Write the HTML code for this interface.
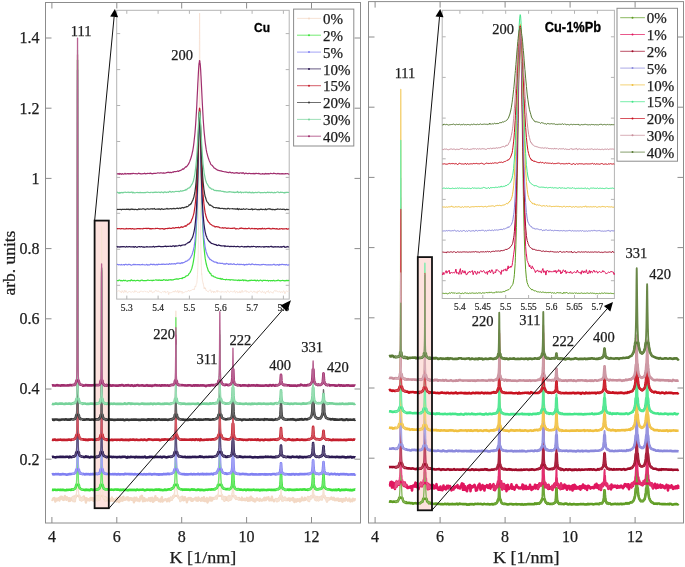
<!DOCTYPE html><html><head><meta charset="utf-8"><style>html,body{margin:0;padding:0;background:#fff;}svg{display:block;will-change:transform}</style></head><body>
<svg width="685" height="567" viewBox="0 0 685 567" font-family="Liberation Serif, serif">
<rect width="685" height="567" fill="#fff"/>
<rect x="94.6" y="220.6" width="14.2" height="287.6" fill="#fde2de"/>
<rect x="417.8" y="257.1" width="14.2" height="253.2" fill="#fde2de"/>
<rect x="45.5" y="2.5" width="315.0" height="520.5" fill="none" stroke="#8c8c8c" stroke-width="1"/>
<line x1="51.9" y1="523" x2="51.9" y2="517" stroke="#8c8c8c" stroke-width="1"/>
<line x1="51.9" y1="2.5" x2="51.9" y2="8.5" stroke="#8c8c8c" stroke-width="1"/>
<line x1="116.8" y1="523" x2="116.8" y2="517" stroke="#8c8c8c" stroke-width="1"/>
<line x1="116.8" y1="2.5" x2="116.8" y2="8.5" stroke="#8c8c8c" stroke-width="1"/>
<line x1="181.7" y1="523" x2="181.7" y2="517" stroke="#8c8c8c" stroke-width="1"/>
<line x1="181.7" y1="2.5" x2="181.7" y2="8.5" stroke="#8c8c8c" stroke-width="1"/>
<line x1="246.6" y1="523" x2="246.6" y2="517" stroke="#8c8c8c" stroke-width="1"/>
<line x1="246.6" y1="2.5" x2="246.6" y2="8.5" stroke="#8c8c8c" stroke-width="1"/>
<line x1="311.5" y1="523" x2="311.5" y2="517" stroke="#8c8c8c" stroke-width="1"/>
<line x1="311.5" y1="2.5" x2="311.5" y2="8.5" stroke="#8c8c8c" stroke-width="1"/>
<line x1="45.5" y1="38.0" x2="51.5" y2="38.0" stroke="#8c8c8c" stroke-width="1"/>
<line x1="360.5" y1="38.0" x2="354.5" y2="38.0" stroke="#8c8c8c" stroke-width="1"/>
<line x1="45.5" y1="108.2" x2="51.5" y2="108.2" stroke="#8c8c8c" stroke-width="1"/>
<line x1="360.5" y1="108.2" x2="354.5" y2="108.2" stroke="#8c8c8c" stroke-width="1"/>
<line x1="45.5" y1="178.4" x2="51.5" y2="178.4" stroke="#8c8c8c" stroke-width="1"/>
<line x1="360.5" y1="178.4" x2="354.5" y2="178.4" stroke="#8c8c8c" stroke-width="1"/>
<line x1="45.5" y1="248.6" x2="51.5" y2="248.6" stroke="#8c8c8c" stroke-width="1"/>
<line x1="360.5" y1="248.6" x2="354.5" y2="248.6" stroke="#8c8c8c" stroke-width="1"/>
<line x1="45.5" y1="318.8" x2="51.5" y2="318.8" stroke="#8c8c8c" stroke-width="1"/>
<line x1="360.5" y1="318.8" x2="354.5" y2="318.8" stroke="#8c8c8c" stroke-width="1"/>
<line x1="45.5" y1="389.0" x2="51.5" y2="389.0" stroke="#8c8c8c" stroke-width="1"/>
<line x1="360.5" y1="389.0" x2="354.5" y2="389.0" stroke="#8c8c8c" stroke-width="1"/>
<line x1="45.5" y1="459.2" x2="51.5" y2="459.2" stroke="#8c8c8c" stroke-width="1"/>
<line x1="360.5" y1="459.2" x2="354.5" y2="459.2" stroke="#8c8c8c" stroke-width="1"/>
<rect x="368.5" y="1.6" width="315.0" height="521.4" fill="none" stroke="#8c8c8c" stroke-width="1"/>
<line x1="375.1" y1="523" x2="375.1" y2="517" stroke="#8c8c8c" stroke-width="1"/>
<line x1="375.1" y1="1.6" x2="375.1" y2="7.6" stroke="#8c8c8c" stroke-width="1"/>
<line x1="440.1" y1="523" x2="440.1" y2="517" stroke="#8c8c8c" stroke-width="1"/>
<line x1="440.1" y1="1.6" x2="440.1" y2="7.6" stroke="#8c8c8c" stroke-width="1"/>
<line x1="505.1" y1="523" x2="505.1" y2="517" stroke="#8c8c8c" stroke-width="1"/>
<line x1="505.1" y1="1.6" x2="505.1" y2="7.6" stroke="#8c8c8c" stroke-width="1"/>
<line x1="570.1" y1="523" x2="570.1" y2="517" stroke="#8c8c8c" stroke-width="1"/>
<line x1="570.1" y1="1.6" x2="570.1" y2="7.6" stroke="#8c8c8c" stroke-width="1"/>
<line x1="635.1" y1="523" x2="635.1" y2="517" stroke="#8c8c8c" stroke-width="1"/>
<line x1="635.1" y1="1.6" x2="635.1" y2="7.6" stroke="#8c8c8c" stroke-width="1"/>
<line x1="368.5" y1="37.0" x2="374.5" y2="37.0" stroke="#8c8c8c" stroke-width="1"/>
<line x1="683.5" y1="37.0" x2="677.5" y2="37.0" stroke="#8c8c8c" stroke-width="1"/>
<line x1="368.5" y1="107.2" x2="374.5" y2="107.2" stroke="#8c8c8c" stroke-width="1"/>
<line x1="683.5" y1="107.2" x2="677.5" y2="107.2" stroke="#8c8c8c" stroke-width="1"/>
<line x1="368.5" y1="177.4" x2="374.5" y2="177.4" stroke="#8c8c8c" stroke-width="1"/>
<line x1="683.5" y1="177.4" x2="677.5" y2="177.4" stroke="#8c8c8c" stroke-width="1"/>
<line x1="368.5" y1="247.6" x2="374.5" y2="247.6" stroke="#8c8c8c" stroke-width="1"/>
<line x1="683.5" y1="247.6" x2="677.5" y2="247.6" stroke="#8c8c8c" stroke-width="1"/>
<line x1="368.5" y1="317.8" x2="374.5" y2="317.8" stroke="#8c8c8c" stroke-width="1"/>
<line x1="683.5" y1="317.8" x2="677.5" y2="317.8" stroke="#8c8c8c" stroke-width="1"/>
<line x1="368.5" y1="388.0" x2="374.5" y2="388.0" stroke="#8c8c8c" stroke-width="1"/>
<line x1="683.5" y1="388.0" x2="677.5" y2="388.0" stroke="#8c8c8c" stroke-width="1"/>
<line x1="368.5" y1="458.2" x2="374.5" y2="458.2" stroke="#8c8c8c" stroke-width="1"/>
<line x1="683.5" y1="458.2" x2="677.5" y2="458.2" stroke="#8c8c8c" stroke-width="1"/>
<path d="M51.9 499.58L52.4 500.03L52.9 499.17L53.4 498.25L53.9 498.9L54.4 498.09L54.9 499.67L55.4 501.58L55.9 498.84L56.4 498.65L56.9 500.3L57.4 500.1L57.9 499.73L58.4 498.18L58.9 499.52L59.4 500.6L59.9 497.57L60.4 498.88L60.9 496.74L61.4 497.65L61.9 496.83L62.4 499.21L62.9 497.68L63.4 499.95L63.9 499.78L64.4 499.26L64.9 495.85L65.4 498.74L65.9 499.45L66.4 499.69L66.9 497.26L67.4 498.8L67.9 498.06L68.4 498.3L68.9 501.03L69.4 498.27L69.9 499.39L70.4 500.71L70.9 498.54L71.4 499.19L71.9 499.47L72.4 499.35L72.53 497.45L72.9 499.29L73.4 501.06L73.53 496.79L73.9 500.18L74.4 498.88L74.53 497.69L74.9 501.26L75.03 499.32L75.4 495.98L75.53 497.58L75.9 497.3L75.94 496.05L76.24 495.85L76.4 495.85L76.53 495.85L76.74 495.85L76.9 495.85L76.94 495.85L77.03 495.85L77.14 495.85L77.24 495.85L77.33 495.85L77.39 495.85L77.4 495.85L77.44 495.85L77.49 495.85L77.53 495.85L77.58 495.85L77.64 495.85L77.69 495.85L77.74 495.85L77.83 495.85L77.9 495.85L77.94 495.85L78.03 495.85L78.14 495.85L78.33 495.85L78.4 495.85L78.53 495.85L78.83 495.85L78.9 495.85L79.14 496.04L79.4 495.85L79.53 497.44L79.9 497.41L80.03 499.89L80.4 499.47L80.53 498.58L80.9 499.78L81.4 498.5L81.53 500.55L81.9 499.11L82.4 500.04L82.53 497.37L82.9 499.77L83.4 496.89L83.9 496.43L84.4 498.94L84.9 498.11L85.4 499.66L85.9 502.65L86.4 498.26L86.9 498.56L87.4 499.75L87.9 500.17L88.4 499.22L88.9 499.18L89.4 500.47L89.9 500.21L90.4 498L90.9 499.35L91.4 499.51L91.9 497.96L92.4 499.82L92.9 498.22L93.4 500.8L93.9 499.68L94.4 499.52L94.9 498.53L95.4 499.16L95.9 496.47L96.4 497.64L96.61 499.72L96.9 496.16L97.4 500.26L97.61 496.55L97.9 499.99L98.4 497.52L98.61 499.68L98.9 498.55L99.11 496L99.4 499.54L99.61 499.43L99.9 496.57L100.01 495.88L100.31 495.85L100.4 495.85L100.61 495.85L100.81 495.85L100.9 495.85L101.01 495.85L101.11 495.85L101.21 495.85L101.31 495.85L101.4 495.85L101.41 495.85L101.46 495.85L101.51 495.85L101.56 495.85L101.61 495.85L101.66 495.85L101.71 495.85L101.76 495.85L101.81 495.85L101.9 495.85L101.91 495.85L102.01 495.85L102.11 495.85L102.21 495.85L102.4 495.85L102.41 495.85L102.61 495.85L102.9 495.85L102.91 495.85L103.21 497.29L103.4 496.85L103.61 497.5L103.9 496.85L104.11 498.8L104.4 497.68L104.61 498.39L104.9 497.21L105.4 497.26L105.61 500.88L105.9 498.38L106.4 499.59L106.61 499.17L106.9 498.65L107.4 498.61L107.9 500.23L108.4 498.97L108.9 499.2L109.4 499.47L109.9 501.08L110.4 500.41L110.9 500.01L111.4 498.71L111.9 497.59L112.4 500.82L112.9 500.85L113.4 499.33L113.9 500.27L114.4 500.6L114.9 500.68L115.4 500.8L115.9 498.92L116.4 501.62L116.9 497.84L117.4 500.73L117.9 500.23L118.4 500.75L118.9 502.12L119.4 501.58L119.9 498L120.4 497.26L120.9 500.67L121.4 498.18L121.9 499.55L122.4 500.71L122.9 497.33L123.4 496.7L123.9 499.92L124.4 499.63L124.9 499.24L125.4 499.62L125.9 498.41L126.4 497.53L126.9 499.35L127.4 498.26L127.9 497.36L128.4 500.25L128.9 499.49L129.4 500.12L129.9 498.24L130.4 498.69L130.9 498.23L131.4 498.39L131.9 499.84L132.4 498.53L132.9 500.05L133.4 500.03L133.9 502.28L134.4 497.72L134.9 500.76L135.4 499.46L135.9 499.56L136.4 497.64L136.9 498.96L137.4 500.56L137.9 499.47L138.4 499.68L138.9 499.19L139.4 501.1L139.9 499.55L140.4 496.66L140.9 498.66L141.4 496.97L141.9 495.85L142.4 498.87L142.9 501.33L143.4 499.63L143.9 498.03L144.4 498.33L144.9 501.06L145.4 499.78L145.9 499.63L146.4 499.5L146.9 499.62L147.4 500.62L147.9 500.29L148.4 499.85L148.9 498.2L149.4 500.23L149.9 498.67L150.4 500.99L150.9 497.91L151.4 499.38L151.9 499.55L152.4 497.84L152.9 501.79L153.4 501.45L153.9 498.95L154.4 500.55L154.9 500.04L155.4 496.17L155.9 499.87L156.4 499.47L156.9 499.65L157.4 498.15L157.9 499.19L158.4 499.3L158.9 501.06L159.4 499.96L159.9 499.52L160.4 501.48L160.9 498.8L161.4 499.01L161.9 497.18L162.4 501.5L162.9 500.72L163.4 500.65L163.9 500.33L164.4 499.6L164.9 499.73L165.4 499.12L165.9 499.16L166.4 499.47L166.9 501.3L167.4 500.06L167.9 499.25L168.4 498.56L168.9 498.45L169.4 501.22L169.9 499.77L170.4 499.13L170.86 498.5L170.9 497.53L171.4 498.7L171.86 499.69L171.9 498.08L172.4 497.98L172.86 497.58L172.9 497.96L173.36 495.85L173.4 496.79L173.86 495.85L173.9 496.93L174.26 495.85L174.4 495.85L174.56 495.85L174.86 495.85L174.9 495.85L175.06 495.85L175.26 495.85L175.36 495.85L175.4 495.85L175.46 495.85L175.56 495.85L175.66 495.85L175.71 495.85L175.76 495.85L175.81 495.85L175.86 495.85L175.9 495.85L175.91 495.85L175.96 495.85L176.01 495.85L176.06 495.85L176.16 495.85L176.26 495.85L176.36 495.85L176.4 495.85L176.46 495.85L176.66 495.85L176.86 495.85L176.9 495.85L177.16 495.85L177.4 495.85L177.46 495.85L177.86 496.32L177.9 495.85L178.36 497.43L178.4 497.6L178.86 497.49L178.9 497.85L179.4 498.58L179.86 498.48L179.9 499.23L180.4 501.13L180.86 499.67L180.9 499.02L181.4 496.96L181.9 499.62L182.4 496.79L182.9 497.51L183.4 500.35L183.9 500.2L184.4 499.17L184.9 497.27L185.4 498.94L185.9 498.58L186.4 500.21L186.9 502.22L187.4 499.72L187.9 498.5L188.4 498.03L188.9 499.41L189.4 499.26L189.9 498.08L190.4 499.63L190.9 498.09L191.4 500.86L191.9 500.8L192.4 500.83L192.9 498.93L193.4 500.14L193.9 499.35L194.4 499.04L194.9 499.1L195.4 497.94L195.9 497.76L196.4 500.48L196.9 499.28L197.4 499.78L197.9 500.72L198.4 497.42L198.9 498.57L199.4 499.72L199.9 499.98L200.4 499.05L200.9 500.74L201.4 499.76L201.9 498.04L202.4 498.38L202.9 500.46L203.4 500.05L203.9 497.21L204.4 501.09L204.9 500.19L205.4 501.07L205.9 499.01L206.4 499.1L206.9 498.11L207.4 502.45L207.9 499.22L208.4 501.3L208.9 498.63L209.4 499.58L209.9 497.38L210.4 498.89L210.9 500.48L211.4 497.81L211.9 500.51L212.4 499.6L212.9 497.92L213.4 498.49L213.9 498.46L214.4 498.83L214.83 498.15L214.9 497.78L215.4 498.21L215.83 497.15L215.9 496.8L216.4 497.89L216.83 498.53L216.9 495.85L217.33 496.69L217.4 495.85L217.83 495.85L217.9 496.06L218.23 495.85L218.4 495.85L218.53 495.85L218.83 495.85L218.9 495.85L219.03 495.85L219.23 495.85L219.33 495.85L219.4 495.85L219.43 495.85L219.53 495.85L219.63 495.85L219.68 495.85L219.73 495.85L219.78 495.85L219.83 495.85L219.88 495.85L219.9 495.85L219.93 495.85L219.98 495.85L220.03 495.85L220.13 495.85L220.23 495.85L220.33 495.85L220.4 495.85L220.43 495.85L220.63 495.85L220.83 495.85L220.9 495.85L221.13 495.85L221.4 495.85L221.43 495.85L221.83 495.85L221.9 495.85L222.33 495.85L222.4 498.95L222.83 497.08L222.9 497.82L223.4 497.98L223.83 498.48L223.9 498.39L224.4 500.75L224.83 497.49L224.9 496.91L225.4 497.65L225.9 497.36L226.4 499.81L226.9 499.93L227.4 497.89L227.9 497.39L227.97 498.58L228.4 500.55L228.9 495.85L228.97 499.49L229.4 497.57L229.9 499.83L229.97 497.38L230.4 498.06L230.47 496.62L230.9 496.83L230.97 499.45L231.37 498.16L231.4 496.7L231.67 495.85L231.9 495.85L231.97 495.85L232.17 495.85L232.37 495.85L232.4 495.85L232.47 495.85L232.57 495.85L232.67 495.85L232.77 495.85L232.82 495.85L232.87 495.85L232.9 495.85L232.92 495.85L232.97 495.85L233.02 495.85L233.07 495.85L233.12 495.85L233.17 495.85L233.27 495.85L233.37 495.85L233.4 495.85L233.47 495.85L233.57 495.85L233.77 495.85L233.9 495.85L233.97 495.85L234.27 496.47L234.4 495.85L234.57 497.35L234.9 496.32L234.97 497.24L235.4 498.04L235.47 496.08L235.9 498.8L235.97 498.9L236.4 498.72L236.9 498.56L236.97 498.64L237.4 498.04L237.9 498.91L237.97 498.6L238.4 499.38L238.9 497.96L239.4 499.62L239.9 499.54L240.4 499.24L240.9 498.93L241.4 500.06L241.9 497.59L242.4 499.98L242.9 499.74L243.4 499.8L243.9 499.92L244.4 498.77L244.9 499.21L245.4 500.22L245.9 499.99L246.4 499.75L246.9 497.84L247.4 500.12L247.9 500.82L248.4 500.65L248.9 499.79L249.4 497.81L249.9 500.58L250.4 499.38L250.9 496.75L251.4 499.96L251.9 497.9L252.4 498.12L252.9 498.85L253.4 500.95L253.9 499.14L254.4 499.85L254.9 501.47L255.4 501.3L255.9 499.44L256.4 499.29L256.9 498.18L257.4 498.8L257.9 500.02L258.4 499.99L258.9 499.68L259.4 500.64L259.9 498.72L260.4 499.5L260.9 500.35L261.4 500.19L261.9 500.72L262.4 499.99L262.9 499.23L263.4 499.95L263.9 498.48L264.4 497.79L264.9 500.18L265.4 499.5L265.9 499.89L266.4 497.74L266.9 499.16L267.4 498.91L267.9 498.63L268.4 497.14L268.9 499.19L269.4 500.5L269.9 499.95L270.4 498.9L270.9 499.52L271.4 500.33L271.9 496.6L272.4 499.39L272.9 500.09L273.4 500.23L273.9 501.29L274.4 500.68L274.9 499.8L275.4 499.77L275.9 500.25L276 498.85L276.4 499.35L276.9 500.3L277 501.39L277.4 499.12L277.9 499.16L278 499.4L278.4 500.5L278.5 499.03L278.9 500.45L279 497.86L279.4 498.42L279.4 498.41L279.7 499.15L279.9 499.13L280 496.27L280.2 496.37L280.4 496.79L280.4 495.85L280.5 495.85L280.6 495.96L280.7 495.85L280.8 495.85L280.85 495.85L280.9 495.85L280.9 495.85L280.95 495.85L281 495.85L281.05 495.85L281.1 495.85L281.15 495.85L281.2 495.85L281.3 495.85L281.4 495.85L281.4 495.85L281.5 495.85L281.6 497.39L281.8 496.66L281.9 497.17L282 499.11L282.3 500.65L282.4 500.52L282.6 498.68L282.9 499.04L283 500.46L283.4 498.9L283.5 498.05L283.9 499.29L284 499.66L284.4 498.4L284.9 497.62L285 497.85L285.4 500.06L285.9 498.63L286 499.27L286.4 499.65L286.9 500.09L287.4 499.13L287.9 500L288.4 498.58L288.9 499.13L289.4 498.46L289.9 500.67L290.4 499.49L290.9 498.77L291.4 499.17L291.9 499.3L292.4 500.25L292.9 497.91L293.4 498.48L293.9 499.15L294.4 502.11L294.9 500.5L295.4 499.42L295.9 500.26L296.4 501.61L296.9 499.3L297.4 499.16L297.9 500.75L298.4 500.03L298.9 500.2L299.4 499.01L299.9 501.45L300.4 501.23L300.9 500.08L301.4 500.19L301.9 497.47L302.4 500.13L302.9 499.29L303.4 499.91L303.9 500.15L304.4 499.12L304.9 497.76L305.4 499.79L305.9 498.67L306.4 499.06L306.9 498.75L307.4 498.98L307.9 496.99L308.12 500.45L308.4 499.46L308.9 500.23L309.12 501.04L309.4 499.05L309.9 497.11L310.12 497.93L310.4 497.5L310.62 498.07L310.9 498.46L311.12 496.22L311.4 498.22L311.52 496.24L311.82 497.46L311.9 496.87L312.12 495.96L312.32 495.85L312.4 495.85L312.52 495.85L312.62 495.85L312.72 495.85L312.82 495.85L312.9 495.85L312.92 495.85L312.97 495.85L313.02 495.85L313.07 495.85L313.12 495.85L313.17 495.85L313.22 495.85L313.27 495.85L313.32 495.85L313.4 495.85L313.42 495.85L313.52 495.85L313.62 495.85L313.72 495.85L313.9 495.85L313.92 495.85L314.12 496.94L314.4 496L314.42 496.94L314.72 498.57L314.9 498.17L315.12 498.26L315.4 499.87L315.62 497.84L315.9 498.72L316.12 498.22L316.4 500.26L316.9 497.03L317.12 498.32L317.4 498.49L317.9 499.69L318.12 499.64L318.4 500.41L318.51 497.54L318.9 499.78L319.4 498.74L319.51 498.37L319.9 499.49L320.4 497.98L320.51 496.84L320.9 498.35L321.01 497.23L321.4 497.84L321.51 498.75L321.9 498.34L321.91 499.55L322.21 497.41L322.4 495.85L322.51 496.18L322.71 495.85L322.9 495.85L322.91 495.85L323.01 495.85L323.11 495.85L323.21 495.85L323.31 495.85L323.36 495.85L323.4 495.85L323.41 495.85L323.46 495.85L323.51 495.85L323.56 495.85L323.61 495.85L323.66 495.85L323.71 495.85L323.81 495.85L323.9 495.85L323.91 495.85L324.01 495.85L324.11 496.42L324.31 496.24L324.4 495.85L324.51 495.85L324.81 497.37L324.9 497.71L325.11 497.39L325.4 498.46L325.51 497.84L325.9 499.22L326.01 498.06L326.4 498.87L326.51 499.87L326.9 501.5L327.4 498.2L327.51 498.73L327.9 498.44L328.4 500.03L328.51 498.22L328.9 498.88L329.4 499.34L329.9 498.48L330.4 498.52L330.9 499L331.4 497.48L331.9 498.11L332.4 499.1L332.9 499.63L333.4 499.33L333.9 497.85L334.4 499.08L334.9 500.27L335.4 500.05L335.9 499.46L336.4 498.71L336.9 500.13L337.4 499.01L337.9 498.46L338.4 498.81L338.9 500.89L339.4 499.76L339.9 500.63L340.4 499.12L340.9 500.43L341.4 499.01L341.9 499.42L342.4 501.85L342.9 500.27L343.4 499.11L343.9 499.49L344.4 499.87L344.9 500.68L345.4 499.13L345.9 497.99L346.4 499.32L346.9 499.59L347.4 499.68L347.9 500.77L348.4 499.87L348.9 500.32L349.4 498.58L349.9 500.36L350.4 501.47L350.9 500.28L351.4 499.81L351.9 499.72L352.4 501.19L352.9 498.75L353.4 499.48L353.9 500L354.4 500.25L354.9 499.19L355.2 499.86" fill="none" stroke="#f3d8c4" stroke-width="2.4" stroke-linejoin="round"/>
<path d="M169.9 499.77L170.4 499.13L170.86 498.5L170.9 497.53L171.4 498.7L171.86 499.69L171.9 498.08L172.4 497.98L172.86 497.58L172.9 497.96L173.36 495.16L173.4 496.79L173.86 494.88L173.9 496.93L174.26 493.25L174.4 494.04L174.56 493.91L174.86 487.68L174.9 486.55L175.06 483.66L175.26 474.93L175.36 466.34L175.4 464.07L175.46 458.5L175.56 435.99L175.66 401.46L175.71 375.37L175.76 348.52L175.81 321.4L175.86 311.1L175.9 321.27L175.91 321.83L175.96 349.48L176.01 378.59L176.06 402.04L176.16 437L176.26 458.41L176.36 467.34L176.4 470.23L176.46 473.24L176.66 483.48L176.86 489.92L176.9 489.97L177.16 490.82L177.4 492.8L177.46 493.59L177.86 496.32L177.9 495.82L178.36 497.43L178.4 497.6L178.86 497.49L178.9 497.85L179.4 498.58L179.86 498.48L179.9 499.23L180.4 501.13L180.86 499.67L180.9 499.02L181.4 496.96M213.9 498.46L214.4 498.83L214.83 498.15L214.9 497.78L215.4 498.21L215.83 497.15L215.9 496.8L216.4 497.89L216.83 498.53L216.9 495.61L217.33 496.69L217.4 495.78L217.83 494.18L217.9 496.06L218.23 492.83L218.4 493.98L218.53 490.17L218.83 487.47L218.9 485.35L219.03 481.43L219.23 474.53L219.33 466.5L219.4 460.12L219.43 455.67L219.53 437.02L219.63 410.68L219.68 393.23L219.73 376.14L219.78 359.5L219.83 354.9L219.88 358.66L219.9 366.74L219.93 373.94L219.98 391.24L220.03 410.9L220.13 439.67L220.23 454.01L220.33 465.45L220.4 471.21L220.43 472.55L220.63 482.76L220.83 486.08L220.9 487.37L221.13 491.74L221.4 492.36L221.43 493.92L221.83 494.17L221.9 494.14L222.33 494.53L222.4 498.95L222.83 497.08L222.9 497.82L223.4 497.98L223.83 498.48L223.9 498.39L224.4 500.75L224.83 497.49L224.9 496.91L225.4 497.65M227.4 497.89L227.9 497.39L227.97 498.58L228.4 500.55L228.9 495.67L228.97 499.49L229.4 497.57L229.9 499.83L229.97 497.38L230.4 498.06L230.47 496.62L230.9 496.83L230.97 499.45L231.37 498.16L231.4 496.7L231.67 495.44L231.9 493.34L231.97 494.66L232.17 493.59L232.37 490.91L232.4 490.35L232.47 487.57L232.57 485.54L232.67 480.6L232.77 474.69L232.82 470.83L232.87 464.08L232.9 461.16L232.92 460.72L232.97 458.78L233.02 459.95L233.07 464.17L233.12 467.52L233.17 473.92L233.27 480.54L233.37 485.91L233.4 486.5L233.47 488.03L233.57 489.95L233.77 493.38L233.9 494.07L233.97 495.41L234.27 496.47L234.4 495.32L234.57 497.35L234.9 496.32L234.97 497.24L235.4 498.04L235.47 496.08L235.9 498.8L235.97 498.9L236.4 498.72L236.9 498.56L236.97 498.64L237.4 498.04L237.9 498.91L237.97 498.6L238.4 499.38L238.9 497.96M275.4 499.77L275.9 500.25L276 498.85L276.4 499.35L276.9 500.3L277 501.39L277.4 499.12L277.9 499.16L278 499.4L278.4 500.5L278.5 499.03L278.9 500.45L279 497.86L279.4 498.42L279.4 498.41L279.7 499.15L279.9 499.13L280 496.27L280.2 496.37L280.4 496.79L280.4 495.74L280.5 494.18L280.6 495.96L280.7 494.22L280.8 492.86L280.85 491.18L280.9 492.18L280.9 490.82L280.95 491.86L281 489.63L281.05 489.83L281.1 491.32L281.15 490.94L281.2 493.05L281.3 493.98L281.4 493.91L281.4 494.98L281.5 495.4L281.6 497.39L281.8 496.66L281.9 497.17L282 499.11L282.3 500.65L282.4 500.52L282.6 498.68L282.9 499.04L283 500.46L283.4 498.9L283.5 498.05L283.9 499.29L284 499.66L284.4 498.4L284.9 497.62L285 497.85L285.4 500.06L285.9 498.63L286 499.27L286.4 499.65L286.9 500.09M307.4 498.98L307.9 496.99L308.12 500.45L308.4 499.46L308.9 500.23L309.12 501.04L309.4 499.05L309.9 497.11L310.12 497.93L310.4 497.5L310.62 498.07L310.9 498.46L311.12 496.22L311.4 498.22L311.52 496.24L311.82 497.46L311.9 496.87L312.12 495.96L312.32 495.21L312.4 494.21L312.52 493.04L312.62 490.75L312.72 490.75L312.82 490.57L312.9 488.89L312.92 487.71L312.97 485.99L313.02 483.72L313.07 485.16L313.12 483.47L313.17 483.69L313.22 484.1L313.27 485.39L313.32 485.98L313.4 488.15L313.42 487.69L313.52 490.41L313.62 494.63L313.72 493.56L313.9 494.88L313.92 495.78L314.12 496.94L314.4 496L314.42 496.94L314.72 498.57L314.9 498.17L315.12 498.26L315.4 499.87L315.62 497.84L315.9 498.72L316.12 498.22L316.4 500.26L316.9 497.03L317.12 498.32L317.4 498.49L317.9 499.69L318.12 499.64L318.4 500.41L318.51 497.54L318.9 499.78M317.9 499.69L318.12 499.64L318.4 500.41L318.51 497.54L318.9 499.78L319.4 498.74L319.51 498.37L319.9 499.49L320.4 497.98L320.51 496.84L320.9 498.35L321.01 497.23L321.4 497.84L321.51 498.75L321.9 498.34L321.91 499.55L322.21 497.41L322.4 495.73L322.51 496.18L322.71 495.24L322.9 493.73L322.91 495.27L323.01 493.29L323.11 490.8L323.21 491.86L323.31 489.42L323.36 489.09L323.4 488.27L323.41 488.71L323.46 487.71L323.51 488.7L323.56 488.07L323.61 488.47L323.66 489.13L323.71 488.12L323.81 491.03L323.9 492.36L323.91 492.89L324.01 492.61L324.11 496.42L324.31 496.24L324.4 495.4L324.51 495.3L324.81 497.37L324.9 497.71L325.11 497.39L325.4 498.46L325.51 497.84L325.9 499.22L326.01 498.06L326.4 498.87L326.51 499.87L326.9 501.5L327.4 498.2L327.51 498.73L327.9 498.44L328.4 500.03L328.51 498.22L328.9 498.88L329.4 499.34" fill="none" stroke="#f6e2d3" stroke-width="1.35" stroke-linejoin="round"/>
<path d="M71.9 499.47L72.4 499.35L72.53 497.45L72.9 499.29L73.4 501.06L73.53 496.79L73.9 500.18L74.4 498.88L74.53 497.69L74.9 501.26L75.03 499.32L75.4 495.98L75.53 497.58L75.9 497.3L75.94 496.05L76.24 495.74L76.4 493.26L76.53 492.69L76.74 489.87L76.9 480.92L76.94 480.31L77.03 472.26L77.14 461.03L77.24 435.78L77.33 385.51L77.39 335.58L77.4 316.65L77.44 255.4L77.49 146.49L77.53 88.84L77.58 149.34L77.64 250.85L77.69 335.19L77.74 386.21L77.83 439.32L77.9 455.34L77.94 460.37L78.03 472.3L78.14 479.65L78.33 489.99L78.4 488.71L78.53 491.27L78.83 495.26L78.9 495L79.14 496.04L79.4 495.54L79.53 497.44L79.9 497.41L80.03 499.89L80.4 499.47L80.53 498.58L80.9 499.78L81.4 498.5L81.53 500.55L81.9 499.11L82.4 500.04L82.53 497.37L82.9 499.77L83.4 496.89M95.9 496.47L96.4 497.64L96.61 499.72L96.9 496.16L97.4 500.26L97.61 496.55L97.9 499.99L98.4 497.52L98.61 499.68L98.9 498.55L99.11 496L99.4 499.54L99.61 499.43L99.9 496.57L100.01 495.88L100.31 494.5L100.4 492.71L100.61 493.37L100.81 487.45L100.9 485.73L101.01 480.17L101.11 474.16L101.21 462.91L101.31 447.39L101.4 412.54L101.41 406.89L101.46 369.36L101.51 316.45L101.56 257.52L101.61 226.9L101.66 257.14L101.71 315.95L101.76 368.22L101.81 403.14L101.9 440.65L101.91 447.73L102.01 463.65L102.11 473.5L102.21 481.71L102.4 489.85L102.41 486.16L102.61 491.53L102.9 493.75L102.91 492.26L103.21 497.29L103.4 496.85L103.61 497.5L103.9 496.85L104.11 498.8L104.4 497.68L104.61 498.39L104.9 497.21L105.4 497.26L105.61 500.88L105.9 498.38L106.4 499.59L106.61 499.17L106.9 498.65L107.4 498.61" fill="none" stroke="#f6e2d3" stroke-width="1.3" stroke-linejoin="round"/>
<path d="M51.9 489.83L52.9 489.9L53.9 489.85L54.9 489.65L55.9 489.87L56.9 490.05L57.9 489.68L58.9 489.82L59.9 490L60.9 489.65L61.9 489.89L62.9 489.64L63.9 490.07L64.9 490.3L65.9 490.23L66.9 489.77L67.9 489.94L68.9 489.79L69.9 489.75L70.9 489.99L71.9 489.34L72.53 489.73L72.9 489.45L73.53 489.6L73.9 489.24L74.53 488.75L74.9 488.65L75.03 488.6L75.53 487.67L75.9 486.71L75.94 486.36L76.24 484.9L76.53 484.9L76.74 484.9L76.9 484.9L76.94 484.9L77.03 484.9L77.14 484.9L77.24 484.9L77.33 484.9L77.39 484.9L77.44 484.9L77.49 484.9L77.53 484.9L77.58 484.9L77.64 484.9L77.69 484.9L77.74 484.9L77.83 484.9L77.9 484.9L77.94 484.9L78.03 484.9L78.14 484.9L78.33 484.9L78.53 484.9L78.83 484.9L78.9 485.25L79.14 486.36L79.53 487.56L79.9 488.29L80.03 488.45L80.53 488.76L80.9 488.99L81.53 489.53L81.9 489.44L82.53 489.69L82.9 489.8L83.9 489.76L84.9 490.16L85.9 489.57L86.9 489.92L87.9 489.71L88.9 490.15L89.9 490.12L90.9 489.39L91.9 489.58L92.9 489.89L93.9 489.89L94.9 489.85L95.9 489.63L96.61 489.66L96.9 489.67L97.61 489.4L97.9 489.54L98.61 488.61L98.9 489.01L99.11 488.51L99.61 488.29L99.9 487.45L100.01 487L100.31 485.99L100.61 484.9L100.81 484.9L100.9 484.9L101.01 484.9L101.11 484.9L101.21 484.9L101.31 484.9L101.41 484.9L101.46 484.9L101.51 484.9L101.56 484.9L101.61 484.9L101.66 484.9L101.71 484.9L101.76 484.9L101.81 484.9L101.9 484.9L101.91 484.9L102.01 484.9L102.11 484.9L102.21 484.9L102.41 484.9L102.61 484.9L102.9 485.76L102.91 486.32L103.21 487.25L103.61 488.46L103.9 488.7L104.11 488.59L104.61 488.99L104.9 489.29L105.61 489.43L105.9 489.49L106.61 489.53L106.9 489.26L107.9 489.65L108.9 489.3L109.9 489.85L110.9 489.65L111.9 489.67L112.9 489.78L113.9 489.89L114.9 489.56L115.9 489.5L116.9 489.64L117.9 489.45L118.9 489.67L119.9 490.18L120.9 489.66L121.9 490L122.9 489.6L123.9 489.93L124.9 489.81L125.9 489.86L126.9 489.99L127.9 490.23L128.9 489.91L129.9 489.9L130.9 489.68L131.9 489.99L132.9 489.83L133.9 490.04L134.9 489.87L135.9 490.23L136.9 489.48L137.9 489.82L138.9 490.05L139.9 489.81L140.9 489.72L141.9 489.82L142.9 489.6L143.9 489.9L144.9 490.36L145.9 490.1L146.9 489.65L147.9 489.69L148.9 489.79L149.9 490.07L150.9 489.7L151.9 489.72L152.9 490.04L153.9 490.03L154.9 489.78L155.9 489.63L156.9 489.54L157.9 489.7L158.9 489.39L159.9 489.98L160.9 489.69L161.9 489.91L162.9 490.17L163.9 490.02L164.9 489.53L165.9 489.91L166.9 489.93L167.9 489.5L168.9 489.39L169.9 489.44L170.86 488.97L170.9 489.58L171.86 488.49L171.9 488.73L172.86 488.25L172.9 488.22L173.36 487.69L173.86 486.6L173.9 486.38L174.26 485.18L174.56 484.9L174.86 484.9L174.9 484.9L175.06 484.9L175.26 484.9L175.36 484.9L175.46 484.9L175.56 484.9L175.66 484.9L175.71 484.9L175.76 484.9L175.81 484.9L175.86 484.9L175.9 484.9L175.91 484.9L175.96 484.9L176.01 484.9L176.06 484.9L176.16 484.9L176.26 484.9L176.36 484.9L176.46 484.9L176.66 484.9L176.86 484.9L176.9 484.9L177.16 484.9L177.46 484.9L177.86 486.51L177.9 486.87L178.36 487.73L178.86 488.4L178.9 488.41L179.86 488.98L179.9 488.96L180.86 489.23L180.9 489.45L181.9 489.25L182.9 489.84L183.9 489.65L184.9 489.54L185.9 489.63L186.9 489.61L187.9 489.8L188.9 489.64L189.9 490.02L190.9 489.64L191.9 489.35L192.9 489.67L193.9 489.41L194.9 489.81L195.9 490.03L196.9 489.95L197.9 489.55L198.9 489.66L199.9 490.17L200.9 489.87L201.9 489.8L202.9 490.01L203.9 490.28L204.9 490.04L205.9 489.79L206.9 489.82L207.9 489.85L208.9 489.58L209.9 489.45L210.9 489.63L211.9 489.36L212.9 489.44L213.9 489.32L214.83 489.54L214.9 488.88L215.83 488.63L215.9 488.58L216.83 487.88L216.9 487.91L217.33 486.88L217.83 485.45L217.9 485.02L218.23 484.9L218.53 484.9L218.83 484.9L218.9 484.9L219.03 484.9L219.23 484.9L219.33 484.9L219.43 484.9L219.53 484.9L219.63 484.9L219.68 484.9L219.73 484.9L219.78 484.9L219.83 484.9L219.88 484.9L219.9 484.9L219.93 484.9L219.98 484.9L220.03 484.9L220.13 484.9L220.23 484.9L220.33 484.9L220.43 484.9L220.63 484.9L220.83 484.9L220.9 484.9L221.13 484.9L221.43 484.9L221.83 485.78L221.9 486.07L222.33 487.17L222.83 488.02L222.9 487.8L223.83 488.55L223.9 488.79L224.83 488.71L224.9 489.05L225.9 489.09L226.9 489.21L227.9 488.94L227.97 489.11L228.9 489.19L228.97 489.36L229.9 489.14L229.97 488.9L230.47 488.6L230.9 488.08L230.97 488.24L231.37 487.47L231.67 486.85L231.9 486.15L231.97 485.4L232.17 483.62L232.37 481.13L232.47 478.85L232.57 475.67L232.67 473.9L232.77 473.9L232.82 473.9L232.87 473.9L232.9 473.9L232.92 473.9L232.97 473.9L233.02 473.9L233.07 473.9L233.12 473.9L233.17 473.9L233.27 473.9L233.37 476.16L233.47 479.43L233.57 481.46L233.77 483.64L233.9 484.97L233.97 485.51L234.27 486.7L234.57 487.76L234.9 488.07L234.97 488.05L235.47 489.02L235.9 489.13L235.97 489.07L236.9 489.53L236.97 489.57L237.9 489.58L237.97 489.03L238.9 489.48L239.9 489.59L240.9 489.52L241.9 489.79L242.9 490.01L243.9 489.69L244.9 489.57L245.9 490.22L246.9 489.73L247.9 489.58L248.9 489.88L249.9 489.92L250.9 489.7L251.9 490L252.9 489.75L253.9 489.66L254.9 489.88L255.9 490L256.9 489.72L257.9 489.92L258.9 489.83L259.9 490.42L260.9 489.71L261.9 490.13L262.9 489.84L263.9 489.82L264.9 489.99L265.9 490.02L266.9 490.09L267.9 489.9L268.9 489.71L269.9 489.71L270.9 489.91L271.9 489.91L272.9 490.05L273.9 489.82L274.9 489.9L275.9 489.92L276 489.64L276.9 489.2L277 489.24L277.9 488.98L278 489.55L278.5 488.85L278.9 489.02L279 488.81L279.4 488.62L279.7 487.99L279.9 487.28L280 486.96L280.2 486.13L280.4 484.68L280.5 483.42L280.6 482.03L280.7 480.42L280.8 477.48L280.85 476.76L280.9 475.57L280.9 475.74L280.95 475.27L281 474.86L281.05 475.26L281.1 475.44L281.15 476.93L281.2 477.7L281.3 480.22L281.4 482.07L281.5 483.01L281.6 484.49L281.8 486.16L281.9 486.93L282 487.05L282.3 487.84L282.6 487.99L282.9 488.89L283 489.05L283.5 489.03L283.9 489.15L284 488.91L284.9 489.63L285 490.02L285.9 489.74L286 489.86L286.9 489.78L287.9 489.53L288.9 490.02L289.9 489.53L290.9 489.75L291.9 489.86L292.9 489.98L293.9 489.9L294.9 489.89L295.9 489.66L296.9 489.56L297.9 489.82L298.9 489.67L299.9 489.54L300.9 489.54L301.9 489.68L302.9 489.4L303.9 489.48L304.9 489.39L305.9 489.71L306.9 489.7L307.9 489.92L308.12 489.2L308.9 489.23L309.12 489.5L309.9 489.05L310.12 488.93L310.62 489.07L310.9 488.45L311.12 488.07L311.52 487.51L311.82 487.23L311.9 487.01L312.12 485.87L312.32 484.83L312.52 483.29L312.62 481.91L312.72 479.84L312.82 477.82L312.9 475.77L312.92 474.7L312.97 473.9L313.02 473.9L313.07 473.9L313.12 473.9L313.17 473.9L313.22 473.9L313.27 474.12L313.32 474.61L313.42 478.21L313.52 479.73L313.62 481.98L313.72 483.41L313.9 485.04L313.92 485.04L314.12 485.89L314.42 487.24L314.72 487.58L314.9 487.48L315.12 488.81L315.62 488.79L315.9 489.16L316.12 488.71L316.9 489.42L317.12 489.48L317.9 489.56L318.12 489.26L318.51 489.02L318.9 489.22L319.51 488.75L319.9 488.79L320.51 488.99L320.9 488.61L321.01 488.72L321.51 488.38L321.9 488.35L321.91 488.21L322.21 487.41L322.51 486.78L322.71 485.41L322.9 483.97L322.91 484.15L323.01 482.55L323.11 481.22L323.21 479.14L323.31 477.34L323.36 476.67L323.41 475.39L323.46 475.04L323.51 474.62L323.56 474.76L323.61 475.28L323.66 476.62L323.71 477.78L323.81 479.49L323.9 481.03L323.91 481.42L324.01 482.73L324.11 484.14L324.31 485.64L324.51 486.63L324.81 487.58L324.9 487.54L325.11 487.92L325.51 488.13L325.9 488.69L326.01 488.56L326.51 489.06L326.9 489.03L327.51 489.4L327.9 489.54L328.51 489.25L328.9 489.41L329.9 489.47L330.9 489.86L331.9 490.09L332.9 489.94L333.9 489.72L334.9 490.1L335.9 489.52L336.9 490.13L337.9 489.7L338.9 489.29L339.9 490.38L340.9 490.17L341.9 489.65L342.9 489.89L343.9 489.82L344.9 489.89L345.9 489.57L346.9 489.73L347.9 489.97L348.9 489.92L349.9 490.12L350.9 489.89L351.9 490.35L352.9 489.74L353.9 489.93L354.9 489.5L355.2 489.63" fill="none" stroke="#3ee23c" stroke-width="2.6" stroke-linejoin="round"/>
<path d="M169.9 489.44L170.86 488.97L170.9 489.58L171.86 488.49L171.9 488.73L172.86 488.25L172.9 488.22L173.36 487.69L173.86 486.6L173.9 486.38L174.26 485.18L174.56 482.48L174.86 479.31L174.9 478.46L175.06 475.06L175.26 467.28L175.36 460.3L175.46 449.68L175.56 431.91L175.66 400.04L175.71 376.83L175.76 351.14L175.81 328.07L175.86 317.69L175.9 324.64L175.91 328.11L175.96 350.89L176.01 377.01L176.06 399.92L176.16 431.64L176.26 449.77L176.36 460.37L176.46 467.38L176.66 474.96L176.86 479.22L176.9 479.7L177.16 482.9L177.46 484.78L177.86 486.51L177.9 486.87L178.36 487.73L178.86 488.4L178.9 488.41L179.86 488.98L179.9 488.96L180.86 489.23L180.9 489.45M213.9 489.32L214.83 489.54L214.9 488.88L215.83 488.63L215.9 488.58L216.83 487.88L216.9 487.91L217.33 486.88L217.83 485.45L217.9 485.02L218.23 483.54L218.53 481.46L218.83 477.3L218.9 475.68L219.03 472.5L219.23 464.09L219.33 457.01L219.43 445.81L219.53 428.4L219.63 400.55L219.68 383.01L219.73 365.39L219.78 350.13L219.83 344.87L219.88 350.72L219.9 355.93L219.93 365.07L219.98 383.41L220.03 401.08L220.13 428.54L220.23 445.62L220.33 456.92L220.43 463.94L220.63 472.47L220.83 477.34L220.9 478.61L221.13 481.52L221.43 483.6L221.83 485.78L221.9 486.07L222.33 487.17L222.83 488.02L222.9 487.8L223.83 488.55L223.9 488.79L224.83 488.71L224.9 489.05M227.9 488.94L227.97 489.11L228.9 489.19L228.97 489.36L229.9 489.14L229.97 488.9L230.47 488.6L230.9 488.08L230.97 488.24L231.37 487.47L231.67 486.85L231.9 486.15L231.97 485.4L232.17 483.62L232.37 481.13L232.47 478.85L232.57 475.67L232.67 471.2L232.77 463.57L232.82 458.7L232.87 454.66L232.9 452.59L232.92 451.02L232.97 449.64L233.02 451.02L233.07 454.59L233.12 459.13L233.17 463.77L233.27 471.2L233.37 476.16L233.47 479.43L233.57 481.46L233.77 483.64L233.9 484.97L233.97 485.51L234.27 486.7L234.57 487.76L234.9 488.07L234.97 488.05L235.47 489.02L235.9 489.13L235.97 489.07L236.9 489.53L236.97 489.57L237.9 489.58L237.97 489.03L238.9 489.48M275.9 489.92L276 489.64L276.9 489.2L277 489.24L277.9 488.98L278 489.55L278.5 488.85L278.9 489.02L279 488.81L279.4 488.62L279.7 487.99L279.9 487.28L280 486.96L280.2 486.13L280.4 484.68L280.5 483.42L280.6 482.03L280.7 480.42L280.8 477.48L280.85 476.76L280.9 475.57L280.9 475.74L280.95 475.27L281 474.86L281.05 475.26L281.1 475.44L281.15 476.93L281.2 477.7L281.3 480.22L281.4 482.07L281.5 483.01L281.6 484.49L281.8 486.16L281.9 486.93L282 487.05L282.3 487.84L282.6 487.99L282.9 488.89L283 489.05L283.5 489.03L283.9 489.15L284 488.91L284.9 489.63L285 490.02L285.9 489.74L286 489.86L286.9 489.78M307.9 489.92L308.12 489.2L308.9 489.23L309.12 489.5L309.9 489.05L310.12 488.93L310.62 489.07L310.9 488.45L311.12 488.07L311.52 487.51L311.82 487.23L311.9 487.01L312.12 485.87L312.32 484.83L312.52 483.29L312.62 481.91L312.72 479.84L312.82 477.82L312.9 475.77L312.92 474.7L312.97 473.74L313.02 472.86L313.07 471.95L313.12 471.38L313.17 472.01L313.22 472.92L313.27 474.12L313.32 474.61L313.42 478.21L313.52 479.73L313.62 481.98L313.72 483.41L313.9 485.04L313.92 485.04L314.12 485.89L314.42 487.24L314.72 487.58L314.9 487.48L315.12 488.81L315.62 488.79L315.9 489.16L316.12 488.71L316.9 489.42L317.12 489.48L317.9 489.56L318.12 489.26L318.51 489.02L318.9 489.22M317.9 489.56L318.12 489.26L318.51 489.02L318.9 489.22L319.51 488.75L319.9 488.79L320.51 488.99L320.9 488.61L321.01 488.72L321.51 488.38L321.9 488.35L321.91 488.21L322.21 487.41L322.51 486.78L322.71 485.41L322.9 483.97L322.91 484.15L323.01 482.55L323.11 481.22L323.21 479.14L323.31 477.34L323.36 476.67L323.41 475.39L323.46 475.04L323.51 474.62L323.56 474.76L323.61 475.28L323.66 476.62L323.71 477.78L323.81 479.49L323.9 481.03L323.91 481.42L324.01 482.73L324.11 484.14L324.31 485.64L324.51 486.63L324.81 487.58L324.9 487.54L325.11 487.92L325.51 488.13L325.9 488.69L326.01 488.56L326.51 489.06L326.9 489.03L327.51 489.4L327.9 489.54L328.51 489.25L328.9 489.41" fill="none" stroke="#6ee96d" stroke-width="1.35" stroke-linejoin="round"/>
<path d="M71.9 489.34L72.53 489.73L72.9 489.45L73.53 489.6L73.9 489.24L74.53 488.75L74.9 488.65L75.03 488.6L75.53 487.67L75.9 486.71L75.94 486.36L76.24 484.39L76.53 481.82L76.74 477.64L76.9 471.36L76.94 469.37L77.03 462.12L77.14 449.14L77.24 424.58L77.33 371L77.39 318.29L77.44 231.58L77.49 121.54L77.53 59.86L77.58 121.08L77.64 232.11L77.69 318.03L77.74 370.78L77.83 424.65L77.9 442.59L77.94 449.47L78.03 461.73L78.14 469.43L78.33 477.65L78.53 481.49L78.83 484.88L78.9 485.25L79.14 486.36L79.53 487.56L79.9 488.29L80.03 488.45L80.53 488.76L80.9 488.99L81.53 489.53L81.9 489.44L82.53 489.69L82.9 489.8M95.9 489.63L96.61 489.66L96.9 489.67L97.61 489.4L97.9 489.54L98.61 488.61L98.9 489.01L99.11 488.51L99.61 488.29L99.9 487.45L100.01 487L100.31 485.99L100.61 483.37L100.81 480.42L100.9 478.32L101.01 474.94L101.11 469.95L101.21 461.62L101.31 445.82L101.41 413.34L101.46 383.6L101.51 341.2L101.56 292.82L101.61 268.19L101.66 291.95L101.71 340.39L101.76 382.99L101.81 412.76L101.9 442.53L101.91 445.88L102.01 461.25L102.11 469.89L102.21 474.75L102.41 480.66L102.61 483.63L102.9 485.76L102.91 486.32L103.21 487.25L103.61 488.46L103.9 488.7L104.11 488.59L104.61 488.99L104.9 489.29L105.61 489.43L105.9 489.49L106.61 489.53L106.9 489.26" fill="none" stroke="#6ee96d" stroke-width="1.3" stroke-linejoin="round"/>
<path d="M51.9 474.55L52.9 474.09L53.9 474.39L54.9 474.27L55.9 474.07L56.9 474.21L57.9 474.17L58.9 474.17L59.9 474.42L60.9 474.39L61.9 474.14L62.9 474.07L63.9 474.3L64.9 474.22L65.9 474.44L66.9 474.75L67.9 474.37L68.9 474.17L69.9 474.11L70.9 473.93L71.9 473.84L72.53 473.75L72.9 473.82L73.53 473.68L73.9 473.81L74.53 473.29L74.9 473.06L75.03 472.73L75.53 472.58L75.9 471.38L75.94 471.51L76.24 469.79L76.53 469.3L76.74 469.3L76.9 469.3L76.94 469.3L77.03 469.3L77.14 469.3L77.24 469.3L77.33 469.3L77.39 469.3L77.44 469.3L77.49 469.3L77.53 469.3L77.58 469.3L77.64 469.3L77.69 469.3L77.74 469.3L77.83 469.3L77.9 469.3L77.94 469.3L78.03 469.3L78.14 469.3L78.33 469.3L78.53 469.3L78.83 469.61L78.9 470.15L79.14 471.23L79.53 471.9L79.9 472.96L80.03 473.56L80.53 472.98L80.9 473.75L81.53 473.83L81.9 473.82L82.53 474.23L82.9 473.74L83.9 474.1L84.9 474.42L85.9 474.11L86.9 474.08L87.9 474.21L88.9 474.1L89.9 474.51L90.9 474L91.9 474.36L92.9 473.92L93.9 474.29L94.9 474.1L95.9 473.54L96.61 474.01L96.9 473.75L97.61 473.77L97.9 474.11L98.61 473.32L98.9 473.17L99.11 473.54L99.61 472.71L99.9 472.46L100.01 471.92L100.31 470.54L100.61 469.3L100.81 469.3L100.9 469.3L101.01 469.3L101.11 469.3L101.21 469.3L101.31 469.3L101.41 469.3L101.46 469.3L101.51 469.3L101.56 469.3L101.61 469.3L101.66 469.3L101.71 469.3L101.76 469.3L101.81 469.3L101.9 469.3L101.91 469.3L102.01 469.3L102.11 469.3L102.21 469.3L102.41 469.3L102.61 469.3L102.9 470.66L102.91 471.16L103.21 471.99L103.61 472.61L103.9 473.2L104.11 473.33L104.61 473.38L104.9 473.69L105.61 473.84L105.9 473.52L106.61 473.98L106.9 473.99L107.9 474.03L108.9 473.82L109.9 474.12L110.9 474.2L111.9 474.24L112.9 474L113.9 474.37L114.9 474L115.9 474.21L116.9 474.53L117.9 474.12L118.9 474.16L119.9 474.49L120.9 474.19L121.9 474.21L122.9 474.32L123.9 474.49L124.9 473.82L125.9 474.11L126.9 474.07L127.9 474.06L128.9 474.1L129.9 474.11L130.9 474.34L131.9 474.1L132.9 474.31L133.9 474.36L134.9 474.13L135.9 474.31L136.9 474.62L137.9 474.35L138.9 474.15L139.9 474.27L140.9 474.09L141.9 474.33L142.9 474.45L143.9 474.11L144.9 474.23L145.9 474.5L146.9 474.17L147.9 474.31L148.9 474.06L149.9 474.1L150.9 474.17L151.9 474.7L152.9 474.18L153.9 474.16L154.9 474.15L155.9 474.23L156.9 474.39L157.9 474.29L158.9 474.66L159.9 474.28L160.9 474.52L161.9 474.28L162.9 474.34L163.9 473.91L164.9 474.16L165.9 474.15L166.9 474.09L167.9 473.67L168.9 474.21L169.9 473.87L170.86 473.72L170.9 473.75L171.86 473.5L171.9 473.61L172.86 472.75L172.9 472.78L173.36 472.54L173.86 471.61L173.9 471.41L174.26 470.18L174.56 469.3L174.86 469.3L174.9 469.3L175.06 469.3L175.26 469.3L175.36 469.3L175.46 469.3L175.56 469.3L175.66 469.3L175.71 469.3L175.76 469.3L175.81 469.3L175.86 469.3L175.9 469.3L175.91 469.3L175.96 469.3L176.01 469.3L176.06 469.3L176.16 469.3L176.26 469.3L176.36 469.3L176.46 469.3L176.66 469.3L176.86 469.3L176.9 469.3L177.16 469.3L177.46 470.09L177.86 471.42L177.9 471.49L178.36 472.57L178.86 472.59L178.9 473.28L179.86 473.45L179.9 473.4L180.86 473.87L180.9 474.02L181.9 474.02L182.9 474.25L183.9 474.12L184.9 474.38L185.9 474.41L186.9 474.16L187.9 474.48L188.9 474.24L189.9 474.23L190.9 474.03L191.9 474.16L192.9 474.38L193.9 473.97L194.9 474.36L195.9 474.3L196.9 474.29L197.9 473.79L198.9 474.21L199.9 474.35L200.9 474.07L201.9 474.23L202.9 473.74L203.9 474.34L204.9 474.06L205.9 474.36L206.9 473.8L207.9 474.29L208.9 474.08L209.9 474.26L210.9 473.87L211.9 473.87L212.9 474.36L213.9 473.62L214.83 473.45L214.9 473.52L215.83 473.02L215.9 473.43L216.83 472.83L216.9 472.27L217.33 471.45L217.83 470.86L217.9 470.62L218.23 469.3L218.53 469.3L218.83 469.3L218.9 469.3L219.03 469.3L219.23 469.3L219.33 469.3L219.43 469.3L219.53 469.3L219.63 469.3L219.68 469.3L219.73 469.3L219.78 469.3L219.83 469.3L219.88 469.3L219.9 469.3L219.93 469.3L219.98 469.3L220.03 469.3L220.13 469.3L220.23 469.3L220.33 469.3L220.43 469.3L220.63 469.3L220.83 469.3L220.9 469.3L221.13 469.3L221.43 469.3L221.83 470.29L221.9 470.89L222.33 471.94L222.83 472.54L222.9 472.73L223.83 473.06L223.9 473.01L224.83 473.69L224.9 473.31L225.9 473.25L226.9 473.96L227.9 473.6L227.97 473.68L228.9 473.38L228.97 473.38L229.9 473.18L229.97 473.31L230.47 473.19L230.9 472.29L230.97 472.82L231.37 471.82L231.67 471.09L231.9 470.55L231.97 470.03L232.17 468.32L232.37 466.52L232.47 463.92L232.57 461.07L232.67 458.3L232.77 458.3L232.82 458.3L232.87 458.3L232.9 458.3L232.92 458.3L232.97 458.3L233.02 458.3L233.07 458.3L233.12 458.3L233.17 458.3L233.27 458.3L233.37 461.11L233.47 463.95L233.57 466.31L233.77 468.42L233.9 469.88L233.97 470.32L234.27 471.23L234.57 471.98L234.9 472.68L234.97 472.73L235.47 473L235.9 473.56L235.97 473.07L236.9 473.69L236.97 473.71L237.9 473.89L237.97 474.01L238.9 473.79L239.9 474.21L240.9 474.1L241.9 474.03L242.9 473.91L243.9 473.96L244.9 474.28L245.9 474.03L246.9 474.24L247.9 474.45L248.9 474.45L249.9 474.56L250.9 474.19L251.9 474.03L252.9 474.46L253.9 474.32L254.9 474.48L255.9 474.26L256.9 474.5L257.9 474.43L258.9 474.4L259.9 474.36L260.9 474.34L261.9 474.31L262.9 474.3L263.9 474.46L264.9 474.15L265.9 474.6L266.9 474.23L267.9 474.44L268.9 474.22L269.9 474.19L270.9 474.63L271.9 474.15L272.9 473.95L273.9 474.04L274.9 474.08L275.9 474.52L276 474.13L276.9 474.19L277 473.79L277.9 473.9L278 473.94L278.5 474.01L278.9 473.33L279 473.53L279.4 473.17L279.7 472.55L279.9 472.39L280 472.12L280.2 471.06L280.4 470.56L280.5 469.73L280.6 468.44L280.7 466.84L280.8 465.73L280.85 464.67L280.9 464.13L280.9 464.17L280.95 463.34L281 463.44L281.05 463.4L281.1 463.91L281.15 464.6L281.2 465.44L281.3 467.33L281.4 468.55L281.5 469.59L281.6 470.39L281.8 471.59L281.9 471.71L282 472.07L282.3 472.74L282.6 472.99L282.9 473.33L283 473.29L283.5 474.05L283.9 474.05L284 473.9L284.9 473.96L285 474.42L285.9 474.14L286 474.06L286.9 474.19L287.9 474.23L288.9 474.47L289.9 474.2L290.9 474.64L291.9 474.05L292.9 474.37L293.9 474.03L294.9 474.6L295.9 474.17L296.9 474.22L297.9 474.42L298.9 474.48L299.9 474L300.9 474.15L301.9 473.93L302.9 474.22L303.9 474.16L304.9 474.09L305.9 473.99L306.9 474L307.9 473.86L308.12 474.09L308.9 474.19L309.12 473.46L309.9 473.65L310.12 473.52L310.62 473.48L310.9 473.03L311.12 473.03L311.52 472.44L311.82 472.31L311.9 472.02L312.12 471.34L312.32 470.58L312.52 469.03L312.62 467.68L312.72 466.7L312.82 464.86L312.9 463.19L312.92 462.95L312.97 462.02L313.02 460.76L313.07 460.27L313.12 460.54L313.17 460.71L313.22 460.83L313.27 461.54L313.32 462.62L313.42 464.7L313.52 466.25L313.62 468L313.72 468.81L313.9 470.12L313.92 470.67L314.12 471.22L314.42 472.12L314.72 472.73L314.9 472.97L315.12 472.94L315.62 473.33L315.9 473.27L316.12 473.87L316.9 473.82L317.12 473.5L317.9 473.79L318.12 473.94L318.51 473.89L318.9 474.15L319.51 474.02L319.9 473.58L320.51 473.54L320.9 473.17L321.01 473.43L321.51 473.13L321.9 473.29L321.91 472.76L322.21 471.9L322.51 471.48L322.71 470.86L322.9 469.36L322.91 469.39L323.01 468.55L323.11 467.47L323.21 465.87L323.31 464.06L323.36 463.62L323.41 462.7L323.46 462.28L323.51 461.95L323.56 462.22L323.61 462.93L323.66 463.12L323.71 464.21L323.81 466.04L323.9 467.24L323.91 467.45L324.01 468.4L324.11 469.83L324.31 471.07L324.51 471.68L324.81 472L324.9 472.3L325.11 472.98L325.51 473.5L325.9 473.46L326.01 473.71L326.51 473.53L326.9 473.72L327.51 473.88L327.9 474.02L328.51 473.7L328.9 474.23L329.9 474.37L330.9 473.92L331.9 473.9L332.9 474.27L333.9 474.08L334.9 473.75L335.9 474.4L336.9 474.27L337.9 474.15L338.9 474.68L339.9 474.29L340.9 474.11L341.9 474.29L342.9 474.06L343.9 474.12L344.9 474.35L345.9 474.16L346.9 474.19L347.9 474.61L348.9 474.45L349.9 474.44L350.9 474.39L351.9 474.38L352.9 474.58L353.9 474.28L354.9 474.66L355.2 474.1" fill="none" stroke="#8080f2" stroke-width="2.6" stroke-linejoin="round"/>
<path d="M169.9 473.87L170.86 473.72L170.9 473.75L171.86 473.5L171.9 473.61L172.86 472.75L172.9 472.78L173.36 472.54L173.86 471.61L173.9 471.41L174.26 470.18L174.56 468.47L174.86 465.7L174.9 465.38L175.06 462.04L175.26 456.24L175.36 450.63L175.46 441.72L175.56 427.33L175.66 401.13L175.71 382.43L175.76 361.26L175.81 342.71L175.86 334.92L175.9 340.23L175.91 342.81L175.96 361.09L176.01 382.88L176.06 401.14L176.16 427.04L176.26 441.73L176.36 450.23L176.46 455.66L176.66 462.05L176.86 465.71L176.9 466.35L177.16 468.75L177.46 470.09L177.86 471.42L177.9 471.49L178.36 472.57L178.86 472.59L178.9 473.28L179.86 473.45L179.9 473.4L180.86 473.87L180.9 474.02M213.9 473.62L214.83 473.45L214.9 473.52L215.83 473.02L215.9 473.43L216.83 472.83L216.9 472.27L217.33 471.45L217.83 470.86L217.9 470.62L218.23 469.16L218.53 467.2L218.83 463.31L218.9 462.24L219.03 459.16L219.23 451.87L219.33 446.19L219.43 436.44L219.53 422.04L219.63 397.98L219.68 382.68L219.73 367.37L219.78 355.13L219.83 350.04L219.88 354.62L219.9 359.51L219.93 367.63L219.98 382.86L220.03 397.95L220.13 421.88L220.23 436.66L220.33 445.81L220.43 452.1L220.63 459.29L220.83 463.54L220.9 464.53L221.13 467.19L221.43 469.12L221.83 470.29L221.9 470.89L222.33 471.94L222.83 472.54L222.9 472.73L223.83 473.06L223.9 473.01L224.83 473.69L224.9 473.31M227.9 473.6L227.97 473.68L228.9 473.38L228.97 473.38L229.9 473.18L229.97 473.31L230.47 473.19L230.9 472.29L230.97 472.82L231.37 471.82L231.67 471.09L231.9 470.55L231.97 470.03L232.17 468.32L232.37 466.52L232.47 463.92L232.57 461.07L232.67 456.34L232.77 449.54L232.82 444.87L232.87 440.91L232.9 438.48L232.92 437.67L232.97 436.04L233.02 437.37L233.07 441.09L233.12 445.03L233.17 449.28L233.27 456.76L233.37 461.11L233.47 463.95L233.57 466.31L233.77 468.42L233.9 469.88L233.97 470.32L234.27 471.23L234.57 471.98L234.9 472.68L234.97 472.73L235.47 473L235.9 473.56L235.97 473.07L236.9 473.69L236.97 473.71L237.9 473.89L237.97 474.01L238.9 473.79M275.9 474.52L276 474.13L276.9 474.19L277 473.79L277.9 473.9L278 473.94L278.5 474.01L278.9 473.33L279 473.53L279.4 473.17L279.7 472.55L279.9 472.39L280 472.12L280.2 471.06L280.4 470.56L280.5 469.73L280.6 468.44L280.7 466.84L280.8 465.73L280.85 464.67L280.9 464.13L280.9 464.17L280.95 463.34L281 463.44L281.05 463.4L281.1 463.91L281.15 464.6L281.2 465.44L281.3 467.33L281.4 468.55L281.5 469.59L281.6 470.39L281.8 471.59L281.9 471.71L282 472.07L282.3 472.74L282.6 472.99L282.9 473.33L283 473.29L283.5 474.05L283.9 474.05L284 473.9L284.9 473.96L285 474.42L285.9 474.14L286 474.06L286.9 474.19M307.9 473.86L308.12 474.09L308.9 474.19L309.12 473.46L309.9 473.65L310.12 473.52L310.62 473.48L310.9 473.03L311.12 473.03L311.52 472.44L311.82 472.31L311.9 472.02L312.12 471.34L312.32 470.58L312.52 469.03L312.62 467.68L312.72 466.7L312.82 464.86L312.9 463.19L312.92 462.95L312.97 462.02L313.02 460.76L313.07 460.27L313.12 460.54L313.17 460.71L313.22 460.83L313.27 461.54L313.32 462.62L313.42 464.7L313.52 466.25L313.62 468L313.72 468.81L313.9 470.12L313.92 470.67L314.12 471.22L314.42 472.12L314.72 472.73L314.9 472.97L315.12 472.94L315.62 473.33L315.9 473.27L316.12 473.87L316.9 473.82L317.12 473.5L317.9 473.79L318.12 473.94L318.51 473.89L318.9 474.15M317.9 473.79L318.12 473.94L318.51 473.89L318.9 474.15L319.51 474.02L319.9 473.58L320.51 473.54L320.9 473.17L321.01 473.43L321.51 473.13L321.9 473.29L321.91 472.76L322.21 471.9L322.51 471.48L322.71 470.86L322.9 469.36L322.91 469.39L323.01 468.55L323.11 467.47L323.21 465.87L323.31 464.06L323.36 463.62L323.41 462.7L323.46 462.28L323.51 461.95L323.56 462.22L323.61 462.93L323.66 463.12L323.71 464.21L323.81 466.04L323.9 467.24L323.91 467.45L324.01 468.4L324.11 469.83L324.31 471.07L324.51 471.68L324.81 472L324.9 472.3L325.11 472.98L325.51 473.5L325.9 473.46L326.01 473.71L326.51 473.53L326.9 473.72L327.51 473.88L327.9 474.02L328.51 473.7L328.9 474.23" fill="none" stroke="#a0a0f5" stroke-width="1.35" stroke-linejoin="round"/>
<path d="M71.9 473.84L72.53 473.75L72.9 473.82L73.53 473.68L73.9 473.81L74.53 473.29L74.9 473.06L75.03 472.73L75.53 472.58L75.9 471.38L75.94 471.51L76.24 469.79L76.53 467.02L76.74 462.88L76.9 457.41L76.94 456L77.03 448.39L77.14 437.23L77.24 414.86L77.33 365.37L77.39 316.84L77.44 237.88L77.49 136.09L77.53 80.08L77.58 136.05L77.64 237.49L77.69 316.56L77.74 365.25L77.83 414.55L77.9 430.83L77.94 436.71L78.03 448.95L78.14 455.69L78.33 463.08L78.53 466.63L78.83 469.61L78.9 470.15L79.14 471.23L79.53 471.9L79.9 472.96L80.03 473.56L80.53 472.98L80.9 473.75L81.53 473.83L81.9 473.82L82.53 474.23L82.9 473.74M95.9 473.54L96.61 474.01L96.9 473.75L97.61 473.77L97.9 474.11L98.61 473.32L98.9 473.17L99.11 473.54L99.61 472.71L99.9 472.46L100.01 471.92L100.31 470.54L100.61 468.59L100.81 466.2L100.9 464.37L101.01 460.87L101.11 456.3L101.21 448.69L101.31 434.62L101.41 405.75L101.46 378.82L101.51 340.53L101.56 297.09L101.61 275.13L101.66 296.7L101.71 340.04L101.76 378.17L101.81 405.01L101.9 431.57L101.91 434.31L102.01 448.8L102.11 456.15L102.21 460.92L102.41 466.19L102.61 468.73L102.9 470.66L102.91 471.16L103.21 471.99L103.61 472.61L103.9 473.2L104.11 473.33L104.61 473.38L104.9 473.69L105.61 473.84L105.9 473.52L106.61 473.98L106.9 473.99" fill="none" stroke="#a0a0f5" stroke-width="1.3" stroke-linejoin="round"/>
<path d="M51.9 457.03L52.9 456.81L53.9 457.01L54.9 457.18L55.9 457.37L56.9 456.94L57.9 457.07L58.9 457L59.9 456.92L60.9 456.83L61.9 457.07L62.9 456.71L63.9 457.07L64.9 457.05L65.9 456.9L66.9 456.82L67.9 456.73L68.9 457.36L69.9 456.68L70.9 457.22L71.9 456.95L72.53 456.69L72.9 456.48L73.53 456.79L73.9 456.82L74.53 456L74.9 455.86L75.03 456.01L75.53 455.16L75.9 454.54L75.94 453.9L76.24 452.63L76.53 452.1L76.74 452.1L76.9 452.1L76.94 452.1L77.03 452.1L77.14 452.1L77.24 452.1L77.33 452.1L77.39 452.1L77.44 452.1L77.49 452.1L77.53 452.1L77.58 452.1L77.64 452.1L77.69 452.1L77.74 452.1L77.83 452.1L77.9 452.1L77.94 452.1L78.03 452.1L78.14 452.1L78.33 452.1L78.53 452.1L78.83 452.36L78.9 452.87L79.14 454.1L79.53 455.23L79.9 455.7L80.03 455.99L80.53 456.07L80.9 456.41L81.53 456.26L81.9 456.8L82.53 456.78L82.9 456.71L83.9 457.11L84.9 457.06L85.9 456.39L86.9 456.98L87.9 456.7L88.9 457.21L89.9 457.49L90.9 456.89L91.9 457.01L92.9 456.93L93.9 457.03L94.9 457.06L95.9 457.14L96.61 456.63L96.9 457.11L97.61 456.5L97.9 456.68L98.61 456.63L98.9 456.39L99.11 455.92L99.61 455.44L99.9 454.98L100.01 454.79L100.31 453.97L100.61 452.1L100.81 452.1L100.9 452.1L101.01 452.1L101.11 452.1L101.21 452.1L101.31 452.1L101.41 452.1L101.46 452.1L101.51 452.1L101.56 452.1L101.61 452.1L101.66 452.1L101.71 452.1L101.76 452.1L101.81 452.1L101.9 452.1L101.91 452.1L102.01 452.1L102.11 452.1L102.21 452.1L102.41 452.1L102.61 452.1L102.9 453.54L102.91 453.58L103.21 454.58L103.61 455.48L103.9 455.93L104.11 456.07L104.61 456.12L104.9 456.46L105.61 456.52L105.9 456.78L106.61 457.21L106.9 456.99L107.9 456.87L108.9 456.64L109.9 456.71L110.9 456.68L111.9 457.17L112.9 456.89L113.9 457.06L114.9 456.93L115.9 457.08L116.9 457.34L117.9 456.93L118.9 457L119.9 456.91L120.9 457.25L121.9 456.87L122.9 456.85L123.9 456.8L124.9 456.8L125.9 457.17L126.9 457.59L127.9 456.88L128.9 457.27L129.9 457.13L130.9 456.86L131.9 457.03L132.9 457.04L133.9 456.94L134.9 457.47L135.9 456.7L136.9 457.16L137.9 457.15L138.9 456.97L139.9 457.11L140.9 457.26L141.9 457.11L142.9 457.16L143.9 457.22L144.9 456.67L145.9 457.37L146.9 457.53L147.9 457.27L148.9 457.28L149.9 456.79L150.9 457.05L151.9 456.91L152.9 456.95L153.9 457.26L154.9 456.91L155.9 457.04L156.9 456.68L157.9 457.03L158.9 457.07L159.9 456.91L160.9 456.9L161.9 457.41L162.9 456.79L163.9 456.81L164.9 456.84L165.9 457.23L166.9 457.38L167.9 456.99L168.9 456.73L169.9 456.72L170.86 456.9L170.9 456.5L171.86 456.76L171.9 456.74L172.86 456.02L172.9 456.11L173.36 455.72L173.86 455.13L173.9 454.52L174.26 453.97L174.56 452.26L174.86 452.1L174.9 452.1L175.06 452.1L175.26 452.1L175.36 452.1L175.46 452.1L175.56 452.1L175.66 452.1L175.71 452.1L175.76 452.1L175.81 452.1L175.86 452.1L175.9 452.1L175.91 452.1L175.96 452.1L176.01 452.1L176.06 452.1L176.16 452.1L176.26 452.1L176.36 452.1L176.46 452.1L176.66 452.1L176.86 452.1L176.9 452.1L177.16 452.3L177.46 453.6L177.86 454.73L177.9 455.04L178.36 455.7L178.86 456.26L178.9 455.7L179.86 456.38L179.9 456.39L180.86 456.72L180.9 456.6L181.9 456.7L182.9 457.03L183.9 456.96L184.9 456.72L185.9 457.25L186.9 457.19L187.9 456.89L188.9 457.18L189.9 456.88L190.9 457.25L191.9 456.99L192.9 456.87L193.9 456.96L194.9 456.88L195.9 457.08L196.9 457.07L197.9 457.04L198.9 456.92L199.9 456.3L200.9 457.05L201.9 456.65L202.9 457.07L203.9 457.24L204.9 457.06L205.9 456.92L206.9 456.95L207.9 456.94L208.9 456.83L209.9 456.8L210.9 456.69L211.9 457.06L212.9 456.75L213.9 456.82L214.83 456.41L214.9 456.46L215.83 456.1L215.9 456.19L216.83 455.63L216.9 455.44L217.33 454.7L217.83 453.62L217.9 453.91L218.23 452.26L218.53 452.1L218.83 452.1L218.9 452.1L219.03 452.1L219.23 452.1L219.33 452.1L219.43 452.1L219.53 452.1L219.63 452.1L219.68 452.1L219.73 452.1L219.78 452.1L219.83 452.1L219.88 452.1L219.9 452.1L219.93 452.1L219.98 452.1L220.03 452.1L220.13 452.1L220.23 452.1L220.33 452.1L220.43 452.1L220.63 452.1L220.83 452.1L220.9 452.1L221.13 452.1L221.43 452.26L221.83 453.95L221.9 454.07L222.33 454.92L222.83 455.46L222.9 455.62L223.83 456.36L223.9 455.89L224.83 456.28L224.9 456.11L225.9 456.85L226.9 456.84L227.9 456.72L227.97 456.33L228.9 456.51L228.97 456.42L229.9 456.24L229.97 456.16L230.47 456.04L230.9 455.48L230.97 455.65L231.37 454.91L231.67 454.06L231.9 453.21L231.97 452.77L232.17 451.61L232.37 448.9L232.47 446.96L232.57 443.76L232.67 441.1L232.77 441.1L232.82 441.1L232.87 441.1L232.9 441.1L232.92 441.1L232.97 441.1L233.02 441.1L233.07 441.1L233.12 441.1L233.17 441.1L233.27 441.1L233.37 443.92L233.47 446.83L233.57 449.04L233.77 451.32L233.9 452.46L233.97 453.01L234.27 454.16L234.57 454.82L234.9 455.23L234.97 455.57L235.47 456.08L235.9 456.21L235.97 456.14L236.9 456.69L236.97 457.1L237.9 456.69L237.97 456.82L238.9 456.92L239.9 456.39L240.9 456.96L241.9 456.82L242.9 457.26L243.9 456.95L244.9 456.86L245.9 456.98L246.9 457.06L247.9 456.92L248.9 457.03L249.9 456.77L250.9 457L251.9 457.21L252.9 457.45L253.9 457.2L254.9 457.11L255.9 457.3L256.9 457.26L257.9 457.39L258.9 457.28L259.9 457.04L260.9 457.11L261.9 457.1L262.9 457.12L263.9 457.1L264.9 456.9L265.9 456.63L266.9 456.92L267.9 456.64L268.9 457.06L269.9 457.04L270.9 456.69L271.9 457.15L272.9 457.17L273.9 456.99L274.9 457.27L275.9 457.26L276 456.63L276.9 456.99L277 456.86L277.9 456.69L278 456.77L278.5 456.28L278.9 456.11L279 456L279.4 455.69L279.7 455.45L279.9 454.8L280 454.65L280.2 454.29L280.4 453.02L280.5 452.25L280.6 450.64L280.7 449.36L280.8 447.65L280.85 446.9L280.9 446.04L280.9 446.31L280.95 445.65L281 445.48L281.05 445.66L281.1 446.3L281.15 446.8L281.2 447.98L281.3 449.61L281.4 451.05L281.5 452.18L281.6 453.14L281.8 454.38L281.9 454.75L282 454.93L282.3 455.64L282.6 455.87L282.9 456.35L283 456.16L283.5 456L283.9 456.82L284 456.6L284.9 456.52L285 456.73L285.9 456.69L286 457.29L286.9 457.02L287.9 456.65L288.9 457.1L289.9 456.92L290.9 457.4L291.9 456.81L292.9 456.58L293.9 457.05L294.9 456.97L295.9 456.95L296.9 456.61L297.9 457.12L298.9 457.37L299.9 456.64L300.9 457.25L301.9 456.9L302.9 457.47L303.9 457.07L304.9 456.92L305.9 457.15L306.9 456.99L307.9 456.7L308.12 456.94L308.9 456.6L309.12 456.31L309.9 456.9L310.12 456.35L310.62 456.09L310.9 456.13L311.12 455.59L311.52 455.23L311.82 454.93L311.9 454.77L312.12 454.28L312.32 453.65L312.52 451.93L312.62 451.07L312.72 449.72L312.82 447.66L312.9 446.39L312.92 445.7L312.97 445.15L313.02 444.26L313.07 443.63L313.12 443.16L313.17 443.65L313.22 444.01L313.27 445.08L313.32 445.86L313.42 447.71L313.52 449.78L313.62 451.12L313.72 451.9L313.9 453.51L313.92 453.35L314.12 454.18L314.42 455.03L314.72 455.31L314.9 455.57L315.12 455.82L315.62 456.46L315.9 456.57L316.12 456.3L316.9 456.84L317.12 456.54L317.9 456.7L318.12 456.8L318.51 456.69L318.9 457.11L319.51 456.64L319.9 456.3L320.51 456.69L320.9 456.23L321.01 456.21L321.51 455.43L321.9 455.91L321.91 455.87L322.21 455.48L322.51 454.89L322.71 454.34L322.9 452.9L322.91 453.05L323.01 451.88L323.11 450.87L323.21 449.82L323.31 448.2L323.36 447.16L323.41 446.92L323.46 446.43L323.51 446.16L323.56 446.55L323.61 446.76L323.66 447.1L323.71 447.89L323.81 449.95L323.9 450.57L323.91 450.99L324.01 452.15L324.11 453L324.31 453.77L324.51 454.66L324.81 455.38L324.9 455.66L325.11 455.62L325.51 455.85L325.9 456.5L326.01 456.56L326.51 456.59L326.9 456.49L327.51 456.8L327.9 456.8L328.51 457L328.9 456.62L329.9 456.95L330.9 456.93L331.9 456.77L332.9 457.05L333.9 457.03L334.9 456.95L335.9 457.12L336.9 456.76L337.9 457.04L338.9 457.14L339.9 457.12L340.9 457.28L341.9 456.83L342.9 456.77L343.9 457.12L344.9 457.17L345.9 457.5L346.9 457.2L347.9 456.91L348.9 457.24L349.9 456.91L350.9 456.79L351.9 457.61L352.9 457.15L353.9 457.23L354.9 457.2L355.2 457.45" fill="none" stroke="#2a1852" stroke-width="2.6" stroke-linejoin="round"/>
<path d="M169.9 456.72L170.86 456.9L170.9 456.5L171.86 456.76L171.9 456.74L172.86 456.02L172.9 456.11L173.36 455.72L173.86 455.13L173.9 454.52L174.26 453.97L174.56 452.26L174.86 449.73L174.9 449.42L175.06 446.93L175.26 441.46L175.36 436.74L175.46 429.6L175.56 417.78L175.66 396.23L175.71 380.29L175.76 362.53L175.81 346.44L175.86 339.97L175.9 344.54L175.91 346.33L175.96 362.1L176.01 380.18L176.06 395.77L176.16 417.27L176.26 429.87L176.36 437.01L176.46 441.86L176.66 446.97L176.86 449.82L176.9 450.34L177.16 452.3L177.46 453.6L177.86 454.73L177.9 455.04L178.36 455.7L178.86 456.26L178.9 455.7L179.86 456.38L179.9 456.39L180.86 456.72L180.9 456.6M213.9 456.82L214.83 456.41L214.9 456.46L215.83 456.1L215.9 456.19L216.83 455.63L216.9 455.44L217.33 454.7L217.83 453.62L217.9 453.91L218.23 452.26L218.53 450.43L218.83 447.63L218.9 446.47L219.03 443.8L219.23 437.04L219.33 432.04L219.43 423.16L219.53 409.66L219.63 388.22L219.68 374.3L219.73 360.25L219.78 349.38L219.83 345.03L219.88 349.34L219.9 353.27L219.93 360.36L219.98 374.66L220.03 388.09L220.13 409.82L220.23 423.36L220.33 432.16L220.43 437.32L220.63 443.57L220.83 447.16L220.9 447.57L221.13 450.35L221.43 452.26L221.83 453.95L221.9 454.07L222.33 454.92L222.83 455.46L222.9 455.62L223.83 456.36L223.9 455.89L224.83 456.28L224.9 456.11M227.9 456.72L227.97 456.33L228.9 456.51L228.97 456.42L229.9 456.24L229.97 456.16L230.47 456.04L230.9 455.48L230.97 455.65L231.37 454.91L231.67 454.06L231.9 453.21L231.97 452.77L232.17 451.61L232.37 448.9L232.47 446.96L232.57 443.76L232.67 438.82L232.77 432.25L232.82 427.56L232.87 423.66L232.9 421.52L232.92 419.92L232.97 418.81L233.02 420.15L233.07 423.36L233.12 427.54L233.17 432.22L233.27 439.08L233.37 443.92L233.47 446.83L233.57 449.04L233.77 451.32L233.9 452.46L233.97 453.01L234.27 454.16L234.57 454.82L234.9 455.23L234.97 455.57L235.47 456.08L235.9 456.21L235.97 456.14L236.9 456.69L236.97 457.1L237.9 456.69L237.97 456.82L238.9 456.92M275.9 457.26L276 456.63L276.9 456.99L277 456.86L277.9 456.69L278 456.77L278.5 456.28L278.9 456.11L279 456L279.4 455.69L279.7 455.45L279.9 454.8L280 454.65L280.2 454.29L280.4 453.02L280.5 452.25L280.6 450.64L280.7 449.36L280.8 447.65L280.85 446.9L280.9 446.04L280.9 446.31L280.95 445.65L281 445.48L281.05 445.66L281.1 446.3L281.15 446.8L281.2 447.98L281.3 449.61L281.4 451.05L281.5 452.18L281.6 453.14L281.8 454.38L281.9 454.75L282 454.93L282.3 455.64L282.6 455.87L282.9 456.35L283 456.16L283.5 456L283.9 456.82L284 456.6L284.9 456.52L285 456.73L285.9 456.69L286 457.29L286.9 457.02M307.9 456.7L308.12 456.94L308.9 456.6L309.12 456.31L309.9 456.9L310.12 456.35L310.62 456.09L310.9 456.13L311.12 455.59L311.52 455.23L311.82 454.93L311.9 454.77L312.12 454.28L312.32 453.65L312.52 451.93L312.62 451.07L312.72 449.72L312.82 447.66L312.9 446.39L312.92 445.7L312.97 445.15L313.02 444.26L313.07 443.63L313.12 443.16L313.17 443.65L313.22 444.01L313.27 445.08L313.32 445.86L313.42 447.71L313.52 449.78L313.62 451.12L313.72 451.9L313.9 453.51L313.92 453.35L314.12 454.18L314.42 455.03L314.72 455.31L314.9 455.57L315.12 455.82L315.62 456.46L315.9 456.57L316.12 456.3L316.9 456.84L317.12 456.54L317.9 456.7L318.12 456.8L318.51 456.69L318.9 457.11M317.9 456.7L318.12 456.8L318.51 456.69L318.9 457.11L319.51 456.64L319.9 456.3L320.51 456.69L320.9 456.23L321.01 456.21L321.51 455.43L321.9 455.91L321.91 455.87L322.21 455.48L322.51 454.89L322.71 454.34L322.9 452.9L322.91 453.05L323.01 451.88L323.11 450.87L323.21 449.82L323.31 448.2L323.36 447.16L323.41 446.92L323.46 446.43L323.51 446.16L323.56 446.55L323.61 446.76L323.66 447.1L323.71 447.89L323.81 449.95L323.9 450.57L323.91 450.99L324.01 452.15L324.11 453L324.31 453.77L324.51 454.66L324.81 455.38L324.9 455.66L325.11 455.62L325.51 455.85L325.9 456.5L326.01 456.56L326.51 456.59L326.9 456.49L327.51 456.8L327.9 456.8L328.51 457L328.9 456.62" fill="none" stroke="#5f527d" stroke-width="1.35" stroke-linejoin="round"/>
<path d="M71.9 456.95L72.53 456.69L72.9 456.48L73.53 456.79L73.9 456.82L74.53 456L74.9 455.86L75.03 456.01L75.53 455.16L75.9 454.54L75.94 453.9L76.24 452.63L76.53 449.41L76.74 446.36L76.9 440.23L76.94 438.16L77.03 431.87L77.14 420.45L77.24 398.8L77.33 350L77.39 302.36L77.44 224.87L77.49 125.52L77.53 69.98L77.58 125.41L77.64 224.85L77.69 302.3L77.74 350.09L77.83 398.42L77.9 414.15L77.94 420.72L78.03 431.54L78.14 438.83L78.33 446.13L78.53 449.63L78.83 452.36L78.9 452.87L79.14 454.1L79.53 455.23L79.9 455.7L80.03 455.99L80.53 456.07L80.9 456.41L81.53 456.26L81.9 456.8L82.53 456.78L82.9 456.71M95.9 457.14L96.61 456.63L96.9 457.11L97.61 456.5L97.9 456.68L98.61 456.63L98.9 456.39L99.11 455.92L99.61 455.44L99.9 454.98L100.01 454.79L100.31 453.97L100.61 451.49L100.81 449.35L100.9 447.72L101.01 444.6L101.11 440.29L101.21 433.39L101.31 420.05L101.41 392.54L101.46 367.58L101.51 332.09L101.56 290.45L101.61 270.24L101.66 290.2L101.71 331.03L101.76 366.79L101.81 391.67L101.9 417.24L101.91 419.67L102.01 433.11L102.11 439.86L102.21 444.75L102.41 449.3L102.61 451.69L102.9 453.54L102.91 453.58L103.21 454.58L103.61 455.48L103.9 455.93L104.11 456.07L104.61 456.12L104.9 456.46L105.61 456.52L105.9 456.78L106.61 457.21L106.9 456.99" fill="none" stroke="#5f527d" stroke-width="1.3" stroke-linejoin="round"/>
<path d="M51.9 439.84L52.9 440.03L53.9 439.58L54.9 439.5L55.9 440.06L56.9 440.07L57.9 439.88L58.9 439.82L59.9 439.8L60.9 439.63L61.9 440.07L62.9 439.89L63.9 439.85L64.9 439.82L65.9 439.94L66.9 439.82L67.9 439.85L68.9 439.45L69.9 439.75L70.9 440.04L71.9 439.43L72.53 439.44L72.9 439.59L73.53 439.47L73.9 439.3L74.53 438.57L74.9 438.73L75.03 438.27L75.53 437.64L75.9 436.97L75.94 436.67L76.24 435.41L76.53 434.8L76.74 434.8L76.9 434.8L76.94 434.8L77.03 434.8L77.14 434.8L77.24 434.8L77.33 434.8L77.39 434.8L77.44 434.8L77.49 434.8L77.53 434.8L77.58 434.8L77.64 434.8L77.69 434.8L77.74 434.8L77.83 434.8L77.9 434.8L77.94 434.8L78.03 434.8L78.14 434.8L78.33 434.8L78.53 434.8L78.83 435.01L78.9 435.72L79.14 436.35L79.53 437.64L79.9 438.5L80.03 438.51L80.53 438.79L80.9 439.26L81.53 439.07L81.9 439.41L82.53 439.36L82.9 439.33L83.9 439.67L84.9 439.43L85.9 440.04L86.9 439.56L87.9 440.09L88.9 439.48L89.9 439.82L90.9 439.46L91.9 439.43L92.9 439.72L93.9 439.81L94.9 439.39L95.9 439.84L96.61 439.39L96.9 439.55L97.61 439.5L97.9 439.49L98.61 438.81L98.9 439.36L99.11 439.02L99.61 438.35L99.9 437.78L100.01 437.4L100.31 436.51L100.61 435.11L100.81 434.8L100.9 434.8L101.01 434.8L101.11 434.8L101.21 434.8L101.31 434.8L101.41 434.8L101.46 434.8L101.51 434.8L101.56 434.8L101.61 434.8L101.66 434.8L101.71 434.8L101.76 434.8L101.81 434.8L101.9 434.8L101.91 434.8L102.01 434.8L102.11 434.8L102.21 434.8L102.41 434.8L102.61 434.8L102.9 436.6L102.91 436.73L103.21 437.49L103.61 438.22L103.9 438.73L104.11 438.93L104.61 439.04L104.9 439.37L105.61 439.39L105.9 439.28L106.61 439.57L106.9 439.96L107.9 439.51L108.9 439.91L109.9 439.98L110.9 440.02L111.9 439.57L112.9 440.15L113.9 439.77L114.9 439.71L115.9 439.72L116.9 439.89L117.9 439.78L118.9 439.74L119.9 440.03L120.9 439.63L121.9 439.57L122.9 439.94L123.9 439.92L124.9 440L125.9 439.57L126.9 440L127.9 439.88L128.9 440.13L129.9 439.53L130.9 439.83L131.9 439.73L132.9 439.47L133.9 439.64L134.9 440.01L135.9 439.69L136.9 439.64L137.9 439.96L138.9 439.98L139.9 439.98L140.9 439.62L141.9 439.77L142.9 439.99L143.9 439.65L144.9 439.63L145.9 439.95L146.9 440.09L147.9 439.55L148.9 439.26L149.9 439.49L150.9 439.57L151.9 439.75L152.9 439.9L153.9 439.74L154.9 439.63L155.9 439.8L156.9 439.57L157.9 439.75L158.9 439.63L159.9 440.29L160.9 439.91L161.9 439.58L162.9 439.54L163.9 439.64L164.9 439.38L165.9 439.55L166.9 439.53L167.9 439.82L168.9 439.52L169.9 439.38L170.86 439.16L170.9 439.19L171.86 439.22L171.9 439.18L172.86 439.05L172.9 438.67L173.36 438.64L173.86 437.81L173.9 437.68L174.26 436.38L174.56 435.28L174.86 434.8L174.9 434.8L175.06 434.8L175.26 434.8L175.36 434.8L175.46 434.8L175.56 434.8L175.66 434.8L175.71 434.8L175.76 434.8L175.81 434.8L175.86 434.8L175.9 434.8L175.91 434.8L175.96 434.8L176.01 434.8L176.06 434.8L176.16 434.8L176.26 434.8L176.36 434.8L176.46 434.8L176.66 434.8L176.86 434.8L176.9 434.8L177.16 435.78L177.46 436.4L177.86 437.89L177.9 437.66L178.36 438.23L178.86 438.78L178.9 438.9L179.86 439.35L179.9 439.59L180.86 439.5L180.9 439.61L181.9 439.42L182.9 439.74L183.9 439.67L184.9 439.58L185.9 439.67L186.9 439.69L187.9 439.75L188.9 439.8L189.9 439.63L190.9 439.59L191.9 439.89L192.9 439.4L193.9 439.62L194.9 440.05L195.9 439.2L196.9 439.61L197.9 439.88L198.9 439.41L199.9 440.26L200.9 439.22L201.9 440.02L202.9 440.04L203.9 439.9L204.9 439.67L205.9 439.78L206.9 439.51L207.9 439.84L208.9 439.43L209.9 439.58L210.9 439.8L211.9 439.33L212.9 439.41L213.9 439.41L214.83 438.96L214.9 439.44L215.83 439L215.9 438.6L216.83 438.33L216.9 438.12L217.33 437.65L217.83 436.86L217.9 436.52L218.23 435.73L218.53 434.8L218.83 434.8L218.9 434.8L219.03 434.8L219.23 434.8L219.33 434.8L219.43 434.8L219.53 434.8L219.63 434.8L219.68 434.8L219.73 434.8L219.78 434.8L219.83 434.8L219.88 434.8L219.9 434.8L219.93 434.8L219.98 434.8L220.03 434.8L220.13 434.8L220.23 434.8L220.33 434.8L220.43 434.8L220.63 434.8L220.83 434.8L220.9 434.8L221.13 434.8L221.43 435.12L221.83 436.99L221.9 436.74L222.33 437.63L222.83 438.15L222.9 438.5L223.83 438.86L223.9 438.9L224.83 438.8L224.9 439.13L225.9 438.98L226.9 439.38L227.9 439.37L227.97 439.29L228.9 439.61L228.97 439.29L229.9 439.06L229.97 438.94L230.47 438.61L230.9 438.47L230.97 438.42L231.37 437.32L231.67 437.04L231.9 436.04L231.97 435.77L232.17 434.25L232.37 431.42L232.47 429.38L232.57 426.91L232.67 423.8L232.77 423.8L232.82 423.8L232.87 423.8L232.9 423.8L232.92 423.8L232.97 423.8L233.02 423.8L233.07 423.8L233.12 423.8L233.17 423.8L233.27 423.8L233.37 426.14L233.47 429.57L233.57 431.52L233.77 433.93L233.9 435.06L233.97 435.57L234.27 436.81L234.57 437.33L234.9 438.06L234.97 438.65L235.47 438.5L235.9 438.63L235.97 439.05L236.9 439.41L236.97 439.4L237.9 439.23L237.97 439.66L238.9 439.39L239.9 439.38L240.9 439.52L241.9 439.65L242.9 439.83L243.9 439.83L244.9 439.71L245.9 439.91L246.9 439.75L247.9 439.92L248.9 439.46L249.9 439.43L250.9 439.91L251.9 439.48L252.9 439.7L253.9 439.74L254.9 439.66L255.9 439.67L256.9 440.04L257.9 439.26L258.9 439.94L259.9 440.22L260.9 439.77L261.9 439.76L262.9 439.91L263.9 440.13L264.9 439.52L265.9 439.77L266.9 439.71L267.9 439.86L268.9 439.77L269.9 439.87L270.9 439.64L271.9 439.72L272.9 439.56L273.9 439.54L274.9 439.61L275.9 439.55L276 439.34L276.9 439.8L277 439.45L277.9 439.03L278 439.5L278.5 438.97L278.9 439.02L279 438.86L279.4 438.59L279.7 438.19L279.9 437.66L280 437.55L280.2 437.26L280.4 435.26L280.5 434.85L280.6 433.75L280.7 431.94L280.8 430.1L280.85 429.94L280.9 428.69L280.9 429.15L280.95 428.37L281 428.1L281.05 428.36L281.1 428.89L281.15 429.74L281.2 430.47L281.3 432.18L281.4 433.7L281.5 435.1L281.6 435.87L281.8 436.65L281.9 437.12L282 437.6L282.3 438.03L282.6 438.46L282.9 438.6L283 438.81L283.5 439.2L283.9 439.45L284 439.28L284.9 439.87L285 439.46L285.9 440.2L286 439.77L286.9 439.73L287.9 439.56L288.9 439.12L289.9 439.67L290.9 439.75L291.9 440.11L292.9 439.46L293.9 440.12L294.9 439.69L295.9 439.88L296.9 439.23L297.9 439.76L298.9 439.67L299.9 439.87L300.9 439.74L301.9 439.49L302.9 439.89L303.9 439.83L304.9 439.79L305.9 439.84L306.9 439.82L307.9 439.53L308.12 439.24L308.9 439.14L309.12 439.66L309.9 439.36L310.12 439.18L310.62 438.87L310.9 438.81L311.12 438.66L311.52 438.21L311.82 437.69L311.9 438.11L312.12 437.14L312.32 436.17L312.52 434.7L312.62 433.81L312.72 432.78L312.82 431.15L312.9 429.48L312.92 429.1L312.97 428.12L313.02 427.22L313.07 427.19L313.12 426.82L313.17 427.42L313.22 427.29L313.27 428.15L313.32 429.26L313.42 430.94L313.52 432.35L313.62 433.76L313.72 434.97L313.9 436.23L313.92 436.26L314.12 437.28L314.42 438L314.72 438.31L314.9 438.44L315.12 438.57L315.62 439.02L315.9 439.21L316.12 439.11L316.9 439.35L317.12 439.23L317.9 439.08L318.12 439.17L318.51 439.53L318.9 439.47L319.51 439.67L319.9 439.32L320.51 439.39L320.9 439.39L321.01 439.29L321.51 438.76L321.9 438.58L321.91 438.64L322.21 438.1L322.51 437.86L322.71 437.39L322.9 436.17L322.91 436.62L323.01 435.47L323.11 434.57L323.21 433.44L323.31 432.1L323.36 431.74L323.41 431.17L323.46 431.18L323.51 430.85L323.56 430.95L323.61 431.12L323.66 431.36L323.71 432.21L323.81 433.31L323.9 434.74L323.91 434.61L324.01 435.86L324.11 436.38L324.31 437.37L324.51 437.84L324.81 438.37L324.9 438.58L325.11 438.84L325.51 438.79L325.9 439.22L326.01 439.68L326.51 439.29L326.9 439.34L327.51 439.34L327.9 439.23L328.51 439.81L328.9 439.61L329.9 439.71L330.9 440.05L331.9 440.2L332.9 439.54L333.9 439.94L334.9 439.87L335.9 439.83L336.9 439.85L337.9 439.75L338.9 440.08L339.9 439.89L340.9 439.84L341.9 440.02L342.9 439.95L343.9 439.87L344.9 439.84L345.9 440.13L346.9 439.88L347.9 439.76L348.9 439.61L349.9 439.72L350.9 439.58L351.9 439.81L352.9 439.84L353.9 439.38L354.9 439.79L355.2 439.92" fill="none" stroke="#c41e2c" stroke-width="2.6" stroke-linejoin="round"/>
<path d="M169.9 439.38L170.86 439.16L170.9 439.19L171.86 439.22L171.9 439.18L172.86 439.05L172.9 438.67L173.36 438.64L173.86 437.81L173.9 437.68L174.26 436.38L174.56 435.28L174.86 433.49L174.9 433.19L175.06 430.78L175.26 426.13L175.36 421.78L175.46 415.28L175.56 404.21L175.66 385.16L175.71 371.01L175.76 354.9L175.81 340.79L175.86 335.1L175.9 339.08L175.91 340.69L175.96 355.29L176.01 371L176.06 384.97L176.16 404.64L176.26 415.56L176.36 421.85L176.46 426.09L176.66 430.52L176.86 433.21L176.9 433.28L177.16 435.78L177.46 436.4L177.86 437.89L177.9 437.66L178.36 438.23L178.86 438.78L178.9 438.9L179.86 439.35L179.9 439.59L180.86 439.5L180.9 439.61M213.9 439.41L214.83 438.96L214.9 439.44L215.83 439L215.9 438.6L216.83 438.33L216.9 438.12L217.33 437.65L217.83 436.86L217.9 436.52L218.23 435.73L218.53 433.77L218.83 431.3L218.9 430.13L219.03 428.03L219.23 421.9L219.33 416.97L219.43 409.28L219.53 397.58L219.63 378.69L219.68 366.75L219.73 354.07L219.78 343.87L219.83 339.91L219.88 343.98L219.9 347.56L219.93 354.22L219.98 366.64L220.03 378.45L220.13 397.4L220.23 409.82L220.33 417.15L220.43 421.98L220.63 428.09L220.83 431.02L220.9 431.87L221.13 433.8L221.43 435.12L221.83 436.99L221.9 436.74L222.33 437.63L222.83 438.15L222.9 438.5L223.83 438.86L223.9 438.9L224.83 438.8L224.9 439.13M227.9 439.37L227.97 439.29L228.9 439.61L228.97 439.29L229.9 439.06L229.97 438.94L230.47 438.61L230.9 438.47L230.97 438.42L231.37 437.32L231.67 437.04L231.9 436.04L231.97 435.77L232.17 434.25L232.37 431.42L232.47 429.38L232.57 426.91L232.67 421.88L232.77 414.49L232.82 410.55L232.87 406.16L232.9 403.78L232.92 402.5L232.97 401.39L233.02 403.02L233.07 406.23L233.12 410.43L233.17 414.84L233.27 421.95L233.37 426.14L233.47 429.57L233.57 431.52L233.77 433.93L233.9 435.06L233.97 435.57L234.27 436.81L234.57 437.33L234.9 438.06L234.97 438.65L235.47 438.5L235.9 438.63L235.97 439.05L236.9 439.41L236.97 439.4L237.9 439.23L237.97 439.66L238.9 439.39M275.9 439.55L276 439.34L276.9 439.8L277 439.45L277.9 439.03L278 439.5L278.5 438.97L278.9 439.02L279 438.86L279.4 438.59L279.7 438.19L279.9 437.66L280 437.55L280.2 437.26L280.4 435.26L280.5 434.85L280.6 433.75L280.7 431.94L280.8 430.1L280.85 429.94L280.9 428.69L280.9 429.15L280.95 428.37L281 428.1L281.05 428.36L281.1 428.89L281.15 429.74L281.2 430.47L281.3 432.18L281.4 433.7L281.5 435.1L281.6 435.87L281.8 436.65L281.9 437.12L282 437.6L282.3 438.03L282.6 438.46L282.9 438.6L283 438.81L283.5 439.2L283.9 439.45L284 439.28L284.9 439.87L285 439.46L285.9 440.2L286 439.77L286.9 439.73M307.9 439.53L308.12 439.24L308.9 439.14L309.12 439.66L309.9 439.36L310.12 439.18L310.62 438.87L310.9 438.81L311.12 438.66L311.52 438.21L311.82 437.69L311.9 438.11L312.12 437.14L312.32 436.17L312.52 434.7L312.62 433.81L312.72 432.78L312.82 431.15L312.9 429.48L312.92 429.1L312.97 428.12L313.02 427.22L313.07 427.19L313.12 426.82L313.17 427.42L313.22 427.29L313.27 428.15L313.32 429.26L313.42 430.94L313.52 432.35L313.62 433.76L313.72 434.97L313.9 436.23L313.92 436.26L314.12 437.28L314.42 438L314.72 438.31L314.9 438.44L315.12 438.57L315.62 439.02L315.9 439.21L316.12 439.11L316.9 439.35L317.12 439.23L317.9 439.08L318.12 439.17L318.51 439.53L318.9 439.47M317.9 439.08L318.12 439.17L318.51 439.53L318.9 439.47L319.51 439.67L319.9 439.32L320.51 439.39L320.9 439.39L321.01 439.29L321.51 438.76L321.9 438.58L321.91 438.64L322.21 438.1L322.51 437.86L322.71 437.39L322.9 436.17L322.91 436.62L323.01 435.47L323.11 434.57L323.21 433.44L323.31 432.1L323.36 431.74L323.41 431.17L323.46 431.18L323.51 430.85L323.56 430.95L323.61 431.12L323.66 431.36L323.71 432.21L323.81 433.31L323.9 434.74L323.91 434.61L324.01 435.86L324.11 436.38L324.31 437.37L324.51 437.84L324.81 438.37L324.9 438.58L325.11 438.84L325.51 438.79L325.9 439.22L326.01 439.68L326.51 439.29L326.9 439.34L327.51 439.34L327.9 439.23L328.51 439.81L328.9 439.61" fill="none" stroke="#d35661" stroke-width="1.35" stroke-linejoin="round"/>
<path d="M71.9 439.43L72.53 439.44L72.9 439.59L73.53 439.47L73.9 439.3L74.53 438.57L74.9 438.73L75.03 438.27L75.53 437.64L75.9 436.97L75.94 436.67L76.24 435.41L76.53 433.03L76.74 428.86L76.9 423.32L76.94 421.23L77.03 414.62L77.14 403.19L77.24 381.36L77.33 333.19L77.39 285.85L77.44 208.79L77.49 109.68L77.53 54.71L77.58 109.6L77.64 208.92L77.69 285.99L77.74 333.61L77.83 381.67L77.9 397.22L77.94 403.53L78.03 414.38L78.14 421.87L78.33 428.95L78.53 432.35L78.83 435.01L78.9 435.72L79.14 436.35L79.53 437.64L79.9 438.5L80.03 438.51L80.53 438.79L80.9 439.26L81.53 439.07L81.9 439.41L82.53 439.36L82.9 439.33M95.9 439.84L96.61 439.39L96.9 439.55L97.61 439.5L97.9 439.49L98.61 438.81L98.9 439.36L99.11 439.02L99.61 438.35L99.9 437.78L100.01 437.4L100.31 436.51L100.61 435.11L100.81 432.7L100.9 431.05L101.01 428.38L101.11 424.95L101.21 418.19L101.31 406.37L101.41 382.02L101.46 359.5L101.51 327.37L101.56 290.56L101.61 271.67L101.66 289.93L101.71 326.68L101.76 358.93L101.81 381.53L101.9 404.23L101.91 406.4L102.01 418.24L102.11 424.4L102.21 428.03L102.41 432.65L102.61 434.8L102.9 436.6L102.91 436.73L103.21 437.49L103.61 438.22L103.9 438.73L104.11 438.93L104.61 439.04L104.9 439.37L105.61 439.39L105.9 439.28L106.61 439.57L106.9 439.96" fill="none" stroke="#d35661" stroke-width="1.3" stroke-linejoin="round"/>
<path d="M51.9 419.72L52.9 419.49L53.9 419.94L54.9 419.54L55.9 419.43L56.9 419.46L57.9 419.67L58.9 419.87L59.9 419.9L60.9 419.71L61.9 419.43L62.9 419.53L63.9 419.47L64.9 419.61L65.9 419.28L66.9 419.65L67.9 419.74L68.9 419.56L69.9 419.65L70.9 419.33L71.9 419.16L72.53 419.26L72.9 419.57L73.53 419.42L73.9 419.03L74.53 419.09L74.9 418.54L75.03 418.79L75.53 417.93L75.9 416.86L75.94 416.99L76.24 415.29L76.53 414.7L76.74 414.7L76.9 414.7L76.94 414.7L77.03 414.7L77.14 414.7L77.24 414.7L77.33 414.7L77.39 414.7L77.44 414.7L77.49 414.7L77.53 414.7L77.58 414.7L77.64 414.7L77.69 414.7L77.74 414.7L77.83 414.7L77.9 414.7L77.94 414.7L78.03 414.7L78.14 414.7L78.33 414.7L78.53 414.7L78.83 415.31L78.9 415.53L79.14 416.6L79.53 417.71L79.9 418.14L80.03 418.72L80.53 419.11L80.9 419.07L81.53 419L81.9 419.26L82.53 419.24L82.9 419.71L83.9 419.56L84.9 419.64L85.9 419.49L86.9 419.18L87.9 419.44L88.9 419.38L89.9 419.68L90.9 419.63L91.9 419.45L92.9 419.52L93.9 419.9L94.9 419.37L95.9 419.33L96.61 419.43L96.9 419.31L97.61 419.28L97.9 419.42L98.61 419.47L98.9 418.65L99.11 418.89L99.61 418.48L99.9 418.04L100.01 417.8L100.31 416.91L100.61 415.56L100.81 414.7L100.9 414.7L101.01 414.7L101.11 414.7L101.21 414.7L101.31 414.7L101.41 414.7L101.46 414.7L101.51 414.7L101.56 414.7L101.61 414.7L101.66 414.7L101.71 414.7L101.76 414.7L101.81 414.7L101.9 414.7L101.91 414.7L102.01 414.7L102.11 414.7L102.21 414.7L102.41 414.7L102.61 415.57L102.9 416.94L102.91 416.85L103.21 418.27L103.61 418.26L103.9 418.73L104.11 419.06L104.61 418.92L104.9 419.2L105.61 419.45L105.9 419.89L106.61 419.31L106.9 419.5L107.9 419.69L108.9 419.61L109.9 419.37L110.9 419.71L111.9 419.66L112.9 419.74L113.9 419.88L114.9 419.86L115.9 419.75L116.9 419.73L117.9 419.45L118.9 419.65L119.9 419.72L120.9 419.6L121.9 419.7L122.9 419.51L123.9 419.99L124.9 420.11L125.9 419.6L126.9 419.76L127.9 419.64L128.9 419.94L129.9 419.77L130.9 419.7L131.9 419.64L132.9 419.71L133.9 419.48L134.9 419.82L135.9 419.54L136.9 419.79L137.9 419.71L138.9 419.9L139.9 419.68L140.9 419.89L141.9 419.5L142.9 419.81L143.9 419.64L144.9 419.72L145.9 419.7L146.9 419.87L147.9 419.28L148.9 419.75L149.9 419.38L150.9 419.92L151.9 419.28L152.9 419.48L153.9 419.34L154.9 420L155.9 419.42L156.9 419.69L157.9 419.56L158.9 419.31L159.9 419.6L160.9 419.79L161.9 419.62L162.9 419.84L163.9 419.57L164.9 419.63L165.9 419.54L166.9 419.67L167.9 419.96L168.9 419.62L169.9 419.53L170.86 419.29L170.9 419.26L171.86 419.56L171.9 419.03L172.86 418.77L172.9 418.92L173.36 418.57L173.86 418.53L173.9 417.61L174.26 417.48L174.56 416.6L174.86 414.7L174.9 414.7L175.06 414.7L175.26 414.7L175.36 414.7L175.46 414.7L175.56 414.7L175.66 414.7L175.71 414.7L175.76 414.7L175.81 414.7L175.86 414.7L175.9 414.7L175.91 414.7L175.96 414.7L176.01 414.7L176.06 414.7L176.16 414.7L176.26 414.7L176.36 414.7L176.46 414.7L176.66 414.7L176.86 414.7L176.9 415.08L177.16 416.43L177.46 417.38L177.86 418.04L177.9 418.13L178.36 418.56L178.86 419.02L178.9 418.81L179.86 419.2L179.9 419.24L180.86 419.67L180.9 419.49L181.9 419.47L182.9 419.65L183.9 419.66L184.9 419.82L185.9 419.71L186.9 419.98L187.9 419.9L188.9 419.63L189.9 419.56L190.9 419.82L191.9 419.75L192.9 419.63L193.9 419.36L194.9 419.29L195.9 419.72L196.9 419.81L197.9 419.81L198.9 419.39L199.9 419.85L200.9 419.54L201.9 419.72L202.9 419.72L203.9 419.47L204.9 419.51L205.9 419.2L206.9 419.42L207.9 419.23L208.9 419.66L209.9 419.57L210.9 419.71L211.9 419.56L212.9 419.3L213.9 419.41L214.83 419.13L214.9 419.32L215.83 419.02L215.9 418.74L216.83 418.45L216.9 418.41L217.33 417.92L217.83 417.36L217.9 417.37L218.23 416L218.53 414.7L218.83 414.7L218.9 414.7L219.03 414.7L219.23 414.7L219.33 414.7L219.43 414.7L219.53 414.7L219.63 414.7L219.68 414.7L219.73 414.7L219.78 414.7L219.83 414.7L219.88 414.7L219.9 414.7L219.93 414.7L219.98 414.7L220.03 414.7L220.13 414.7L220.23 414.7L220.33 414.7L220.43 414.7L220.63 414.7L220.83 414.7L220.9 414.7L221.13 414.7L221.43 415.73L221.83 417.37L221.9 417.42L222.33 418.09L222.83 418.24L222.9 418.23L223.83 418.91L223.9 418.94L224.83 418.95L224.9 419.16L225.9 419.36L226.9 419.3L227.9 419.02L227.97 418.8L228.9 419.07L228.97 419.14L229.9 418.81L229.97 418.75L230.47 418.43L230.9 418.33L230.97 418.1L231.37 417.52L231.67 416.55L231.9 415.73L231.97 415.52L232.17 413.87L232.37 411.33L232.47 409.46L232.57 406.7L232.67 403.7L232.77 403.7L232.82 403.7L232.87 403.7L232.9 403.7L232.92 403.7L232.97 403.7L233.02 403.7L233.07 403.7L233.12 403.7L233.17 403.7L233.27 403.7L233.37 406.49L233.47 409.67L233.57 411.68L233.77 414.18L233.9 415.11L233.97 415.35L234.27 416.71L234.57 417.34L234.9 418.26L234.97 417.73L235.47 418.58L235.9 419.35L235.97 418.83L236.9 418.97L236.97 419.21L237.9 419.61L237.97 419.33L238.9 419.57L239.9 419.53L240.9 419.47L241.9 420.2L242.9 419.6L243.9 419.5L244.9 419.52L245.9 419.7L246.9 419.71L247.9 419.79L248.9 419.67L249.9 419.36L250.9 419.75L251.9 419.59L252.9 419.59L253.9 419.36L254.9 419.54L255.9 419.51L256.9 419.65L257.9 419.36L258.9 419.66L259.9 419.68L260.9 419.43L261.9 419.53L262.9 419.48L263.9 419.83L264.9 419.14L265.9 419.57L266.9 419.3L267.9 419.54L268.9 419.79L269.9 419.49L270.9 419.63L271.9 419.42L272.9 419.95L273.9 419.71L274.9 419.71L275.9 419.15L276 419.18L276.9 419.5L277 419.23L277.9 419.01L278 419.09L278.5 418.56L278.9 418.72L279 418.49L279.4 418.16L279.7 417.45L279.9 417.2L280 416.65L280.2 416.1L280.4 414.66L280.5 413.5L280.6 411.93L280.7 410.01L280.8 407.07L280.85 406.66L280.9 405.49L280.9 405.51L280.95 404.84L281 404.39L281.05 404.79L281.1 405.67L281.15 406.78L281.2 407.48L281.3 409.7L281.4 412.11L281.5 413.14L281.6 414.85L281.8 415.91L281.9 416.23L282 416.98L282.3 417.92L282.6 417.78L282.9 418.71L283 418.42L283.5 419.1L283.9 418.91L284 418.7L284.9 419.34L285 419.45L285.9 419.8L286 419.73L286.9 419.6L287.9 419.46L288.9 419.43L289.9 419.5L290.9 419.4L291.9 419.52L292.9 419.07L293.9 419.62L294.9 419.57L295.9 420.09L296.9 419.72L297.9 419.47L298.9 419.67L299.9 419.29L300.9 419.4L301.9 419.12L302.9 419.75L303.9 419.54L304.9 419.13L305.9 419.28L306.9 419.37L307.9 419.1L308.12 419.02L308.9 418.54L309.12 418.49L309.9 418.2L310.12 418.19L310.62 417.32L310.9 416.87L311.12 416.92L311.52 415.51L311.82 414.74L311.9 414.17L312.12 412.79L312.32 410.85L312.52 407.16L312.62 404.54L312.72 403.7L312.82 403.7L312.9 403.7L312.92 403.7L312.97 403.7L313.02 403.7L313.07 403.7L313.12 403.7L313.17 403.7L313.22 403.7L313.27 403.7L313.32 403.7L313.42 403.7L313.52 403.7L313.62 404.49L313.72 406.7L313.9 410.36L313.92 410.25L314.12 412.73L314.42 414.13L314.72 415.51L314.9 416.32L315.12 416.41L315.62 417.34L315.9 417.52L316.12 417.34L316.9 418.29L317.12 418.39L317.9 418.23L318.12 418.58L318.51 418.31L318.9 418.24L319.51 418.33L319.9 418.06L320.51 418.32L320.9 417.23L321.01 417.57L321.51 416.93L321.9 415.45L321.91 415.48L322.21 414.87L322.51 412.9L322.71 411.13L322.9 408.21L322.91 407.79L323.01 405.3L323.11 403.7L323.21 403.7L323.31 403.7L323.36 403.7L323.41 403.7L323.46 403.7L323.51 403.7L323.56 403.7L323.61 403.7L323.66 403.7L323.71 403.7L323.81 403.7L323.9 403.7L323.91 403.7L324.01 405.61L324.11 407.93L324.31 411.16L324.51 412.95L324.81 415.1L324.9 415.27L325.11 415.38L325.51 416.73L325.9 417.46L326.01 417.79L326.51 418.03L326.9 418.31L327.51 418.53L327.9 418.94L328.51 418.89L328.9 418.94L329.9 419.07L330.9 419.44L331.9 419.29L332.9 419.12L333.9 419.62L334.9 419.38L335.9 419.62L336.9 419.64L337.9 419.82L338.9 419.8L339.9 419.49L340.9 419.58L341.9 419.36L342.9 419.96L343.9 419.72L344.9 419.92L345.9 419.58L346.9 419.24L347.9 419.96L348.9 419.67L349.9 419.68L350.9 419.67L351.9 419.79L352.9 419.77L353.9 419.35L354.9 419.89L355.2 419.56" fill="none" stroke="#363636" stroke-width="2.6" stroke-linejoin="round"/>
<path d="M169.9 419.53L170.86 419.29L170.9 419.26L171.86 419.56L171.9 419.03L172.86 418.77L172.9 418.92L173.36 418.57L173.86 418.53L173.9 417.61L174.26 417.48L174.56 416.6L174.86 414.56L174.9 414.33L175.06 412.89L175.26 409.51L175.36 405.87L175.46 400.79L175.56 392.93L175.66 378.3L175.71 367.27L175.76 354.73L175.81 344.74L175.86 339.95L175.9 343.27L175.91 344.44L175.96 355.09L176.01 367.24L176.06 378.29L176.16 393.02L176.26 400.68L176.36 405.87L176.46 409.54L176.66 412.73L176.86 414.51L176.9 415.08L177.16 416.43L177.46 417.38L177.86 418.04L177.9 418.13L178.36 418.56L178.86 419.02L178.9 418.81L179.86 419.2L179.9 419.24L180.86 419.67L180.9 419.49M213.9 419.41L214.83 419.13L214.9 419.32L215.83 419.02L215.9 418.74L216.83 418.45L216.9 418.41L217.33 417.92L217.83 417.36L217.9 417.37L218.23 416L218.53 414.62L218.83 411.86L218.9 411.46L219.03 409.47L219.23 404.16L219.33 400.46L219.43 394.1L219.53 383.62L219.63 367.59L219.68 357.14L219.73 346.86L219.78 337.93L219.83 334.88L219.88 338.69L219.9 341.42L219.93 346.9L219.98 357.41L220.03 367.53L220.13 383.82L220.23 394.1L220.33 400.21L220.43 404.67L220.63 409.8L220.83 412.52L220.9 412.69L221.13 414.48L221.43 415.73L221.83 417.37L221.9 417.42L222.33 418.09L222.83 418.24L222.9 418.23L223.83 418.91L223.9 418.94L224.83 418.95L224.9 419.16M227.9 419.02L227.97 418.8L228.9 419.07L228.97 419.14L229.9 418.81L229.97 418.75L230.47 418.43L230.9 418.33L230.97 418.1L231.37 417.52L231.67 416.55L231.9 415.73L231.97 415.52L232.17 413.87L232.37 411.33L232.47 409.46L232.57 406.7L232.67 401.77L232.77 394.98L232.82 390.36L232.87 386.08L232.9 383.78L232.92 382.76L232.97 381.91L233.02 382.94L233.07 386.29L233.12 390.53L233.17 394.69L233.27 401.7L233.37 406.49L233.47 409.67L233.57 411.68L233.77 414.18L233.9 415.11L233.97 415.35L234.27 416.71L234.57 417.34L234.9 418.26L234.97 417.73L235.47 418.58L235.9 419.35L235.97 418.83L236.9 418.97L236.97 419.21L237.9 419.61L237.97 419.33L238.9 419.57M275.9 419.15L276 419.18L276.9 419.5L277 419.23L277.9 419.01L278 419.09L278.5 418.56L278.9 418.72L279 418.49L279.4 418.16L279.7 417.45L279.9 417.2L280 416.65L280.2 416.1L280.4 414.66L280.5 413.5L280.6 411.93L280.7 410.01L280.8 407.07L280.85 406.66L280.9 405.49L280.9 405.51L280.95 404.84L281 404.39L281.05 404.79L281.1 405.67L281.15 406.78L281.2 407.48L281.3 409.7L281.4 412.11L281.5 413.14L281.6 414.85L281.8 415.91L281.9 416.23L282 416.98L282.3 417.92L282.6 417.78L282.9 418.71L283 418.42L283.5 419.1L283.9 418.91L284 418.7L284.9 419.34L285 419.45L285.9 419.8L286 419.73L286.9 419.6M307.9 419.1L308.12 419.02L308.9 418.54L309.12 418.49L309.9 418.2L310.12 418.19L310.62 417.32L310.9 416.87L311.12 416.92L311.52 415.51L311.82 414.74L311.9 414.17L312.12 412.79L312.32 410.85L312.52 407.16L312.62 404.54L312.72 400.77L312.82 396.51L312.9 392.94L312.92 391.97L312.97 389.58L313.02 387.82L313.07 386.07L313.12 385.57L313.17 386.21L313.22 387.35L313.27 389.28L313.32 391.44L313.42 396.83L313.52 400.71L313.62 404.49L313.72 406.7L313.9 410.36L313.92 410.25L314.12 412.73L314.42 414.13L314.72 415.51L314.9 416.32L315.12 416.41L315.62 417.34L315.9 417.52L316.12 417.34L316.9 418.29L317.12 418.39L317.9 418.23L318.12 418.58L318.51 418.31L318.9 418.24M317.9 418.23L318.12 418.58L318.51 418.31L318.9 418.24L319.51 418.33L319.9 418.06L320.51 418.32L320.9 417.23L321.01 417.57L321.51 416.93L321.9 415.45L321.91 415.48L322.21 414.87L322.51 412.9L322.71 411.13L322.9 408.21L322.91 407.79L323.01 405.3L323.11 401.93L323.21 398.76L323.31 394.37L323.36 392.67L323.41 391.04L323.46 389.63L323.51 389.87L323.56 390.12L323.61 391.14L323.66 392.35L323.71 394.45L323.81 398.59L323.9 402.18L323.91 402.24L324.01 405.61L324.11 407.93L324.31 411.16L324.51 412.95L324.81 415.1L324.9 415.27L325.11 415.38L325.51 416.73L325.9 417.46L326.01 417.79L326.51 418.03L326.9 418.31L327.51 418.53L327.9 418.94L328.51 418.89L328.9 418.94" fill="none" stroke="#686868" stroke-width="1.35" stroke-linejoin="round"/>
<path d="M71.9 419.16L72.53 419.26L72.9 419.57L73.53 419.42L73.9 419.03L74.53 419.09L74.9 418.54L75.03 418.79L75.53 417.93L75.9 416.86L75.94 416.99L76.24 415.29L76.53 412.6L76.74 409.04L76.9 404.21L76.94 402.5L77.03 396.27L77.14 385.59L77.24 365.46L77.33 320.16L77.39 275.77L77.44 204.05L77.49 111.58L77.53 60.06L77.58 110.95L77.64 203.68L77.69 276.04L77.74 320.25L77.83 365.48L77.9 379.69L77.94 385.81L78.03 396.08L78.14 402.77L78.33 409.31L78.53 412.98L78.83 415.31L78.9 415.53L79.14 416.6L79.53 417.71L79.9 418.14L80.03 418.72L80.53 419.11L80.9 419.07L81.53 419L81.9 419.26L82.53 419.24L82.9 419.71M95.9 419.33L96.61 419.43L96.9 419.31L97.61 419.28L97.9 419.42L98.61 419.47L98.9 418.65L99.11 418.89L99.61 418.48L99.9 418.04L100.01 417.8L100.31 416.91L100.61 415.56L100.81 413.25L100.9 411.97L101.01 409.47L101.11 406.01L101.21 400.19L101.31 389.78L101.41 367.21L101.46 347.06L101.51 318.04L101.56 284.69L101.61 267.82L101.66 284.21L101.71 317.56L101.76 346.49L101.81 366.74L101.9 387.49L101.91 389.57L102.01 399.81L102.11 406.29L102.21 409.46L102.41 413.31L102.61 415.57L102.9 416.94L102.91 416.85L103.21 418.27L103.61 418.26L103.9 418.73L104.11 419.06L104.61 418.92L104.9 419.2L105.61 419.45L105.9 419.89L106.61 419.31L106.9 419.5" fill="none" stroke="#686868" stroke-width="1.3" stroke-linejoin="round"/>
<path d="M51.9 403.69L52.9 404.13L53.9 403.97L54.9 403.71L55.9 403.41L56.9 403.81L57.9 403.88L58.9 403.76L59.9 403.52L60.9 403.61L61.9 403.51L62.9 403.8L63.9 403.92L64.9 403.95L65.9 403.59L66.9 403.78L67.9 403.82L68.9 403.59L69.9 403.64L70.9 404.05L71.9 403.6L72.53 403.67L72.9 403.36L73.53 403.33L73.9 402.88L74.53 402.96L74.9 402.96L75.03 403.03L75.53 402.2L75.9 401.23L75.94 400.99L76.24 399.5L76.53 398.8L76.74 398.8L76.9 398.8L76.94 398.8L77.03 398.8L77.14 398.8L77.24 398.8L77.33 398.8L77.39 398.8L77.44 398.8L77.49 398.8L77.53 398.8L77.58 398.8L77.64 398.8L77.69 398.8L77.74 398.8L77.83 398.8L77.9 398.8L77.94 398.8L78.03 398.8L78.14 398.8L78.33 398.8L78.53 398.8L78.83 399.54L78.9 399.96L79.14 401.17L79.53 402.24L79.9 402.62L80.03 402.86L80.53 402.88L80.9 403.07L81.53 403.38L81.9 403.33L82.53 403.38L82.9 403.85L83.9 403.56L84.9 403.45L85.9 403.77L86.9 404.06L87.9 403.72L88.9 403.96L89.9 403.63L90.9 403.62L91.9 403.58L92.9 403.68L93.9 404.06L94.9 403.44L95.9 403.97L96.61 403.4L96.9 403.53L97.61 403.67L97.9 403.58L98.61 403.35L98.9 402.86L99.11 403.16L99.61 402.51L99.9 402.86L100.01 402.11L100.31 401.43L100.61 399.74L100.81 398.8L100.9 398.8L101.01 398.8L101.11 398.8L101.21 398.8L101.31 398.8L101.41 398.8L101.46 398.8L101.51 398.8L101.56 398.8L101.61 398.8L101.66 398.8L101.71 398.8L101.76 398.8L101.81 398.8L101.9 398.8L101.91 398.8L102.01 398.8L102.11 398.8L102.21 398.8L102.41 398.8L102.61 399.8L102.9 401.39L102.91 401.62L103.21 401.86L103.61 402.9L103.9 402.69L104.11 402.92L104.61 402.94L104.9 403.8L105.61 403.52L105.9 403.59L106.61 403.47L106.9 403.84L107.9 403.25L108.9 403.71L109.9 404.17L110.9 403.66L111.9 403.75L112.9 403.89L113.9 403.6L114.9 403.77L115.9 403.96L116.9 403.81L117.9 403.85L118.9 403.71L119.9 403.84L120.9 403.79L121.9 404.07L122.9 403.93L123.9 403.73L124.9 403.29L125.9 403.93L126.9 403.94L127.9 403.6L128.9 403.39L129.9 403.56L130.9 403.97L131.9 403.57L132.9 403.7L133.9 403.83L134.9 404.03L135.9 403.78L136.9 403.77L137.9 403.68L138.9 404.11L139.9 404L140.9 403.77L141.9 403.51L142.9 403.63L143.9 403.9L144.9 403.64L145.9 403.96L146.9 403.86L147.9 403.84L148.9 403.92L149.9 403.88L150.9 403.61L151.9 403.72L152.9 404.25L153.9 403.54L154.9 403.69L155.9 403.99L156.9 403.75L157.9 403.61L158.9 403.51L159.9 403.88L160.9 403.97L161.9 404.05L162.9 403.77L163.9 403.96L164.9 403.54L165.9 403.77L166.9 403.59L167.9 403.75L168.9 403.84L169.9 403.86L170.86 403.39L170.9 403.84L171.86 403.38L171.9 403.27L172.86 403.21L172.9 402.94L173.36 403.03L173.86 402.71L173.9 402.57L174.26 402.21L174.56 401.34L174.86 400.17L174.9 399.64L175.06 398.8L175.26 398.8L175.36 398.8L175.46 398.8L175.56 398.8L175.66 398.8L175.71 398.8L175.76 398.8L175.81 398.8L175.86 398.8L175.9 398.8L175.91 398.8L175.96 398.8L176.01 398.8L176.06 398.8L176.16 398.8L176.26 398.8L176.36 398.8L176.46 398.8L176.66 398.8L176.86 400.14L176.9 400.52L177.16 401.45L177.46 402.16L177.86 402.71L177.9 402.58L178.36 402.82L178.86 403.35L178.9 403.34L179.86 403.43L179.9 403.4L180.86 404.04L180.9 403.44L181.9 403.6L182.9 403.74L183.9 403.48L184.9 403.75L185.9 404.09L186.9 403.93L187.9 403.87L188.9 403.87L189.9 403.78L190.9 403.95L191.9 403.73L192.9 403.68L193.9 403.78L194.9 403.94L195.9 403.83L196.9 403.89L197.9 403.35L198.9 404L199.9 404.22L200.9 404.02L201.9 403.69L202.9 403.58L203.9 403.8L204.9 403.54L205.9 403.87L206.9 403.61L207.9 403.9L208.9 403.97L209.9 403.27L210.9 403.71L211.9 403.47L212.9 403.28L213.9 403.36L214.83 403.33L214.9 403.57L215.83 402.85L215.9 403.34L216.83 403.12L216.9 402.78L217.33 402.41L217.83 401.6L217.9 401.23L218.23 400.75L218.53 399.51L218.83 398.8L218.9 398.8L219.03 398.8L219.23 398.8L219.33 398.8L219.43 398.8L219.53 398.8L219.63 398.8L219.68 398.8L219.73 398.8L219.78 398.8L219.83 398.8L219.88 398.8L219.9 398.8L219.93 398.8L219.98 398.8L220.03 398.8L220.13 398.8L220.23 398.8L220.33 398.8L220.43 398.8L220.63 398.8L220.83 398.8L220.9 398.8L221.13 399.44L221.43 400.45L221.83 401.69L221.9 401.53L222.33 402.45L222.83 402.75L222.9 402.91L223.83 403.06L223.9 402.82L224.83 403.64L224.9 403.26L225.9 403.65L226.9 403.48L227.9 403.5L227.97 403.73L228.9 403.32L228.97 403.52L229.9 402.7L229.97 403.15L230.47 402.66L230.9 402.32L230.97 402.27L231.37 401.73L231.67 401.26L231.9 399.69L231.97 399.72L232.17 398.18L232.37 396.14L232.47 393.82L232.57 391.01L232.67 387.8L232.77 387.8L232.82 387.8L232.87 387.8L232.9 387.8L232.92 387.8L232.97 387.8L233.02 387.8L233.07 387.8L233.12 387.8L233.17 387.8L233.27 387.8L233.37 390.64L233.47 393.82L233.57 395.92L233.77 398.32L233.9 399.29L233.97 399.87L234.27 400.86L234.57 401.44L234.9 401.97L234.97 402.72L235.47 402.29L235.9 402.96L235.97 403.32L236.9 403.41L236.97 403.16L237.9 403.47L237.97 403.65L238.9 403.8L239.9 403.44L240.9 403.81L241.9 403.73L242.9 403.92L243.9 403.99L244.9 403.65L245.9 403.44L246.9 403.82L247.9 404.1L248.9 403.88L249.9 403.8L250.9 404.23L251.9 403.55L252.9 403.94L253.9 403.65L254.9 403.77L255.9 403.78L256.9 404.07L257.9 403.58L258.9 403.66L259.9 403.44L260.9 403.86L261.9 403.67L262.9 403.84L263.9 403.54L264.9 403.68L265.9 403.96L266.9 403.71L267.9 403.87L268.9 403.84L269.9 403.66L270.9 403.41L271.9 403.9L272.9 403.72L273.9 403.86L274.9 403.22L275.9 403.23L276 403.12L276.9 403.28L277 403.64L277.9 403.36L278 403.22L278.5 403.07L278.9 402.97L279 402.69L279.4 402.47L279.7 402L279.9 401.11L280 401.21L280.2 400.79L280.4 399.17L280.5 398.25L280.6 396.86L280.7 395.21L280.8 393.56L280.85 392.31L280.9 391.34L280.9 390.88L280.95 390.86L281 390.39L281.05 390.61L281.1 391.7L281.15 392.51L281.2 392.95L281.3 395.47L281.4 397.08L281.5 398.12L281.6 399.39L281.8 400.19L281.9 400.72L282 401L282.3 401.75L282.6 402.57L282.9 402.41L283 402.52L283.5 402.85L283.9 403.23L284 403.15L284.9 403.59L285 403.29L285.9 403.28L286 403.44L286.9 403.61L287.9 403.46L288.9 403.73L289.9 404.05L290.9 403.58L291.9 403.72L292.9 403.98L293.9 403.59L294.9 403.55L295.9 403.5L296.9 403.79L297.9 403.81L298.9 403.68L299.9 403.71L300.9 403.94L301.9 403.85L302.9 403.37L303.9 403.63L304.9 403.62L305.9 403.69L306.9 403.43L307.9 403.23L308.12 403.24L308.9 402.82L309.12 403.12L309.9 402.72L310.12 402.82L310.62 402.19L310.9 402.06L311.12 401.69L311.52 401.03L311.82 400.63L311.9 400.13L312.12 399.34L312.32 397.66L312.52 395.65L312.62 393.59L312.72 391.61L312.82 388.83L312.9 387.8L312.92 387.8L312.97 387.8L313.02 387.8L313.07 387.8L313.12 387.8L313.17 387.8L313.22 387.8L313.27 387.8L313.32 387.8L313.42 388.84L313.52 391.78L313.62 394.16L313.72 395.79L313.9 397.59L313.92 397.61L314.12 399.22L314.42 400.43L314.72 401.43L314.9 401.45L315.12 401.8L315.62 402.49L315.9 402.44L316.12 402.63L316.9 403.3L317.12 403.32L317.9 403.28L318.12 403.23L318.51 403.01L318.9 403.33L319.51 403.22L319.9 403.23L320.51 403L320.9 403L321.01 402.94L321.51 402.82L321.9 402.77L321.91 402.56L322.21 401.82L322.51 401.4L322.71 400.67L322.9 399.86L322.91 400.09L323.01 399.31L323.11 398.15L323.21 397.14L323.31 395.62L323.36 394.87L323.41 394.36L323.46 394.13L323.51 394.46L323.56 394.03L323.61 394.88L323.66 395.41L323.71 395.73L323.81 397.07L323.9 398.09L323.91 398.27L324.01 399.38L324.11 400L324.31 401.21L324.51 401.87L324.81 402.27L324.9 402.39L325.11 402.54L325.51 402.92L325.9 402.82L326.01 403.17L326.51 403.28L326.9 403.16L327.51 403.86L327.9 403.28L328.51 403.36L328.9 403.62L329.9 403.23L330.9 403.49L331.9 403.37L332.9 403.5L333.9 403.68L334.9 403.78L335.9 403.95L336.9 403.89L337.9 403.98L338.9 403.86L339.9 403.65L340.9 403.97L341.9 403.66L342.9 403.63L343.9 404.07L344.9 403.92L345.9 403.81L346.9 403.92L347.9 403.94L348.9 403.5L349.9 403.75L350.9 403.53L351.9 403.8L352.9 403.64L353.9 404.04L354.9 403.88L355.2 403.61" fill="none" stroke="#76d29a" stroke-width="2.6" stroke-linejoin="round"/>
<path d="M169.9 403.86L170.86 403.39L170.9 403.84L171.86 403.38L171.9 403.27L172.86 403.21L172.9 402.94L173.36 403.03L173.86 402.71L173.9 402.57L174.26 402.21L174.56 401.34L174.86 400.17L174.9 399.64L175.06 398.72L175.26 395.87L175.36 393.64L175.46 390.06L175.56 383.94L175.66 372.7L175.71 364.85L175.76 356.13L175.81 348.38L175.86 345.06L175.9 347.43L175.91 348.54L175.96 356.29L176.01 365.16L176.06 372.83L176.16 383.72L176.26 389.99L176.36 393.79L176.46 396.09L176.66 398.71L176.86 400.14L176.9 400.52L177.16 401.45L177.46 402.16L177.86 402.71L177.9 402.58L178.36 402.82L178.86 403.35L178.9 403.34L179.86 403.43L179.9 403.4L180.86 404.04L180.9 403.44M213.9 403.36L214.83 403.33L214.9 403.57L215.83 402.85L215.9 403.34L216.83 403.12L216.9 402.78L217.33 402.41L217.83 401.6L217.9 401.23L218.23 400.75L218.53 399.51L218.83 397.51L218.9 397.16L219.03 395.1L219.23 390.72L219.33 387.29L219.43 381.12L219.53 372.26L219.63 358.39L219.68 349.33L219.73 340.34L219.78 332.75L219.83 330.3L219.88 333.18L219.9 335.74L219.93 340.21L219.98 349.68L220.03 358.7L220.13 372.32L220.23 381.49L220.33 387.14L220.43 390.69L220.63 395.27L220.83 397.6L220.9 397.8L221.13 399.44L221.43 400.45L221.83 401.69L221.9 401.53L222.33 402.45L222.83 402.75L222.9 402.91L223.83 403.06L223.9 402.82L224.83 403.64L224.9 403.26M227.9 403.5L227.97 403.73L228.9 403.32L228.97 403.52L229.9 402.7L229.97 403.15L230.47 402.66L230.9 402.32L230.97 402.27L231.37 401.73L231.67 401.26L231.9 399.69L231.97 399.72L232.17 398.18L232.37 396.14L232.47 393.82L232.57 391.01L232.67 386.24L232.77 379.59L232.82 375.47L232.87 371.06L232.9 369.11L232.92 367.67L232.97 366.79L233.02 368.12L233.07 371.03L233.12 375.5L233.17 379.04L233.27 385.95L233.37 390.64L233.47 393.82L233.57 395.92L233.77 398.32L233.9 399.29L233.97 399.87L234.27 400.86L234.57 401.44L234.9 401.97L234.97 402.72L235.47 402.29L235.9 402.96L235.97 403.32L236.9 403.41L236.97 403.16L237.9 403.47L237.97 403.65L238.9 403.8M275.9 403.23L276 403.12L276.9 403.28L277 403.64L277.9 403.36L278 403.22L278.5 403.07L278.9 402.97L279 402.69L279.4 402.47L279.7 402L279.9 401.11L280 401.21L280.2 400.79L280.4 399.17L280.5 398.25L280.6 396.86L280.7 395.21L280.8 393.56L280.85 392.31L280.9 391.34L280.9 390.88L280.95 390.86L281 390.39L281.05 390.61L281.1 391.7L281.15 392.51L281.2 392.95L281.3 395.47L281.4 397.08L281.5 398.12L281.6 399.39L281.8 400.19L281.9 400.72L282 401L282.3 401.75L282.6 402.57L282.9 402.41L283 402.52L283.5 402.85L283.9 403.23L284 403.15L284.9 403.59L285 403.29L285.9 403.28L286 403.44L286.9 403.61M307.9 403.23L308.12 403.24L308.9 402.82L309.12 403.12L309.9 402.72L310.12 402.82L310.62 402.19L310.9 402.06L311.12 401.69L311.52 401.03L311.82 400.63L311.9 400.13L312.12 399.34L312.32 397.66L312.52 395.65L312.62 393.59L312.72 391.61L312.82 388.83L312.9 386.56L312.92 385.74L312.97 384.14L313.02 383.08L313.07 382.08L313.12 381.84L313.17 382.2L313.22 382.9L313.27 384.11L313.32 385.76L313.42 388.84L313.52 391.78L313.62 394.16L313.72 395.79L313.9 397.59L313.92 397.61L314.12 399.22L314.42 400.43L314.72 401.43L314.9 401.45L315.12 401.8L315.62 402.49L315.9 402.44L316.12 402.63L316.9 403.3L317.12 403.32L317.9 403.28L318.12 403.23L318.51 403.01L318.9 403.33M317.9 403.28L318.12 403.23L318.51 403.01L318.9 403.33L319.51 403.22L319.9 403.23L320.51 403L320.9 403L321.01 402.94L321.51 402.82L321.9 402.77L321.91 402.56L322.21 401.82L322.51 401.4L322.71 400.67L322.9 399.86L322.91 400.09L323.01 399.31L323.11 398.15L323.21 397.14L323.31 395.62L323.36 394.87L323.41 394.36L323.46 394.13L323.51 394.46L323.56 394.03L323.61 394.88L323.66 395.41L323.71 395.73L323.81 397.07L323.9 398.09L323.91 398.27L324.01 399.38L324.11 400L324.31 401.21L324.51 401.87L324.81 402.27L324.9 402.39L325.11 402.54L325.51 402.92L325.9 402.82L326.01 403.17L326.51 403.28L326.9 403.16L327.51 403.86L327.9 403.28L328.51 403.36L328.9 403.62" fill="none" stroke="#98ddb3" stroke-width="1.35" stroke-linejoin="round"/>
<path d="M71.9 403.6L72.53 403.67L72.9 403.36L73.53 403.33L73.9 402.88L74.53 402.96L74.9 402.96L75.03 403.03L75.53 402.2L75.9 401.23L75.94 400.99L76.24 399.5L76.53 396.97L76.74 393.73L76.9 388.36L76.94 387.08L77.03 380.57L77.14 369.98L77.24 349.96L77.33 305.65L77.39 262.1L77.44 191.67L77.49 100.42L77.53 50.04L77.58 100.69L77.64 191.69L77.69 262.27L77.74 306.25L77.83 350.24L77.9 364.72L77.94 370.42L78.03 380.41L78.14 386.73L78.33 393.58L78.53 397.11L78.83 399.54L78.9 399.96L79.14 401.17L79.53 402.24L79.9 402.62L80.03 402.86L80.53 402.88L80.9 403.07L81.53 403.38L81.9 403.33L82.53 403.38L82.9 403.85M95.9 403.97L96.61 403.4L96.9 403.53L97.61 403.67L97.9 403.58L98.61 403.35L98.9 402.86L99.11 403.16L99.61 402.51L99.9 402.86L100.01 402.11L100.31 401.43L100.61 399.74L100.81 398.1L100.9 396.74L101.01 394.97L101.11 391.65L101.21 386.73L101.31 377.1L101.41 357.41L101.46 339.95L101.51 313.95L101.56 284.54L101.61 270.07L101.66 284.25L101.71 313.59L101.76 339.53L101.81 357.11L101.9 375.52L101.91 377L102.01 386.87L102.11 391.94L102.21 394.67L102.41 398.14L102.61 399.8L102.9 401.39L102.91 401.62L103.21 401.86L103.61 402.9L103.9 402.69L104.11 402.92L104.61 402.94L104.9 403.8L105.61 403.52L105.9 403.59L106.61 403.47L106.9 403.84" fill="none" stroke="#98ddb3" stroke-width="1.3" stroke-linejoin="round"/>
<path d="M51.9 385.47L52.9 385.23L53.9 385.48L54.9 385.58L55.9 385.52L56.9 385.08L57.9 385.4L58.9 385.57L59.9 385.52L60.9 385.69L61.9 385.2L62.9 385.55L63.9 385.31L64.9 385.48L65.9 385.51L66.9 385.56L67.9 385.29L68.9 385.42L69.9 385.12L70.9 385.03L71.9 385.36L72.53 385.18L72.9 384.82L73.53 384.85L73.9 384.93L74.53 384.98L74.9 384.64L75.03 384.48L75.53 383.33L75.9 382.81L75.94 382.81L76.24 381.46L76.53 380.5L76.74 380.5L76.9 380.5L76.94 380.5L77.03 380.5L77.14 380.5L77.24 380.5L77.33 380.5L77.39 380.5L77.44 380.5L77.49 380.5L77.53 380.5L77.58 380.5L77.64 380.5L77.69 380.5L77.74 380.5L77.83 380.5L77.9 380.5L77.94 380.5L78.03 380.5L78.14 380.5L78.33 380.5L78.53 380.5L78.83 381.28L78.9 381.75L79.14 382.5L79.53 383.26L79.9 384.39L80.03 384.16L80.53 384.56L80.9 384.76L81.53 384.82L81.9 384.87L82.53 385.21L82.9 385.7L83.9 385.44L84.9 385.48L85.9 385.06L86.9 385.38L87.9 385.16L88.9 385.56L89.9 385.36L90.9 385.42L91.9 385.39L92.9 385.28L93.9 385.09L94.9 385.49L95.9 385.06L96.61 385.07L96.9 385.22L97.61 385.07L97.9 385.23L98.61 385.23L98.9 384.98L99.11 384.88L99.61 384.5L99.9 384.34L100.01 383.62L100.31 383.38L100.61 381.82L100.81 380.5L100.9 380.5L101.01 380.5L101.11 380.5L101.21 380.5L101.31 380.5L101.41 380.5L101.46 380.5L101.51 380.5L101.56 380.5L101.61 380.5L101.66 380.5L101.71 380.5L101.76 380.5L101.81 380.5L101.9 380.5L101.91 380.5L102.01 380.5L102.11 380.5L102.21 380.5L102.41 380.71L102.61 382.44L102.9 383.24L102.91 383.67L103.21 383.89L103.61 384.34L103.9 384.27L104.11 385.03L104.61 384.96L104.9 385.57L105.61 385.29L105.9 385.29L106.61 384.95L106.9 385.63L107.9 385.3L108.9 385.37L109.9 384.98L110.9 385.62L111.9 385.64L112.9 385.33L113.9 385.47L114.9 385.54L115.9 385.65L116.9 385.48L117.9 385.81L118.9 385.42L119.9 385.35L120.9 385.38L121.9 384.96L122.9 385.31L123.9 385.67L124.9 385.53L125.9 385.31L126.9 385.54L127.9 385.07L128.9 385.42L129.9 385.58L130.9 385.62L131.9 385.32L132.9 385.66L133.9 385.85L134.9 385.39L135.9 385.63L136.9 385.17L137.9 385.08L138.9 385.6L139.9 385.49L140.9 385.52L141.9 385.36L142.9 385.42L143.9 385.64L144.9 385.82L145.9 385.43L146.9 385.15L147.9 385.73L148.9 385.6L149.9 385.61L150.9 385.51L151.9 385.94L152.9 385.49L153.9 385.57L154.9 385.1L155.9 385.35L156.9 385.33L157.9 385.46L158.9 385.53L159.9 385.31L160.9 385.81L161.9 385.24L162.9 385.36L163.9 385.49L164.9 385.19L165.9 385.54L166.9 385.55L167.9 385.34L168.9 385.76L169.9 385.36L170.86 385.34L170.9 385.09L171.86 384.84L171.9 385.04L172.86 384.88L172.9 384.84L173.36 384.89L173.86 383.88L173.9 384.09L174.26 383.46L174.56 383.41L174.86 381.82L174.9 381.59L175.06 380.5L175.26 380.5L175.36 380.5L175.46 380.5L175.56 380.5L175.66 380.5L175.71 380.5L175.76 380.5L175.81 380.5L175.86 380.5L175.9 380.5L175.91 380.5L175.96 380.5L176.01 380.5L176.06 380.5L176.16 380.5L176.26 380.5L176.36 380.5L176.46 380.5L176.66 380.87L176.86 381.62L176.9 382.1L177.16 383.48L177.46 383.74L177.86 384.04L177.9 384.68L178.36 384.84L178.86 384.71L178.9 385.12L179.86 384.97L179.9 384.91L180.86 385.25L180.9 385.19L181.9 385.12L182.9 385.3L183.9 385.2L184.9 385.43L185.9 385.42L186.9 385.58L187.9 385.35L188.9 385.18L189.9 385.18L190.9 385.4L191.9 385.76L192.9 385.62L193.9 385.32L194.9 385.64L195.9 385.22L196.9 385.65L197.9 385.37L198.9 385.6L199.9 385.57L200.9 385.39L201.9 385.51L202.9 385.22L203.9 385.42L204.9 385.64L205.9 386.24L206.9 385.55L207.9 385.42L208.9 385.18L209.9 385.58L210.9 385.01L211.9 385.14L212.9 385.33L213.9 384.93L214.83 385.37L214.9 385.27L215.83 384.73L215.9 384.71L216.83 384.14L216.9 384.08L217.33 384.08L217.83 383.42L217.9 383.23L218.23 382.39L218.53 381.02L218.83 380.5L218.9 380.5L219.03 380.5L219.23 380.5L219.33 380.5L219.43 380.5L219.53 380.5L219.63 380.5L219.68 380.5L219.73 380.5L219.78 380.5L219.83 380.5L219.88 380.5L219.9 380.5L219.93 380.5L219.98 380.5L220.03 380.5L220.13 380.5L220.23 380.5L220.33 380.5L220.43 380.5L220.63 380.5L220.83 380.5L220.9 380.5L221.13 380.85L221.43 382.16L221.83 383.01L221.9 383.13L222.33 383.82L222.83 384.17L222.9 384.51L223.83 384.94L223.9 384.76L224.83 384.75L224.9 385.15L225.9 384.66L226.9 384.7L227.9 385.2L227.97 385.18L228.9 385.14L228.97 384.89L229.9 384.44L229.97 384.56L230.47 384.51L230.9 383.88L230.97 383.82L231.37 383.07L231.67 382.39L231.9 381.92L231.97 381.49L232.17 379.78L232.37 377.38L232.47 375.48L232.57 372.72L232.67 369.5L232.77 369.5L232.82 369.5L232.87 369.5L232.9 369.5L232.92 369.5L232.97 369.5L233.02 369.5L233.07 369.5L233.12 369.5L233.17 369.5L233.27 369.5L233.37 372.65L233.47 375.83L233.57 377.77L233.77 379.92L233.9 380.98L233.97 381.41L234.27 382.37L234.57 383.19L234.9 384.1L234.97 383.68L235.47 384.65L235.9 384.75L235.97 384.69L236.9 385.12L236.97 385.12L237.9 385.41L237.97 385.09L238.9 385.21L239.9 385.26L240.9 385.72L241.9 385.56L242.9 385.2L243.9 385.34L244.9 385.27L245.9 385.43L246.9 385.47L247.9 385.9L248.9 385.07L249.9 385.65L250.9 385.53L251.9 385.31L252.9 385.42L253.9 385.35L254.9 385.46L255.9 385.66L256.9 385.15L257.9 385.72L258.9 385.38L259.9 385.76L260.9 385.54L261.9 385.7L262.9 385.57L263.9 385.67L264.9 385.46L265.9 385.28L266.9 385.58L267.9 385.59L268.9 385.86L269.9 385.03L270.9 385.38L271.9 385.63L272.9 385.15L273.9 385.33L274.9 385.77L275.9 385.58L276 385.11L276.9 385.49L277 385.43L277.9 385.2L278 385.1L278.5 384.92L278.9 384.52L279 384.54L279.4 384.5L279.7 384.04L279.9 384.04L280 383.39L280.2 382.36L280.4 381.74L280.5 381.08L280.6 380.06L280.7 378.64L280.8 376.87L280.85 376.55L280.9 375.45L280.9 375.69L280.95 375.07L281 374.73L281.05 375.42L281.1 375.08L281.15 376.08L281.2 377.12L281.3 378.55L281.4 380.13L281.5 381.01L281.6 381.72L281.8 383.27L281.9 383.15L282 383.42L282.3 383.79L282.6 384.2L282.9 384.71L283 384.76L283.5 384.87L283.9 384.86L284 385.16L284.9 384.84L285 385.12L285.9 385.22L286 385.11L286.9 385.36L287.9 385.23L288.9 385.22L289.9 385.76L290.9 385.56L291.9 385.65L292.9 385.43L293.9 385.61L294.9 385.57L295.9 385.66L296.9 385.89L297.9 385.36L298.9 385.45L299.9 385.38L300.9 384.68L301.9 385.08L302.9 385.35L303.9 385.44L304.9 385.16L305.9 385.45L306.9 385.4L307.9 384.93L308.12 385.27L308.9 385.16L309.12 384.84L309.9 384.24L310.12 384.6L310.62 383.91L310.9 383.58L311.12 383.39L311.52 382.54L311.82 382.03L311.9 381.68L312.12 380.68L312.32 379.03L312.52 376.25L312.62 374.48L312.72 372.21L312.82 369.5L312.9 369.5L312.92 369.5L312.97 369.5L313.02 369.5L313.07 369.5L313.12 369.5L313.17 369.5L313.22 369.5L313.27 369.5L313.32 369.5L313.42 369.5L313.52 372.11L313.62 374.69L313.72 376.55L313.9 378.06L313.92 378.72L314.12 380.26L314.42 381.74L314.72 382.65L314.9 383.15L315.12 383.45L315.62 383.85L315.9 384.1L316.12 384.58L316.9 384.44L317.12 384.68L317.9 385.08L318.12 384.86L318.51 384.41L318.9 384.91L319.51 384.73L319.9 384.75L320.51 384.87L320.9 384.63L321.01 384.44L321.51 384.41L321.9 383.97L321.91 383.89L322.21 383.51L322.51 382.8L322.71 381.91L322.9 380.66L322.91 380.71L323.01 379.57L323.11 378.3L323.21 377.31L323.31 375.34L323.36 374.6L323.41 373.93L323.46 373.53L323.51 373.38L323.56 373.54L323.61 373.79L323.66 374.78L323.71 375.24L323.81 377.25L323.9 378.09L323.91 378.34L324.01 379.97L324.11 380.69L324.31 381.87L324.51 382.87L324.81 383.3L324.9 383.68L325.11 383.51L325.51 384.23L325.9 384.44L326.01 384.73L326.51 384.99L326.9 384.76L327.51 385.38L327.9 385L328.51 384.77L328.9 384.74L329.9 385.59L330.9 385.31L331.9 385.23L332.9 385.23L333.9 385.18L334.9 385.68L335.9 385.41L336.9 385.79L337.9 385.4L338.9 384.98L339.9 385.62L340.9 385.38L341.9 385.41L342.9 385.78L343.9 385.41L344.9 385.7L345.9 385.47L346.9 385.32L347.9 385.58L348.9 385.36L349.9 385.72L350.9 385.67L351.9 385.49L352.9 385.6L353.9 385.59L354.9 385.43L355.2 385.66" fill="none" stroke="#a02e6e" stroke-width="2.6" stroke-linejoin="round"/>
<path d="M169.9 385.36L170.86 385.34L170.9 385.09L171.86 384.84L171.9 385.04L172.86 384.88L172.9 384.84L173.36 384.89L173.86 383.88L173.9 384.09L174.26 383.46L174.56 383.41L174.86 381.82L174.9 381.59L175.06 380.28L175.26 378.06L175.36 375.53L175.46 372.07L175.56 365.56L175.66 355.53L175.71 347.66L175.76 338.88L175.81 331.26L175.86 327.74L175.9 329.96L175.91 331.15L175.96 338.86L176.01 347.53L176.06 355.31L176.16 365.87L176.26 372.17L176.36 375.8L176.46 377.88L176.66 380.87L176.86 381.62L176.9 382.1L177.16 383.48L177.46 383.74L177.86 384.04L177.9 384.68L178.36 384.84L178.86 384.71L178.9 385.12L179.86 384.97L179.9 384.91L180.86 385.25L180.9 385.19M213.9 384.93L214.83 385.37L214.9 385.27L215.83 384.73L215.9 384.71L216.83 384.14L216.9 384.08L217.33 384.08L217.83 383.42L217.9 383.23L218.23 382.39L218.53 381.02L218.83 379.13L218.9 378.05L219.03 376.66L219.23 372.64L219.33 368.96L219.43 363.02L219.53 354.15L219.63 340.49L219.68 331.58L219.73 321.68L219.78 314.52L219.83 311.79L219.88 314.9L219.9 317.2L219.93 322.19L219.98 331.26L220.03 340.77L220.13 354.36L220.23 363.11L220.33 368.64L220.43 372.56L220.63 376.8L220.83 378.84L220.9 379.71L221.13 380.85L221.43 382.16L221.83 383.01L221.9 383.13L222.33 383.82L222.83 384.17L222.9 384.51L223.83 384.94L223.9 384.76L224.83 384.75L224.9 385.15M227.9 385.2L227.97 385.18L228.9 385.14L228.97 384.89L229.9 384.44L229.97 384.56L230.47 384.51L230.9 383.88L230.97 383.82L231.37 383.07L231.67 382.39L231.9 381.92L231.97 381.49L232.17 379.78L232.37 377.38L232.47 375.48L232.57 372.72L232.67 367.78L232.77 361.11L232.82 356.53L232.87 352.57L232.9 350.88L232.92 349.82L232.97 348.19L233.02 349.49L233.07 352.99L233.12 356.89L233.17 361.04L233.27 368.12L233.37 372.65L233.47 375.83L233.57 377.77L233.77 379.92L233.9 380.98L233.97 381.41L234.27 382.37L234.57 383.19L234.9 384.1L234.97 383.68L235.47 384.65L235.9 384.75L235.97 384.69L236.9 385.12L236.97 385.12L237.9 385.41L237.97 385.09L238.9 385.21M275.9 385.58L276 385.11L276.9 385.49L277 385.43L277.9 385.2L278 385.1L278.5 384.92L278.9 384.52L279 384.54L279.4 384.5L279.7 384.04L279.9 384.04L280 383.39L280.2 382.36L280.4 381.74L280.5 381.08L280.6 380.06L280.7 378.64L280.8 376.87L280.85 376.55L280.9 375.45L280.9 375.69L280.95 375.07L281 374.73L281.05 375.42L281.1 375.08L281.15 376.08L281.2 377.12L281.3 378.55L281.4 380.13L281.5 381.01L281.6 381.72L281.8 383.27L281.9 383.15L282 383.42L282.3 383.79L282.6 384.2L282.9 384.71L283 384.76L283.5 384.87L283.9 384.86L284 385.16L284.9 384.84L285 385.12L285.9 385.22L286 385.11L286.9 385.36M307.9 384.93L308.12 385.27L308.9 385.16L309.12 384.84L309.9 384.24L310.12 384.6L310.62 383.91L310.9 383.58L311.12 383.39L311.52 382.54L311.82 382.03L311.9 381.68L312.12 380.68L312.32 379.03L312.52 376.25L312.62 374.48L312.72 372.21L312.82 368.86L312.9 366.75L312.92 365.3L312.97 363.53L313.02 362.47L313.07 361.43L313.12 360.92L313.17 361.23L313.22 362.33L313.27 363.81L313.32 365.49L313.42 368.87L313.52 372.11L313.62 374.69L313.72 376.55L313.9 378.06L313.92 378.72L314.12 380.26L314.42 381.74L314.72 382.65L314.9 383.15L315.12 383.45L315.62 383.85L315.9 384.1L316.12 384.58L316.9 384.44L317.12 384.68L317.9 385.08L318.12 384.86L318.51 384.41L318.9 384.91M317.9 385.08L318.12 384.86L318.51 384.41L318.9 384.91L319.51 384.73L319.9 384.75L320.51 384.87L320.9 384.63L321.01 384.44L321.51 384.41L321.9 383.97L321.91 383.89L322.21 383.51L322.51 382.8L322.71 381.91L322.9 380.66L322.91 380.71L323.01 379.57L323.11 378.3L323.21 377.31L323.31 375.34L323.36 374.6L323.41 373.93L323.46 373.53L323.51 373.38L323.56 373.54L323.61 373.79L323.66 374.78L323.71 375.24L323.81 377.25L323.9 378.09L323.91 378.34L324.01 379.97L324.11 380.69L324.31 381.87L324.51 382.87L324.81 383.3L324.9 383.68L325.11 383.51L325.51 384.23L325.9 384.44L326.01 384.73L326.51 384.99L326.9 384.76L327.51 385.38L327.9 385L328.51 384.77L328.9 384.74" fill="none" stroke="#b86292" stroke-width="1.35" stroke-linejoin="round"/>
<path d="M71.9 385.36L72.53 385.18L72.9 384.82L73.53 384.85L73.9 384.93L74.53 384.98L74.9 384.64L75.03 384.48L75.53 383.33L75.9 382.81L75.94 382.81L76.24 381.46L76.53 378.9L76.74 375.43L76.9 370.83L76.94 369.18L77.03 362.85L77.14 352.42L77.24 333.22L77.33 289.3L77.39 246.82L77.44 177.29L77.49 87.36L77.53 38.04L77.58 87.48L77.64 177.01L77.69 246.65L77.74 289.8L77.83 332.93L77.9 347.1L77.94 352.84L78.03 362.74L78.14 368.81L78.33 375.92L78.53 378.63L78.83 381.28L78.9 381.75L79.14 382.5L79.53 383.26L79.9 384.39L80.03 384.16L80.53 384.56L80.9 384.76L81.53 384.82L81.9 384.87L82.53 385.21L82.9 385.7M95.9 385.06L96.61 385.07L96.9 385.22L97.61 385.07L97.9 385.23L98.61 385.23L98.9 384.98L99.11 384.88L99.61 384.5L99.9 384.34L100.01 383.62L100.31 383.38L100.61 381.82L100.81 380.15L100.9 379.31L101.01 377.22L101.11 374.62L101.21 370.11L101.31 360.9L101.41 343.44L101.46 327.67L101.51 304.25L101.56 277.8L101.61 263.99L101.66 276.85L101.71 303.42L101.76 327.1L101.81 343.43L101.9 359.5L101.91 361.22L102.01 369.89L102.11 374.13L102.21 377.21L102.41 380.71L102.61 382.44L102.9 383.24L102.91 383.67L103.21 383.89L103.61 384.34L103.9 384.27L104.11 385.03L104.61 384.96L104.9 385.57L105.61 385.29L105.9 385.29L106.61 384.95L106.9 385.63" fill="none" stroke="#b86292" stroke-width="1.3" stroke-linejoin="round"/>
<path d="M389 501.34L390 501.65L391 501.36L392 501.7L393 501.84L394 501.58L395 501.67L395.77 501.58L396 501.87L396.77 501.35L397 501.56L397.77 501.4L398 500.91L398.27 500.08L398.77 499.51L399 499L399.18 497.87L399.48 497.56L399.77 497.58L399.98 497.6L400 497.6L400.18 497.62L400.27 497.62L400.38 497.63L400.48 497.64L400.57 497.65L400.62 497.65L400.68 497.65L400.73 497.66L400.77 497.66L400.82 497.66L400.88 497.67L400.93 497.67L400.98 497.68L401 497.68L401.07 497.68L401.18 497.69L401.27 497.7L401.38 497.7L401.57 497.72L401.77 497.73L402 497.75L402.07 497.75L402.38 498.08L402.77 499.79L403 500.29L403.27 500.83L403.77 501.85L404 501.71L404.77 502.32L405 502.49L405.77 502.21L406 502.93L407 502.86L408 503.06L409 502.71L410 503.21L411 503.17L412 502.99L413 503.74L414 503.34L415 503.16L416 503.28L417 503.45L418 503.47L419 503.26L419.89 503.29L420 503.33L420.89 502.38L421 502.52L421.89 501.8L422 501.95L422.39 501.75L422.89 500.4L423 499.6L423.29 498.71L423.59 498.72L423.89 498.73L424 498.73L424.09 498.73L424.29 498.74L424.39 498.74L424.49 498.74L424.59 498.74L424.69 498.75L424.74 498.75L424.79 498.75L424.84 498.75L424.89 498.75L424.94 498.75L424.99 498.75L425 498.75L425.04 498.76L425.09 498.76L425.19 498.76L425.29 498.76L425.39 498.76L425.49 498.77L425.69 498.77L425.89 498.78L426 498.78L426.19 498.78L426.49 498.79L426.89 500.24L427 500.88L427.39 501.41L427.89 502.15L428 502.19L428.89 502.56L429 503.33L429.89 502.67L430 503.12L431 503.61L432 503.24L433 503.83L434 504.06L435 503.58L436 503.89L437 503.59L438 504.03L439 503.95L440 504L441 504.31L442 504.1L443 504.34L444 504.18L445 503.73L446 504.11L447 504.18L448 503.71L449 504.41L450 504.11L451 504.19L452 503.88L453 504.14L454 504.2L455 504.05L456 504.16L457 503.62L458 504.49L459 503.88L460 503.62L461 503.93L462 503.97L463 504.31L464 503.95L465 504.26L466 503.95L467 504.75L468 504.33L469 504.69L470 503.95L471 504.37L472 503.97L473 504.35L474 504.38L475 503.81L476 503.93L477 503.92L478 503.84L479 504.03L480 503.97L481 503.85L482 504.24L483 504.34L484 503.88L485 504.06L486 504.2L487 504.13L488 504L489 504.36L490 504.35L491 504.28L492 504.01L493 504.5L494 504.33L494.25 503.76L495 503.69L495.25 503.95L496 503.17L496.25 503.33L496.75 502.85L497 502.38L497.25 502.12L497.65 500.87L497.95 499.99L498 499.37L498.25 499.28L498.45 499.28L498.65 499.28L498.75 499.28L498.85 499.28L498.95 499.28L499 499.28L499.05 499.28L499.1 499.28L499.15 499.28L499.2 499.28L499.25 499.28L499.3 499.28L499.35 499.28L499.4 499.28L499.45 499.28L499.55 499.28L499.65 499.28L499.75 499.28L499.85 499.28L500 499.28L500.05 499.28L500.25 499.28L500.55 499.85L500.85 501.35L501 501.15L501.25 502.21L501.75 503.13L502 503.14L502.25 503.43L503 503.7L503.25 503.84L504 503.86L504.25 503.66L505 503.9L506 504.02L507 504.41L508 504.53L509 504.26L510 503.98L511 504L512 504.15L513 504.55L514 504.29L515 504.2L516 504.03L517 504.44L518 504.29L519 504.21L520 504.25L521 504.64L522 504.18L523 504.64L524 504.53L525 504.22L526 504.43L527 504.17L528 503.98L529 504.12L530 503.94L531 504.28L532 504.14L533 504.25L534 504.28L535 503.25L536 504.04L537 503.41L538 503.74L538.29 503.42L539 503.46L539.29 503.66L540 502.5L540.29 502.74L540.79 502.11L541 501.32L541.29 501.37L541.69 499.98L541.99 499.3L542 499.3L542.29 499.3L542.49 499.3L542.69 499.3L542.79 499.3L542.89 499.3L542.99 499.3L543 499.3L543.09 499.3L543.14 499.3L543.19 499.3L543.24 499.3L543.29 499.3L543.34 499.3L543.39 499.3L543.44 499.3L543.49 499.3L543.59 499.3L543.69 499.3L543.79 499.3L543.89 499.3L544 499.3L544.09 499.3L544.29 499.3L544.59 499.3L544.89 500L545 500.26L545.29 501.33L545.79 502.36L546 502.65L546.29 502.61L547 503.19L547.29 503.86L548 503.22L548.29 503.62L549 503.91L550 503.82L551 503.98L551.45 503.85L552 503.97L552.45 504.06L553 503.61L553.45 503.61L553.95 503.37L554 503.26L554.45 503.09L554.85 502.42L555 502.69L555.15 502.67L555.45 501.88L555.65 500.89L555.85 498.81L555.95 498.26L556 496.97L556.05 496.27L556.15 494.62L556.25 491.34L556.3 490.53L556.35 489.28L556.4 488.41L556.45 488.3L556.5 488.56L556.55 489.1L556.6 490.59L556.65 491.92L556.75 493.83L556.85 496.17L556.95 497.82L557 498.23L557.05 498.79L557.25 500.61L557.45 501.43L557.75 501.86L558 502.55L558.05 502.88L558.45 502.85L558.95 503.23L559 503.88L559.45 503.98L560 503.39L560.45 503.54L561 504.04L561.45 503.7L562 503.97L563 503.98L564 504.27L565 503.52L566 503.62L567 503.88L568 504.45L569 504.16L570 503.78L571 504.34L572 504.39L573 504.16L574 504.14L575 504.33L576 504.53L577 504.26L578 504.36L579 504.21L580 504.13L581 503.99L582 504.28L583 504.14L584 504.15L585 504.44L586 504.33L587 504.42L588 503.8L589 504.33L590 504.03L591 503.97L592 503.95L593 504.45L594 504.33L595 503.92L596 503.78L597 504.02L598 503.84L599 504.27L599.55 503.41L600 503.24L600.55 503.51L601 503.45L601.55 503.25L602 503.15L602.05 503.45L602.55 502.41L602.95 501.8L603 501.4L603.25 501.34L603.55 500.42L603.75 499L603.95 497.63L604 496.79L604.05 496.55L604.15 494.88L604.25 493.01L604.35 491.62L604.4 490.76L604.45 490.21L604.5 490.39L604.55 490.43L604.6 490.81L604.65 490.63L604.7 491.08L604.75 491.5L604.85 493.51L604.95 494.89L605 495.35L605.05 496.34L605.15 497.47L605.35 498.59L605.55 500.39L605.85 501.3L606 501.53L606.15 501.82L606.55 502.91L607 503.26L607.05 503.37L607.55 502.91L608 503.22L608.55 503.77L609 503.34L609.55 503.55L610 503.34L611 504.35L612 504.21L613 504.09L614 504.06L615 503.91L616 503.92L617 504.17L618 503.83L619 504.31L620 503.86L621 503.74L622 504.25L623 503.86L624 503.98L625 503.68L626 503.15L627 503.75L628 503.14L629 503.57L630 502.66L631 502.22L631.73 502.39L632 502.24L632.73 501.55L633 500.92L633.73 500.37L634 499.23L634.23 498.93L634.73 497.17L635 495.93L635.12 495.46L635.42 492.6L635.73 488.86L635.92 488.3L636 488.3L636.12 488.3L636.23 488.3L636.33 488.3L636.42 488.3L636.52 488.3L636.58 488.3L636.62 488.3L636.67 488.3L636.73 488.3L636.77 488.3L636.83 488.3L636.88 488.3L636.92 488.3L637 488.3L637.02 488.3L637.12 488.3L637.23 488.3L637.33 488.3L637.52 488.3L637.73 488.3L638 492.46L638.02 492.23L638.33 495L638.73 496.79L639 497.86L639.23 498.63L639.73 499.55L640 499.87L640.73 501.19L641 500.82L641.73 500.79L642 501.28L642.12 501.25L643 501.08L643.12 501.15L644 499.65L644.12 499.97L644.62 499.06L645 497.73L645.12 497.35L645.52 494.61L645.83 492.9L646 491.54L646.12 488.84L646.33 488.3L646.52 488.3L646.62 488.3L646.73 488.3L646.83 488.3L646.92 488.3L646.98 488.3L647 488.3L647.02 488.3L647.08 488.3L647.12 488.3L647.17 488.3L647.23 488.3L647.27 488.3L647.33 488.3L647.42 488.3L647.52 488.3L647.62 488.3L647.73 488.3L647.92 488.3L648 488.3L648.12 489.38L648.42 493.2L648.73 495.62L649 497.32L649.12 497.72L649.62 498.95L650 500.04L650.12 500.42L651 501.36L651.12 501.89L652 502.48L652.12 502.12L653 502.87L654 503.62L655 503.75L656 503.51L657 503.88L658 503.58L659 503.47L660 504.03L661 504L662 504.11L663 504.01L664 504.12L665 503.94L666 504.2L667 504.31L668 504.11L669 504.34L670 503.7L671 503.96L672 504.53L673 504.62L674 504.25L675 504.17L676 503.88L677 504.29L678 504.4L678.6 503.84" fill="none" stroke="#5e9c22" stroke-width="2.6" stroke-linejoin="round"/>
<path d="M494 504.33L494.25 503.76L495 503.69L495.25 503.95L496 503.17L496.25 503.33L496.75 502.85L497 502.38L497.25 502.12L497.65 500.87L497.95 499.99L498 499.37L498.25 498.7L498.45 496.16L498.65 491.84L498.75 488.07L498.85 482.99L498.95 475.18L499 469.89L499.05 463.81L499.1 456.78L499.15 450.83L499.2 445.89L499.25 443.97L499.3 445.74L499.35 450.83L499.4 457.27L499.45 463.24L499.55 475.29L499.65 483.11L499.75 487.9L499.85 491.42L500 494.94L500.05 496.02L500.25 498.04L500.55 499.85L500.85 501.35L501 501.15L501.25 502.21L501.75 503.13L502 503.14L502.25 503.43L503 503.7L503.25 503.84L504 503.86L504.25 503.66L505 503.9M538 503.74L538.29 503.42L539 503.46L539.29 503.66L540 502.5L540.29 502.74L540.79 502.11L541 501.32L541.29 501.37L541.69 499.98L541.99 498.33L542 498.2L542.29 496.66L542.49 492.74L542.69 487.12L542.79 483.13L542.89 477.38L542.99 469.23L543 468.16L543.09 458.84L543.14 453.73L543.19 448.68L543.24 445.1L543.29 444.04L543.34 445.35L543.39 449.1L543.44 453.81L543.49 459.02L543.59 469.33L543.69 477.59L543.79 483.92L543.89 487.44L544 491.04L544.09 493.02L544.29 495.62L544.59 498.49L544.89 500L545 500.26L545.29 501.33L545.79 502.36L546 502.65L546.29 502.61L547 503.19L547.29 503.86L548 503.22L548.29 503.62L549 503.91M551 503.98L551.45 503.85L552 503.97L552.45 504.06L553 503.61L553.45 503.61L553.95 503.37L554 503.26L554.45 503.09L554.85 502.42L555 502.69L555.15 502.67L555.45 501.88L555.65 500.89L555.85 498.81L555.95 498.26L556 496.97L556.05 496.27L556.15 494.62L556.25 491.34L556.3 490.53L556.35 489.28L556.4 488.41L556.45 487.96L556.5 488.56L556.55 489.1L556.6 490.59L556.65 491.92L556.75 493.83L556.85 496.17L556.95 497.82L557 498.23L557.05 498.79L557.25 500.61L557.45 501.43L557.75 501.86L558 502.55L558.05 502.88L558.45 502.85L558.95 503.23L559 503.88L559.45 503.98L560 503.39L560.45 503.54L561 504.04L561.45 503.7L562 503.97M599 504.27L599.55 503.41L600 503.24L600.55 503.51L601 503.45L601.55 503.25L602 503.15L602.05 503.45L602.55 502.41L602.95 501.8L603 501.4L603.25 501.34L603.55 500.42L603.75 499L603.95 497.63L604 496.79L604.05 496.55L604.15 494.88L604.25 493.01L604.35 491.62L604.4 490.76L604.45 490.21L604.5 490.39L604.55 490.43L604.6 490.81L604.65 490.63L604.7 491.08L604.75 491.5L604.85 493.51L604.95 494.89L605 495.35L605.05 496.34L605.15 497.47L605.35 498.59L605.55 500.39L605.85 501.3L606 501.53L606.15 501.82L606.55 502.91L607 503.26L607.05 503.37L607.55 502.91L608 503.22L608.55 503.77L609 503.34L609.55 503.55L610 503.34M631 502.22L631.73 502.39L632 502.24L632.73 501.55L633 500.92L633.73 500.37L634 499.23L634.23 498.93L634.73 497.17L635 495.93L635.12 495.46L635.42 492.6L635.73 488.86L635.92 484.63L636 481.95L636.12 477.84L636.23 473.88L636.33 469.01L636.42 464.01L636.52 458.47L636.58 457.04L636.62 455.41L636.67 454.14L636.73 453.48L636.77 454.18L636.83 455.08L636.88 456.98L636.92 458.9L637 462.77L637.02 463.78L637.12 469.45L637.23 473.32L637.33 477.78L637.52 484.45L637.73 488.17L638 492.46L638.02 492.23L638.33 495L638.73 496.79L639 497.86L639.23 498.63L639.73 499.55L640 499.87L640.73 501.19L641 500.82L641.73 500.79L642 501.28L642.12 501.25M641.73 500.79L642 501.28L642.12 501.25L643 501.08L643.12 501.15L644 499.65L644.12 499.97L644.62 499.06L645 497.73L645.12 497.35L645.52 494.61L645.83 492.9L646 491.54L646.12 488.84L646.33 485.22L646.52 479.68L646.62 476.04L646.73 472.09L646.83 466.77L646.92 463.03L646.98 461.51L647 460.24L647.02 459.95L647.08 459.58L647.12 459.15L647.17 459.25L647.23 459.32L647.27 461.29L647.33 463.16L647.42 467.18L647.52 471.73L647.62 476.75L647.73 479.65L647.92 485.25L648 487.22L648.12 489.38L648.42 493.2L648.73 495.62L649 497.32L649.12 497.72L649.62 498.95L650 500.04L650.12 500.42L651 501.36L651.12 501.89L652 502.48L652.12 502.12L653 502.87" fill="none" stroke="#6ea638" stroke-width="1.8" stroke-linejoin="round"/>
<path d="M395 501.67L395.77 501.58L396 501.87L396.77 501.35L397 501.56L397.77 501.4L398 500.91L398.27 500.08L398.77 499.51L399 499L399.18 497.87L399.48 496.12L399.77 492.01L399.98 486.89L400 485.84L400.18 476.75L400.27 467.79L400.38 452.94L400.48 426.15L400.57 373.59L400.62 330.72L400.68 276.44L400.73 222.71L400.77 197.93L400.82 222.43L400.88 276.24L400.93 330.76L400.98 373.45L401 390.16L401.07 425.85L401.18 453.15L401.27 467.99L401.38 476.56L401.57 486.91L401.77 491.72L402 495.69L402.07 495.92L402.38 498.08L402.77 499.79L403 500.29L403.27 500.83L403.77 501.85L404 501.71L404.77 502.32L405 502.49L405.77 502.21L406 502.93M419 503.26L419.89 503.29L420 503.33L420.89 502.38L421 502.52L421.89 501.8L422 501.95L422.39 501.75L422.89 500.4L423 499.6L423.29 498.46L423.59 496.53L423.89 492L424 489.66L424.09 487.1L424.29 476.88L424.39 468.92L424.49 454.97L424.59 431.22L424.69 388.21L424.74 356.92L424.79 320.76L424.84 288.66L424.89 275.04L424.94 288.63L424.99 321.36L425 328.58L425.04 356.94L425.09 388.3L425.19 431.53L425.29 454.83L425.39 469.09L425.49 477.76L425.69 486.93L425.89 492.12L426 494.07L426.19 496.13L426.49 498.37L426.89 500.24L427 500.88L427.39 501.41L427.89 502.15L428 502.19L428.89 502.56L429 503.33L429.89 502.67L430 503.12" fill="none" stroke="#86b559" stroke-width="1.3" stroke-linejoin="round"/>
<path d="M389 485.47L389.5 485.4L390 485.35L390.5 482.43L391 485.64L391.5 481.82L392 487.52L392.5 484.99L393 482.57L393.5 487.34L394 486.99L394.5 483.6L395 488.98L395.5 482.92L395.77 485.39L396 487L396.5 481.56L396.77 486.53L397 484.47L397.5 484.37L397.77 482.22L398 484.69L398.27 481.71L398.5 481.73L398.77 482.1L399 481.77L399.18 484.59L399.48 481.81L399.5 481.81L399.77 481.83L399.98 481.85L400 481.85L400.18 481.87L400.27 481.87L400.38 481.88L400.48 481.89L400.5 481.89L400.57 481.9L400.62 481.9L400.68 481.9L400.73 481.91L400.77 481.91L400.82 481.91L400.88 481.92L400.93 481.92L400.98 481.93L401 481.93L401.07 481.93L401.18 481.94L401.27 481.95L401.38 481.95L401.5 481.96L401.57 481.97L401.77 481.98L402 482L402.07 482L402.38 482.03L402.5 482.03L402.77 482.05L403 484.48L403.27 482.64L403.5 485.32L403.77 483.89L404 486L404.5 484.49L404.77 482.44L405 485.15L405.5 484.85L405.77 486.74L406 484.74L406.5 484.94L407 487.33L407.5 487.96L408 487.26L408.5 487.83L409 486.79L409.5 487.41L410 487.65L410.5 486.8L411 486.21L411.5 486.38L412 490.56L412.5 486.19L413 485.75L413.5 485.54L414 486.16L414.5 486.68L415 484.17L415.5 482.71L416 486.79L416.5 483.32L417 486.72L417.5 486.49L418 488.32L418.5 489.23L419 486.82L419.5 485.09L419.89 483.9L420 484.58L420.5 485.97L420.89 482.89L421 485.86L421.5 485.45L421.89 486.34L422 484.47L422.39 484.77L422.5 483.07L422.89 482.95L423 482.95L423.29 482.96L423.5 483.45L423.59 482.97L423.89 482.98L424 482.98L424.09 482.98L424.29 482.99L424.39 482.99L424.49 482.99L424.5 482.99L424.59 482.99L424.69 483L424.74 483L424.79 483L424.84 483L424.89 483L424.94 483L424.99 483L425 483L425.04 483.01L425.09 483.01L425.19 483.01L425.29 483.01L425.39 483.01L425.49 483.02L425.5 483.02L425.69 483.02L425.89 483.03L426 483.03L426.19 483.03L426.49 483.04L426.5 483.04L426.89 483.91L427 484.07L427.39 484.51L427.5 483.44L427.89 489.2L428 485.15L428.5 484.24L428.89 488.99L429 487.13L429.5 485.54L429.89 488.43L430 486.61L430.5 487.57L431 486.92L431.5 484.73L432 488.34L432.5 486.94L433 484.9L433.5 485.37L434 488.45L434.5 486.13L435 486.89L435.5 487.98L436 487.07L436.5 484.16L437 488L437.5 488.55L438 488.43L438.5 489.77L439 487.57L439.5 488.31L440 489.75L440.5 486.45L441 490.02L441.5 490.02L442 488.36L442.5 490.22L443 488.49L443.5 485.47L444 489.01L444.5 487.6L445 487.75L445.5 487.31L446 489.41L446.5 488.01L447 485.85L447.5 487.91L448 488.34L448.5 485.81L449 486.33L449.5 486.42L450 486.04L450.5 487.7L451 488.86L451.5 490.37L452 489.17L452.5 488.87L453 489.09L453.5 489.42L454 486.47L454.5 488.32L455 487.68L455.5 486.91L456 486.36L456.5 486.27L457 486.68L457.5 485.03L458 488.04L458.5 487.12L459 487.34L459.5 487.74L460 488.4L460.5 486.16L461 486.99L461.5 484.43L462 483.45L462.5 483.88L463 489.78L463.5 484.08L464 487.98L464.5 489.68L465 486.41L465.5 489.94L466 490.31L466.5 488.78L467 491.19L467.5 488.24L468 485.97L468.5 488.08L469 486.46L469.5 485.02L470 485.07L470.5 491.08L471 486.31L471.5 487.17L472 486.11L472.5 487.45L473 486.82L473.5 486.54L474 485.21L474.5 484.88L475 485.99L475.5 487.72L476 490.68L476.5 488.98L477 490.26L477.5 488.04L478 487.09L478.5 485.05L479 487.24L479.5 483.7L480 486.75L480.5 489.92L481 487.78L481.5 489.1L482 486.61L482.5 484.98L483 486.46L483.5 486.59L484 489.21L484.5 490.47L485 486.03L485.5 486.65L486 486.99L486.5 486.66L487 485.2L487.5 487.37L488 487.81L488.5 487.84L489 485.24L489.5 487.01L490 484.36L490.5 488.65L491 485.51L491.5 486.7L492 486.4L492.5 486.16L493 485.36L493.5 484.18L494 489.76L494.25 487.35L494.5 487.33L495 490.18L495.25 486.59L495.5 487.57L496 486.53L496.25 488.27L496.5 487.01L496.75 486.51L497 485.34L497.25 485.85L497.5 486.8L497.65 483.53L497.95 483.53L498 483.53L498.25 483.53L498.45 483.53L498.5 483.53L498.65 483.53L498.75 483.53L498.85 483.53L498.95 483.53L499 483.53L499.05 483.53L499.1 483.53L499.15 483.53L499.2 483.53L499.25 483.53L499.3 483.53L499.35 483.53L499.4 483.53L499.45 483.53L499.5 483.53L499.55 483.53L499.65 483.53L499.75 483.53L499.85 483.53L500 483.53L500.05 483.53L500.25 483.53L500.5 483.53L500.55 483.53L500.85 486.79L501 485.7L501.25 487.19L501.5 483.53L501.75 486.53L502 487.9L502.25 489.51L502.5 486.55L503 483.97L503.25 487.7L503.5 485.87L504 484.08L504.25 485.97L504.5 488.66L505 488.94L505.5 488.22L506 485.46L506.5 491.11L507 485.32L507.5 487.06L508 484.93L508.5 489.28L509 487.92L509.5 488.62L510 487.38L510.5 487.14L511 487.52L511.5 484.31L512 488.81L512.5 488.69L513 486.66L513.5 487.25L514 487.74L514.5 489.72L515 487.95L515.5 487.35L516 486.5L516.5 484.96L517 486.36L517.5 487.4L518 486.9L518.5 487.41L519 488.44L519.5 487.96L520 487.72L520.5 488.3L521 487.58L521.5 487.24L522 488.01L522.5 484.64L523 489.21L523.5 485.32L524 488.57L524.5 487.31L525 488.97L525.5 487.34L526 485.84L526.5 488.91L527 487.56L527.5 487.45L528 487.39L528.5 488.78L529 488.5L529.5 487.6L530 484.9L530.5 486.63L531 487.39L531.5 489.93L532 487.79L532.5 487.07L533 488.99L533.5 487.01L534 487.12L534.5 487.37L535 484.87L535.5 488.51L536 487.68L536.5 486.58L537 485.24L537.5 487.2L538 488.88L538.29 485.78L538.5 485.11L539 487.16L539.29 484.06L539.5 483.55L540 485.39L540.29 484.8L540.5 485.21L540.79 484.46L541 485.45L541.29 484.06L541.5 483.55L541.69 483.55L541.99 483.55L542 483.55L542.29 483.55L542.49 483.55L542.5 483.55L542.69 483.55L542.79 483.55L542.89 483.55L542.99 483.55L543 483.55L543.09 483.55L543.14 483.55L543.19 483.55L543.24 483.55L543.29 483.55L543.34 483.55L543.39 483.55L543.44 483.55L543.49 483.55L543.5 483.55L543.59 483.55L543.69 483.55L543.79 483.55L543.89 483.55L544 483.55L544.09 483.55L544.29 483.55L544.5 483.55L544.59 483.55L544.89 483.55L545 483.75L545.29 487.3L545.5 483.55L545.79 486.07L546 485.53L546.29 485.62L546.5 485.39L547 485.79L547.29 487.9L547.5 487.33L548 485.14L548.29 488.94L548.5 484.81L549 487.74L549.5 487.09L550 488.6L550.5 487.39L551 488.41L551.45 486.82L551.5 488.27L552 487.32L552.45 489.88L552.5 485.75L553 488.39L553.45 487.2L553.5 486.77L553.95 485.48L554 486.92L554.45 483.81L554.5 483.91L554.85 486.48L555 483.55L555.15 486.94L555.45 483.55L555.5 484.02L555.65 483.55L555.85 483.55L555.95 483.55L556 483.55L556.05 483.55L556.15 483.55L556.25 483.55L556.3 483.55L556.35 483.55L556.4 483.55L556.45 483.55L556.5 483.55L556.55 483.55L556.6 483.55L556.65 483.55L556.75 483.55L556.85 483.55L556.95 483.55L557 483.55L557.05 483.55L557.25 483.55L557.45 483.55L557.5 484.89L557.75 483.67L558 484.79L558.05 484.12L558.45 485.94L558.5 486.15L558.95 487.78L559 487.55L559.45 486.86L559.5 486.99L560 486.96L560.45 487.06L560.5 489.12L561 483.55L561.45 486.8L561.5 487.5L562 488.71L562.5 485.58L563 487.66L563.5 488.41L564 486.58L564.5 484.52L565 486.73L565.5 485.56L566 488.18L566.5 486.07L567 489.79L567.5 487.48L568 486.16L568.5 486.59L569 485.77L569.5 487.85L570 489.4L570.5 487.01L571 488.61L571.5 486L572 487.75L572.5 490.53L573 485.36L573.5 489.04L574 488.95L574.5 484.71L575 485.33L575.5 485.97L576 488.67L576.5 486.73L577 487.09L577.5 488.3L578 487.49L578.5 487.64L579 486.88L579.5 488.87L580 486.25L580.5 489.62L581 486.86L581.5 486.23L582 488.2L582.5 487.93L583 484.61L583.5 487.62L584 485.47L584.5 486.18L585 488.38L585.5 486.13L586 487.78L586.5 486.78L587 489.91L587.5 487.16L588 485.7L588.5 485.79L589 486.06L589.5 487.44L590 487.26L590.5 488.56L591 487.48L591.5 487.42L592 487.67L592.5 487.06L593 487.61L593.5 488.25L594 488.24L594.5 486.45L595 484.81L595.5 486.07L596 487.5L596.5 483.8L597 486.44L597.5 487.63L598 486.25L598.5 485.47L599 489.2L599.5 488.63L599.55 486.45L600 488.45L600.5 488.29L600.55 485.08L601 489.94L601.5 484.95L601.55 485.81L602 484.42L602.05 485.92L602.5 483.66L602.55 485.31L602.95 486.1L603 484.86L603.25 483.59L603.5 484.98L603.55 483.55L603.75 483.55L603.95 483.55L604 483.55L604.05 483.55L604.15 483.55L604.25 483.55L604.35 483.55L604.4 483.55L604.45 483.55L604.5 483.55L604.55 483.55L604.6 483.55L604.65 483.55L604.7 483.55L604.75 483.55L604.85 483.55L604.95 483.55L605 483.55L605.05 483.55L605.15 483.55L605.35 483.55L605.5 483.55L605.55 483.55L605.85 483.55L606 485.13L606.15 483.55L606.5 485.57L606.55 484.64L607 484.12L607.05 483.72L607.5 486.66L607.55 486.59L608 487.3L608.5 488.84L608.55 486.83L609 486.96L609.5 486.53L609.55 486.84L610 486.31L610.5 485.67L611 489.44L611.5 484.51L612 487.26L612.5 487.52L613 487.17L613.5 485.76L614 486.75L614.5 486.42L615 485.64L615.5 486.96L616 486.5L616.5 486.31L617 487.88L617.5 485.67L618 487.56L618.5 486.23L619 487.53L619.5 487.07L620 487.28L620.5 485.73L621 485.97L621.5 485.86L622 487.14L622.5 487.84L623 488.23L623.5 486.23L624 486.94L624.5 484.79L625 484.01L625.5 485.66L626 485.87L626.5 484.72L627 484.39L627.5 487.19L628 485.47L628.5 484.3L629 489.15L629.5 486.38L630 485.64L630.5 486.7L631 484.73L631.5 487.37L631.73 483.55L632 483.55L632.5 484.54L632.73 483.56L633 485.92L633.5 483.55L633.73 483.55L634 483.55L634.23 483.55L634.5 483.55L634.73 483.55L635 483.55L635.12 483.55L635.42 483.55L635.5 483.55L635.73 483.55L635.92 483.55L636 483.55L636.12 483.55L636.23 483.55L636.33 483.55L636.42 483.55L636.5 483.55L636.52 483.55L636.58 483.55L636.62 483.55L636.67 483.55L636.73 483.55L636.77 483.55L636.83 483.55L636.88 483.55L636.92 483.55L637 483.55L637.02 483.55L637.12 483.55L637.23 483.55L637.33 483.55L637.5 483.55L637.52 483.55L637.73 483.55L638 483.55L638.02 483.55L638.33 483.55L638.5 483.55L638.73 483.55L639 483.55L639.23 483.55L639.5 483.55L639.73 483.55L640 483.96L640.5 483.55L640.73 483.55L641 484.47L641.5 483.55L641.73 484.54L642 483.55L642.12 484.33L642.5 485.21L643 484.1L643.12 483.55L643.5 484.14L644 483.55L644.12 483.55L644.5 483.64L644.62 483.55L645 483.55L645.12 483.55L645.5 483.55L645.52 483.55L645.83 483.55L646 483.55L646.12 483.55L646.33 483.55L646.5 483.55L646.52 483.55L646.62 483.55L646.73 483.55L646.83 483.55L646.92 483.55L646.98 483.55L647 483.55L647.02 483.55L647.08 483.55L647.12 483.55L647.17 483.55L647.23 483.55L647.27 483.55L647.33 483.55L647.42 483.55L647.5 483.55L647.52 483.55L647.62 483.55L647.73 483.55L647.92 483.55L648 483.55L648.12 483.55L648.42 483.55L648.5 483.55L648.73 483.55L649 483.55L649.12 483.55L649.5 483.55L649.62 483.55L650 483.55L650.12 484.11L650.5 485.29L651 483.98L651.12 483.55L651.5 484.93L652 483.55L652.12 484.55L652.5 486.94L653 488.43L653.5 486.35L654 484.82L654.5 487.09L655 483.69L655.5 485.58L656 488.23L656.5 487.39L657 484.99L657.5 484.72L658 487.67L658.5 486.67L659 486.08L659.5 487.27L660 486.16L660.5 484.65L661 487.8L661.5 486.15L662 485.77L662.5 485.41L663 487.23L663.5 486.05L664 487.69L664.5 486.69L665 488.23L665.5 486.57L666 486.28L666.5 484.81L667 485.8L667.5 487.86L668 490.49L668.5 485.66L669 485.91L669.5 487.46L670 487.62L670.5 486.33L671 487.18L671.5 485.31L672 486.77L672.5 488.11L673 488.93L673.5 486.93L674 486.84L674.5 487.63L675 488.35L675.5 487.67L676 486.31L676.5 487.53L677 488.21L677.5 486.36L678 485.68L678.5 487.71L678.6 487.55" fill="none" stroke="#e0165e" stroke-width="2.6" stroke-linejoin="round"/>
<path d="M493.5 484.18L494 489.76L494.25 487.35L494.5 487.33L495 490.18L495.25 486.59L495.5 487.57L496 486.53L496.25 488.27L496.5 487.01L496.75 486.51L497 485.34L497.25 485.85L497.5 486.8L497.65 481.24L497.95 483.31L498 482.62L498.25 481.21L498.45 476.38L498.5 479.95L498.65 474.29L498.75 472.04L498.85 466.78L498.95 457.69L499 454.86L499.05 447.08L499.1 442.49L499.15 437.73L499.2 433.92L499.25 432.4L499.3 433.71L499.35 441.65L499.4 444.69L499.45 448.07L499.5 454.6L499.55 459.31L499.65 467.31L499.75 471.44L499.85 474.28L500 481.41L500.05 479.61L500.25 481.16L500.5 482.89L500.55 483.18L500.85 486.79L501 485.7L501.25 487.19L501.5 480.79L501.75 486.53L502 487.9L502.25 489.51L502.5 486.55L503 483.97L503.25 487.7L503.5 485.87L504 484.08L504.25 485.97L504.5 488.66L505 488.94M537.5 487.2L538 488.88L538.29 485.78L538.5 485.11L539 487.16L539.29 484.06L539.5 483.04L540 485.39L540.29 484.8L540.5 485.21L540.79 484.46L541 485.45L541.29 484.06L541.5 482.95L541.69 482.52L541.99 482.66L542 483.07L542.29 480.55L542.49 477.33L542.5 471.2L542.69 469.72L542.79 466.67L542.89 461.74L542.99 451.18L543 454.56L543.09 444.13L543.14 437.44L543.19 433.97L543.24 429.97L543.29 428.2L543.34 431.23L543.39 433.14L543.44 436.38L543.49 442.75L543.5 444.78L543.59 451.97L543.69 463.36L543.79 465.58L543.89 473.82L544 475.77L544.09 474.91L544.29 479.41L544.5 482.88L544.59 481.44L544.89 481.43L545 483.75L545.29 487.3L545.5 482.62L545.79 486.07L546 485.53L546.29 485.62L546.5 485.39L547 485.79L547.29 487.9L547.5 487.33L548 485.14L548.29 488.94L548.5 484.81L549 487.74M550.5 487.39L551 488.41L551.45 486.82L551.5 488.27L552 487.32L552.45 489.88L552.5 485.75L553 488.39L553.45 487.2L553.5 486.77L553.95 485.48L554 486.92L554.45 483.81L554.5 483.91L554.85 486.48L555 482.95L555.15 486.94L555.45 483.5L555.5 484.02L555.65 482.89L555.85 481.49L555.95 479.02L556 477.97L556.05 477.24L556.15 476.28L556.25 473.2L556.3 471.8L556.35 469.11L556.4 467.34L556.45 464.88L556.5 468.56L556.55 469.8L556.6 469.4L556.65 472.74L556.75 476.63L556.85 477.57L556.95 480.95L557 480.67L557.05 478.41L557.25 482.13L557.45 483.33L557.5 484.89L557.75 483.67L558 484.79L558.05 484.12L558.45 485.94L558.5 486.15L558.95 487.78L559 487.55L559.45 486.86L559.5 486.99L560 486.96L560.45 487.06L560.5 489.12L561 483.45L561.45 486.8L561.5 487.5L562 488.71M599 489.2L599.5 488.63L599.55 486.45L600 488.45L600.5 488.29L600.55 485.08L601 489.94L601.5 484.95L601.55 485.81L602 484.42L602.05 485.92L602.5 483.66L602.55 485.31L602.95 486.1L603 484.86L603.25 483.59L603.5 484.98L603.55 481.54L603.75 482.67L603.95 479.03L604 479.07L604.05 478.13L604.15 476.68L604.25 474.7L604.35 472.05L604.4 471.6L604.45 472.35L604.5 471.26L604.55 469.76L604.6 470.48L604.65 470.86L604.7 472.26L604.75 473.29L604.85 474.88L604.95 475.65L605 477.34L605.05 476.29L605.15 475.64L605.35 481.31L605.5 480.25L605.55 481.45L605.85 482.33L606 485.13L606.15 483.07L606.5 485.57L606.55 484.64L607 484.12L607.05 483.72L607.5 486.66L607.55 486.59L608 487.3L608.5 488.84L608.55 486.83L609 486.96L609.5 486.53L609.55 486.84L610 486.31L610.5 485.67M631 484.73L631.5 487.37L631.73 483.4L632 483.5L632.5 484.54L632.73 483.56L633 485.92L633.5 481.55L633.73 482.23L634 482.85L634.23 482.7L634.5 482.4L634.73 480.75L635 481.67L635.12 477.64L635.42 475.93L635.5 475.94L635.73 471.29L635.92 467.06L636 464.77L636.12 460.31L636.23 455.56L636.33 451.44L636.42 445.01L636.5 443.54L636.52 439.97L636.58 442.32L636.62 440.24L636.67 438.47L636.73 436.51L636.77 436.41L636.83 439.64L636.88 440L636.92 442.54L637 444.66L637.02 448.12L637.12 451.06L637.23 456.96L637.33 458.88L637.5 465.82L637.52 467.87L637.73 470.94L638 474.68L638.02 476.43L638.33 477.82L638.5 480.43L638.73 477.04L639 481.59L639.23 482.13L639.5 480.26L639.73 480.95L640 483.96L640.5 482.14L640.73 482.83L641 484.47L641.5 483.53L641.73 484.54L642 482.94L642.12 484.33L642.5 485.21M641.5 483.53L641.73 484.54L642 482.94L642.12 484.33L642.5 485.21L643 484.1L643.12 481.02L643.5 484.14L644 482.88L644.12 481.56L644.5 483.64L644.62 479.63L645 482.9L645.12 479.47L645.5 480.31L645.52 478.24L645.83 474.4L646 474.14L646.12 472.61L646.33 468.93L646.5 464.63L646.52 461.48L646.62 459.41L646.73 455.49L646.83 449.82L646.92 444.85L646.98 443.1L647 444.39L647.02 443.84L647.08 441.06L647.12 440.17L647.17 443.52L647.23 441.07L647.27 444.44L647.33 445.04L647.42 448.12L647.5 453.71L647.52 454.46L647.62 460.62L647.73 465.32L647.92 468.2L648 471.3L648.12 473.62L648.42 475.59L648.5 475.88L648.73 480.47L649 479.63L649.12 480.56L649.5 481.5L649.62 482.02L650 482.29L650.12 484.11L650.5 485.29L651 483.98L651.12 482.92L651.5 484.93L652 483.48L652.12 484.55L652.5 486.94L653 488.43" fill="none" stroke="#e32d6e" stroke-width="1.8" stroke-linejoin="round"/>
<path d="M395 488.98L395.5 482.92L395.77 485.39L396 487L396.5 480.44L396.77 486.53L397 484.47L397.5 484.37L397.77 482.22L398 484.69L398.27 481.7L398.5 481.66L398.77 482.1L399 480.02L399.18 484.59L399.48 477.39L399.5 478.26L399.77 475.92L399.98 472.23L400 472.96L400.18 465.38L400.27 455.65L400.38 442.88L400.48 420.91L400.5 413.97L400.57 377.74L400.62 339.37L400.68 290.52L400.73 252.87L400.77 230.11L400.82 249.36L400.88 295.01L400.93 339.38L400.98 374.59L401 389.97L401.07 420.48L401.18 442.49L401.27 453.57L401.38 463.35L401.5 470.96L401.57 471.42L401.77 476.69L402 475.56L402.07 479.68L402.38 481.66L402.5 480.11L402.77 480.01L403 484.48L403.27 482.64L403.5 485.32L403.77 483.89L404 486L404.5 484.49L404.77 482.44L405 485.15L405.5 484.85L405.77 486.74L406 484.74L406.5 484.94M419 486.82L419.5 485.09L419.89 483.9L420 484.58L420.5 485.97L420.89 482.02L421 485.86L421.5 485.45L421.89 486.34L422 484.47L422.39 484.77L422.5 483.07L422.89 482.69L423 479.99L423.29 482.2L423.5 483.45L423.59 480.21L423.89 476.79L424 472.12L424.09 474.05L424.29 461.22L424.39 456.19L424.49 442.29L424.5 438.7L424.59 422.2L424.69 381.43L424.74 353.09L424.79 320.5L424.84 290.12L424.89 277.08L424.94 291L424.99 318.97L425 326.51L425.04 351.58L425.09 378.73L425.19 419.15L425.29 441.23L425.39 454.79L425.49 464.77L425.5 460.22L425.69 471.74L425.89 472.21L426 476L426.19 479.07L426.49 478.01L426.5 478.78L426.89 483.91L427 484.07L427.39 484.51L427.5 483.44L427.89 489.2L428 485.15L428.5 484.24L428.89 488.99L429 487.13L429.5 485.54L429.89 488.43L430 486.61L430.5 487.57" fill="none" stroke="#e85086" stroke-width="1.3" stroke-linejoin="round"/>
<path d="M389 467.13L390 467.02L391 466.94L392 467.08L393 467L394 467.07L395 467.17L395.77 467.16L396 467.53L396.77 466.82L397 467.06L397.77 466.56L398 466.9L398.27 466.31L398.77 465.3L399 464.97L399.18 464.1L399.48 463.06L399.77 463.08L399.98 463.1L400 463.1L400.18 463.12L400.27 463.12L400.38 463.13L400.48 463.14L400.57 463.15L400.62 463.15L400.68 463.15L400.73 463.16L400.77 463.16L400.82 463.16L400.88 463.17L400.93 463.17L400.98 463.18L401 463.18L401.07 463.18L401.18 463.19L401.27 463.2L401.38 463.2L401.57 463.22L401.77 463.23L402 463.25L402.07 463.25L402.38 464.28L402.77 465.94L403 466.1L403.27 466.51L403.77 467.31L404 467.01L404.77 467.73L405 467.95L405.77 467.82L406 467.85L407 468.29L408 468.33L409 468.39L410 468.57L411 468.64L412 468.41L413 468.52L414 468.83L415 469.02L416 469.09L417 468.54L418 469L419 468.86L419.89 468.55L420 468.66L420.89 468.52L421 468.72L421.89 467.5L422 467.82L422.39 467.18L422.89 466.18L423 466.2L423.29 464.99L423.59 464.22L423.89 464.23L424 464.23L424.09 464.23L424.29 464.24L424.39 464.24L424.49 464.24L424.59 464.24L424.69 464.25L424.74 464.25L424.79 464.25L424.84 464.25L424.89 464.25L424.94 464.25L424.99 464.25L425 464.25L425.04 464.26L425.09 464.26L425.19 464.26L425.29 464.26L425.39 464.26L425.49 464.27L425.69 464.27L425.89 464.28L426 464.28L426.19 464.28L426.49 464.75L426.89 466.09L427 466.96L427.39 467.04L427.89 468.12L428 468.37L428.89 468.5L429 468.75L429.89 468.3L430 468.76L431 468.61L432 469.17L433 469.2L434 469.07L435 469.54L436 469.43L437 469.24L438 469.27L439 469.06L440 469.4L441 469.99L442 469.31L443 469.6L444 469.38L445 469.73L446 469.65L447 469.49L448 469.12L449 469.45L450 469.88L451 469.53L452 469.76L453 469.49L454 469.16L455 469.73L456 469.71L457 469.49L458 469.55L459 469.72L460 469.51L461 469.75L462 469.61L463 469.09L464 469.64L465 469.53L466 469.47L467 469.78L468 469.57L469 469.82L470 469.96L471 469.73L472 469.32L473 469.52L474 469.93L475 469.64L476 469.51L477 469.68L478 469.83L479 469.77L480 469.86L481 469.5L482 469.63L483 469.64L484 469.69L485 469.17L486 469.63L487 469.34L488 470.01L489 470.03L490 470.04L491 469.8L492 469.44L493 469.73L494 469.34L494.25 469.51L495 468.99L495.25 469L496 468.98L496.25 469.16L496.75 468.33L497 468.6L497.25 468.35L497.65 466.44L497.95 465.61L498 465.13L498.25 464.78L498.45 464.78L498.65 464.78L498.75 464.78L498.85 464.78L498.95 464.78L499 464.78L499.05 464.78L499.1 464.78L499.15 464.78L499.2 464.78L499.25 464.78L499.3 464.78L499.35 464.78L499.4 464.78L499.45 464.78L499.55 464.78L499.65 464.78L499.75 464.78L499.85 464.78L500 464.78L500.05 464.78L500.25 464.78L500.55 465.93L500.85 466.92L501 467.19L501.25 467.19L501.75 468.06L502 468.6L502.25 468.9L503 468.82L503.25 469L504 469.44L504.25 468.89L505 468.97L506 469.48L507 469.65L508 469.5L509 469.08L510 469.67L511 469.35L512 469.85L513 469.67L514 469.77L515 469.87L516 469.58L517 469.92L518 470.02L519 469.81L520 470.05L521 469.56L522 469.94L523 469.78L524 469.46L525 469.68L526 469.57L527 469.56L528 469.71L529 469.94L530 469.58L531 469.68L532 469.26L533 469.62L534 469.85L535 469.72L536 469.56L537 469.21L538 468.94L538.29 469.1L539 468.58L539.29 468.5L540 468.64L540.29 467.95L540.79 468.05L541 466.92L541.29 466.8L541.69 465.16L541.99 464.8L542 464.8L542.29 464.8L542.49 464.8L542.69 464.8L542.79 464.8L542.89 464.8L542.99 464.8L543 464.8L543.09 464.8L543.14 464.8L543.19 464.8L543.24 464.8L543.29 464.8L543.34 464.8L543.39 464.8L543.44 464.8L543.49 464.8L543.59 464.8L543.69 464.8L543.79 464.8L543.89 464.8L544 464.8L544.09 464.8L544.29 464.8L544.59 464.8L544.89 465.55L545 465.47L545.29 466.46L545.79 467.65L546 467.97L546.29 467.89L547 468.51L547.29 468.69L548 468.91L548.29 469.18L549 469.14L550 469.23L551 468.84L551.45 468.9L552 469.18L552.45 468.63L553 468.95L553.45 468.54L553.95 468.21L554 468.53L554.45 467.76L554.85 467.08L555 466.79L555.15 466.55L555.45 465.94L555.65 463.29L555.85 461.35L555.95 459.39L556 458.48L556.05 456.76L556.15 453.8L556.25 453.8L556.3 453.8L556.35 453.8L556.4 453.8L556.45 453.8L556.5 453.8L556.55 453.8L556.6 453.8L556.65 453.8L556.75 453.8L556.85 456.77L556.95 459.49L557 460.53L557.05 461.52L557.25 463.68L557.45 465.26L557.75 466.63L558 467.26L558.05 467.14L558.45 468.41L558.95 468.37L559 468.71L559.45 468.85L560 469.33L560.45 468.61L561 469.78L561.45 469.29L562 469.11L563 469.53L564 470.11L565 469.72L566 469.31L567 469.53L568 469.99L569 469.32L570 469.63L571 469.61L572 470.23L573 469.62L574 470.02L575 469.53L576 469.5L577 469.95L578 469.86L579 469.28L580 469.86L581 469.86L582 469.55L583 469.75L584 469.76L585 469.57L586 469.54L587 469.52L588 469.61L589 469.34L590 469.65L591 469.27L592 469.65L593 469.59L594 469.33L595 469.77L596 470L597 469.79L598 469.04L599 469.58L599.55 469.23L600 469.06L600.55 468.78L601 468.76L601.55 468.84L602 468.32L602.05 468.04L602.55 467.45L602.95 466.83L603 466.97L603.25 466.6L603.55 464.58L603.75 463.45L603.95 461.26L604 460.49L604.05 460.04L604.15 458.4L604.25 456.06L604.35 454.35L604.4 454.13L604.45 453.8L604.5 453.8L604.55 453.8L604.6 453.8L604.65 453.8L604.7 453.8L604.75 454.33L604.85 456.41L604.95 458.49L605 458.87L605.05 460.19L605.15 461.52L605.35 463.23L605.55 464.83L605.85 466.12L606 466.73L606.15 467.09L606.55 467.27L607 467.75L607.05 468.38L607.55 468.5L608 468.8L608.55 468.98L609 469.39L609.55 468.83L610 469.47L611 469.11L612 469.56L613 469.76L614 469.12L615 469.58L616 469.42L617 469.42L618 469.5L619 469.22L620 469.22L621 469.6L622 469.62L623 469.23L624 468.97L625 469.84L626 469.46L627 469.18L628 468.71L629 468.64L630 468.6L631 467.94L631.73 468.19L632 467.65L632.73 467.11L633 466.46L633.73 465.42L634 464.89L634.23 464.6L634.73 462.79L635 461.44L635.12 460.82L635.42 458.3L635.73 454.57L635.92 453.8L636 453.8L636.12 453.8L636.23 453.8L636.33 453.8L636.42 453.8L636.52 453.8L636.58 453.8L636.62 453.8L636.67 453.8L636.73 453.8L636.77 453.8L636.83 453.8L636.88 453.8L636.92 453.8L637 453.8L637.02 453.8L637.12 453.8L637.23 453.8L637.33 453.8L637.52 453.8L637.73 453.94L638 457.59L638.02 457.73L638.33 460.6L638.73 462.32L639 463.37L639.23 464.01L639.73 464.88L640 465.81L640.73 466.02L641 466.35L641.73 466.2L642 466.42L642.12 466.45L643 466.19L643.12 466.05L644 465.4L644.12 465.58L644.62 464.23L645 463.19L645.12 462.68L645.52 461.47L645.83 458.93L646 456.72L646.12 454.95L646.33 453.8L646.52 453.8L646.62 453.8L646.73 453.8L646.83 453.8L646.92 453.8L646.98 453.8L647 453.8L647.02 453.8L647.08 453.8L647.12 453.8L647.17 453.8L647.23 453.8L647.27 453.8L647.33 453.8L647.42 453.8L647.52 453.8L647.62 453.8L647.73 453.8L647.92 453.8L648 453.8L648.12 455.06L648.42 458.82L648.73 461.54L649 462.3L649.12 462.76L649.62 464.66L650 465.65L650.12 465.88L651 467.24L651.12 466.73L652 467.58L652.12 467.82L653 468.49L654 468.73L655 468.75L656 468.77L657 469.36L658 469.48L659 469.98L660 469.34L661 469.83L662 469.17L663 469.37L664 469.37L665 469.44L666 469.36L667 469.46L668 469.6L669 469.52L670 469.8L671 469.63L672 469.66L673 470.03L674 469.75L675 469.72L676 469.68L677 469.71L678 469.84L678.6 469.51" fill="none" stroke="#a00c2a" stroke-width="2.6" stroke-linejoin="round"/>
<path d="M494 469.34L494.25 469.51L495 468.99L495.25 469L496 468.98L496.25 469.16L496.75 468.33L497 468.6L497.25 468.35L497.65 466.44L497.95 465.61L498 465.13L498.25 463.59L498.45 461.14L498.65 457.01L498.75 453.73L498.85 448.47L498.95 440.41L499 435.13L499.05 429.1L499.1 422.53L499.15 416.36L499.2 411.52L499.25 409.88L499.3 411.2L499.35 416.41L499.4 422.93L499.45 429.12L499.55 440L499.65 448.57L499.75 453.41L499.85 456.29L500 460.4L500.05 461.42L500.25 463.72L500.55 465.93L500.85 466.92L501 467.19L501.25 467.19L501.75 468.06L502 468.6L502.25 468.9L503 468.82L503.25 469L504 469.44L504.25 468.89L505 468.97M538 468.94L538.29 469.1L539 468.58L539.29 468.5L540 468.64L540.29 467.95L540.79 468.05L541 466.92L541.29 466.8L541.69 465.16L541.99 463.98L542 463.6L542.29 461.35L542.49 458.28L542.69 452.93L542.79 448.97L542.89 443.32L542.99 434.65L543 433.88L543.09 424.6L543.14 419.06L543.19 414.82L543.24 410.38L543.29 409.55L543.34 410.47L543.39 414.28L543.44 419.11L543.49 425.52L543.59 434.88L543.69 443.45L543.79 449.2L543.89 452.96L544 456.52L544.09 458.72L544.29 461.37L544.59 463.97L544.89 465.55L545 465.47L545.29 466.46L545.79 467.65L546 467.97L546.29 467.89L547 468.51L547.29 468.69L548 468.91L548.29 469.18L549 469.14M551 468.84L551.45 468.9L552 469.18L552.45 468.63L553 468.95L553.45 468.54L553.95 468.21L554 468.53L554.45 467.76L554.85 467.08L555 466.79L555.15 466.55L555.45 465.94L555.65 463.29L555.85 461.35L555.95 459.39L556 458.48L556.05 456.76L556.15 452.79L556.25 449.57L556.3 446.89L556.35 445.34L556.4 443.78L556.45 443.4L556.5 443.99L556.55 445.57L556.6 447.37L556.65 449.1L556.75 453.53L556.85 456.77L556.95 459.49L557 460.53L557.05 461.52L557.25 463.68L557.45 465.26L557.75 466.63L558 467.26L558.05 467.14L558.45 468.41L558.95 468.37L559 468.71L559.45 468.85L560 469.33L560.45 468.61L561 469.78L561.45 469.29L562 469.11M599 469.58L599.55 469.23L600 469.06L600.55 468.78L601 468.76L601.55 468.84L602 468.32L602.05 468.04L602.55 467.45L602.95 466.83L603 466.97L603.25 466.6L603.55 464.58L603.75 463.45L603.95 461.26L604 460.49L604.05 460.04L604.15 458.4L604.25 456.06L604.35 454.35L604.4 454.13L604.45 453.3L604.5 452.96L604.55 452.58L604.6 452.74L604.65 453.34L604.7 453.71L604.75 454.33L604.85 456.41L604.95 458.49L605 458.87L605.05 460.19L605.15 461.52L605.35 463.23L605.55 464.83L605.85 466.12L606 466.73L606.15 467.09L606.55 467.27L607 467.75L607.05 468.38L607.55 468.5L608 468.8L608.55 468.98L609 469.39L609.55 468.83L610 469.47M631 467.94L631.73 468.19L632 467.65L632.73 467.11L633 466.46L633.73 465.42L634 464.89L634.23 464.6L634.73 462.79L635 461.44L635.12 460.82L635.42 458.3L635.73 454.57L635.92 449.9L636 447.61L636.12 443.62L636.23 439.82L636.33 434.51L636.42 429.44L636.52 424.35L636.58 422.45L636.62 420.78L636.67 419.47L636.73 419.25L636.77 419.89L636.83 420.97L636.88 422.55L636.92 424.62L637 427.99L637.02 429.29L637.12 434.81L637.23 439.09L637.33 443.51L637.52 449.36L637.73 453.94L638 457.59L638.02 457.73L638.33 460.6L638.73 462.32L639 463.37L639.23 464.01L639.73 464.88L640 465.81L640.73 466.02L641 466.35L641.73 466.2L642 466.42L642.12 466.45M641.73 466.2L642 466.42L642.12 466.45L643 466.19L643.12 466.05L644 465.4L644.12 465.58L644.62 464.23L645 463.19L645.12 462.68L645.52 461.47L645.83 458.93L646 456.72L646.12 454.95L646.33 450.67L646.52 445.06L646.62 441.44L646.73 437.2L646.83 432.49L646.92 428.32L646.98 426.91L647 426.14L647.02 424.93L647.08 424.62L647.12 424.62L647.17 424.45L647.23 425.52L647.27 426.45L647.33 428.75L647.42 432.47L647.52 436.93L647.62 441.4L647.73 445.78L647.92 450.83L648 452.34L648.12 455.06L648.42 458.82L648.73 461.54L649 462.3L649.12 462.76L649.62 464.66L650 465.65L650.12 465.88L651 467.24L651.12 466.73L652 467.58L652.12 467.82L653 468.49" fill="none" stroke="#aa243f" stroke-width="1.8" stroke-linejoin="round"/>
<path d="M395 467.17L395.77 467.16L396 467.53L396.77 466.82L397 467.06L397.77 466.56L398 466.9L398.27 466.31L398.77 465.3L399 464.97L399.18 464.1L399.48 462.17L399.77 459.26L399.98 454.71L400 454.21L400.18 446.33L400.27 438.5L400.38 425.55L400.48 402.19L400.57 357.61L400.62 320.86L400.68 274.42L400.73 228.13L400.77 207.15L400.82 227.89L400.88 274.44L400.93 321.19L400.98 357.4L401 371.9L401.07 402.85L401.18 425.37L401.27 438.3L401.38 445.85L401.57 454.94L401.77 459.09L402 461.71L402.07 462.07L402.38 464.28L402.77 465.94L403 466.1L403.27 466.51L403.77 467.31L404 467.01L404.77 467.73L405 467.95L405.77 467.82L406 467.85M419 468.86L419.89 468.55L420 468.66L420.89 468.52L421 468.72L421.89 467.5L422 467.82L422.39 467.18L422.89 466.18L423 466.2L423.29 464.99L423.59 462.61L423.89 459.26L424 457.3L424.09 454.63L424.29 446.92L424.39 439.35L424.49 427.61L424.59 407.36L424.69 371.38L424.74 344.22L424.79 313.26L424.84 286.22L424.89 274.09L424.94 285.66L424.99 313.01L425 319.87L425.04 344.29L425.09 371.06L425.19 407.33L425.29 427.56L425.39 439.2L425.49 446.55L425.69 455.13L425.89 459.41L426 461.37L426.19 462.74L426.49 464.75L426.89 466.09L427 466.96L427.39 467.04L427.89 468.12L428 468.37L428.89 468.5L429 468.75L429.89 468.3L430 468.76" fill="none" stroke="#b8495f" stroke-width="1.3" stroke-linejoin="round"/>
<path d="M389 448.58L390 448.79L391 448.79L392 448.47L393 448.27L394 448.59L395 448.74L395.77 448.87L396 448.6L396.77 448.44L397 448.82L397.77 447.9L398 448.15L398.27 447.81L398.77 446.37L399 446.11L399.18 445.2L399.48 444.46L399.77 444.48L399.98 444.5L400 444.5L400.18 444.52L400.27 444.52L400.38 444.53L400.48 444.54L400.57 444.55L400.62 444.55L400.68 444.55L400.73 444.56L400.77 444.56L400.82 444.56L400.88 444.57L400.93 444.57L400.98 444.58L401 444.58L401.07 444.58L401.18 444.59L401.27 444.6L401.38 444.6L401.57 444.62L401.77 444.63L402 444.65L402.07 444.65L402.38 445.76L402.77 447.25L403 447.8L403.27 448.25L403.77 448.5L404 448.5L404.77 448.98L405 449.17L405.77 449.5L406 449.33L407 449.64L408 449.97L409 449.93L410 450.49L411 450.52L412 449.76L413 449.95L414 449.81L415 449.87L416 450.31L417 449.93L418 449.9L419 450.04L419.89 450.21L420 449.91L420.89 449.72L421 449.99L421.89 449.43L422 449.34L422.39 449.06L422.89 447.71L423 447.73L423.29 446.52L423.59 445.62L423.89 445.63L424 445.63L424.09 445.63L424.29 445.64L424.39 445.64L424.49 445.64L424.59 445.64L424.69 445.65L424.74 445.65L424.79 445.65L424.84 445.65L424.89 445.65L424.94 445.65L424.99 445.65L425 445.65L425.04 445.66L425.09 445.66L425.19 445.66L425.29 445.66L425.39 445.66L425.49 445.67L425.69 445.67L425.89 445.68L426 445.68L426.19 445.68L426.49 447.03L426.89 448.39L427 448.4L427.39 448.82L427.89 449.64L428 449.8L428.89 450.08L429 450L429.89 449.9L430 450.47L431 450.54L432 450.23L433 450.65L434 450.85L435 450.69L436 450.95L437 450.97L438 450.44L439 450.76L440 450.97L441 451.1L442 451.23L443 450.43L444 450.9L445 451.11L446 451.24L447 451.37L448 450.73L449 450.88L450 450.72L451 451.2L452 450.68L453 451.3L454 451.25L455 451.15L456 450.5L457 450.87L458 451.23L459 450.7L460 451L461 451.03L462 451.28L463 451.14L464 451.14L465 450.97L466 451.08L467 451.05L468 451.27L469 451.05L470 451.35L471 450.68L472 451.39L473 451.06L474 451.38L475 451.12L476 451.32L477 451.47L478 450.97L479 451.13L480 451.06L481 451.16L482 450.7L483 451.06L484 451.04L485 450.9L486 451.04L487 450.7L488 451.41L489 451.17L490 451.5L491 450.79L492 450.68L493 450.98L494 450.41L494.25 450.84L495 450.48L495.25 450.51L496 450.4L496.25 450.22L496.75 450.31L497 449.74L497.25 448.92L497.65 448.65L497.95 447.03L498 447.15L498.25 446.18L498.45 446.18L498.65 446.18L498.75 446.18L498.85 446.18L498.95 446.18L499 446.18L499.05 446.18L499.1 446.18L499.15 446.18L499.2 446.18L499.25 446.18L499.3 446.18L499.35 446.18L499.4 446.18L499.45 446.18L499.55 446.18L499.65 446.18L499.75 446.18L499.85 446.18L500 446.18L500.05 446.18L500.25 446.18L500.55 447.18L500.85 448.58L501 448.32L501.25 449.13L501.75 449.77L502 449.77L502.25 449.96L503 450.61L503.25 450.19L504 450.52L504.25 450.62L505 450.89L506 450.61L507 451.26L508 450.95L509 450.98L510 450.97L511 450.91L512 450.84L513 451.38L514 451.15L515 451.07L516 451.35L517 450.93L518 451.26L519 451.11L520 450.89L521 451.29L522 450.73L523 451.26L524 450.88L525 451.19L526 451.43L527 451.22L528 450.92L529 451.06L530 450.96L531 450.75L532 450.74L533 451L534 451.09L535 450.47L536 450.82L537 450.87L538 450.62L538.29 450.28L539 450.58L539.29 449.92L540 449.99L540.29 450.01L540.79 448.56L541 448.81L541.29 448.25L541.69 447.04L541.99 446.2L542 446.2L542.29 446.2L542.49 446.2L542.69 446.2L542.79 446.2L542.89 446.2L542.99 446.2L543 446.2L543.09 446.2L543.14 446.2L543.19 446.2L543.24 446.2L543.29 446.2L543.34 446.2L543.39 446.2L543.44 446.2L543.49 446.2L543.59 446.2L543.69 446.2L543.79 446.2L543.89 446.2L544 446.2L544.09 446.2L544.29 446.2L544.59 446.2L544.89 447.25L545 447.5L545.29 448.38L545.79 448.92L546 449.53L546.29 449.29L547 450.11L547.29 449.49L548 450.1L548.29 450.59L549 450.41L550 450.63L551 450.19L551.45 450.94L552 450.65L552.45 450.42L553 450.4L553.45 450.2L553.95 450.19L554 449.86L554.45 449.02L554.85 448.71L555 448.76L555.15 448.18L555.45 446.71L555.65 445.57L555.85 443.08L555.95 441.37L556 439.68L556.05 438.5L556.15 435.57L556.25 435.2L556.3 435.2L556.35 435.2L556.4 435.2L556.45 435.2L556.5 435.2L556.55 435.2L556.6 435.2L556.65 435.2L556.75 435.2L556.85 439.07L556.95 441.21L557 442.5L557.05 443.1L557.25 445.48L557.45 447L557.75 448.25L558 448.42L558.05 449.11L558.45 449.2L558.95 449.96L559 450.57L559.45 450.23L560 450.84L560.45 450.47L561 450.82L561.45 450.75L562 450.91L563 450.68L564 450.72L565 451.06L566 450.62L567 450.82L568 451.2L569 450.9L570 450.84L571 450.8L572 451.11L573 450.99L574 451.12L575 451.04L576 451.54L577 450.98L578 450.61L579 451.11L580 451.08L581 451.12L582 450.69L583 451.35L584 451.07L585 451.06L586 450.68L587 451.17L588 451.03L589 451.37L590 450.93L591 450.71L592 451.03L593 450.75L594 451.05L595 450.65L596 450.83L597 450.74L598 450.7L599 450.44L599.55 450.26L600 450.33L600.55 450.03L601 450.02L601.55 449.6L602 448.76L602.05 449.24L602.55 448.96L602.95 447.9L603 447.85L603.25 447L603.55 445.25L603.75 443.41L603.95 441.46L604 440.72L604.05 439.74L604.15 437.73L604.25 435.55L604.35 435.2L604.4 435.2L604.45 435.2L604.5 435.2L604.55 435.2L604.6 435.2L604.65 435.2L604.7 435.2L604.75 435.2L604.85 435.48L604.95 437.08L605 439.11L605.05 439.77L605.15 441.42L605.35 443.57L605.55 445.09L605.85 446.83L606 447.41L606.15 447.63L606.55 448.65L607 449.35L607.05 449.38L607.55 449.39L608 449.38L608.55 450.14L609 450.12L609.55 450.52L610 450.9L611 451.03L612 450.79L613 451.05L614 451.21L615 450.85L616 450.92L617 451.06L618 450.85L619 450.73L620 450.66L621 450.82L622 450.64L623 450.94L624 450.63L625 451L626 450.86L627 450.18L628 450.6L629 450.07L630 450.25L631 449.68L631.73 449.17L632 449.16L632.73 448.26L633 448.17L633.73 447.12L634 446.43L634.23 446.01L634.73 444L635 443.03L635.12 441.84L635.42 439.78L635.73 435.7L635.92 435.2L636 435.2L636.12 435.2L636.23 435.2L636.33 435.2L636.42 435.2L636.52 435.2L636.58 435.2L636.62 435.2L636.67 435.2L636.73 435.2L636.77 435.2L636.83 435.2L636.88 435.2L636.92 435.2L637 435.2L637.02 435.2L637.12 435.2L637.23 435.2L637.33 435.2L637.52 435.2L637.73 435.33L638 438.94L638.02 439.47L638.33 442L638.73 443.76L639 444.81L639.23 445.65L639.73 446.64L640 446.84L640.73 447.35L641 447.47L641.73 447.78L642 448.09L642.12 448.06L643 447.74L643.12 447.92L644 446.69L644.12 446.5L644.62 445.57L645 445.07L645.12 443.69L645.52 442.31L645.83 440.04L646 437.99L646.12 436.72L646.33 435.2L646.52 435.2L646.62 435.2L646.73 435.2L646.83 435.2L646.92 435.2L646.98 435.2L647 435.2L647.02 435.2L647.08 435.2L647.12 435.2L647.17 435.2L647.23 435.2L647.27 435.2L647.33 435.2L647.42 435.2L647.52 435.2L647.62 435.2L647.73 435.2L647.92 435.2L648 435.2L648.12 436.13L648.42 440.17L648.73 442.19L649 444.02L649.12 444.68L649.62 445.83L650 447.18L650.12 447.06L651 448.5L651.12 448.55L652 449.07L652.12 449.13L653 449.29L654 449.86L655 450.07L656 450.81L657 450.79L658 450.33L659 450.91L660 450.84L661 450.74L662 450.98L663 451.09L664 450.8L665 450.9L666 451.02L667 450.77L668 451.06L669 451.01L670 450.88L671 450.86L672 451.14L673 451.28L674 451.16L675 450.89L676 451.27L677 451.14L678 451.25L678.6 451.38" fill="none" stroke="#8a88dc" stroke-width="2.6" stroke-linejoin="round"/>
<path d="M494 450.41L494.25 450.84L495 450.48L495.25 450.51L496 450.4L496.25 450.22L496.75 450.31L497 449.74L497.25 448.92L497.65 448.65L497.95 447.03L498 447.15L498.25 445.22L498.45 443.17L498.65 439.81L498.75 436.1L498.85 431.27L498.95 424.06L499 419.34L499.05 414.21L499.1 407.54L499.15 401.77L499.2 397.91L499.25 395.76L499.3 397.68L499.35 402.35L499.4 407.83L499.45 413.74L499.55 424.02L499.65 431.2L499.75 436.09L499.85 439.52L500 442.93L500.05 443.61L500.25 445.39L500.55 447.18L500.85 448.58L501 448.32L501.25 449.13L501.75 449.77L502 449.77L502.25 449.96L503 450.61L503.25 450.19L504 450.52L504.25 450.62L505 450.89M538 450.62L538.29 450.28L539 450.58L539.29 449.92L540 449.99L540.29 450.01L540.79 448.56L541 448.81L541.29 448.25L541.69 447.04L541.99 445.33L542 445.36L542.29 442.66L542.49 440.12L542.69 435.12L542.79 430.76L542.89 424.99L542.99 417.23L543 416.24L543.09 407.48L543.14 402.11L543.19 397.52L543.24 393.94L543.29 392.43L543.34 394.41L543.39 397.93L543.44 401.89L543.49 407.3L543.59 417.41L543.69 425.51L543.79 431.12L543.89 435.32L544 438.21L544.09 440.17L544.29 443.09L544.59 445.38L544.89 447.25L545 447.5L545.29 448.38L545.79 448.92L546 449.53L546.29 449.29L547 450.11L547.29 449.49L548 450.1L548.29 450.59L549 450.41M551 450.19L551.45 450.94L552 450.65L552.45 450.42L553 450.4L553.45 450.2L553.95 450.19L554 449.86L554.45 449.02L554.85 448.71L555 448.76L555.15 448.18L555.45 446.71L555.65 445.57L555.85 443.08L555.95 441.37L556 439.68L556.05 438.5L556.15 435.57L556.25 431.36L556.3 429.49L556.35 428.15L556.4 426.41L556.45 426.11L556.5 426.35L556.55 427.52L556.6 429.39L556.65 431.06L556.75 434.9L556.85 439.07L556.95 441.21L557 442.5L557.05 443.1L557.25 445.48L557.45 447L557.75 448.25L558 448.42L558.05 449.11L558.45 449.2L558.95 449.96L559 450.57L559.45 450.23L560 450.84L560.45 450.47L561 450.82L561.45 450.75L562 450.91M599 450.44L599.55 450.26L600 450.33L600.55 450.03L601 450.02L601.55 449.6L602 448.76L602.05 449.24L602.55 448.96L602.95 447.9L603 447.85L603.25 447L603.55 445.25L603.75 443.41L603.95 441.46L604 440.72L604.05 439.74L604.15 437.73L604.25 435.55L604.35 433.32L604.4 432.48L604.45 431.71L604.5 431.32L604.55 430.86L604.6 431.09L604.65 431.84L604.7 432.33L604.75 432.74L604.85 435.48L604.95 437.08L605 439.11L605.05 439.77L605.15 441.42L605.35 443.57L605.55 445.09L605.85 446.83L606 447.41L606.15 447.63L606.55 448.65L607 449.35L607.05 449.38L607.55 449.39L608 449.38L608.55 450.14L609 450.12L609.55 450.52L610 450.9M631 449.68L631.73 449.17L632 449.16L632.73 448.26L633 448.17L633.73 447.12L634 446.43L634.23 446.01L634.73 444L635 443.03L635.12 441.84L635.42 439.78L635.73 435.7L635.92 431.5L636 429.12L636.12 425.74L636.23 420.8L636.33 416.07L636.42 410.63L636.52 406.17L636.58 403.63L636.62 402.34L636.67 400.84L636.73 400.77L636.77 400.96L636.83 402.31L636.88 403.65L636.92 405.59L637 409.58L637.02 410.48L637.12 415.74L637.23 420.95L637.33 424.47L637.52 431.39L637.73 435.33L638 438.94L638.02 439.47L638.33 442L638.73 443.76L639 444.81L639.23 445.65L639.73 446.64L640 446.84L640.73 447.35L641 447.47L641.73 447.78L642 448.09L642.12 448.06M641.73 447.78L642 448.09L642.12 448.06L643 447.74L643.12 447.92L644 446.69L644.12 446.5L644.62 445.57L645 445.07L645.12 443.69L645.52 442.31L645.83 440.04L646 437.99L646.12 436.72L646.33 432.51L646.52 426.67L646.62 422.57L646.73 418.69L646.83 414.01L646.92 409.92L646.98 408.23L647 407.35L647.02 407L647.08 406.38L647.12 405.96L647.17 406.06L647.23 406.41L647.27 408.47L647.33 410.2L647.42 414.1L647.52 418.53L647.62 423.03L647.73 426.41L647.92 432.57L648 433.79L648.12 436.13L648.42 440.17L648.73 442.19L649 444.02L649.12 444.68L649.62 445.83L650 447.18L650.12 447.06L651 448.5L651.12 448.55L652 449.07L652.12 449.13L653 449.29" fill="none" stroke="#9694e0" stroke-width="1.8" stroke-linejoin="round"/>
<path d="M395 448.74L395.77 448.87L396 448.6L396.77 448.44L397 448.82L397.77 447.9L398 448.15L398.27 447.81L398.77 446.37L399 446.11L399.18 445.2L399.48 443.24L399.77 439.46L399.98 435.02L400 434.71L400.18 426.48L400.27 418.59L400.38 404.97L400.48 381.17L400.57 334.36L400.62 296L400.68 247.52L400.73 200.08L400.77 178.37L400.82 199.75L400.88 247.92L400.93 296.56L400.98 334.91L401 349.13L401.07 381.44L401.18 405.8L401.27 418.62L401.38 427.02L401.57 434.88L401.77 440.42L402 442.97L402.07 443.2L402.38 445.76L402.77 447.25L403 447.8L403.27 448.25L403.77 448.5L404 448.5L404.77 448.98L405 449.17L405.77 449.5L406 449.33M419 450.04L419.89 450.21L420 449.91L420.89 449.72L421 449.99L421.89 449.43L422 449.34L422.39 449.06L422.89 447.71L423 447.73L423.29 446.52L423.59 445.22L423.89 442.03L424 439.72L424.09 438.29L424.29 430.33L424.39 424.38L424.49 413.66L424.59 395.36L424.69 363.01L424.74 339.46L424.79 312.1L424.84 287.45L424.89 277.48L424.94 287.28L424.99 312.11L425 317.67L425.04 339.09L425.09 363.37L425.19 395.28L425.29 413.02L425.39 423.97L425.49 430.59L425.69 438.23L425.89 441.76L426 443.65L426.19 445.39L426.49 447.03L426.89 448.39L427 448.4L427.39 448.82L427.89 449.64L428 449.8L428.89 450.08L429 450L429.89 449.9L430 450.47" fill="none" stroke="#a7a6e5" stroke-width="1.3" stroke-linejoin="round"/>
<path d="M389 427.57L390 427.86L391 427.84L392 427.85L393 428.59L394 428.37L395 427.72L395.77 428.16L396 427.9L396.77 428.11L397 427.78L397.77 427.23L398 427.07L398.27 426.75L398.77 425.54L399 424.65L399.18 423.94L399.48 423.96L399.77 423.98L399.98 424L400 424L400.18 424.02L400.27 424.02L400.38 424.03L400.48 424.04L400.57 424.05L400.62 424.05L400.68 424.05L400.73 424.06L400.77 424.06L400.82 424.06L400.88 424.07L400.93 424.07L400.98 424.08L401 424.08L401.07 424.08L401.18 424.09L401.27 424.1L401.38 424.1L401.57 424.12L401.77 424.13L402 424.15L402.07 424.15L402.38 424.18L402.77 425.69L403 426.52L403.27 427.08L403.77 427.71L404 427.75L404.77 427.84L405 428.41L405.77 429.04L406 428.91L407 428.55L408 429.21L409 428.89L410 429.87L411 429.52L412 429.25L413 429.77L414 429.44L415 429.79L416 429.69L417 429.41L418 429.83L419 429.33L419.89 429.87L420 429.56L420.89 429.13L421 428.91L421.89 429.3L422 429.19L422.39 428.19L422.89 428.08L423 427.48L423.29 426.47L423.59 425.12L423.89 425.13L424 425.13L424.09 425.13L424.29 425.14L424.39 425.14L424.49 425.14L424.59 425.14L424.69 425.15L424.74 425.15L424.79 425.15L424.84 425.15L424.89 425.15L424.94 425.15L424.99 425.15L425 425.15L425.04 425.16L425.09 425.16L425.19 425.16L425.29 425.16L425.39 425.16L425.49 425.17L425.69 425.17L425.89 425.18L426 425.18L426.19 425.18L426.49 426.85L426.89 427.51L427 428.35L427.39 428.78L427.89 429.02L428 429.48L428.89 429.99L429 429.76L429.89 429.87L430 430.28L431 430.34L432 429.86L433 430.09L434 430.14L435 430.14L436 429.92L437 430.51L438 430.34L439 430.36L440 430.69L441 430.25L442 430.38L443 430.48L444 430.32L445 430.41L446 430.63L447 430.46L448 430.78L449 430.31L450 430.54L451 430.17L452 430.48L453 430.35L454 430.84L455 430.71L456 430.66L457 430.98L458 430.89L459 430.73L460 430.4L461 430.23L462 430.57L463 430.49L464 430.43L465 430.52L466 430.2L467 430.94L468 430.33L469 430.44L470 430.73L471 430.22L472 430.82L473 430.83L474 430.53L475 430.36L476 430.5L477 430.18L478 430.94L479 430.62L480 430.44L481 430.4L482 430.74L483 430.96L484 430.3L485 430.46L486 430.17L487 430.74L488 430.61L489 431.09L490 430.51L491 430.4L492 430.3L493 430.6L494 429.91L494.25 430.44L495 430.18L495.25 429.93L496 429.56L496.25 429.88L496.75 429.68L497 428.85L497.25 428.7L497.65 428.08L497.95 426.37L498 426.21L498.25 425.68L498.45 425.68L498.65 425.68L498.75 425.68L498.85 425.68L498.95 425.68L499 425.68L499.05 425.68L499.1 425.68L499.15 425.68L499.2 425.68L499.25 425.68L499.3 425.68L499.35 425.68L499.4 425.68L499.45 425.68L499.55 425.68L499.65 425.68L499.75 425.68L499.85 425.68L500 425.68L500.05 425.68L500.25 425.68L500.55 426.63L500.85 427.43L501 428.32L501.25 428.79L501.75 428.92L502 429.93L502.25 429.36L503 429.76L503.25 429.98L504 430.41L504.25 430.4L505 430.34L506 430.77L507 430.59L508 430.86L509 431.23L510 430.62L511 429.97L512 430.49L513 430.34L514 430.63L515 430.64L516 430.32L517 430.34L518 430.56L519 430.57L520 430L521 430.85L522 430.63L523 430.61L524 430.68L525 430.36L526 430.59L527 430.85L528 430.85L529 430.69L530 430.5L531 430.35L532 430.85L533 430.63L534 430.37L535 429.9L536 430.14L537 429.79L538 430.4L538.29 430.08L539 429.64L539.29 429.65L540 429.95L540.29 429.38L540.79 428.19L541 428.16L541.29 427.3L541.69 425.95L541.99 425.7L542 425.7L542.29 425.7L542.49 425.7L542.69 425.7L542.79 425.7L542.89 425.7L542.99 425.7L543 425.7L543.09 425.7L543.14 425.7L543.19 425.7L543.24 425.7L543.29 425.7L543.34 425.7L543.39 425.7L543.44 425.7L543.49 425.7L543.59 425.7L543.69 425.7L543.79 425.7L543.89 425.7L544 425.7L544.09 425.7L544.29 425.7L544.59 425.7L544.89 426.56L545 426.93L545.29 427.46L545.79 427.87L546 429.01L546.29 429.26L547 429.64L547.29 429.22L548 429.51L548.29 430.19L549 430.26L550 430.27L551 430.1L551.45 430.25L552 429.97L552.45 429.98L553 429.73L553.45 429.88L553.95 429.49L554 429.8L554.45 429.41L554.85 428.54L555 428.94L555.15 427.88L555.45 427.29L555.65 426.34L555.85 424.49L555.95 422.16L556 422.03L556.05 421.01L556.15 418.42L556.25 414.7L556.3 414.7L556.35 414.7L556.4 414.7L556.45 414.7L556.5 414.7L556.55 414.7L556.6 414.7L556.65 414.7L556.75 417.82L556.85 420.6L556.95 422.75L557 423.76L557.05 424.15L557.25 426.32L557.45 426.81L557.75 427.43L558 428.62L558.05 428.9L558.45 429.19L558.95 429.41L559 429.8L559.45 430.39L560 430.06L560.45 430.01L561 430.07L561.45 430.83L562 430.38L563 430.61L564 430.8L565 430.8L566 430.32L567 430.8L568 430.79L569 430.71L570 430.85L571 430.46L572 430.59L573 430.48L574 430.8L575 430.45L576 430.71L577 430.34L578 430.58L579 430.52L580 430.58L581 430.64L582 430.56L583 430.55L584 430.08L585 430.87L586 430.43L587 430.52L588 430.37L589 430.82L590 430.33L591 430.67L592 430.82L593 430.91L594 430.77L595 430.59L596 430.09L597 430.65L598 430.53L599 430.3L599.55 430.19L600 429.89L600.55 429.57L601 429.78L601.55 429.51L602 428.57L602.05 429.01L602.55 428.21L602.95 427.58L603 427.3L603.25 426.7L603.55 425.15L603.75 423.48L603.95 420.45L604 420.2L604.05 419.14L604.15 416.88L604.25 415.16L604.35 414.7L604.4 414.7L604.45 414.7L604.5 414.7L604.55 414.7L604.6 414.7L604.65 414.7L604.7 414.7L604.75 414.7L604.85 415.02L604.95 417.34L605 418.18L605.05 419.4L605.15 420.86L605.35 423.43L605.55 425.23L605.85 426.46L606 427.18L606.15 427.41L606.55 428.27L607 428.58L607.05 428.96L607.55 429.48L608 429.42L608.55 429.87L609 429.92L609.55 429.67L610 430.12L611 430.49L612 430.13L613 429.87L614 430.4L615 430.21L616 430.85L617 430.38L618 430.39L619 430.22L620 430.43L621 430.21L622 430.1L623 430.27L624 430.04L625 430.5L626 429.82L627 429.99L628 429.71L629 429.36L630 429.86L631 428.57L631.73 429.07L632 428.18L632.73 427.95L633 428.18L633.73 426.03L634 425.66L634.23 425.77L634.73 423.81L635 422.29L635.12 421.64L635.42 418.92L635.73 415.15L635.92 414.7L636 414.7L636.12 414.7L636.23 414.7L636.33 414.7L636.42 414.7L636.52 414.7L636.58 414.7L636.62 414.7L636.67 414.7L636.73 414.7L636.77 414.7L636.83 414.7L636.88 414.7L636.92 414.7L637 414.7L637.02 414.7L637.12 414.7L637.23 414.7L637.33 414.7L637.52 414.7L637.73 414.94L638 419.14L638.02 418.86L638.33 421.26L638.73 423.02L639 424.48L639.23 424.92L639.73 426.45L640 426.29L640.73 427.26L641 427.45L641.73 427.84L642 427.13L642.12 427.83L643 427.19L643.12 427.09L644 426.21L644.12 426.01L644.62 425.09L645 423.57L645.12 423.82L645.52 421.78L645.83 419.22L646 417.48L646.12 416.25L646.33 414.7L646.52 414.7L646.62 414.7L646.73 414.7L646.83 414.7L646.92 414.7L646.98 414.7L647 414.7L647.02 414.7L647.08 414.7L647.12 414.7L647.17 414.7L647.23 414.7L647.27 414.7L647.33 414.7L647.42 414.7L647.52 414.7L647.62 414.7L647.73 414.7L647.92 414.7L648 414.7L648.12 415.71L648.42 419.56L648.73 422.01L649 423.56L649.12 424.01L649.62 425.44L650 426.82L650.12 426.93L651 427.91L651.12 428.24L652 428.77L652.12 428.71L653 429.22L654 430.18L655 430.01L656 430.19L657 429.96L658 430.3L659 430.78L660 430.4L661 430.6L662 430.69L663 430.57L664 430.83L665 430.53L666 430.61L667 430.36L668 431.17L669 430.61L670 430.58L671 430.9L672 430.46L673 430.58L674 430.4L675 430.6L676 430.51L677 430.74L678 430.58L678.6 430.47" fill="none" stroke="#f0c040" stroke-width="2.6" stroke-linejoin="round"/>
<path d="M494 429.91L494.25 430.44L495 430.18L495.25 429.93L496 429.56L496.25 429.88L496.75 429.68L497 428.85L497.25 428.7L497.65 428.08L497.95 426.37L498 426.21L498.25 424.24L498.45 422.14L498.65 417.91L498.75 414.29L498.85 408.97L498.95 400.88L499 395.72L499.05 389.75L499.1 383.56L499.15 377L499.2 372.22L499.25 370.82L499.3 372.56L499.35 376.94L499.4 383.26L499.45 390.13L499.55 401.34L499.65 408.94L499.75 414.45L499.85 417.93L500 421.62L500.05 421.97L500.25 424.74L500.55 426.63L500.85 427.43L501 428.32L501.25 428.79L501.75 428.92L502 429.93L502.25 429.36L503 429.76L503.25 429.98L504 430.41L504.25 430.4L505 430.34M538 430.4L538.29 430.08L539 429.64L539.29 429.65L540 429.95L540.29 429.38L540.79 428.19L541 428.16L541.29 427.3L541.69 425.95L541.99 424.89L542 425.36L542.29 422.63L542.49 419.24L542.69 413.87L542.79 409.81L542.89 404.11L542.99 395.36L543 394.12L543.09 385.95L543.14 380.05L543.19 375.58L543.24 371.89L543.29 370.99L543.34 371.68L543.39 375.4L543.44 380.46L543.49 385.74L543.59 395.6L543.69 404.14L543.79 409.63L543.89 413.64L544 417.44L544.09 419.57L544.29 422.46L544.59 424.52L544.89 426.56L545 426.93L545.29 427.46L545.79 427.87L546 429.01L546.29 429.26L547 429.64L547.29 429.22L548 429.51L548.29 430.19L549 430.26M551 430.1L551.45 430.25L552 429.97L552.45 429.98L553 429.73L553.45 429.88L553.95 429.49L554 429.8L554.45 429.41L554.85 428.54L555 428.94L555.15 427.88L555.45 427.29L555.65 426.34L555.85 424.49L555.95 422.16L556 422.03L556.05 421.01L556.15 418.42L556.25 414.31L556.3 413.09L556.35 411.85L556.4 410.81L556.45 410.91L556.5 410.75L556.55 412.18L556.6 413.4L556.65 414.5L556.75 417.82L556.85 420.6L556.95 422.75L557 423.76L557.05 424.15L557.25 426.32L557.45 426.81L557.75 427.43L558 428.62L558.05 428.9L558.45 429.19L558.95 429.41L559 429.8L559.45 430.39L560 430.06L560.45 430.01L561 430.07L561.45 430.83L562 430.38M599 430.3L599.55 430.19L600 429.89L600.55 429.57L601 429.78L601.55 429.51L602 428.57L602.05 429.01L602.55 428.21L602.95 427.58L603 427.3L603.25 426.7L603.55 425.15L603.75 423.48L603.95 420.45L604 420.2L604.05 419.14L604.15 416.88L604.25 415.16L604.35 412.51L604.4 412.17L604.45 411.65L604.5 410.65L604.55 410.84L604.6 410.88L604.65 411.39L604.7 411.61L604.75 413.01L604.85 415.02L604.95 417.34L605 418.18L605.05 419.4L605.15 420.86L605.35 423.43L605.55 425.23L605.85 426.46L606 427.18L606.15 427.41L606.55 428.27L607 428.58L607.05 428.96L607.55 429.48L608 429.42L608.55 429.87L609 429.92L609.55 429.67L610 430.12M631 428.57L631.73 429.07L632 428.18L632.73 427.95L633 428.18L633.73 426.03L634 425.66L634.23 425.77L634.73 423.81L635 422.29L635.12 421.64L635.42 418.92L635.73 415.15L635.92 411.23L636 408.68L636.12 404.57L636.23 400.67L636.33 396.05L636.42 390.2L636.52 385.43L636.58 383.13L636.62 381.47L636.67 380.49L636.73 380.07L636.77 380.15L636.83 381.13L636.88 383.06L636.92 385.36L637 389.29L637.02 390.16L637.12 395.45L637.23 400.46L637.33 404.62L637.52 410.7L637.73 414.94L638 419.14L638.02 418.86L638.33 421.26L638.73 423.02L639 424.48L639.23 424.92L639.73 426.45L640 426.29L640.73 427.26L641 427.45L641.73 427.84L642 427.13L642.12 427.83M641.73 427.84L642 427.13L642.12 427.83L643 427.19L643.12 427.09L644 426.21L644.12 426.01L644.62 425.09L645 423.57L645.12 423.82L645.52 421.78L645.83 419.22L646 417.48L646.12 416.25L646.33 411.85L646.52 405.91L646.62 402.72L646.73 397.89L646.83 393.57L646.92 389.29L646.98 387.64L647 387.15L647.02 386.5L647.08 385.34L647.12 385.2L647.17 385.54L647.23 386.28L647.27 387.72L647.33 389.29L647.42 393.48L647.52 398.16L647.62 402.14L647.73 406.21L647.92 411.85L648 413.34L648.12 415.71L648.42 419.56L648.73 422.01L649 423.56L649.12 424.01L649.62 425.44L650 426.82L650.12 426.93L651 427.91L651.12 428.24L652 428.77L652.12 428.71L653 429.22" fill="none" stroke="#f2c653" stroke-width="1.8" stroke-linejoin="round"/>
<path d="M395 427.72L395.77 428.16L396 427.9L396.77 428.11L397 427.78L397.77 427.23L398 427.07L398.27 426.75L398.77 425.54L399 424.65L399.18 423.79L399.48 421.59L399.77 416.75L399.98 411.35L400 410.34L400.18 400.18L400.27 390.39L400.38 373.25L400.48 343.43L400.57 284.67L400.62 237.33L400.68 176.41L400.73 116.46L400.77 89.43L400.82 116.08L400.88 176.64L400.93 237.05L400.98 284.84L401 303.53L401.07 343.75L401.18 373.78L401.27 390.7L401.38 400.42L401.57 411.36L401.77 417.04L402 420.96L402.07 422.03L402.38 424.13L402.77 425.69L403 426.52L403.27 427.08L403.77 427.71L404 427.75L404.77 427.84L405 428.41L405.77 429.04L406 428.91M419 429.33L419.89 429.87L420 429.56L420.89 429.13L421 428.91L421.89 429.3L422 429.19L422.39 428.19L422.89 428.08L423 427.48L423.29 426.47L423.59 424.95L423.89 422.05L424 420.76L424.09 418.63L424.29 411.48L424.39 406.46L424.49 396.63L424.59 379.75L424.69 350.52L424.74 328.78L424.79 304.03L424.84 281.82L424.89 272.42L424.94 281.59L424.99 303.83L425 309.28L425.04 328.97L425.09 351.14L425.19 379.84L425.29 396.63L425.39 406.01L425.49 411.76L425.69 418.96L425.89 422.2L426 423.24L426.19 424.96L426.49 426.85L426.89 427.51L427 428.35L427.39 428.78L427.89 429.02L428 429.48L428.89 429.99L429 429.76L429.89 429.87L430 430.28" fill="none" stroke="#f4d070" stroke-width="1.3" stroke-linejoin="round"/>
<path d="M389 411.24L390 411.39L391 411.4L392 411.83L393 411.83L394 411.75L395 411.43L395.77 411.81L396 411.35L396.77 411.57L397 411.47L397.77 410.94L398 410.7L398.27 410.43L398.77 410.2L399 408.98L399.18 408.29L399.48 407.46L399.77 407.48L399.98 407.5L400 407.5L400.18 407.52L400.27 407.52L400.38 407.53L400.48 407.54L400.57 407.55L400.62 407.55L400.68 407.55L400.73 407.56L400.77 407.56L400.82 407.56L400.88 407.57L400.93 407.57L400.98 407.58L401 407.58L401.07 407.58L401.18 407.59L401.27 407.6L401.38 407.6L401.57 407.62L401.77 407.63L402 407.65L402.07 407.65L402.38 408.58L402.77 409.88L403 410.83L403.27 410.9L403.77 411.2L404 411.62L404.77 412.24L405 411.93L405.77 412.61L406 412.65L407 413.15L408 412.62L409 413.03L410 412.54L411 412.91L412 413.09L413 413.21L414 413.14L415 413.16L416 413.06L417 413.11L418 413.28L419 413.3L419.89 413.25L420 413.32L420.89 413.2L421 412.45L421.89 412.37L422 412.38L422.39 411.92L422.89 411.58L423 411.26L423.29 410.19L423.59 408.77L423.89 408.63L424 408.63L424.09 408.63L424.29 408.64L424.39 408.64L424.49 408.64L424.59 408.64L424.69 408.65L424.74 408.65L424.79 408.65L424.84 408.65L424.89 408.65L424.94 408.65L424.99 408.65L425 408.65L425.04 408.66L425.09 408.66L425.19 408.66L425.29 408.66L425.39 408.66L425.49 408.67L425.69 408.67L425.89 408.68L426 408.68L426.19 408.88L426.49 410.32L426.89 411.69L427 411.26L427.39 412.15L427.89 412.81L428 412.53L428.89 413.1L429 412.99L429.89 413.47L430 413.59L431 413.86L432 413.72L433 413.49L434 413.77L435 413.88L436 414.12L437 413.29L438 413.92L439 413.42L440 414.04L441 414L442 414.03L443 414.13L444 414.03L445 413.79L446 414.04L447 414.26L448 413.95L449 414L450 413.71L451 414.29L452 413.9L453 413.85L454 413.93L455 413.84L456 413.99L457 414.36L458 414.25L459 414.41L460 414.43L461 413.86L462 414.2L463 414.44L464 414.64L465 413.76L466 413.76L467 414.21L468 414.02L469 413.87L470 414.2L471 413.92L472 413.57L473 414.11L474 414.15L475 414.27L476 414.34L477 414.16L478 414.06L479 413.96L480 413.73L481 414.01L482 414.36L483 414.27L484 414.6L485 414.07L486 413.68L487 414.29L488 414.33L489 413.79L490 413.67L491 414.06L492 414.15L493 413.66L494 413.75L494.25 413.61L495 413.39L495.25 413.29L496 413.38L496.25 413.13L496.75 412.7L497 411.98L497.25 412.67L497.65 411.19L497.95 410.34L498 409.87L498.25 409.18L498.45 409.18L498.65 409.18L498.75 409.18L498.85 409.18L498.95 409.18L499 409.18L499.05 409.18L499.1 409.18L499.15 409.18L499.2 409.18L499.25 409.18L499.3 409.18L499.35 409.18L499.4 409.18L499.45 409.18L499.55 409.18L499.65 409.18L499.75 409.18L499.85 409.18L500 409.18L500.05 409.18L500.25 409.18L500.55 410.55L500.85 411.51L501 411.9L501.25 412.52L501.75 412.29L502 413.16L502.25 413.21L503 413.51L503.25 413.3L504 413.89L504.25 414.07L505 414.13L506 413.94L507 414.16L508 414.26L509 414.5L510 414.37L511 414.13L512 414.12L513 414.15L514 414.17L515 414L516 414.31L517 413.96L518 413.93L519 414.21L520 413.99L521 414.07L522 413.63L523 414.31L524 414.12L525 414.08L526 414.22L527 414.15L528 413.93L529 414.56L530 413.96L531 414.29L532 414.47L533 413.86L534 414L535 413.74L536 414.12L537 413.69L538 413.35L538.29 413.87L539 413.57L539.29 413.03L540 413.15L540.29 412.69L540.79 412.74L541 412.18L541.29 411.07L541.69 409.95L541.99 409.2L542 409.2L542.29 409.2L542.49 409.2L542.69 409.2L542.79 409.2L542.89 409.2L542.99 409.2L543 409.2L543.09 409.2L543.14 409.2L543.19 409.2L543.24 409.2L543.29 409.2L543.34 409.2L543.39 409.2L543.44 409.2L543.49 409.2L543.59 409.2L543.69 409.2L543.79 409.2L543.89 409.2L544 409.2L544.09 409.2L544.29 409.2L544.59 409.2L544.89 410.05L545 410.53L545.29 411.11L545.79 411.87L546 412.52L546.29 412.37L547 413.27L547.29 412.78L548 413.18L548.29 413.12L549 413.89L550 413.24L551 413.4L551.45 413.81L552 413.67L552.45 414.08L553 413.9L553.45 413.47L553.95 413.26L554 412.63L554.45 412.52L554.85 412.17L555 411.94L555.15 411.33L555.45 410.46L555.65 409.37L555.85 407.93L555.95 406.31L556 405.21L556.05 404.15L556.15 401.63L556.25 398.2L556.3 398.2L556.35 398.2L556.4 398.2L556.45 398.2L556.5 398.2L556.55 398.2L556.6 398.2L556.65 398.86L556.75 401.62L556.85 403.91L556.95 405.97L557 407.19L557.05 407.95L557.25 409.78L557.45 410.91L557.75 411.74L558 411.85L558.05 412.12L558.45 412.35L558.95 413.08L559 412.87L559.45 413.43L560 413.55L560.45 413.22L561 413.95L561.45 414.02L562 413.55L563 413.99L564 414.17L565 413.96L566 414.25L567 414.11L568 414.33L569 414.13L570 414.05L571 414.22L572 414.29L573 414.17L574 414L575 413.92L576 414.02L577 413.97L578 414.16L579 414.15L580 414.09L581 414.1L582 414.14L583 414.48L584 414.38L585 413.95L586 414.19L587 414L588 414.05L589 414L590 413.9L591 413.7L592 413.42L593 414.04L594 414.25L595 413.71L596 413.99L597 413.71L598 413.77L599 413.37L599.55 413.39L600 413.31L600.55 412.57L601 413L601.55 412.58L602 411.63L602.05 412.34L602.55 411.51L602.95 410.74L603 410.64L603.25 409.6L603.55 407.84L603.75 406.28L603.95 403.69L604 403.49L604.05 402.49L604.15 399.86L604.25 398.2L604.35 398.2L604.4 398.2L604.45 398.2L604.5 398.2L604.55 398.2L604.6 398.2L604.65 398.2L604.7 398.2L604.75 398.2L604.85 398.2L604.95 400.11L605 400.96L605.05 401.65L605.15 403.84L605.35 406.53L605.55 408.09L605.85 409.57L606 410.38L606.15 410.66L606.55 411.23L607 412.13L607.05 411.84L607.55 412.82L608 412.98L608.55 412.87L609 413.31L609.55 413.7L610 412.97L611 413.6L612 414.12L613 413.41L614 413.78L615 413.5L616 413.84L617 413.28L618 413.47L619 413.73L620 413.88L621 413.92L622 413.9L623 414.04L624 413.89L625 413.84L626 413.35L627 413.45L628 414.14L629 413.73L630 413.13L631 412.75L631.73 412.43L632 411.91L632.73 411.89L633 411.01L633.73 410.02L634 410.01L634.23 408.42L634.73 407.34L635 405.48L635.12 404.97L635.42 402.62L635.73 398.52L635.92 398.2L636 398.2L636.12 398.2L636.23 398.2L636.33 398.2L636.42 398.2L636.52 398.2L636.58 398.2L636.62 398.2L636.67 398.2L636.73 398.2L636.77 398.2L636.83 398.2L636.88 398.2L636.92 398.2L637 398.2L637.02 398.2L637.12 398.2L637.23 398.2L637.33 398.2L637.52 398.2L637.73 398.93L638 402.05L638.02 402.9L638.33 405.2L638.73 406.75L639 407.66L639.23 408.8L639.73 409.43L640 409.89L640.73 410.48L641 410.4L641.73 410.83L642 410.7L642.12 410.55L643 410.59L643.12 411.04L644 410.17L644.12 409.58L644.62 408.69L645 407.75L645.12 407.52L645.52 405.32L645.83 402.81L646 400.88L646.12 399.45L646.33 398.2L646.52 398.2L646.62 398.2L646.73 398.2L646.83 398.2L646.92 398.2L646.98 398.2L647 398.2L647.02 398.2L647.08 398.2L647.12 398.2L647.17 398.2L647.23 398.2L647.27 398.2L647.33 398.2L647.42 398.2L647.52 398.2L647.62 398.2L647.73 398.2L647.92 398.2L648 398.2L648.12 399.13L648.42 403.65L648.73 405.62L649 407.17L649.12 407.7L649.62 409.5L650 410.21L650.12 410.36L651 411.56L651.12 411.28L652 412.03L652.12 412.23L653 412.71L654 413.02L655 413.33L656 413.43L657 413.44L658 413.24L659 413.93L660 413.93L661 413.61L662 413.99L663 414L664 413.95L665 413.5L666 413.68L667 413.85L668 414.42L669 413.81L670 413.95L671 413.77L672 413.94L673 414.15L674 413.56L675 413.38L676 414.26L677 414.1L678 413.95L678.6 414.35" fill="none" stroke="#44e68a" stroke-width="2.6" stroke-linejoin="round"/>
<path d="M494 413.75L494.25 413.61L495 413.39L495.25 413.29L496 413.38L496.25 413.13L496.75 412.7L497 411.98L497.25 412.67L497.65 411.19L497.95 410.34L498 409.87L498.25 408.64L498.45 406.03L498.65 402.52L498.75 399.21L498.85 394.66L498.95 386.95L499 382.27L499.05 376.82L499.1 371.35L499.15 364.74L499.2 360.85L499.25 359.01L499.3 360.86L499.35 365.24L499.4 370.88L499.45 376.93L499.55 387.28L499.65 394.3L499.75 399.2L499.85 402.1L500 405.55L500.05 406.21L500.25 408.48L500.55 410.55L500.85 411.51L501 411.9L501.25 412.52L501.75 412.29L502 413.16L502.25 413.21L503 413.51L503.25 413.3L504 413.89L504.25 414.07L505 414.13M538 413.35L538.29 413.87L539 413.57L539.29 413.03L540 413.15L540.29 412.69L540.79 412.74L541 412.18L541.29 411.07L541.69 409.95L541.99 408.34L542 408.5L542.29 406.04L542.49 403.29L542.69 398.04L542.79 393.6L542.89 388.06L542.99 380.72L543 379.55L543.09 370.46L543.14 365.14L543.19 360.5L543.24 357.3L543.29 355.73L543.34 357.51L543.39 360.46L543.44 365.3L543.49 369.89L543.59 380.43L543.69 388.63L543.79 393.46L543.89 398.4L544 401.37L544.09 402.93L544.29 405.65L544.59 408.8L544.89 410.05L545 410.53L545.29 411.11L545.79 411.87L546 412.52L546.29 412.37L547 413.27L547.29 412.78L548 413.18L548.29 413.12L549 413.89M551 413.4L551.45 413.81L552 413.67L552.45 414.08L553 413.9L553.45 413.47L553.95 413.26L554 412.63L554.45 412.52L554.85 412.17L555 411.94L555.15 411.33L555.45 410.46L555.65 409.37L555.85 407.93L555.95 406.31L556 405.21L556.05 404.15L556.15 401.63L556.25 398.2L556.3 396.7L556.35 394.96L556.4 394.58L556.45 394.31L556.5 394.51L556.55 395.49L556.6 396.85L556.65 398.86L556.75 401.62L556.85 403.91L556.95 405.97L557 407.19L557.05 407.95L557.25 409.78L557.45 410.91L557.75 411.74L558 411.85L558.05 412.12L558.45 412.35L558.95 413.08L559 412.87L559.45 413.43L560 413.55L560.45 413.22L561 413.95L561.45 414.02L562 413.55M599 413.37L599.55 413.39L600 413.31L600.55 412.57L601 413L601.55 412.58L602 411.63L602.05 412.34L602.55 411.51L602.95 410.74L603 410.64L603.25 409.6L603.55 407.84L603.75 406.28L603.95 403.69L604 403.49L604.05 402.49L604.15 399.86L604.25 397.59L604.35 395.54L604.4 394.64L604.45 393.59L604.5 393.03L604.55 393.57L604.6 393.53L604.65 393.38L604.7 394.08L604.75 395.26L604.85 397.74L604.95 400.11L605 400.96L605.05 401.65L605.15 403.84L605.35 406.53L605.55 408.09L605.85 409.57L606 410.38L606.15 410.66L606.55 411.23L607 412.13L607.05 411.84L607.55 412.82L608 412.98L608.55 412.87L609 413.31L609.55 413.7L610 412.97M631 412.75L631.73 412.43L632 411.91L632.73 411.89L633 411.01L633.73 410.02L634 410.01L634.23 408.42L634.73 407.34L635 405.48L635.12 404.97L635.42 402.62L635.73 398.52L635.92 394.39L636 392.07L636.12 388L636.23 383.57L636.33 378.95L636.42 373.48L636.52 369L636.58 366.43L636.62 365.28L636.67 363.97L636.73 363.63L636.77 364.35L636.83 365.12L636.88 366.25L636.92 368.93L637 371.76L637.02 373.84L637.12 378.88L637.23 383.43L637.33 387.94L637.52 394.14L637.73 398.93L638 402.05L638.02 402.9L638.33 405.2L638.73 406.75L639 407.66L639.23 408.8L639.73 409.43L640 409.89L640.73 410.48L641 410.4L641.73 410.83L642 410.7L642.12 410.55M641.73 410.83L642 410.7L642.12 410.55L643 410.59L643.12 411.04L644 410.17L644.12 409.58L644.62 408.69L645 407.75L645.12 407.52L645.52 405.32L645.83 402.81L646 400.88L646.12 399.45L646.33 395.88L646.52 389.34L646.62 385.28L646.73 381.77L646.83 377.08L646.92 372.95L646.98 371.49L647 370.48L647.02 369.52L647.08 368.51L647.12 368.7L647.17 368.72L647.23 369.93L647.27 370.89L647.33 372.86L647.42 376.78L647.52 381.55L647.62 385.76L647.73 389.75L647.92 395.71L648 397L648.12 399.13L648.42 403.65L648.73 405.62L649 407.17L649.12 407.7L649.62 409.5L650 410.21L650.12 410.36L651 411.56L651.12 411.28L652 412.03L652.12 412.23L653 412.71" fill="none" stroke="#57e896" stroke-width="1.8" stroke-linejoin="round"/>
<path d="M395 411.43L395.77 411.81L396 411.35L396.77 411.57L397 411.47L397.77 410.94L398 410.7L398.27 410.43L398.77 410.2L399 408.98L399.18 408.29L399.48 406.69L399.77 403L399.98 398.62L400 397.28L400.18 389.24L400.27 382.23L400.38 368.07L400.48 343.94L400.57 297.06L400.62 259.07L400.68 209.92L400.73 162.14L400.77 140.34L400.82 162.24L400.88 210.26L400.93 258.72L400.98 296.84L401 311.41L401.07 344.29L401.18 367.78L401.27 381.4L401.38 389.99L401.57 398.38L401.77 403.19L402 405.92L402.07 406.82L402.38 408.58L402.77 409.88L403 410.83L403.27 410.9L403.77 411.2L404 411.62L404.77 412.24L405 411.93L405.77 412.61L406 412.65M419 413.3L419.89 413.25L420 413.32L420.89 413.2L421 412.45L421.89 412.37L422 412.38L422.39 411.92L422.89 411.58L423 411.26L423.29 410.19L423.59 408.77L423.89 406.33L424 404.35L424.09 402.62L424.29 396.56L424.39 390.82L424.49 381.99L424.59 366.15L424.69 338.34L424.74 317.51L424.79 293.71L424.84 272.77L424.89 263.26L424.94 272.88L424.99 294.17L425 298.76L425.04 317.59L425.09 338.43L425.19 366.07L425.29 381.91L425.39 391.26L425.49 396.55L425.69 402.96L425.89 406.2L426 407.36L426.19 408.88L426.49 410.32L426.89 411.69L427 411.26L427.39 412.15L427.89 412.81L428 412.53L428.89 413.1L429 412.99L429.89 413.47L430 413.59" fill="none" stroke="#73eca7" stroke-width="1.3" stroke-linejoin="round"/>
<path d="M389 390.57L390 389.92L391 390.5L392 390.92L393 390.56L394 390.71L395 391.06L395.77 390.75L396 390.51L396.77 390.57L397 390.38L397.77 390.61L398 389.93L398.27 390.42L398.77 389.17L399 389.16L399.18 388.31L399.48 387.35L399.77 386.48L399.98 386.5L400 386.5L400.18 386.52L400.27 386.52L400.38 386.53L400.48 386.54L400.57 386.55L400.62 386.55L400.68 386.55L400.73 386.56L400.77 386.56L400.82 386.56L400.88 386.57L400.93 386.57L400.98 386.58L401 386.58L401.07 386.58L401.18 386.59L401.27 386.6L401.38 386.6L401.57 386.62L401.77 386.63L402 387.42L402.07 386.99L402.38 388.85L402.77 390.25L403 389.62L403.27 390.73L403.77 390.69L404 390.92L404.77 391.39L405 390.93L405.77 391.61L406 391.44L407 391.55L408 392.01L409 392.79L410 392.07L411 392.18L412 392.08L413 391.96L414 392.24L415 392.59L416 392.28L417 392.47L418 392.19L419 392.85L419.89 391.76L420 392.31L420.89 392.17L421 392.08L421.89 391.43L422 391.36L422.39 391.32L422.89 390.81L423 390.29L423.29 389.64L423.59 388.87L423.89 387.63L424 387.63L424.09 387.63L424.29 387.64L424.39 387.64L424.49 387.64L424.59 387.64L424.69 387.65L424.74 387.65L424.79 387.65L424.84 387.65L424.89 387.65L424.94 387.65L424.99 387.65L425 387.65L425.04 387.66L425.09 387.66L425.19 387.66L425.29 387.66L425.39 387.66L425.49 387.67L425.69 387.67L425.89 387.68L426 387.72L426.19 388.78L426.49 389.16L426.89 390.76L427 390.87L427.39 391.42L427.89 391.56L428 391.81L428.89 392.07L429 392.95L429.89 392.61L430 392.4L431 392.54L432 392.59L433 392.73L434 392.62L435 392.75L436 393.04L437 393.02L438 392.91L439 393.18L440 392.92L441 392.64L442 392.46L443 392.74L444 392.91L445 393.04L446 393.22L447 392.82L448 392.77L449 393.17L450 393.28L451 392.88L452 393.09L453 393.36L454 393.1L455 393.01L456 392.51L457 393.37L458 393.21L459 393.08L460 392.94L461 392.75L462 393.04L463 393.04L464 393.35L465 392.77L466 393.44L467 393.09L468 393.39L469 392.85L470 393.18L471 393.4L472 393.13L473 392.73L474 393.02L475 393.24L476 392.75L477 392.74L478 393.16L479 392.87L480 393.27L481 392.81L482 392.64L483 392.9L484 393.47L485 392.87L486 393.08L487 393.14L488 392.83L489 393.32L490 393.07L491 393.11L492 392.53L493 392.45L494 392.1L494.25 392.71L495 392.55L495.25 392.73L496 392.63L496.25 392.06L496.75 391.66L497 391.56L497.25 391.45L497.65 389.95L497.95 389.17L498 388.7L498.25 388.18L498.45 388.18L498.65 388.18L498.75 388.18L498.85 388.18L498.95 388.18L499 388.18L499.05 388.18L499.1 388.18L499.15 388.18L499.2 388.18L499.25 388.18L499.3 388.18L499.35 388.18L499.4 388.18L499.45 388.18L499.55 388.18L499.65 388.18L499.75 388.18L499.85 388.18L500 388.18L500.05 388.18L500.25 388.18L500.55 388.81L500.85 390.06L501 390.31L501.25 390.76L501.75 391.6L502 392.28L502.25 392.31L503 392.48L503.25 392.56L504 392.3L504.25 392.93L505 392.96L506 392.66L507 393.04L508 392.97L509 392.92L510 392.82L511 392.91L512 392.85L513 393.21L514 393.19L515 393.19L516 393.07L517 393.01L518 393.63L519 392.65L520 393.42L521 393.2L522 393.13L523 392.99L524 393.05L525 392.81L526 392.75L527 393.07L528 392.67L529 393.29L530 393.34L531 392.19L532 392.64L533 393.07L534 393.02L535 392.95L536 392.96L537 392.94L538 392.81L538.29 392.98L539 392.34L539.29 392.43L540 391.42L540.29 391.56L540.79 390.72L541 391.05L541.29 390.69L541.69 389.01L541.99 388.2L542 388.2L542.29 388.2L542.49 388.2L542.69 388.2L542.79 388.2L542.89 388.2L542.99 388.2L543 388.2L543.09 388.2L543.14 388.2L543.19 388.2L543.24 388.2L543.29 388.2L543.34 388.2L543.39 388.2L543.44 388.2L543.49 388.2L543.59 388.2L543.69 388.2L543.79 388.2L543.89 388.2L544 388.2L544.09 388.2L544.29 388.2L544.59 388.2L544.89 388.75L545 389.11L545.29 390.06L545.79 390.85L546 391.35L546.29 391.59L547 391.98L547.29 392.13L548 392.36L548.29 392.92L549 392.61L550 392.56L551 392.68L551.45 392.92L552 392.7L552.45 392.68L553 392.6L553.45 392.63L553.95 392.56L554 392.56L554.45 391.84L554.85 391.7L555 391.15L555.15 391.81L555.45 391.31L555.65 390.69L555.85 389.26L555.95 388.64L556 387.79L556.05 387.12L556.15 385.18L556.25 383.45L556.3 382.53L556.35 382.08L556.4 381.69L556.45 380.96L556.5 381.37L556.55 381.92L556.6 382.49L556.65 383.22L556.75 385.38L556.85 386.8L556.95 388.28L557 388.8L557.05 389.2L557.25 390.34L557.45 391.18L557.75 391.42L558 392.18L558.05 391.59L558.45 392.32L558.95 392.63L559 392.36L559.45 392.29L560 392.95L560.45 392.69L561 393.1L561.45 393.14L562 392.98L563 393.02L564 393.29L565 393.16L566 392.85L567 393.13L568 393.24L569 393.15L570 393.16L571 393.08L572 393.09L573 392.88L574 392.76L575 393.4L576 392.96L577 393.18L578 392.75L579 393.16L580 392.91L581 393.86L582 392.86L583 392.87L584 393.34L585 393.39L586 392.58L587 393.16L588 393.31L589 392.78L590 393.24L591 392.93L592 392.8L593 392.94L594 392.89L595 392.64L596 393.5L597 392.78L598 392.64L599 392.93L599.55 392.62L600 392.89L600.55 392.36L601 392.37L601.55 392.07L602 391.81L602.05 391.68L602.55 391.24L602.95 391.08L603 390.4L603.25 389.83L603.55 388.73L603.75 387.73L603.95 385.84L604 385.37L604.05 384.16L604.15 383.08L604.25 381.34L604.35 379.71L604.4 379.14L604.45 378.08L604.5 378.29L604.55 378.14L604.6 377.87L604.65 378.54L604.7 379.49L604.75 379.69L604.85 381.53L604.95 382.96L605 383.57L605.05 384.26L605.15 385.63L605.35 387.91L605.55 389.01L605.85 389.78L606 390.59L606.15 390.62L606.55 391.07L607 391.78L607.05 391.49L607.55 391.63L608 392.53L608.55 391.94L609 392.63L609.55 392.22L610 392.65L611 392.71L612 392.71L613 392.32L614 392.86L615 392.89L616 392.68L617 392.89L618 393.14L619 392.71L620 392.93L621 392.56L622 392.91L623 392.94L624 393.35L625 392.9L626 392.71L627 392.85L628 392.12L629 392.46L630 391.81L631 391.43L631.73 391.47L632 391.08L632.73 390.74L633 389.76L633.73 389.11L634 388.36L634.23 387.87L634.73 385.79L635 385.15L635.12 384.2L635.42 381.41L635.73 377.28L635.92 377.2L636 377.2L636.12 377.2L636.23 377.2L636.33 377.2L636.42 377.2L636.52 377.2L636.58 377.2L636.62 377.2L636.67 377.2L636.73 377.2L636.77 377.2L636.83 377.2L636.88 377.2L636.92 377.2L637 377.2L637.02 377.2L637.12 377.2L637.23 377.2L637.33 377.2L637.52 377.2L637.73 377.68L638 381.11L638.02 381.46L638.33 383.66L638.73 385.86L639 387.14L639.23 387.68L639.73 388.51L640 388.8L640.73 389.15L641 389.79L641.73 390.04L642 390.2L642.12 390.43L643 389.77L643.12 389.84L644 388.51L644.12 388.9L644.62 387.88L645 386.97L645.12 386.36L645.52 384.37L645.83 382.31L646 379.83L646.12 378.34L646.33 377.2L646.52 377.2L646.62 377.2L646.73 377.2L646.83 377.2L646.92 377.2L646.98 377.2L647 377.2L647.02 377.2L647.08 377.2L647.12 377.2L647.17 377.2L647.23 377.2L647.27 377.2L647.33 377.2L647.42 377.2L647.52 377.2L647.62 377.2L647.73 377.2L647.92 377.2L648 377.2L648.12 378.17L648.42 382.22L648.73 384.71L649 386.06L649.12 386.77L649.62 388.2L650 388.69L650.12 389.56L651 390.67L651.12 390.34L652 391.62L652.12 391.38L653 391.73L654 392.5L655 391.66L656 392.04L657 392.73L658 392.6L659 392.5L660 393.16L661 392.96L662 392.57L663 392.76L664 393.15L665 393.41L666 392.5L667 393.07L668 392.93L669 392.62L670 393.01L671 392.67L672 392.94L673 393.48L674 393.22L675 393.29L676 393.25L677 393.2L678 393.35L678.6 392.84" fill="none" stroke="#c8101e" stroke-width="2.6" stroke-linejoin="round"/>
<path d="M494 392.1L494.25 392.71L495 392.55L495.25 392.73L496 392.63L496.25 392.06L496.75 391.66L497 391.56L497.25 391.45L497.65 389.95L497.95 389.17L498 388.7L498.25 386.94L498.45 384.88L498.65 380.23L498.75 376.62L498.85 371.8L498.95 363.74L499 358.46L499.05 352.44L499.1 346.02L499.15 339.52L499.2 335.11L499.25 333.26L499.3 335.29L499.35 339.93L499.4 346.11L499.45 352.42L499.55 363.78L499.65 371.49L499.75 377.6L499.85 380.37L500 383.99L500.05 385.01L500.25 386.68L500.55 388.81L500.85 390.06L501 390.31L501.25 390.76L501.75 391.6L502 392.28L502.25 392.31L503 392.48L503.25 392.56L504 392.3L504.25 392.93L505 392.96M538 392.81L538.29 392.98L539 392.34L539.29 392.43L540 391.42L540.29 391.56L540.79 390.72L541 391.05L541.29 390.69L541.69 389.01L541.99 387.04L542 387.26L542.29 384.77L542.49 381.79L542.69 376.74L542.79 372.51L542.89 365.71L542.99 358.57L543 356.96L543.09 347.86L543.14 342.85L543.19 337.64L543.24 334L543.29 332.81L543.34 334.36L543.39 338.01L543.44 342.97L543.49 347.96L543.59 358.11L543.69 366.84L543.79 372.2L543.89 376.87L544 379.89L544.09 381.8L544.29 384.71L544.59 387.43L544.89 388.75L545 389.11L545.29 390.06L545.79 390.85L546 391.35L546.29 391.59L547 391.98L547.29 392.13L548 392.36L548.29 392.92L549 392.61M551 392.68L551.45 392.92L552 392.7L552.45 392.68L553 392.6L553.45 392.63L553.95 392.56L554 392.56L554.45 391.84L554.85 391.7L555 391.15L555.15 391.81L555.45 391.31L555.65 390.69L555.85 389.26L555.95 388.64L556 387.79L556.05 387.12L556.15 385.18L556.25 383.45L556.3 382.53L556.35 382.08L556.4 381.69L556.45 380.96L556.5 381.37L556.55 381.92L556.6 382.49L556.65 383.22L556.75 385.38L556.85 386.8L556.95 388.28L557 388.8L557.05 389.2L557.25 390.34L557.45 391.18L557.75 391.42L558 392.18L558.05 391.59L558.45 392.32L558.95 392.63L559 392.36L559.45 392.29L560 392.95L560.45 392.69L561 393.1L561.45 393.14L562 392.98M599 392.93L599.55 392.62L600 392.89L600.55 392.36L601 392.37L601.55 392.07L602 391.81L602.05 391.68L602.55 391.24L602.95 391.08L603 390.4L603.25 389.83L603.55 388.73L603.75 387.73L603.95 385.84L604 385.37L604.05 384.16L604.15 383.08L604.25 381.34L604.35 379.71L604.4 379.14L604.45 378.08L604.5 378.29L604.55 378.14L604.6 377.87L604.65 378.54L604.7 379.49L604.75 379.69L604.85 381.53L604.95 382.96L605 383.57L605.05 384.26L605.15 385.63L605.35 387.91L605.55 389.01L605.85 389.78L606 390.59L606.15 390.62L606.55 391.07L607 391.78L607.05 391.49L607.55 391.63L608 392.53L608.55 391.94L609 392.63L609.55 392.22L610 392.65M631 391.43L631.73 391.47L632 391.08L632.73 390.74L633 389.76L633.73 389.11L634 388.36L634.23 387.87L634.73 385.79L635 385.15L635.12 384.2L635.42 381.41L635.73 377.28L635.92 373.14L636 371.61L636.12 367.01L636.23 362.79L636.33 358.17L636.42 352.83L636.52 347.91L636.58 345.94L636.62 344.2L636.67 343.29L636.73 342.42L636.77 343.09L636.83 344.02L636.88 345.76L636.92 347.81L637 351.33L637.02 352.7L637.12 358.22L637.23 362.65L637.33 366.63L637.52 373.37L637.73 377.68L638 381.11L638.02 381.46L638.33 383.66L638.73 385.86L639 387.14L639.23 387.68L639.73 388.51L640 388.8L640.73 389.15L641 389.79L641.73 390.04L642 390.2L642.12 390.43M641.73 390.04L642 390.2L642.12 390.43L643 389.77L643.12 389.84L644 388.51L644.12 388.9L644.62 387.88L645 386.97L645.12 386.36L645.52 384.37L645.83 382.31L646 379.83L646.12 378.34L646.33 374.51L646.52 368.31L646.62 364.52L646.73 360.69L646.83 356.14L646.92 352.07L646.98 350.35L647 349.28L647.02 348.94L647.08 348.29L647.12 347.64L647.17 347.95L647.23 348.6L647.27 350.42L647.33 352.44L647.42 355.83L647.52 360.84L647.62 365.11L647.73 368.47L647.92 374.3L648 375.8L648.12 378.17L648.42 382.22L648.73 384.71L649 386.06L649.12 386.77L649.62 388.2L650 388.69L650.12 389.56L651 390.67L651.12 390.34L652 391.62L652.12 391.38L653 391.73" fill="none" stroke="#ce2834" stroke-width="1.8" stroke-linejoin="round"/>
<path d="M395 391.06L395.77 390.75L396 390.51L396.77 390.57L397 390.38L397.77 390.61L398 389.93L398.27 390.42L398.77 389.17L399 389.16L399.18 388.31L399.48 387.35L399.77 385.31L399.98 382.3L400 381.82L400.18 376.08L400.27 370.72L400.38 361.82L400.48 345.81L400.57 314.11L400.62 288.92L400.68 256.17L400.73 224.16L400.77 209.46L400.82 224.05L400.88 255.93L400.93 288.56L400.98 313.91L401 324.16L401.07 345.65L401.18 362.03L401.27 370.45L401.38 376.99L401.57 382.11L401.77 385.51L402 387.42L402.07 386.99L402.38 388.85L402.77 390.25L403 389.62L403.27 390.73L403.77 390.69L404 390.92L404.77 391.39L405 390.93L405.77 391.61L406 391.44M419 392.85L419.89 391.76L420 392.31L420.89 392.17L421 392.08L421.89 391.43L422 391.36L422.39 391.32L422.89 390.81L423 390.29L423.29 389.64L423.59 388.87L423.89 386.84L424 385.17L424.09 383.75L424.29 378.7L424.39 375.03L424.49 367.33L424.59 354.82L424.69 332.91L424.74 316.93L424.79 297.82L424.84 280.36L424.89 273.64L424.94 280.62L424.99 297.45L425 301.04L425.04 316.27L425.09 332.4L425.19 354.93L425.29 367.24L425.39 374.08L425.49 378.49L425.69 383.85L425.89 386.79L426 387.72L426.19 388.78L426.49 389.16L426.89 390.76L427 390.87L427.39 391.42L427.89 391.56L428 391.81L428.89 392.07L429 392.95L429.89 392.61L430 392.4" fill="none" stroke="#d64c56" stroke-width="1.3" stroke-linejoin="round"/>
<path d="M389 377.68L390 378.09L391 377.82L392 377.99L393 378.49L394 378.65L395 378.19L395.77 378.17L396 378.51L396.77 378.42L397 378.18L397.77 378.39L398 378.32L398.27 378.1L398.77 378.48L399 377.84L399.18 377.45L399.48 376.78L399.77 375.89L399.98 373.9L400 373.9L400.18 373.92L400.27 373.92L400.38 373.93L400.48 373.94L400.57 373.95L400.62 373.95L400.68 373.95L400.73 373.96L400.77 373.96L400.82 373.96L400.88 373.97L400.93 373.97L400.98 373.98L401 373.98L401.07 373.98L401.18 373.99L401.27 374L401.38 374L401.57 374.02L401.77 374.77L402 376.35L402.07 376.78L402.38 377.65L402.77 377.98L403 378.31L403.27 378.56L403.77 378.52L404 378.58L404.77 379.43L405 378.78L405.77 379.41L406 379.15L407 379.6L408 379.16L409 379.51L410 379.53L411 379.44L412 379.62L413 379.4L414 379.6L415 379.56L416 379.87L417 379.67L418 379.36L419 379.59L419.89 379.61L420 379.4L420.89 379.84L421 379.6L421.89 379.44L422 379L422.39 378.85L422.89 378.67L423 377.9L423.29 377.74L423.59 376.64L423.89 375.03L424 375.03L424.09 375.03L424.29 375.04L424.39 375.04L424.49 375.04L424.59 375.04L424.69 375.05L424.74 375.05L424.79 375.05L424.84 375.05L424.89 375.05L424.94 375.05L424.99 375.05L425 375.05L425.04 375.06L425.09 375.06L425.19 375.06L425.29 375.06L425.39 375.06L425.49 375.07L425.69 375.07L425.89 375.08L426 375.15L426.19 376.6L426.49 377.42L426.89 378.72L427 378.49L427.39 379.16L427.89 379.14L428 379.9L428.89 379.43L429 379.78L429.89 380.54L430 379.96L431 379.79L432 380.22L433 380.36L434 380.37L435 379.7L436 380.27L437 379.72L438 380.73L439 380.3L440 380.18L441 380.48L442 380.45L443 380.05L444 380.75L445 380.31L446 379.94L447 380.73L448 380.78L449 380.72L450 380.55L451 380.2L452 380.66L453 380.9L454 380.65L455 380.85L456 380.27L457 380.72L458 380.7L459 380.11L460 380.08L461 380.31L462 380.51L463 380.61L464 380.45L465 380.49L466 380.48L467 380.53L468 380.66L469 380.64L470 380.51L471 380.59L472 380.41L473 380.72L474 380.4L475 380.94L476 380.53L477 380.6L478 380.34L479 380.45L480 380.57L481 380.54L482 380.38L483 380.24L484 380.54L485 380.56L486 380.65L487 380.82L488 380.42L489 379.99L490 380.44L491 379.99L492 380.09L493 380.62L494 380.41L494.25 380.08L495 379.97L495.25 380.05L496 379.4L496.25 379.84L496.75 379.3L497 379.61L497.25 378.58L497.65 378.33L497.95 376.96L498 377.17L498.25 375.58L498.45 375.58L498.65 375.58L498.75 375.58L498.85 375.58L498.95 375.58L499 375.58L499.05 375.58L499.1 375.58L499.15 375.58L499.2 375.58L499.25 375.58L499.3 375.58L499.35 375.58L499.4 375.58L499.45 375.58L499.55 375.58L499.65 375.58L499.75 375.58L499.85 375.58L500 375.58L500.05 375.58L500.25 375.58L500.55 377.13L500.85 377.84L501 378.48L501.25 379.1L501.75 379.74L502 379.57L502.25 379.55L503 379.82L503.25 379.73L504 380.25L504.25 380.59L505 379.74L506 379.85L507 380.79L508 380.07L509 380.57L510 380.19L511 380.71L512 380.72L513 380.57L514 380.74L515 380.55L516 380.68L517 381L518 380.82L519 380.38L520 380.35L521 380.49L522 380.49L523 380.56L524 380.39L525 380.7L526 380.54L527 380.62L528 380.52L529 380.67L530 380.2L531 380.88L532 380.55L533 380.56L534 380.57L535 380.64L536 380.49L537 380.28L538 380.03L538.29 379.6L539 379.88L539.29 379.65L540 379.28L540.29 379.75L540.79 378.17L541 378.34L541.29 378.09L541.69 376.9L541.99 375.6L542 375.6L542.29 375.6L542.49 375.6L542.69 375.6L542.79 375.6L542.89 375.6L542.99 375.6L543 375.6L543.09 375.6L543.14 375.6L543.19 375.6L543.24 375.6L543.29 375.6L543.34 375.6L543.39 375.6L543.44 375.6L543.49 375.6L543.59 375.6L543.69 375.6L543.79 375.6L543.89 375.6L544 375.6L544.09 375.6L544.29 375.6L544.59 375.6L544.89 376.76L545 376.96L545.29 377.69L545.79 378.85L546 379.07L546.29 379.06L547 379.34L547.29 380.21L548 380.25L548.29 380L549 380L550 380.24L551 380.23L551.45 380.51L552 379.95L552.45 380.17L553 379.92L553.45 380.36L553.95 380.36L554 379.87L554.45 379.83L554.85 379.75L555 379.17L555.15 378.82L555.45 378.73L555.65 377.93L555.85 376.62L555.95 376.15L556 375.29L556.05 374.15L556.15 373.09L556.25 371.07L556.3 370.59L556.35 369.28L556.4 368.67L556.45 368.62L556.5 368.78L556.55 368.94L556.6 370.15L556.65 371L556.75 373.36L556.85 375.2L556.95 375.52L557 376.04L557.05 376.47L557.25 377.66L557.45 378.32L557.75 379.1L558 379.67L558.05 379.12L558.45 379.36L558.95 379.51L559 380.27L559.45 380.45L560 379.85L560.45 379.88L561 380.38L561.45 380.65L562 380.67L563 380.5L564 380.65L565 380.58L566 380.38L567 381L568 380.53L569 380.26L570 380.43L571 380.16L572 380.56L573 380.83L574 380.24L575 380.84L576 381.08L577 380.65L578 380.27L579 380.34L580 380.47L581 380.23L582 380.24L583 380.48L584 380.5L585 380.69L586 380.24L587 381L588 380.79L589 380.74L590 380.35L591 380.94L592 380.4L593 380.93L594 380.72L595 380.2L596 380.28L597 380.82L598 380.53L599 380.15L599.55 380.16L600 380.08L600.55 379.72L601 379.73L601.55 379.39L602 379.19L602.05 379.38L602.55 378.58L602.95 378.45L603 378.2L603.25 377.8L603.55 376.76L603.75 375.71L603.95 373.83L604 373.29L604.05 372.46L604.15 371.27L604.25 369.38L604.35 368.05L604.4 367.67L604.45 366.96L604.5 366.77L604.55 366.28L604.6 367L604.65 366.83L604.7 367.58L604.75 368.11L604.85 369.83L604.95 371.03L605 371.59L605.05 372.02L605.15 373.59L605.35 375.09L605.55 376.67L605.85 377.96L606 377.41L606.15 377.93L606.55 378.89L607 379.52L607.05 379.32L607.55 379.61L608 379.84L608.55 380.02L609 380.39L609.55 380.22L610 379.82L611 380.1L612 380.33L613 380.11L614 380.28L615 380.22L616 380.19L617 380.54L618 380.26L619 380.07L620 380.15L621 380.32L622 380.82L623 380.32L624 380.58L625 380.28L626 379.55L627 380.1L628 379.67L629 379.38L630 379.23L631 379.62L631.73 378.44L632 378.52L632.73 378.42L633 378.02L633.73 376.46L634 376.36L634.23 375.76L634.73 374.34L635 373.36L635.12 372.34L635.42 370.16L635.73 366.97L635.92 364.6L636 364.6L636.12 364.6L636.23 364.6L636.33 364.6L636.42 364.6L636.52 364.6L636.58 364.6L636.62 364.6L636.67 364.6L636.73 364.6L636.77 364.6L636.83 364.6L636.88 364.6L636.92 364.6L637 364.6L637.02 364.6L637.12 364.6L637.23 364.6L637.33 364.6L637.52 364.6L637.73 366.61L638 369.44L638.02 370.05L638.33 372.22L638.73 374.13L639 374.87L639.23 375.61L639.73 376.26L640 376.79L640.73 377.18L641 377.52L641.73 377.95L642 377.59L642.12 377.87L643 377.25L643.12 377.32L644 376.62L644.12 376.84L644.62 375.5L645 375.08L645.12 374.01L645.52 372.62L645.83 370.84L646 369.05L646.12 367.01L646.33 364.6L646.52 364.6L646.62 364.6L646.73 364.6L646.83 364.6L646.92 364.6L646.98 364.6L647 364.6L647.02 364.6L647.08 364.6L647.12 364.6L647.17 364.6L647.23 364.6L647.27 364.6L647.33 364.6L647.42 364.6L647.52 364.6L647.62 364.6L647.73 364.6L647.92 364.6L648 365.38L648.12 367.44L648.42 370.26L648.73 372.56L649 373.99L649.12 374.91L649.62 376.36L650 377.01L650.12 377.12L651 377.56L651.12 378.28L652 378.7L652.12 379.19L653 379.62L654 380.14L655 379.96L656 380.14L657 379.78L658 380.15L659 379.89L660 380.48L661 379.99L662 380.28L663 380.16L664 380.27L665 380.53L666 380.29L667 380.5L668 380.21L669 380.83L670 380.32L671 380.75L672 381.04L673 379.89L674 380.26L675 380.47L676 380.82L677 380.41L678 380.63L678.6 380.36" fill="none" stroke="#c98f9c" stroke-width="2.6" stroke-linejoin="round"/>
<path d="M494 380.41L494.25 380.08L495 379.97L495.25 380.05L496 379.4L496.25 379.84L496.75 379.3L497 379.61L497.25 378.58L497.65 378.33L497.95 376.96L498 377.17L498.25 375.23L498.45 373.69L498.65 369.86L498.75 366.82L498.85 362.61L498.95 356.19L499 351.83L499.05 347.07L499.1 341.4L499.15 335.31L499.2 331.95L499.25 330.08L499.3 331.95L499.35 336.12L499.4 340.87L499.45 346.38L499.55 356.11L499.65 362.57L499.75 367.42L499.85 370.05L500 372.96L500.05 373.95L500.25 375.35L500.55 377.13L500.85 377.84L501 378.48L501.25 379.1L501.75 379.74L502 379.57L502.25 379.55L503 379.82L503.25 379.73L504 380.25L504.25 380.59L505 379.74M538 380.03L538.29 379.6L539 379.88L539.29 379.65L540 379.28L540.29 379.75L540.79 378.17L541 378.34L541.29 378.09L541.69 376.9L541.99 375.58L542 374.88L542.29 372.65L542.49 370.28L542.69 365.21L542.79 361.86L542.89 356.09L542.99 348.61L543 347.63L543.09 339.13L543.14 334.17L543.19 329.58L543.24 326.66L543.29 325.45L543.34 326.74L543.39 329.48L543.44 333.86L543.49 339.31L543.59 348.62L543.69 355.85L543.79 361.42L543.89 365.06L544 368.88L544.09 369.73L544.29 373.32L544.59 375.06L544.89 376.76L545 376.96L545.29 377.69L545.79 378.85L546 379.07L546.29 379.06L547 379.34L547.29 380.21L548 380.25L548.29 380L549 380M551 380.23L551.45 380.51L552 379.95L552.45 380.17L553 379.92L553.45 380.36L553.95 380.36L554 379.87L554.45 379.83L554.85 379.75L555 379.17L555.15 378.82L555.45 378.73L555.65 377.93L555.85 376.62L555.95 376.15L556 375.29L556.05 374.15L556.15 373.09L556.25 371.07L556.3 370.59L556.35 369.28L556.4 368.67L556.45 368.62L556.5 368.78L556.55 368.94L556.6 370.15L556.65 371L556.75 373.36L556.85 375.2L556.95 375.52L557 376.04L557.05 376.47L557.25 377.66L557.45 378.32L557.75 379.1L558 379.67L558.05 379.12L558.45 379.36L558.95 379.51L559 380.27L559.45 380.45L560 379.85L560.45 379.88L561 380.38L561.45 380.65L562 380.67M599 380.15L599.55 380.16L600 380.08L600.55 379.72L601 379.73L601.55 379.39L602 379.19L602.05 379.38L602.55 378.58L602.95 378.45L603 378.2L603.25 377.8L603.55 376.76L603.75 375.71L603.95 373.83L604 373.29L604.05 372.46L604.15 371.27L604.25 369.38L604.35 368.05L604.4 367.67L604.45 366.96L604.5 366.77L604.55 366.28L604.6 367L604.65 366.83L604.7 367.58L604.75 368.11L604.85 369.83L604.95 371.03L605 371.59L605.05 372.02L605.15 373.59L605.35 375.09L605.55 376.67L605.85 377.96L606 377.41L606.15 377.93L606.55 378.89L607 379.52L607.05 379.32L607.55 379.61L608 379.84L608.55 380.02L609 380.39L609.55 380.22L610 379.82M631 379.62L631.73 378.44L632 378.52L632.73 378.42L633 378.02L633.73 376.46L634 376.36L634.23 375.76L634.73 374.34L635 373.36L635.12 372.34L635.42 370.16L635.73 366.97L635.92 362.31L636 360.8L636.12 357.2L636.23 353.02L636.33 348.84L636.42 343.97L636.52 339.85L636.58 337.77L636.62 336.66L636.67 335.78L636.73 335.21L636.77 335.42L636.83 336.51L636.88 337.92L636.92 339.48L637 343.36L637.02 344.31L637.12 349.14L637.23 352.92L637.33 357.21L637.52 363.18L637.73 366.61L638 369.44L638.02 370.05L638.33 372.22L638.73 374.13L639 374.87L639.23 375.61L639.73 376.26L640 376.79L640.73 377.18L641 377.52L641.73 377.95L642 377.59L642.12 377.87M641.73 377.95L642 377.59L642.12 377.87L643 377.25L643.12 377.32L644 376.62L644.12 376.84L644.62 375.5L645 375.08L645.12 374.01L645.52 372.62L645.83 370.84L646 369.05L646.12 367.01L646.33 363.46L646.52 358.88L646.62 355.05L646.73 351.77L646.83 347.51L646.92 343.92L646.98 342.97L647 342.14L647.02 341.41L647.08 340.1L647.12 340.27L647.17 340.47L647.23 341.19L647.27 342.75L647.33 343.52L647.42 347.77L647.52 351.71L647.62 355.26L647.73 359.19L647.92 363.57L648 365.38L648.12 367.44L648.42 370.26L648.73 372.56L649 373.99L649.12 374.91L649.62 376.36L650 377.01L650.12 377.12L651 377.56L651.12 378.28L652 378.7L652.12 379.19L653 379.62" fill="none" stroke="#ce9aa6" stroke-width="1.8" stroke-linejoin="round"/>
<path d="M395 378.19L395.77 378.17L396 378.51L396.77 378.42L397 378.18L397.77 378.39L398 378.32L398.27 378.1L398.77 378.48L399 377.84L399.18 377.45L399.48 376.78L399.77 375.89L399.98 373.68L400 372.94L400.18 370.07L400.27 366.88L400.38 361.55L400.48 352.42L400.57 334.19L400.62 319.3L400.68 300.33L400.73 281.98L400.77 272.97L400.82 281.99L400.88 300.47L400.93 319.4L400.98 333.58L401 340.37L401.07 351.98L401.18 361.53L401.27 367.09L401.38 369.93L401.57 373.43L401.77 374.77L402 376.35L402.07 376.78L402.38 377.65L402.77 377.98L403 378.31L403.27 378.56L403.77 378.52L404 378.58L404.77 379.43L405 378.78L405.77 379.41L406 379.15M419 379.59L419.89 379.61L420 379.4L420.89 379.84L421 379.6L421.89 379.44L422 379L422.39 378.85L422.89 378.67L423 377.9L423.29 377.74L423.59 376.64L423.89 374.61L424 373.63L424.09 372.13L424.29 368.02L424.39 363.73L424.49 357.38L424.59 347.15L424.69 327.13L424.74 312.44L424.79 296.63L424.84 281.42L424.89 274.53L424.94 281.59L424.99 296.63L425 299.84L425.04 313.39L425.09 327.28L425.19 346.97L425.29 357.47L425.39 364.09L425.49 368.37L425.69 372.56L425.89 374.82L426 375.15L426.19 376.6L426.49 377.42L426.89 378.72L427 378.49L427.39 379.16L427.89 379.14L428 379.9L428.89 379.43L429 379.78L429.89 380.54L430 379.96" fill="none" stroke="#d6abb5" stroke-width="1.3" stroke-linejoin="round"/>
<path d="M389 356.24L390 355.91L391 356.54L392 355.68L393 356.06L394 357.09L395 356.75L395.77 356.53L396 357.33L396.77 357.07L397 357.09L397.77 356.68L398 356.92L398.27 356.85L398.77 356.16L399 356.61L399.18 356.29L399.48 356.31L399.77 355.63L399.98 354.24L400 354.1L400.18 352.71L400.27 352.22L400.38 352.23L400.48 352.24L400.57 352.25L400.62 352.25L400.68 352.25L400.73 352.26L400.77 352.26L400.82 352.26L400.88 352.27L400.93 352.27L400.98 352.28L401 352.28L401.07 352.28L401.18 352.29L401.27 352.3L401.38 352.65L401.57 354.3L401.77 355.91L402 356.15L402.07 356.12L402.38 356.61L402.77 357.06L403 356.79L403.27 357.03L403.77 357.13L404 357.91L404.77 357.41L405 356.92L405.77 357.71L406 358.18L407 357.36L408 358.56L409 357.71L410 358.04L411 357.69L412 357.81L413 357.6L414 357.68L415 357.43L416 358.3L417 357.73L418 358.13L419 358.11L419.89 357.83L420 358.01L420.89 357.89L421 357.77L421.89 357.7L422 357.66L422.39 357.2L422.89 356.72L423 356.7L423.29 356.47L423.59 355.97L423.89 354.49L424 353.33L424.09 353.33L424.29 353.34L424.39 353.34L424.49 353.34L424.59 353.34L424.69 353.35L424.74 353.35L424.79 353.35L424.84 353.35L424.89 353.35L424.94 353.35L424.99 353.35L425 353.35L425.04 353.36L425.09 353.36L425.19 353.36L425.29 353.36L425.39 353.36L425.49 353.37L425.69 353.37L425.89 353.56L426 355.01L426.19 355.79L426.49 356.58L426.89 356.87L427 357.09L427.39 357.42L427.89 357.96L428 357.63L428.89 358.49L429 358.23L429.89 357.69L430 358.7L431 358.38L432 358.26L433 358.47L434 358L435 358.55L436 357.89L437 358.28L438 358.92L439 358.91L440 358.51L441 358.37L442 358.87L443 358.63L444 358.71L445 358.83L446 358.4L447 358.9L448 358.15L449 359.09L450 358.31L451 358.56L452 358.56L453 358.93L454 358.94L455 358.85L456 358.9L457 358.89L458 358.75L459 358.28L460 358.18L461 358.19L462 358.78L463 358.74L464 358.76L465 358.86L466 358.74L467 358.55L468 358.42L469 358.32L470 359.13L471 359.06L472 358.47L473 358.75L474 358.94L475 359.24L476 358.67L477 358.87L478 359.13L479 358.38L480 358.64L481 358.82L482 358.64L483 359.38L484 359.05L485 358.87L486 358.56L487 359.03L488 358.96L489 358.65L490 358.66L491 358.37L492 358.7L493 358.89L494 358.85L494.25 358.71L495 358.66L495.25 358.24L496 358.06L496.25 358.38L496.75 357.88L497 357.34L497.25 357.38L497.65 356.76L497.95 355.84L498 355.49L498.25 353.97L498.45 353.88L498.65 353.88L498.75 353.88L498.85 353.88L498.95 353.88L499 353.88L499.05 353.88L499.1 353.88L499.15 353.88L499.2 353.88L499.25 353.88L499.3 353.88L499.35 353.88L499.4 353.88L499.45 353.88L499.55 353.88L499.65 353.88L499.75 353.88L499.85 353.88L500 353.88L500.05 353.88L500.25 354.05L500.55 355.74L500.85 356.85L501 356.7L501.25 357.04L501.75 358.06L502 357.78L502.25 358.1L503 358.46L503.25 358.59L504 358.53L504.25 358.27L505 358.9L506 358.58L507 358.6L508 359.29L509 359.01L510 358.52L511 358.69L512 358.75L513 358.63L514 358.33L515 359.04L516 359.04L517 358.9L518 358.73L519 358.89L520 359.01L521 358.57L522 358.75L523 358.69L524 359.01L525 358.9L526 358.49L527 358.66L528 359.27L529 358.56L530 358.84L531 358.62L532 359.1L533 358.74L534 358.61L535 358.38L536 358.57L537 358.77L538 358.61L538.29 358.04L539 358.63L539.29 358.07L540 357.56L540.29 357.68L540.79 357.05L541 356.8L541.29 356.33L541.69 355.5L541.99 354.21L542 353.9L542.29 353.9L542.49 353.9L542.69 353.9L542.79 353.9L542.89 353.9L542.99 353.9L543 353.9L543.09 353.9L543.14 353.9L543.19 353.9L543.24 353.9L543.29 353.9L543.34 353.9L543.39 353.9L543.44 353.9L543.49 353.9L543.59 353.9L543.69 353.9L543.79 353.9L543.89 353.9L544 353.9L544.09 353.9L544.29 353.9L544.59 354.86L544.89 355.47L545 355.36L545.29 356.66L545.79 357.52L546 357.37L546.29 358.04L547 358.48L547.29 357.95L548 358.18L548.29 358.04L549 358.6L550 358.74L551 358.76L551.45 358.29L552 358.42L552.45 358.25L553 358.19L553.45 358.23L553.95 358.12L554 358.48L554.45 358.56L554.85 358.5L555 358.27L555.15 358.03L555.45 357.97L555.65 357.85L555.85 357.18L555.95 356.91L556 356.6L556.05 356.29L556.15 355.79L556.25 354.73L556.3 354.91L556.35 353.9L556.4 354.19L556.45 353.64L556.5 354.46L556.55 354.53L556.6 354.43L556.65 354.91L556.75 355.5L556.85 356.41L556.95 357.02L557 357.76L557.05 356.91L557.25 358.04L557.45 357.84L557.75 358.3L558 358.58L558.05 358.51L558.45 358.6L558.95 358.54L559 358.59L559.45 358.69L560 359L560.45 358.34L561 358.61L561.45 358.43L562 358.52L563 358.58L564 359.08L565 359.36L566 359.16L567 358.51L568 358.84L569 358.53L570 358.94L571 359.15L572 358.98L573 359.05L574 358.79L575 358.32L576 358.32L577 358.8L578 358.97L579 359.15L580 358.73L581 358.84L582 358.88L583 359.09L584 358.79L585 358.52L586 359.08L587 358.9L588 358.89L589 358.46L590 358.77L591 358.32L592 358.24L593 358.68L594 358.61L595 358.85L596 359.05L597 358.63L598 359.05L599 358.36L599.55 358.65L600 358.07L600.55 358.34L601 358.13L601.55 357.99L602 358.01L602.05 357.35L602.55 357.54L602.95 356.89L603 357.07L603.25 356.72L603.55 355.75L603.75 354.91L603.95 353.45L604 353.48L604.05 352.73L604.15 352.01L604.25 350.42L604.35 350.05L604.4 348.97L604.45 349.17L604.5 348.52L604.55 348.69L604.6 348.6L604.65 349.04L604.7 349.23L604.75 350.02L604.85 350.95L604.95 352.06L605 352.84L605.05 352.71L605.15 354.07L605.35 355.02L605.55 355.45L605.85 356.73L606 356.81L606.15 357.51L606.55 357.35L607 357.78L607.05 357.85L607.55 357.51L608 358.26L608.55 357.99L609 358.68L609.55 358.8L610 358.41L611 358.07L612 358.55L613 358.57L614 358.71L615 358.45L616 358.21L617 358.46L618 358.24L619 358.9L620 358.22L621 358.19L622 358.29L623 357.91L624 358.02L625 357.99L626 357.77L627 357.65L628 357.79L629 357.27L630 356.36L631 355.95L631.73 355.57L632 354.89L632.73 353.99L633 353.42L633.73 351.64L634 350.46L634.23 349.48L634.73 346.29L635 344.18L635.12 342.9L635.42 342.9L635.73 342.9L635.92 342.9L636 342.9L636.12 342.9L636.23 342.9L636.33 342.9L636.42 342.9L636.52 342.9L636.58 342.9L636.62 342.9L636.67 342.9L636.73 342.9L636.77 342.9L636.83 342.9L636.88 342.9L636.92 342.9L637 342.9L637.02 342.9L637.12 342.9L637.23 342.9L637.33 342.9L637.52 342.9L637.73 342.9L638 342.9L638.02 342.9L638.33 342.9L638.73 346.22L639 347.28L639.23 348.69L639.73 350.42L640 351.43L640.73 352.88L641 352.35L641.73 353.28L642 353.29L642.12 353.57L643 352.93L643.12 352.51L644 351.46L644.12 350.96L644.62 349.51L645 348.03L645.12 347.17L645.52 344.2L645.83 342.9L646 342.9L646.12 342.9L646.33 342.9L646.52 342.9L646.62 342.9L646.73 342.9L646.83 342.9L646.92 342.9L646.98 342.9L647 342.9L647.02 342.9L647.08 342.9L647.12 342.9L647.17 342.9L647.23 342.9L647.27 342.9L647.33 342.9L647.42 342.9L647.52 342.9L647.62 342.9L647.73 342.9L647.92 342.9L648 342.9L648.12 342.9L648.42 342.9L648.73 344.83L649 347.55L649.12 347.58L649.62 350.29L650 352.49L650.12 352.22L651 354.21L651.12 354.5L652 355.84L652.12 356.03L653 356.43L654 356.87L655 357.33L656 357.7L657 358.16L658 358.02L659 358.58L660 358L661 358.43L662 358.81L663 358.75L664 358.55L665 358.28L666 358.36L667 358.54L668 358.68L669 358.56L670 358.27L671 358.48L672 358.81L673 358.91L674 358.35L675 358.63L676 358.3L677 358.6L678 359.66L678.6 358.77" fill="none" stroke="#587a34" stroke-width="2.6" stroke-linejoin="round"/>
<path d="M494 358.85L494.25 358.71L495 358.66L495.25 358.24L496 358.06L496.25 358.38L496.75 357.88L497 357.34L497.25 357.38L497.65 356.76L497.95 355.84L498 355.49L498.25 353.97L498.45 352.39L498.65 349.43L498.75 346.27L498.85 341.98L498.95 336.12L499 331.66L499.05 327.33L499.1 322.09L499.15 317.54L499.2 313.67L499.25 312.54L499.3 314.24L499.35 317.23L499.4 321.95L499.45 327.39L499.55 336.01L499.65 342.19L499.75 346.08L499.85 349.13L500 351.66L500.05 351.72L500.25 354.05L500.55 355.74L500.85 356.85L501 356.7L501.25 357.04L501.75 358.06L502 357.78L502.25 358.1L503 358.46L503.25 358.59L504 358.53L504.25 358.27L505 358.9M538 358.61L538.29 358.04L539 358.63L539.29 358.07L540 357.56L540.29 357.68L540.79 357.05L541 356.8L541.29 356.33L541.69 355.5L541.99 354.21L542 353.84L542.29 352.45L542.49 349.82L542.69 346.14L542.79 342.68L542.89 338.1L542.99 331.62L543 331.01L543.09 323.49L543.14 319.01L543.19 315.62L543.24 312.2L543.29 311.87L543.34 312.96L543.39 315.49L543.44 319.68L543.49 323.76L543.59 331.6L543.69 337.88L543.79 342.86L543.89 345.68L544 348.35L544.09 350.14L544.29 352.47L544.59 354.86L544.89 355.47L545 355.36L545.29 356.66L545.79 357.52L546 357.37L546.29 358.04L547 358.48L547.29 357.95L548 358.18L548.29 358.04L549 358.6M551 358.76L551.45 358.29L552 358.42L552.45 358.25L553 358.19L553.45 358.23L553.95 358.12L554 358.48L554.45 358.56L554.85 358.5L555 358.27L555.15 358.03L555.45 357.97L555.65 357.85L555.85 357.18L555.95 356.91L556 356.6L556.05 356.29L556.15 355.79L556.25 354.73L556.3 354.91L556.35 353.9L556.4 354.19L556.45 353.64L556.5 354.46L556.55 354.53L556.6 354.43L556.65 354.91L556.75 355.5L556.85 356.41L556.95 357.02L557 357.76L557.05 356.91L557.25 358.04L557.45 357.84L557.75 358.3L558 358.58L558.05 358.51L558.45 358.6L558.95 358.54L559 358.59L559.45 358.69L560 359L560.45 358.34L561 358.61L561.45 358.43L562 358.52M599 358.36L599.55 358.65L600 358.07L600.55 358.34L601 358.13L601.55 357.99L602 358.01L602.05 357.35L602.55 357.54L602.95 356.89L603 357.07L603.25 356.72L603.55 355.75L603.75 354.91L603.95 353.45L604 353.48L604.05 352.73L604.15 352.01L604.25 350.42L604.35 350.05L604.4 348.97L604.45 349.17L604.5 348.52L604.55 348.69L604.6 348.6L604.65 349.04L604.7 349.23L604.75 350.02L604.85 350.95L604.95 352.06L605 352.84L605.05 352.71L605.15 354.07L605.35 355.02L605.55 355.45L605.85 356.73L606 356.81L606.15 357.51L606.55 357.35L607 357.78L607.05 357.85L607.55 357.51L608 358.26L608.55 357.99L609 358.68L609.55 358.8L610 358.41M631 355.95L631.73 355.57L632 354.89L632.73 353.99L633 353.42L633.73 351.64L634 350.46L634.23 349.48L634.73 346.29L635 344.18L635.12 342.46L635.42 338.67L635.73 330.96L635.92 323.25L636 319.76L636.12 311.92L636.23 304.48L636.33 295.78L636.42 286.23L636.52 277.22L636.58 273.51L636.62 271.04L636.67 268.72L636.73 268.13L636.77 268.75L636.83 270.91L636.88 274.16L636.92 277.16L637 284.14L637.02 286.36L637.12 295.61L637.23 304.45L637.33 311.45L637.52 323.3L637.73 330.74L638 337.13L638.02 338.26L638.33 342.46L638.73 346.22L639 347.28L639.23 348.69L639.73 350.42L640 351.43L640.73 352.88L641 352.35L641.73 353.28L642 353.29L642.12 353.57M641.73 353.28L642 353.29L642.12 353.57L643 352.93L643.12 352.51L644 351.46L644.12 350.96L644.62 349.51L645 348.03L645.12 347.17L645.52 344.2L645.83 339.94L646 337.72L646.12 334.48L646.33 327.89L646.52 317.94L646.62 311.63L646.73 305.04L646.83 297.86L646.92 291.62L646.98 288.54L647 286.89L647.02 286.32L647.08 284.94L647.12 284.16L647.17 284.95L647.23 286.13L647.27 288.09L647.33 290.81L647.42 297.98L647.52 305.64L647.62 312L647.73 318.05L647.92 328.09L648 330L648.12 334.94L648.42 340.63L648.73 344.83L649 347.55L649.12 347.58L649.62 350.29L650 352.49L650.12 352.22L651 354.21L651.12 354.5L652 355.84L652.12 356.03L653 356.43" fill="none" stroke="#698748" stroke-width="1.8" stroke-linejoin="round"/>
<path d="M395 356.75L395.77 356.53L396 357.33L396.77 357.07L397 357.09L397.77 356.68L398 356.92L398.27 356.85L398.77 356.16L399 356.61L399.18 356.29L399.48 356.31L399.77 355.63L399.98 354.24L400 354.1L400.18 352.71L400.27 351.24L400.38 348.33L400.48 343.65L400.57 334.53L400.62 326.92L400.68 317.49L400.73 307.72L400.77 303.14L400.82 307.22L400.88 317.41L400.93 326.75L400.98 334.32L401 337.29L401.07 343.32L401.18 348.39L401.27 350.48L401.38 352.65L401.57 354.3L401.77 355.91L402 356.15L402.07 356.12L402.38 356.61L402.77 357.06L403 356.79L403.27 357.03L403.77 357.13L404 357.91L404.77 357.41L405 356.92L405.77 357.71L406 358.18M419 358.11L419.89 357.83L420 358.01L420.89 357.89L421 357.77L421.89 357.7L422 357.66L422.39 357.2L422.89 356.72L423 356.7L423.29 356.47L423.59 355.97L423.89 354.49L424 353.3L424.09 352.49L424.29 348.75L424.39 345.86L424.49 340.56L424.59 331.95L424.69 316.22L424.74 304.86L424.79 292.14L424.84 279.55L424.89 274.91L424.94 279.71L424.99 291.9L425 294.8L425.04 304.79L425.09 315.59L425.19 332.02L425.29 340.71L425.39 345.17L425.49 348.68L425.69 352.27L425.89 353.56L426 355.01L426.19 355.79L426.49 356.58L426.89 356.87L427 357.09L427.39 357.42L427.89 357.96L428 357.63L428.89 358.49L429 358.23L429.89 357.69L430 358.7" fill="none" stroke="#829b67" stroke-width="1.3" stroke-linejoin="round"/>
<rect x="94.6" y="220.6" width="14.2" height="287.6" fill="none" stroke="#111" stroke-width="1.8"/>
<rect x="417.8" y="257.1" width="14.2" height="253.2" fill="none" stroke="#111" stroke-width="1.8"/>
<rect x="116.7" y="10.3" width="172.5" height="288.8" fill="#fff" stroke="#b4b4b4" stroke-width="1"/>
<line x1="126.8" y1="299.1" x2="126.8" y2="295.6" stroke="#b4b4b4" stroke-width="1"/>
<line x1="126.8" y1="10.3" x2="126.8" y2="13.8" stroke="#b4b4b4" stroke-width="1"/>
<line x1="158.1" y1="299.1" x2="158.1" y2="295.6" stroke="#b4b4b4" stroke-width="1"/>
<line x1="158.1" y1="10.3" x2="158.1" y2="13.8" stroke="#b4b4b4" stroke-width="1"/>
<line x1="189.4" y1="299.1" x2="189.4" y2="295.6" stroke="#b4b4b4" stroke-width="1"/>
<line x1="189.4" y1="10.3" x2="189.4" y2="13.8" stroke="#b4b4b4" stroke-width="1"/>
<line x1="220.8" y1="299.1" x2="220.8" y2="295.6" stroke="#b4b4b4" stroke-width="1"/>
<line x1="220.8" y1="10.3" x2="220.8" y2="13.8" stroke="#b4b4b4" stroke-width="1"/>
<line x1="252.1" y1="299.1" x2="252.1" y2="295.6" stroke="#b4b4b4" stroke-width="1"/>
<line x1="252.1" y1="10.3" x2="252.1" y2="13.8" stroke="#b4b4b4" stroke-width="1"/>
<line x1="283.4" y1="299.1" x2="283.4" y2="295.6" stroke="#b4b4b4" stroke-width="1"/>
<line x1="283.4" y1="10.3" x2="283.4" y2="13.8" stroke="#b4b4b4" stroke-width="1"/>
<line x1="116.7" y1="33.6" x2="120.2" y2="33.6" stroke="#b4b4b4" stroke-width="1"/>
<line x1="289.2" y1="33.6" x2="285.7" y2="33.6" stroke="#b4b4b4" stroke-width="1"/>
<line x1="116.7" y1="69.6" x2="120.2" y2="69.6" stroke="#b4b4b4" stroke-width="1"/>
<line x1="289.2" y1="69.6" x2="285.7" y2="69.6" stroke="#b4b4b4" stroke-width="1"/>
<line x1="116.7" y1="105.5" x2="120.2" y2="105.5" stroke="#b4b4b4" stroke-width="1"/>
<line x1="289.2" y1="105.5" x2="285.7" y2="105.5" stroke="#b4b4b4" stroke-width="1"/>
<line x1="116.7" y1="141.5" x2="120.2" y2="141.5" stroke="#b4b4b4" stroke-width="1"/>
<line x1="289.2" y1="141.5" x2="285.7" y2="141.5" stroke="#b4b4b4" stroke-width="1"/>
<line x1="116.7" y1="177.4" x2="120.2" y2="177.4" stroke="#b4b4b4" stroke-width="1"/>
<line x1="289.2" y1="177.4" x2="285.7" y2="177.4" stroke="#b4b4b4" stroke-width="1"/>
<line x1="116.7" y1="213.3" x2="120.2" y2="213.3" stroke="#b4b4b4" stroke-width="1"/>
<line x1="289.2" y1="213.3" x2="285.7" y2="213.3" stroke="#b4b4b4" stroke-width="1"/>
<line x1="116.7" y1="249.3" x2="120.2" y2="249.3" stroke="#b4b4b4" stroke-width="1"/>
<line x1="289.2" y1="249.3" x2="285.7" y2="249.3" stroke="#b4b4b4" stroke-width="1"/>
<line x1="116.7" y1="285.3" x2="120.2" y2="285.3" stroke="#b4b4b4" stroke-width="1"/>
<line x1="289.2" y1="285.3" x2="285.7" y2="285.3" stroke="#b4b4b4" stroke-width="1"/>
<text x="126.8" y="311.3" font-size="9.5" text-anchor="middle" fill="#222" stroke="#222" stroke-width="0.2">5.3</text>
<text x="158.1" y="311.3" font-size="9.5" text-anchor="middle" fill="#222" stroke="#222" stroke-width="0.2">5.4</text>
<text x="189.4" y="311.3" font-size="9.5" text-anchor="middle" fill="#222" stroke="#222" stroke-width="0.2">5.5</text>
<text x="220.8" y="311.3" font-size="9.5" text-anchor="middle" fill="#222" stroke="#222" stroke-width="0.2">5.6</text>
<text x="252.1" y="311.3" font-size="9.5" text-anchor="middle" fill="#222" stroke="#222" stroke-width="0.2">5.7</text>
<text x="283.4" y="311.3" font-size="9.5" text-anchor="middle" fill="#222" stroke="#222" stroke-width="0.2">5.8</text>
<rect x="442.2" y="10.3" width="172.2" height="288.2" fill="#fff" stroke="#b4b4b4" stroke-width="1"/>
<line x1="459.9" y1="298.5" x2="459.9" y2="295.0" stroke="#b4b4b4" stroke-width="1"/>
<line x1="459.9" y1="10.3" x2="459.9" y2="13.8" stroke="#b4b4b4" stroke-width="1"/>
<line x1="482.8" y1="298.5" x2="482.8" y2="295.0" stroke="#b4b4b4" stroke-width="1"/>
<line x1="482.8" y1="10.3" x2="482.8" y2="13.8" stroke="#b4b4b4" stroke-width="1"/>
<line x1="505.7" y1="298.5" x2="505.7" y2="295.0" stroke="#b4b4b4" stroke-width="1"/>
<line x1="505.7" y1="10.3" x2="505.7" y2="13.8" stroke="#b4b4b4" stroke-width="1"/>
<line x1="528.6" y1="298.5" x2="528.6" y2="295.0" stroke="#b4b4b4" stroke-width="1"/>
<line x1="528.6" y1="10.3" x2="528.6" y2="13.8" stroke="#b4b4b4" stroke-width="1"/>
<line x1="551.6" y1="298.5" x2="551.6" y2="295.0" stroke="#b4b4b4" stroke-width="1"/>
<line x1="551.6" y1="10.3" x2="551.6" y2="13.8" stroke="#b4b4b4" stroke-width="1"/>
<line x1="574.5" y1="298.5" x2="574.5" y2="295.0" stroke="#b4b4b4" stroke-width="1"/>
<line x1="574.5" y1="10.3" x2="574.5" y2="13.8" stroke="#b4b4b4" stroke-width="1"/>
<line x1="597.4" y1="298.5" x2="597.4" y2="295.0" stroke="#b4b4b4" stroke-width="1"/>
<line x1="597.4" y1="10.3" x2="597.4" y2="13.8" stroke="#b4b4b4" stroke-width="1"/>
<line x1="442.2" y1="36.8" x2="445.7" y2="36.8" stroke="#b4b4b4" stroke-width="1"/>
<line x1="614.4" y1="36.8" x2="610.9" y2="36.8" stroke="#b4b4b4" stroke-width="1"/>
<line x1="442.2" y1="77.4" x2="445.7" y2="77.4" stroke="#b4b4b4" stroke-width="1"/>
<line x1="614.4" y1="77.4" x2="610.9" y2="77.4" stroke="#b4b4b4" stroke-width="1"/>
<line x1="442.2" y1="118.1" x2="445.7" y2="118.1" stroke="#b4b4b4" stroke-width="1"/>
<line x1="614.4" y1="118.1" x2="610.9" y2="118.1" stroke="#b4b4b4" stroke-width="1"/>
<line x1="442.2" y1="158.8" x2="445.7" y2="158.8" stroke="#b4b4b4" stroke-width="1"/>
<line x1="614.4" y1="158.8" x2="610.9" y2="158.8" stroke="#b4b4b4" stroke-width="1"/>
<line x1="442.2" y1="199.4" x2="445.7" y2="199.4" stroke="#b4b4b4" stroke-width="1"/>
<line x1="614.4" y1="199.4" x2="610.9" y2="199.4" stroke="#b4b4b4" stroke-width="1"/>
<line x1="442.2" y1="240.1" x2="445.7" y2="240.1" stroke="#b4b4b4" stroke-width="1"/>
<line x1="614.4" y1="240.1" x2="610.9" y2="240.1" stroke="#b4b4b4" stroke-width="1"/>
<line x1="442.2" y1="280.7" x2="445.7" y2="280.7" stroke="#b4b4b4" stroke-width="1"/>
<line x1="614.4" y1="280.7" x2="610.9" y2="280.7" stroke="#b4b4b4" stroke-width="1"/>
<text x="459.9" y="310.3" font-size="9.3" text-anchor="middle" fill="#222" stroke="#222" stroke-width="0.2">5.4</text>
<text x="482.8" y="310.3" font-size="9.3" text-anchor="middle" fill="#222" stroke="#222" stroke-width="0.2">5.45</text>
<text x="505.7" y="310.3" font-size="9.3" text-anchor="middle" fill="#222" stroke="#222" stroke-width="0.2">5.5</text>
<text x="528.6" y="310.3" font-size="9.3" text-anchor="middle" fill="#222" stroke="#222" stroke-width="0.2">5.55</text>
<text x="551.6" y="310.3" font-size="9.3" text-anchor="middle" fill="#222" stroke="#222" stroke-width="0.2">5.6</text>
<text x="574.5" y="310.3" font-size="9.3" text-anchor="middle" fill="#222" stroke="#222" stroke-width="0.2">5.65</text>
<text x="597.4" y="310.3" font-size="9.3" text-anchor="middle" fill="#222" stroke="#222" stroke-width="0.2">5.7</text>
<path d="M116.9 291.52L117.65 291.34L118.4 290.86L119.15 290.36L119.9 291.75L120.65 291.57L121.4 292.92L122.15 290.53L122.9 292.12L123.65 292.81L124.4 290.28L125.15 292.29L125.9 290.55L126.65 292.18L127.4 292.92L128.15 291.78L128.9 292L129.65 291.25L130.4 292L131.15 292.65L131.9 291.64L132.65 291.67L133.4 292.08L134.15 292.41L134.9 290.53L135.65 291.83L136.4 291.25L137.15 292.16L137.9 292.57L138.65 292.02L139.4 292.77L140.15 291.02L140.9 291.46L141.65 291.02L142.4 291.82L143.15 291.85L143.9 291.62L144.65 290.84L145.4 291.71L146.15 291.44L146.9 292.23L147.65 291.56L148.4 292.66L149.15 291.94L149.9 290.34L150.65 291.63L151.4 290.67L152.15 292.51L152.9 292.86L153.65 291.74L154.4 292.1L155.15 290.65L155.9 290.03L156.65 291.33L157.4 291.56L158.15 290.59L158.9 291.82L159.65 291.99L160.4 292.24L161.15 292.93L161.9 292.36L162.65 291.46L163.4 291.82L164.15 292.2L164.9 290.93L165.65 292.75L166.4 292.42L167.15 291.55L167.9 291.23L168.65 294.63L169.4 292.35L170.15 292.43L170.9 293.08L171.65 292.45L172.4 291.85L173.15 292.22L173.9 290.97L174.65 292.22L175.4 290.48L176.15 291.98L176.9 292.07L177.65 290.43L178.4 293.09L179.15 290.72L179.9 292.39L180.65 291.17L181.4 291.79L182.1 291.03L182.15 293.44L182.9 292.3L183.65 292.87L184.4 292.05L185.15 291.94L185.6 291.5L185.9 291.18L186.65 291.78L187.4 291.37L188.15 291.05L188.9 290.02L189.1 290.82L189.65 291.43L190.4 290.46L190.85 290.99L191.15 290.53L191.9 289.61L192.6 289.41L192.65 289.51L193.4 289.42L194 288.95L194.15 289.87L194.9 287.22L195.05 286.23L195.65 287.05L196.1 284.75L196.4 283.73L196.8 283.43L197.15 279.58L197.5 274.39L197.85 267.5L197.9 265.51L198.2 255.31L198.55 231.37L198.65 221.33L198.9 185.12L199.07 147.26L199.25 94.72L199.4 45.29L199.43 39.73L199.6 13.1L199.78 39.66L199.95 93.28L200.12 146.78L200.15 152.44L200.3 185.26L200.65 231.82L200.9 249.65L201 254.13L201.35 265.73L201.65 274.42L201.7 273.64L202.4 280.08L203.1 283.37L203.15 283.14L203.9 286.87L204.15 288.86L204.65 287.3L205.2 288.92L205.4 287.93L206.15 290.73L206.6 290.4L206.9 290.5L207.65 291.57L208.35 292L208.4 291.54L209.15 290.46L209.9 290.02L210.1 290.26L210.65 289.79L211.4 292.62L212.15 291.15L212.9 291.45L213.6 291.55L213.65 292.96L214.4 291.01L215.15 292.39L215.9 291.75L216.65 291.42L217.1 290.08L217.4 292.27L218.15 291.01L218.9 291.25L219.65 291.8L220.4 291.71L221.15 292.52L221.9 291.14L222.65 291.8L223.4 291.9L224.15 291.71L224.9 292.22L225.65 291.51L226.4 292.64L227.15 291.17L227.9 290.62L228.65 291.7L229.4 292.65L230.15 291.34L230.9 291.26L231.65 291.48L232.4 291.88L233.15 291.62L233.9 292L234.65 290.44L235.4 292.92L236.15 292.22L236.9 291.11L237.65 292.83L238.4 292.12L239.15 292.91L239.9 290.87L240.65 293.06L241.4 291.82L242.15 290.2L242.9 292.37L243.65 291.56L244.4 291.01L245.15 291.63L245.9 290.29L246.65 292.24L247.4 291.63L248.15 291.59L248.9 292.89L249.65 291.83L250.4 291.29L251.15 291.07L251.9 291.75L252.65 292.62L253.4 291.35L254.15 291L254.9 292.52L255.65 291.85L256.4 291.79L257.15 293.42L257.9 290.87L258.65 291.96L259.4 290.44L260.15 291.58L260.9 292.26L261.65 292.68L262.4 290.83L263.15 292.46L263.9 292.42L264.65 291.72L265.4 293.71L266.15 291.81L266.9 291.13L267.65 292.14L268.4 290.38L269.15 293.02L269.9 292.58L270.65 291.51L271.4 292.29L272.15 292.23L272.9 293.31L273.65 291.34L274.4 290.82L275.15 290.25L275.9 291.59L276.65 290.61L277.4 291.68L278.15 292.13L278.9 291.48L279.65 291.09L280.4 292.74L281.15 291.66L281.9 292L282.65 292.55L283.4 290.81L284.15 291.11L284.9 293.75L285.65 291.7L286.4 291.01L287.15 291.62L287.9 291.38L288.65 290.87L289 291.5" fill="none" stroke="#f6e0d2" stroke-width="0.8" stroke-linejoin="round"/>
<path d="M116.9 280.59L117.65 280.59L118.4 280.75L119.15 280.05L119.9 280.12L120.65 280.83L121.4 280.44L122.15 280.95L122.9 280.67L123.65 280.14L124.4 280.73L125.15 280.25L125.9 280.64L126.65 280.94L127.4 281.21L128.15 280.53L128.9 280.76L129.65 280.64L130.4 280.79L131.15 279.75L131.9 280.41L132.65 280.62L133.4 280.67L134.15 280.29L134.9 280.77L135.65 280.85L136.4 280.53L137.15 280.43L137.9 280.39L138.65 280.54L139.4 280.85L140.15 280.94L140.9 280.33L141.65 280.18L142.4 280.22L143.15 280.76L143.9 280.52L144.65 280.53L145.4 280.58L146.15 280.54L146.9 280.38L147.65 280.09L148.4 280.21L149.15 280.43L149.9 280.5L150.65 280.26L151.4 280.23L152.15 280.77L152.9 280.2L153.65 280.4L154.4 280.22L155.15 280.04L155.9 279.82L156.65 280.11L157.4 280L158.15 280.5L158.9 279.87L159.65 280.08L160.4 280.38L161.15 280.13L161.9 280.29L162.65 280.37L163.4 279.58L164.15 279.94L164.9 279.74L165.65 280.42L166.4 279.94L167.15 280.09L167.9 280.43L168.65 279.76L169.4 279.84L170.15 279.9L170.9 279.65L171.65 280.06L172.4 279.87L173.15 279.86L173.9 279.5L174.65 279.31L175.4 279.22L176.15 279.13L176.9 278.64L177.65 279.15L178.4 279.16L179.15 278.78L179.9 278.48L180.65 278.48L181.4 278.35L182.1 278.19L182.15 278.62L182.9 277.57L183.65 277.67L184.4 277.46L185.15 276.91L185.6 276.57L185.9 276.16L186.65 275.8L187.4 275.61L188.15 275.15L188.9 273.67L189.1 273.76L189.65 273.01L190.4 271.89L190.85 270.76L191.15 270.14L191.9 268.25L192.6 265.19L192.65 265.36L193.4 261.31L194 257.56L194.15 256.82L194.9 249.92L195.05 248.9L195.65 241.07L196.1 232.84L196.4 226.52L196.8 216.25L197.15 205.33L197.5 192.48L197.85 177.49L197.9 174.94L198.2 160.4L198.55 143.15L198.65 138.77L198.9 127.39L199.07 121.54L199.25 116.1L199.4 113.81L199.43 112.71L199.6 111.8L199.78 113.22L199.95 116.32L200.12 121.05L200.15 122.55L200.3 127.54L200.65 143.4L200.9 155.5L201 161.14L201.35 177.65L201.65 190.54L201.7 191.94L202.4 216.43L203.1 232.79L203.15 234.02L203.9 245.99L204.15 248.52L204.65 253.87L205.2 258.42L205.4 259.54L206.15 263.51L206.6 265.23L206.9 266.46L207.65 268.6L208.35 270.98L208.4 270.82L209.15 271.84L209.9 273.35L210.1 273.23L210.65 273.29L211.4 275.41L212.15 276.03L212.9 275.77L213.6 276.43L213.65 276.73L214.4 276.95L215.15 277.14L215.9 277.54L216.65 277.87L217.1 277.92L217.4 278.23L218.15 278.3L218.9 278.32L219.65 278.71L220.4 278.34L221.15 279.4L221.9 278.56L222.65 279.16L223.4 279.38L224.15 279.49L224.9 279.52L225.65 279.89L226.4 279.24L227.15 279.62L227.9 279.74L228.65 279.6L229.4 279.62L230.15 280.22L230.9 279.67L231.65 279.77L232.4 279.87L233.15 279.92L233.9 280.07L234.65 279.98L235.4 280.19L236.15 280.14L236.9 280.27L237.65 280.56L238.4 279.91L239.15 280.68L239.9 280.07L240.65 280.42L241.4 280.29L242.15 280.17L242.9 279.69L243.65 280.77L244.4 280.07L245.15 280.08L245.9 280.65L246.65 280.36L247.4 280.92L248.15 280.87L248.9 280.58L249.65 280.46L250.4 280.62L251.15 280.01L251.9 280.46L252.65 280.46L253.4 280.28L254.15 280.51L254.9 280L255.65 280.72L256.4 280.84L257.15 280.07L257.9 280.51L258.65 280.93L259.4 280.6L260.15 280.18L260.9 280.19L261.65 280.75L262.4 281.05L263.15 280.18L263.9 280.52L264.65 280.28L265.4 280.43L266.15 280.61L266.9 280.51L267.65 280.33L268.4 281.16L269.15 280.49L269.9 280.49L270.65 280.88L271.4 280.55L272.15 280.49L272.9 280.84L273.65 280.25L274.4 280.78L275.15 280.87L275.9 280.76L276.65 280.52L277.4 280.57L278.15 280.06L278.9 280.54L279.65 280.66L280.4 280.84L281.15 280.63L281.9 280.47L282.65 280.34L283.4 280.58L284.15 280.63L284.9 280.95L285.65 280.6L286.4 280.45L287.15 280.57L287.9 280.46L288.65 280.53L289 279.95" fill="none" stroke="#3ee23c" stroke-width="1.2" stroke-linejoin="round"/>
<path d="M116.9 264.32L117.65 264.42L118.4 264.83L119.15 264.69L119.9 264.74L120.65 264.99L121.4 264.45L122.15 264.98L122.9 264.79L123.65 264.52L124.4 265.06L125.15 264.34L125.9 264.41L126.65 264.64L127.4 264.79L128.15 264.64L128.9 264.15L129.65 264.6L130.4 264.65L131.15 265.3L131.9 265.01L132.65 264.7L133.4 264.39L134.15 264.74L134.9 264.37L135.65 264.7L136.4 264.74L137.15 264.55L137.9 264.7L138.65 264.56L139.4 264.49L140.15 265.01L140.9 264.77L141.65 264.54L142.4 264.43L143.15 264.65L143.9 264.74L144.65 264.81L145.4 264.96L146.15 264.7L146.9 264.31L147.65 265.08L148.4 264.85L149.15 264.77L149.9 264.88L150.65 264.18L151.4 264.45L152.15 264.4L152.9 264.81L153.65 264.22L154.4 264.42L155.15 264.87L155.9 264.64L156.65 264.37L157.4 264.92L158.15 264.12L158.9 264.54L159.65 264.36L160.4 264.53L161.15 264.32L161.9 264.16L162.65 264.4L163.4 264.01L164.15 264.44L164.9 264.21L165.65 264.5L166.4 264.13L167.15 264.05L167.9 264.29L168.65 264.46L169.4 263.62L170.15 264.12L170.9 264.21L171.65 263.66L172.4 263.75L173.15 264.08L173.9 263.67L174.65 263.66L175.4 264.18L176.15 263.45L176.9 263.4L177.65 262.96L178.4 263.17L179.15 263.03L179.9 263.65L180.65 263.4L181.4 262.64L182.1 263.29L182.15 262.99L182.9 262.57L183.65 262.61L184.4 262.26L185.15 261.7L185.6 261.27L185.9 261.35L186.65 261.19L187.4 260.66L188.15 260.04L188.9 259.82L189.1 259.12L189.65 259.01L190.4 257.7L190.85 257.14L191.15 256.31L191.9 255.02L192.6 252.93L192.65 252.53L193.4 250.21L194 247.28L194.15 246.63L194.9 241.14L195.05 239.49L195.65 233.06L196.1 226.08L196.4 221.04L196.8 212.82L197.15 203.27L197.5 191.36L197.85 177.2L197.9 175.08L198.2 161.03L198.55 143.02L198.65 138.28L198.9 127.19L199.07 120.27L199.25 114.66L199.4 111.46L199.43 111.08L199.6 109.87L199.78 110.95L199.95 114.13L200.12 120.02L200.15 120.77L200.3 126.84L200.65 143.87L200.9 156.12L201 160.74L201.35 177.27L201.65 188.94L201.7 191.43L202.4 212.57L203.1 226.65L203.15 227.65L203.9 237.63L204.15 239.62L204.65 243.57L205.2 247.81L205.4 248.35L206.15 251.97L206.6 252.95L206.9 254.09L207.65 255.64L208.35 257.27L208.4 257.13L209.15 258.13L209.9 259.56L210.1 259.47L210.65 259.39L211.4 260.42L212.15 260.74L212.9 261.08L213.6 261.56L213.65 261.61L214.4 262.03L215.15 262.09L215.9 262.04L216.65 262.57L217.1 263.02L217.4 262.53L218.15 263.18L218.9 263.27L219.65 263.16L220.4 263.46L221.15 263.29L221.9 263.47L222.65 263.39L223.4 263.83L224.15 264.12L224.9 263.67L225.65 264.19L226.4 263.41L227.15 263.77L227.9 263.78L228.65 264.5L229.4 263.96L230.15 264.33L230.9 263.66L231.65 264.23L232.4 264.37L233.15 264.24L233.9 263.6L234.65 264.34L235.4 264.52L236.15 264.67L236.9 264.46L237.65 263.95L238.4 264.34L239.15 264.63L239.9 264.22L240.65 264.57L241.4 264.33L242.15 264.48L242.9 264.66L243.65 264.31L244.4 265.21L245.15 264.54L245.9 264.6L246.65 264.34L247.4 264.55L248.15 264.47L248.9 264.18L249.65 264.17L250.4 264.63L251.15 264.55L251.9 263.92L252.65 264.05L253.4 264.51L254.15 264.58L254.9 264.75L255.65 264.29L256.4 264.76L257.15 264.54L257.9 264.49L258.65 264.59L259.4 264.87L260.15 264.77L260.9 264.86L261.65 264.47L262.4 264.57L263.15 264.36L263.9 264.51L264.65 264.55L265.4 264.54L266.15 264.84L266.9 264.77L267.65 264.86L268.4 264.7L269.15 264.94L269.9 264.7L270.65 264.92L271.4 264.81L272.15 264.87L272.9 264.67L273.65 264.38L274.4 264.33L275.15 265.18L275.9 264.79L276.65 264.81L277.4 264.66L278.15 264.59L278.9 265.42L279.65 264.42L280.4 264.69L281.15 264.69L281.9 264.43L282.65 264.39L283.4 264.54L284.15 264.63L284.9 264.59L285.65 264.92L286.4 264.42L287.15 264.82L287.9 265.09L288.65 264.95L289 264.44" fill="none" stroke="#8080f2" stroke-width="1.2" stroke-linejoin="round"/>
<path d="M116.9 246.08L117.65 247.03L118.4 246.94L119.15 246.67L119.9 247.14L120.65 246.71L121.4 246.84L122.15 246.55L122.9 246.89L123.65 246.7L124.4 246.68L125.15 247.07L125.9 246.86L126.65 246.43L127.4 246.97L128.15 247.01L128.9 246.59L129.65 246.69L130.4 246.8L131.15 246.73L131.9 246.82L132.65 246.94L133.4 246.66L134.15 247.3L134.9 246.6L135.65 246.64L136.4 247.26L137.15 247.36L137.9 246.77L138.65 246.71L139.4 246.49L140.15 247.04L140.9 246.79L141.65 246.53L142.4 246.84L143.15 247.08L143.9 246.9L144.65 247.28L145.4 247.01L146.15 246.83L146.9 246.7L147.65 246.84L148.4 247L149.15 246.91L149.9 246.95L150.65 246.74L151.4 246.86L152.15 246.97L152.9 246.62L153.65 246.33L154.4 247.07L155.15 246.78L155.9 246.51L156.65 246.67L157.4 246.54L158.15 246.17L158.9 246.54L159.65 246.21L160.4 246.61L161.15 246.52L161.9 246.81L162.65 246.48L163.4 246.59L164.15 246.41L164.9 246.37L165.65 246.09L166.4 246.67L167.15 246.44L167.9 246.23L168.65 246.4L169.4 246.22L170.15 246.11L170.9 246.32L171.65 246.53L172.4 246.12L173.15 245.79L173.9 245.95L174.65 246.51L175.4 245.8L176.15 246.24L176.9 245.82L177.65 246L178.4 245.71L179.15 245.26L179.9 245.45L180.65 245.97L181.4 245.29L182.1 245.34L182.15 245.11L182.9 245L183.65 244.94L184.4 244.77L185.15 244.98L185.6 244.26L185.9 244.1L186.65 243.66L187.4 243.12L188.15 242.59L188.9 242.61L189.1 241.82L189.65 242.13L190.4 241.16L190.85 240.28L191.15 239.61L191.9 238.57L192.6 236.95L192.65 237.09L193.4 234.28L194 231.89L194.15 231.23L194.9 226.61L195.05 225.39L195.65 219.56L196.1 214.02L196.4 209.68L196.8 202.28L197.15 194.4L197.5 184.74L197.85 172.62L197.9 170.42L198.2 158.85L198.55 143.47L198.65 139.15L198.9 129.97L199.07 123.24L199.25 118.82L199.4 116.24L199.43 116.37L199.6 114.85L199.78 116.2L199.95 118.82L200.12 123.2L200.15 124.33L200.3 129.44L200.65 143.21L200.9 153.96L201 158.18L201.35 172.44L201.65 182.69L201.7 184.23L202.4 202.46L203.1 214.31L203.15 215.24L203.9 223.29L204.15 225.21L204.65 228.84L205.2 232.03L205.4 232.91L206.15 235.92L206.6 236.52L206.9 237.64L207.65 239.33L208.35 240.11L208.4 240.49L209.15 241.26L209.9 241.83L210.1 242.56L210.65 242.37L211.4 243.47L212.15 243.53L212.9 243.75L213.6 244.04L213.65 244.1L214.4 244.32L215.15 244.82L215.9 244.48L216.65 245.42L217.1 245.41L217.4 245.6L218.15 245.14L218.9 244.92L219.65 245.45L220.4 245.65L221.15 245.85L221.9 245.72L222.65 245.9L223.4 246.01L224.15 245.65L224.9 246.53L225.65 245.85L226.4 246.24L227.15 246.48L227.9 246.05L228.65 246.28L229.4 246.72L230.15 246.27L230.9 246.63L231.65 246.46L232.4 246.47L233.15 246.62L233.9 246.4L234.65 246.42L235.4 246.73L236.15 246.57L236.9 246.65L237.65 246.24L238.4 246.56L239.15 246.87L239.9 246.8L240.65 246.68L241.4 246.47L242.15 246.46L242.9 246.73L243.65 246.99L244.4 246.65L245.15 246.98L245.9 246.58L246.65 246.97L247.4 246.42L248.15 246.73L248.9 246.42L249.65 246.86L250.4 246.84L251.15 246.47L251.9 246.53L252.65 246.61L253.4 246.35L254.15 246.5L254.9 246.52L255.65 246.93L256.4 247.09L257.15 246.63L257.9 246.68L258.65 246.81L259.4 246.63L260.15 246.69L260.9 246.97L261.65 246.82L262.4 246.75L263.15 246.63L263.9 247.14L264.65 246.63L265.4 246.81L266.15 246.53L266.9 246.64L267.65 246.81L268.4 246.69L269.15 246.93L269.9 246.81L270.65 246.45L271.4 246.23L272.15 247.05L272.9 246.66L273.65 247.18L274.4 246.81L275.15 246.62L275.9 246.95L276.65 246.75L277.4 246.82L278.15 246.59L278.9 246.98L279.65 247.09L280.4 246.69L281.15 247.27L281.9 246.68L282.65 246.89L283.4 246.42L284.15 246.35L284.9 247.36L285.65 247.19L286.4 247.12L287.15 246.41L287.9 246.89L288.65 246.94L289 246.86" fill="none" stroke="#2a1852" stroke-width="1.2" stroke-linejoin="round"/>
<path d="M116.9 228.89L117.65 228.59L118.4 228.77L119.15 228.53L119.9 228.72L120.65 228.9L121.4 228.61L122.15 228.74L122.9 228.7L123.65 228.81L124.4 229.03L125.15 228.86L125.9 228.89L126.65 228.43L127.4 228.7L128.15 228.99L128.9 228.57L129.65 228.68L130.4 228.54L131.15 229.11L131.9 228.66L132.65 228.59L133.4 228.92L134.15 229.04L134.9 228.89L135.65 229L136.4 228.81L137.15 228.72L137.9 228.64L138.65 228.62L139.4 228.59L140.15 228.83L140.9 228.7L141.65 228.75L142.4 228.87L143.15 228.71L143.9 228.37L144.65 228.51L145.4 228.42L146.15 228.22L146.9 228.72L147.65 228.39L148.4 228.36L149.15 228.4L149.9 228.88L150.65 228.58L151.4 228.9L152.15 228.62L152.9 228.53L153.65 228.77L154.4 228.76L155.15 228.63L155.9 228.34L156.65 228.47L157.4 228.28L158.15 228.5L158.9 228.57L159.65 228.91L160.4 228.87L161.15 228.68L161.9 228.73L162.65 228.53L163.4 229.15L164.15 228.82L164.9 229.08L165.65 228.49L166.4 228.48L167.15 228.61L167.9 228.37L168.65 228.37L169.4 228.02L170.15 228.46L170.9 228.23L171.65 228.36L172.4 228.06L173.15 227.63L173.9 228.15L174.65 228.26L175.4 227.59L176.15 227.6L176.9 227.7L177.65 227.64L178.4 227.19L179.15 227.96L179.9 227.66L180.65 227.14L181.4 226.71L182.1 227.11L182.15 227.5L182.9 227.04L183.65 226.93L184.4 226.18L185.15 226.22L185.6 225.61L185.9 226.36L186.65 225.65L187.4 224.57L188.15 224.13L188.9 224.12L189.1 223.85L189.65 223.19L190.4 222.51L190.85 222.21L191.15 221.32L191.9 219.32L192.6 217.99L192.65 217.56L193.4 215.18L194 212.82L194.15 211.92L194.9 206.9L195.05 205.98L195.65 200.07L196.1 194.79L196.4 190.03L196.8 182.85L197.15 174.86L197.5 165.83L197.85 154.82L197.9 153.2L198.2 142.7L198.55 130.46L198.65 126.56L198.9 119.78L199.07 114.34L199.25 111.01L199.4 108.87L199.43 108.64L199.6 108.1L199.78 108.63L199.95 110.87L200.12 114.17L200.15 114.88L200.3 118.82L200.65 130.88L200.9 138.95L201 142.58L201.35 154.9L201.65 164.54L201.7 165.21L202.4 182.36L203.1 194.69L203.15 195.43L203.9 203.46L204.15 205.54L204.65 209.37L205.2 212.92L205.4 213.68L206.15 216.83L206.6 218L206.9 218.82L207.65 220.65L208.35 221.68L208.4 221.84L209.15 222.57L209.9 223.47L210.1 223.93L210.65 224.23L211.4 224.65L212.15 225.46L212.9 225.81L213.6 225.98L213.65 225.81L214.4 226.51L215.15 227.15L215.9 226.53L216.65 226.53L217.1 226.82L217.4 226.84L218.15 226.9L218.9 227.05L219.65 227.67L220.4 227.77L221.15 228.02L221.9 227.92L222.65 227.68L223.4 228.14L224.15 227.78L224.9 227.9L225.65 227.74L226.4 228.39L227.15 228.38L227.9 228.05L228.65 228.13L229.4 228.25L230.15 228.32L230.9 228.51L231.65 228.34L232.4 228.45L233.15 228L233.9 228.32L234.65 227.97L235.4 228.88L236.15 228.81L236.9 228.65L237.65 228.77L238.4 229.01L239.15 228.75L239.9 228.14L240.65 228.49L241.4 227.97L242.15 228.37L242.9 228.27L243.65 228.59L244.4 228.7L245.15 228.38L245.9 228.55L246.65 228.7L247.4 228.6L248.15 228.6L248.9 228.05L249.65 228.55L250.4 228.86L251.15 228.74L251.9 228.31L252.65 228.62L253.4 228.76L254.15 228.45L254.9 228.87L255.65 228.5L256.4 228.63L257.15 228.69L257.9 229.28L258.65 228.64L259.4 228.58L260.15 228.91L260.9 228.62L261.65 228.79L262.4 228.18L263.15 228.82L263.9 228.74L264.65 228.43L265.4 229.09L266.15 228.7L266.9 228.71L267.65 228.44L268.4 228.36L269.15 228.63L269.9 228.39L270.65 228.9L271.4 228.99L272.15 228.62L272.9 228.38L273.65 228.69L274.4 228.52L275.15 228.83L275.9 228.83L276.65 228.69L277.4 228.81L278.15 229.06L278.9 229.22L279.65 228.67L280.4 228.98L281.15 228.74L281.9 228.54L282.65 229.13L283.4 228.9L284.15 228.84L284.9 228.9L285.65 228.77L286.4 228.55L287.15 229.26L287.9 229.04L288.65 228.88L289 229.06" fill="none" stroke="#c41e2c" stroke-width="1.2" stroke-linejoin="round"/>
<path d="M116.9 209.64L117.65 209.27L118.4 209.47L119.15 209.24L119.9 209.48L120.65 209.25L121.4 209.92L122.15 209.22L122.9 209.44L123.65 209.42L124.4 209.22L125.15 209.54L125.9 209.28L126.65 209.2L127.4 209.3L128.15 209.11L128.9 209.59L129.65 209.45L130.4 209.54L131.15 208.95L131.9 209.35L132.65 209.09L133.4 209.3L134.15 209.6L134.9 209.34L135.65 209.23L136.4 209.55L137.15 209.52L137.9 209.73L138.65 208.8L139.4 209.34L140.15 209.15L140.9 209.03L141.65 209.28L142.4 208.96L143.15 208.68L143.9 209.01L144.65 209.17L145.4 209.7L146.15 209.04L146.9 208.93L147.65 208.72L148.4 209.12L149.15 209.14L149.9 209.24L150.65 208.83L151.4 209L152.15 208.61L152.9 209.22L153.65 208.77L154.4 208.47L155.15 209.44L155.9 209.27L156.65 209.22L157.4 209.21L158.15 208.86L158.9 209.37L159.65 208.83L160.4 209.56L161.15 209.13L161.9 208.6L162.65 209.26L163.4 209.52L164.15 208.95L164.9 209.27L165.65 208.93L166.4 208.81L167.15 208.3L167.9 209.23L168.65 208.79L169.4 208.97L170.15 208.57L170.9 208.59L171.65 209.07L172.4 208.66L173.15 208.62L173.9 208.37L174.65 208.69L175.4 208.79L176.15 208.43L176.9 208.44L177.65 208.12L178.4 208.7L179.15 208.12L179.9 208.15L180.65 208.52L181.4 207.93L182.1 207.49L182.15 207.63L182.9 207.64L183.65 208.02L184.4 207.45L185.15 207.13L185.6 207.25L185.9 207.27L186.65 206.47L187.4 206.68L188.15 206.14L188.9 205.55L189.1 204.7L189.65 204.9L190.4 204.47L190.85 203.53L191.15 203.79L191.9 202.06L192.6 200.38L192.65 200.67L193.4 198.57L194 196.58L194.15 195.69L194.9 192.22L195.05 190.8L195.65 186.37L196.1 181.5L196.4 177.93L196.8 172.27L197.15 165.75L197.5 158.32L197.85 149.69L197.9 148.47L198.2 140.26L198.55 130.26L198.65 127.56L198.9 121L199.07 117.1L199.25 114L199.4 112.7L199.43 112.41L199.6 111.54L199.78 113.02L199.95 113.93L200.12 117.33L200.15 117.86L200.3 120.89L200.65 130.72L200.9 137.21L201 139.87L201.35 150.19L201.65 157.06L201.7 158.07L202.4 171.96L203.1 181.65L203.15 182.38L203.9 189.27L204.15 190.55L204.65 193.95L205.2 196.94L205.4 196.96L206.15 199.49L206.6 200.81L206.9 201.59L207.65 202.46L208.35 203.36L208.4 203.41L209.15 204.76L209.9 205.37L210.1 204.75L210.65 205.14L211.4 205.81L212.15 206.11L212.9 206.9L213.6 207.1L213.65 207.56L214.4 207.49L215.15 207.51L215.9 207.95L216.65 207.57L217.1 207.52L217.4 207.94L218.15 208.28L218.9 207.73L219.65 208.46L220.4 208.53L221.15 208.26L221.9 208.5L222.65 208.45L223.4 208.59L224.15 208.82L224.9 208.46L225.65 208.97L226.4 208.96L227.15 209.01L227.9 208.31L228.65 208.37L229.4 209.04L230.15 208.74L230.9 208.74L231.65 208.74L232.4 208.62L233.15 208.9L233.9 208.81L234.65 208.85L235.4 209.15L236.15 208.74L236.9 209.34L237.65 208.51L238.4 209.72L239.15 208.75L239.9 209.25L240.65 209.35L241.4 209.12L242.15 209.32L242.9 209.12L243.65 208.7L244.4 209.25L245.15 209.46L245.9 209.03L246.65 208.75L247.4 209.04L248.15 209.28L248.9 209.28L249.65 209.49L250.4 209.35L251.15 209.35L251.9 208.71L252.65 209.79L253.4 209.24L254.15 209.46L254.9 209.15L255.65 209.21L256.4 209.26L257.15 209.65L257.9 209.64L258.65 209.42L259.4 209.77L260.15 209.17L260.9 209.4L261.65 209.16L262.4 209.61L263.15 209.29L263.9 209.53L264.65 209.72L265.4 208.76L266.15 209.84L266.9 209.37L267.65 209.21L268.4 208.81L269.15 209.22L269.9 208.71L270.65 209.33L271.4 209.26L272.15 209.77L272.9 209.23L273.65 209.58L274.4 209.61L275.15 209.84L275.9 209.25L276.65 209.51L277.4 208.93L278.15 209.04L278.9 209.25L279.65 209.32L280.4 209.01L281.15 209.22L281.9 209.51L282.65 209.21L283.4 209.29L284.15 209.1L284.9 209.69L285.65 209.79L286.4 209.39L287.15 209.31L287.9 209.76L288.65 209.46L289 209.17" fill="none" stroke="#363636" stroke-width="1.2" stroke-linejoin="round"/>
<path d="M116.9 192.17L117.65 192.37L118.4 193.08L119.15 192.36L119.9 193.25L120.65 192.51L121.4 192.45L122.15 192.85L122.9 192.44L123.65 192.6L124.4 192.24L125.15 192.18L125.9 192.31L126.65 192.55L127.4 192.32L128.15 191.99L128.9 192.61L129.65 192.45L130.4 192.41L131.15 192.33L131.9 191.9L132.65 192.89L133.4 192.35L134.15 192.61L134.9 192.83L135.65 192.76L136.4 192.51L137.15 192.46L137.9 192.54L138.65 192.69L139.4 192.6L140.15 192.33L140.9 192.56L141.65 192.53L142.4 192.61L143.15 192.48L143.9 192.78L144.65 192.47L145.4 192.64L146.15 192.42L146.9 192.26L147.65 192.16L148.4 192.35L149.15 192.52L149.9 192.7L150.65 192.35L151.4 192.23L152.15 192.23L152.9 192.68L153.65 192.37L154.4 192.21L155.15 192.51L155.9 191.98L156.65 192.34L157.4 192.28L158.15 192.25L158.9 191.98L159.65 192.51L160.4 192.68L161.15 191.89L161.9 192.25L162.65 192.37L163.4 192.77L164.15 192.06L164.9 191.91L165.65 192.13L166.4 192.62L167.15 192.1L167.9 192.13L168.65 192.49L169.4 191.46L170.15 191.42L170.9 192.18L171.65 192.11L172.4 191.51L173.15 191.96L173.9 191.79L174.65 191.79L175.4 191.47L176.15 191.5L176.9 191.33L177.65 191.5L178.4 191.35L179.15 191.75L179.9 191.38L180.65 190.71L181.4 191.09L182.1 191.23L182.15 190.92L182.9 190.97L183.65 190.5L184.4 190.49L185.15 189.83L185.6 190.11L185.9 189.44L186.65 189.81L187.4 188.71L188.15 188.11L188.9 188.24L189.1 187.9L189.65 187.48L190.4 186.75L190.85 186.05L191.15 185.4L191.9 184.4L192.6 182.92L192.65 182.83L193.4 181.05L194 178.12L194.15 177.67L194.9 173.86L195.05 172.65L195.65 167.93L196.1 163.79L196.4 160.82L196.8 155.21L197.15 150.06L197.5 143.63L197.85 137.24L197.9 135.96L198.2 129.9L198.55 123.33L198.65 121.51L198.9 117.83L199.07 114.74L199.25 113.57L199.4 112.89L199.43 112.71L199.6 111.9L199.78 112.19L199.95 113.31L200.12 115.23L200.15 115.5L200.3 117.54L200.65 123.46L200.9 127.85L201 129.83L201.35 136.82L201.65 142.55L201.7 143.8L202.4 155.36L203.1 164.59L203.15 164.6L203.9 171.03L204.15 173.12L204.65 175.52L205.2 178.39L205.4 179.36L206.15 181.83L206.6 182.93L206.9 183.44L207.65 184.67L208.35 186.02L208.4 185.98L209.15 187.21L209.9 187.74L210.1 188.09L210.65 187.96L211.4 189.12L212.15 189.06L212.9 189.23L213.6 189.56L213.65 189.77L214.4 190.48L215.15 190.59L215.9 190.3L216.65 190.79L217.1 190.83L217.4 190.51L218.15 190.79L218.9 190.64L219.65 191.04L220.4 190.68L221.15 191.24L221.9 191.28L222.65 191.38L223.4 191.44L224.15 192L224.9 191.67L225.65 191.87L226.4 192.04L227.15 192.12L227.9 192.1L228.65 191.82L229.4 191.71L230.15 191.82L230.9 191.93L231.65 192.07L232.4 192.07L233.15 192.4L233.9 192.11L234.65 192.62L235.4 192.44L236.15 192.07L236.9 192.43L237.65 191.49L238.4 192.59L239.15 192.36L239.9 192.37L240.65 191.85L241.4 192.93L242.15 192.24L242.9 192.27L243.65 192.61L244.4 192.28L245.15 192.12L245.9 192.52L246.65 192.1L247.4 192.55L248.15 192.4L248.9 192.66L249.65 192.07L250.4 192.71L251.15 192.47L251.9 192.91L252.65 192.24L253.4 192.89L254.15 192.6L254.9 192.62L255.65 192.24L256.4 192.57L257.15 192.61L257.9 192.23L258.65 192.15L259.4 192.25L260.15 192.83L260.9 192.5L261.65 192.7L262.4 192.54L263.15 192.5L263.9 192.53L264.65 192.37L265.4 192.79L266.15 192.52L266.9 192.54L267.65 192.13L268.4 192.56L269.15 192.31L269.9 192.36L270.65 192.76L271.4 192.22L272.15 192.45L272.9 192.66L273.65 192.8L274.4 192.37L275.15 192.59L275.9 192.58L276.65 192.22L277.4 191.96L278.15 192.02L278.9 192.67L279.65 192.54L280.4 192.17L281.15 192.35L281.9 192.42L282.65 192.43L283.4 192.51L284.15 193.09L284.9 192.33L285.65 192.56L286.4 192.33L287.15 192.37L287.9 192.31L288.65 192.47L289 192.39" fill="none" stroke="#76d29a" stroke-width="1.2" stroke-linejoin="round"/>
<path d="M116.9 173.89L117.65 173.85L118.4 173.56L119.15 174.28L119.9 173.48L120.65 173.87L121.4 174.33L122.15 173.59L122.9 174.1L123.65 174.12L124.4 173.84L125.15 173.28L125.9 174.11L126.65 173.76L127.4 173.59L128.15 174.05L128.9 173.54L129.65 173.99L130.4 173.57L131.15 173.84L131.9 173.42L132.65 173.59L133.4 173.45L134.15 173.49L134.9 173.72L135.65 173.62L136.4 173.7L137.15 173.97L137.9 173.61L138.65 173.15L139.4 173.54L140.15 173.63L140.9 173.86L141.65 173.85L142.4 173.82L143.15 173.51L143.9 173.72L144.65 173.17L145.4 173.86L146.15 173.63L146.9 173.63L147.65 173.39L148.4 173.49L149.15 173.29L149.9 173.59L150.65 173.08L151.4 173.65L152.15 173.53L152.9 173.88L153.65 173.34L154.4 173.3L155.15 173.35L155.9 173.29L156.65 173.23L157.4 172.94L158.15 172.92L158.9 173.02L159.65 173.06L160.4 172.8L161.15 172.77L161.9 172.96L162.65 173.18L163.4 172.9L164.15 173.08L164.9 173.11L165.65 173L166.4 172.65L167.15 172.59L167.9 172.16L168.65 172.39L169.4 172.62L170.15 172.14L170.9 172.69L171.65 172.62L172.4 172.06L173.15 172.29L173.9 171.57L174.65 171.55L175.4 171.58L176.15 171.53L176.9 171.32L177.65 170.97L178.4 171.5L179.15 170.85L179.9 170.61L180.65 170.44L181.4 170L182.1 169.58L182.15 169.48L182.9 168.81L183.65 169.18L184.4 168.06L185.15 167.3L185.6 167.13L185.9 166.65L186.65 166.8L187.4 165.48L188.15 164.68L188.9 163.42L189.1 162.82L189.65 161.67L190.4 159.49L190.85 158.35L191.15 157.25L191.9 154.61L192.6 151.16L192.65 151.4L193.4 146.81L194 142.15L194.15 140.49L194.9 133.76L195.05 132.11L195.65 124.15L196.1 117.03L196.4 112.4L196.8 105.18L197.15 97.47L197.5 90.84L197.85 82.9L197.9 82.35L198.2 76.77L198.55 70.08L198.65 68.6L198.9 64.98L199.07 63.19L199.25 62.42L199.4 61.41L199.43 60.9L199.6 60.6L199.78 60.99L199.95 62.38L200.12 63.25L200.15 63.71L200.3 64.96L200.65 69.73L200.9 74.77L201 76.31L201.35 83.16L201.65 89.46L201.7 90.52L202.4 104.76L203.1 116.96L203.15 118.46L203.9 128.95L204.15 132.13L204.65 137.15L205.2 142.26L205.4 143.8L206.15 149.13L206.6 151.55L206.9 152.91L207.65 155.82L208.35 158.07L208.4 158.32L209.15 160.42L209.9 162.13L210.1 162.36L210.65 164.09L211.4 164.91L212.15 165.31L212.9 166.38L213.6 166.99L213.65 167.44L214.4 168.27L215.15 168.29L215.9 169.16L216.65 169.35L217.1 169.93L217.4 170.13L218.15 170.18L218.9 170.58L219.65 170.65L220.4 170.79L221.15 170.79L221.9 171.36L222.65 171.43L223.4 171.5L224.15 171.72L224.9 171.83L225.65 171.73L226.4 171.97L227.15 172.49L227.9 172.23L228.65 172.73L229.4 172.17L230.15 172.19L230.9 172.63L231.65 172.86L232.4 172.56L233.15 172.94L233.9 173.07L234.65 173.15L235.4 172.9L236.15 172.96L236.9 172.59L237.65 173.06L238.4 173.16L239.15 173.48L239.9 172.83L240.65 172.97L241.4 172.96L242.15 173.47L242.9 172.62L243.65 173.02L244.4 173.83L245.15 173.5L245.9 173.02L246.65 173.36L247.4 173.61L248.15 173.55L248.9 173.38L249.65 173.25L250.4 173.68L251.15 173.48L251.9 173.7L252.65 173.61L253.4 173.4L254.15 173.9L254.9 173.42L255.65 173.67L256.4 173.41L257.15 173.52L257.9 173.53L258.65 173.44L259.4 173.67L260.15 173.95L260.9 174.1L261.65 174L262.4 173.61L263.15 174.03L263.9 173.77L264.65 174.13L265.4 173.36L266.15 174.06L266.9 173.54L267.65 173.99L268.4 173.59L269.15 173.94L269.9 173.65L270.65 173.25L271.4 173.49L272.15 173.68L272.9 173.75L273.65 173.18L274.4 173.45L275.15 173.57L275.9 173.71L276.65 173.82L277.4 173.56L278.15 173.39L278.9 173.86L279.65 173.7L280.4 174.01L281.15 173.66L281.9 173.96L282.65 173.57L283.4 173.87L284.15 173.83L284.9 173.92L285.65 173.58L286.4 173.79L287.15 173.61L287.9 173.78L288.65 173.98L289 174.58" fill="none" stroke="#a02e6e" stroke-width="1.2" stroke-linejoin="round"/>
<path d="M442.4 293.22L443.15 293.43L443.9 293.24L444.65 293.55L445.4 293.34L446.15 293.52L446.9 293.31L447.65 293.92L448.4 293.61L449.15 292.68L449.9 293.28L450.65 293.21L451.4 292.52L452.15 292.92L452.9 293.04L453.65 292.96L454.4 293.22L455.15 292.63L455.9 293.4L456.65 293.4L457.4 293.27L458.15 293.06L458.9 293.16L459.65 293.01L460.4 293.5L461.15 293.3L461.9 293.74L462.65 293.03L463.4 293.57L464.15 292.96L464.9 293.07L465.65 292.81L466.4 293.27L467.15 293.09L467.9 293.29L468.65 293.55L469.4 293.08L470.15 293.2L470.9 293.35L471.65 293.06L472.4 292.9L473.15 293.17L473.9 293.2L474.65 293.28L475.4 293.29L476.15 292.82L476.9 293.15L477.65 293.38L478.4 292.86L479.15 293.09L479.9 292.79L480.65 293.01L481.4 293.47L482.15 292.98L482.9 292.63L483.65 293.01L484.4 292.95L485.15 293.2L485.9 292.43L486.65 292.55L487.4 292.78L488.15 292.31L488.9 293.1L489.65 292.12L490.4 292.45L491.15 292.23L491.9 292.44L492.65 292.84L493.4 292.74L494.15 292.8L494.9 292.65L495.65 291.81L496.2 292.47L496.4 291.81L497.15 292.15L497.9 292.12L498.65 292L499.4 292.23L500.15 291.74L500.9 292.4L501 292.05L501.65 292.12L502.4 291.87L503.15 291.76L503.9 291.31L504.65 291.73L505.4 290.6L505.8 290.93L506.15 290.67L506.9 290.31L507.65 290.12L508.2 289.51L508.4 289.88L509.15 289.36L509.9 288.56L510.6 288.07L510.65 287.48L511.4 286.3L512.15 285.37L512.52 284.61L512.9 284.31L513.65 280.12L513.96 278.41L514.4 274.34L515.15 263.67L515.4 257.79L515.9 244.3L516.36 227.28L516.65 214.25L517.32 177.92L517.4 173.09L517.8 147.88L518.15 123.61L518.28 114.5L518.76 82.26L518.9 73.3L519.24 54.29L519.48 43.27L519.65 37.28L519.72 35.24L519.96 29.28L520.2 28.07L520.4 29.64L520.44 29.46L520.68 34.89L520.92 43.34L521.15 54.12L521.16 54.48L521.64 82.19L521.9 99.62L522.12 114.85L522.6 147.56L522.65 151.35L523.08 178.35L523.4 196.35L524.04 227.1L524.15 231.7L524.9 255.31L525 257.94L525.65 269.82L526.4 278.31L526.44 278.35L527.15 282.67L527.88 284.45L527.9 284.6L528.65 286.5L529.4 287.41L529.8 288.04L530.15 288.28L530.9 288.68L531.65 289.91L532.2 290.08L532.4 289.38L533.15 290.04L533.9 290.54L534.6 291L534.65 290.79L535.4 290.63L536.15 291.49L536.9 291.36L537.65 291.94L538.4 291.8L539.15 292.13L539.4 292.12L539.9 292.21L540.65 291.89L541.4 292.43L542.15 292.27L542.9 291.9L543.65 292.22L544.2 292.28L544.4 292.54L545.15 292.66L545.9 292.17L546.65 292.76L547.4 292.57L548.15 292.31L548.9 292.91L549.65 292.46L550.4 292.36L551.15 292.98L551.9 293.04L552.65 292.6L553.4 293.14L554.15 293.14L554.9 292.71L555.65 293.48L556.4 292.88L557.15 292.98L557.9 292.22L558.65 293.14L559.4 292.77L560.15 293.1L560.9 292.47L561.65 293.34L562.4 293.44L563.15 293.58L563.9 292.14L564.65 293.21L565.4 293.15L566.15 292.15L566.9 292.84L567.65 293.05L568.4 293.5L569.15 292.84L569.9 293.15L570.65 293.08L571.4 293.21L572.15 292.99L572.9 293.38L573.65 293.41L574.4 292.72L575.15 293.47L575.9 292.91L576.65 293.06L577.4 293.48L578.15 293.18L578.9 293.33L579.65 293.4L580.4 293.34L581.15 293.01L581.9 292.89L582.65 293.38L583.4 293.41L584.15 293.29L584.9 293.13L585.65 293.44L586.4 293.18L587.15 292.78L587.9 293.28L588.65 293.35L589.4 293.43L590.15 292.94L590.9 292.98L591.65 293.31L592.4 293.08L593.15 293.19L593.9 293.5L594.65 293.34L595.4 293.77L596.15 293.31L596.9 293.74L597.65 293.55L598.4 293.99L599.15 293.24L599.9 293.21L600.65 293.63L601.4 293.08L602.15 293.1L602.9 293.32L603.65 293.36L604.4 292.83L605.15 293.32L605.9 293.16L606.65 293.24L607.4 293.31L608.15 293.2L608.9 293.58L609.65 293.4L610.4 293.2L611.15 293.28L611.9 293.57L612.65 293.5L613.4 293.64L614.15 293.22L614.2 293.31" fill="none" stroke="#5e9c22" stroke-width="1.0" stroke-linejoin="round"/>
<path d="M442.4 275.03L443.15 272.38L443.9 274.6L444.65 273.51L445.4 271.87L446.15 270.62L446.9 273.24L447.65 271.51L448.4 271.5L449.15 270.18L449.9 273.95L450.65 272.55L451.4 272.44L452.15 272.92L452.9 272.72L453.65 272.53L454.4 273.07L455.15 272.04L455.9 269.06L456.65 273.35L457.4 272.94L458.15 272.42L458.9 274.43L459.65 270.58L460.4 268.64L461.15 274.29L461.9 272.9L462.65 270.24L463.4 271.83L464.15 273.15L464.9 270.78L465.65 273.06L466.4 275.07L467.15 274.13L467.9 272.29L468.65 272.74L469.4 271.09L470.15 272.48L470.9 271.87L471.65 271.01L472.4 270.55L473.15 274.77L473.9 272.38L474.65 270.94L475.4 271.71L476.15 274.16L476.9 274.32L477.65 271.43L478.4 272.46L479.15 273.35L479.9 271.74L480.65 270.66L481.4 270.9L482.15 272.16L482.9 271.13L483.65 270.44L484.4 271.79L485.15 273.28L485.9 272.93L486.65 271.74L487.4 274.47L488.15 270.97L488.9 271.86L489.65 270.17L490.4 272.9L491.15 271.7L491.9 269.66L492.65 270.72L493.4 274.06L494.15 272.63L494.9 271.79L495.65 272.71L496.2 269.49L496.4 270.47L497.15 269.76L497.9 270.33L498.65 270.83L499.4 271.92L500.15 272.44L500.9 272.29L501 274.48L501.65 270.27L502.4 270.75L503.15 271.27L503.9 269.37L504.65 269.87L505.4 270.54L505.8 268.74L506.15 270.35L506.9 271.02L507.65 267.64L508.2 265.82L508.4 268.75L509.15 266.79L509.9 267.73L510.6 266.19L510.65 267.1L511.4 267.11L512.15 265.17L512.52 262.6L512.9 260.16L513.65 254.25L513.96 252.09L514.4 249.07L515.15 237.74L515.4 231.04L515.9 216.99L516.36 199.12L516.65 186.79L517.32 153.43L517.4 152.09L517.8 126.04L518.15 108.99L518.28 99.36L518.76 74.4L518.9 66.82L519.24 51.96L519.48 43.7L519.65 36.22L519.72 34.29L519.96 30.87L520.2 29.04L520.4 31.86L520.44 31.28L520.68 35.53L520.92 42.68L521.15 49.93L521.16 52.37L521.64 71.28L521.9 88.17L522.12 101.11L522.6 127.53L522.65 130.53L523.08 156.74L523.4 171.84L524.04 198.61L524.15 203.63L524.9 230.59L525 230.68L525.65 246.63L526.4 256.18L526.44 254.53L527.15 260.58L527.88 261.88L527.9 262.49L528.65 264L529.4 266.9L529.8 264.99L530.15 266.87L530.9 267.8L531.65 268.96L532.2 265.9L532.4 266.44L533.15 268.01L533.9 269.19L534.6 269.92L534.65 270.01L535.4 272.61L536.15 271.06L536.9 271.16L537.65 269.93L538.4 271.72L539.15 271.73L539.4 271.74L539.9 270.8L540.65 271.85L541.4 273.11L542.15 270.19L542.9 268.5L543.65 272.42L544.2 272.36L544.4 271.12L545.15 270.91L545.9 275.09L546.65 270.98L547.4 270.05L548.15 271.04L548.9 272.34L549.65 270.94L550.4 271.26L551.15 272.19L551.9 271.26L552.65 272.01L553.4 271.81L554.15 270.52L554.9 272L555.65 270.43L556.4 273.15L557.15 270.76L557.9 271.67L558.65 269.65L559.4 271.43L560.15 270.41L560.9 273.96L561.65 271.89L562.4 272.73L563.15 269.81L563.9 270.48L564.65 271.87L565.4 270.35L566.15 273.58L566.9 271.59L567.65 272.31L568.4 272.52L569.15 271.94L569.9 273.14L570.65 271.28L571.4 272.63L572.15 273.7L572.9 272.44L573.65 272.33L574.4 271.75L575.15 272.26L575.9 273.05L576.65 271.88L577.4 270.03L578.15 272.41L578.9 272.01L579.65 272.81L580.4 272.26L581.15 274.24L581.9 270.67L582.65 270.98L583.4 273.06L584.15 270.91L584.9 272.65L585.65 272.21L586.4 269.72L587.15 273.09L587.9 274L588.65 272.51L589.4 270.45L590.15 273.26L590.9 270.92L591.65 272.1L592.4 272.78L593.15 271.26L593.9 270.09L594.65 272.08L595.4 272.21L596.15 271.17L596.9 271.27L597.65 273.21L598.4 272.15L599.15 271.67L599.9 271.51L600.65 272.49L601.4 272.39L602.15 272.06L602.9 270.51L603.65 271.8L604.4 271.48L605.15 272.36L605.9 273.75L606.65 273.49L607.4 273.1L608.15 272.43L608.9 271.87L609.65 272.71L610.4 271.68L611.15 271.86L611.9 271.22L612.65 272.22L613.4 272.19L614.15 274.63L614.2 272.99" fill="none" stroke="#e0165e" stroke-width="1.0" stroke-linejoin="round"/>
<path d="M442.4 251.99L443.15 252.33L443.9 251.96L444.65 252.39L445.4 252.32L446.15 252.94L446.9 251.77L447.65 252.07L448.4 252.05L449.15 252.17L449.9 252.29L450.65 251.8L451.4 251.87L452.15 252.16L452.9 252.35L453.65 251.74L454.4 251.62L455.15 252.4L455.9 252.31L456.65 252.37L457.4 251.77L458.15 251.99L458.9 252.11L459.65 252.17L460.4 252.01L461.15 252.02L461.9 252.33L462.65 251.9L463.4 251.87L464.15 251.9L464.9 251.87L465.65 252.05L466.4 251.95L467.15 251.87L467.9 252.41L468.65 252.08L469.4 251.89L470.15 252.34L470.9 251.81L471.65 251.96L472.4 251.93L473.15 251.78L473.9 251.83L474.65 251.96L475.4 251.51L476.15 251.8L476.9 251.98L477.65 251.98L478.4 251.97L479.15 252.55L479.9 252.06L480.65 251.81L481.4 251.8L482.15 251.82L482.9 251.93L483.65 251.71L484.4 252.21L485.15 251.44L485.9 251.92L486.65 251.86L487.4 251.37L488.15 251.86L488.9 251.81L489.65 251.44L490.4 252.26L491.15 251.77L491.9 251.44L492.65 251.36L493.4 251.24L494.15 251.49L494.9 251.39L495.65 250.91L496.2 250.98L496.4 251.06L497.15 251.09L497.9 251.03L498.65 250.87L499.4 251.16L500.15 251.16L500.9 250.81L501 250.15L501.65 250.63L502.4 250.71L503.15 250.38L503.9 250.32L504.65 250.09L505.4 249.42L505.8 248.99L506.15 249.77L506.9 249.16L507.65 249.09L508.2 248.6L508.4 248.52L509.15 248.48L509.9 247.16L510.6 246.82L510.65 246.46L511.4 245.8L512.15 244.49L512.52 243.55L512.9 242.1L513.65 237.74L513.96 235.82L514.4 231.53L515.15 219.9L515.4 214.92L515.9 201.26L516.36 185.35L516.65 174.05L517.32 143.18L517.4 139.39L517.8 117.59L518.15 99.07L518.28 91.92L518.76 66.46L518.9 60.17L519.24 45.3L519.48 37.29L519.65 32.6L519.72 31.19L519.96 26.95L520.2 26.14L520.4 26.27L520.44 27.17L520.68 30.96L520.92 37.74L521.15 45.29L521.16 45.38L521.64 66.45L521.9 79.98L522.12 91.55L522.6 118.55L522.65 119.83L523.08 143.18L523.4 158.03L524.04 185.93L524.15 189.41L524.9 212.41L525 214.15L525.65 226.87L526.4 235.46L526.44 236.09L527.15 240.51L527.88 242.52L527.9 243.22L528.65 244.74L529.4 246.62L529.8 246.98L530.15 247.19L530.9 247.96L531.65 248.41L532.2 248.52L532.4 249.35L533.15 249.23L533.9 249.41L534.6 249.3L534.65 249.56L535.4 249.96L536.15 250.11L536.9 250.2L537.65 250.47L538.4 250.3L539.15 250.74L539.4 250.33L539.9 250.6L540.65 250.73L541.4 251.27L542.15 251.24L542.9 251.19L543.65 250.91L544.2 251.16L544.4 251.52L545.15 251.7L545.9 250.97L546.65 251.31L547.4 251.51L548.15 251.61L548.9 251.55L549.65 251.77L550.4 251.2L551.15 252.08L551.9 251.34L552.65 251.7L553.4 251.86L554.15 252.06L554.9 252.01L555.65 252.02L556.4 252.15L557.15 251.76L557.9 252.03L558.65 252.27L559.4 251.63L560.15 251.46L560.9 251.58L561.65 252.29L562.4 252.25L563.15 251.8L563.9 251.98L564.65 252.06L565.4 252.23L566.15 251.4L566.9 251.79L567.65 251.88L568.4 252.06L569.15 251.99L569.9 251.89L570.65 252.07L571.4 251.26L572.15 252.88L572.9 252.24L573.65 252.26L574.4 251.82L575.15 252.14L575.9 252.61L576.65 252.55L577.4 252.05L578.15 251.68L578.9 252.09L579.65 251.96L580.4 252.29L581.15 251.68L581.9 252L582.65 252.14L583.4 251.93L584.15 252.37L584.9 251.74L585.65 251.72L586.4 251.97L587.15 252.31L587.9 251.99L588.65 251.91L589.4 252.31L590.15 252.15L590.9 251.94L591.65 252.13L592.4 252.02L593.15 252.27L593.9 252.14L594.65 251.87L595.4 251.96L596.15 251.98L596.9 252.21L597.65 252.21L598.4 251.87L599.15 252.06L599.9 252.2L600.65 252.43L601.4 252.19L602.15 252.68L602.9 252.12L603.65 252.33L604.4 252.03L605.15 251.84L605.9 252.15L606.65 252.26L607.4 252.22L608.15 252.17L608.9 252.03L609.65 251.89L610.4 252.04L611.15 252.26L611.9 252.41L612.65 251.19L613.4 252.31L614.15 252.45L614.2 252.5" fill="none" stroke="#a00c2a" stroke-width="1.0" stroke-linejoin="round"/>
<path d="M442.4 231.01L443.15 231.1L443.9 230.77L444.65 230.87L445.4 231.05L446.15 230.58L446.9 230.67L447.65 230.95L448.4 230.51L449.15 230.9L449.9 230.46L450.65 230.94L451.4 230.89L452.15 230.72L452.9 230.6L453.65 230.73L454.4 230.23L455.15 230.75L455.9 230.9L456.65 231.21L457.4 230.71L458.15 230.8L458.9 231.25L459.65 231.35L460.4 230.7L461.15 231.14L461.9 231.17L462.65 230.98L463.4 230.54L464.15 230.55L464.9 230.98L465.65 231.48L466.4 230.76L467.15 231.25L467.9 231.34L468.65 230.43L469.4 230.61L470.15 231.21L470.9 231.05L471.65 230.92L472.4 230.75L473.15 230.93L473.9 230.56L474.65 231.45L475.4 230.39L476.15 230.2L476.9 230.75L477.65 231.11L478.4 230.54L479.15 230.66L479.9 230.37L480.65 230.63L481.4 230.34L482.15 230.33L482.9 230.18L483.65 230.43L484.4 231.11L485.15 230.54L485.9 230.59L486.65 231.16L487.4 230.31L488.15 230.18L488.9 230.6L489.65 230.06L490.4 230.49L491.15 230.69L491.9 230.01L492.65 230.14L493.4 230.74L494.15 229.9L494.9 229.96L495.65 230.18L496.2 229.98L496.4 229.81L497.15 230.45L497.9 229.75L498.65 229.94L499.4 229.65L500.15 229.61L500.9 229.18L501 229.82L501.65 229.33L502.4 229.7L503.15 228.85L503.9 228.88L504.65 228.97L505.4 228.65L505.8 228.3L506.15 228.33L506.9 227.7L507.65 227.75L508.2 226.68L508.4 227.38L509.15 227.23L509.9 226.5L510.6 225.76L510.65 225.33L511.4 224.5L512.15 222.57L512.52 221.49L512.9 219.93L513.65 214.4L513.96 212.93L514.4 207.85L515.15 195.77L515.4 189.92L515.9 177.58L516.36 163.08L516.65 151.92L517.32 124.83L517.4 121.86L517.8 103.74L518.15 88.09L518.28 82.11L518.76 62.48L518.9 56.15L519.24 44.84L519.48 38.5L519.65 34.8L519.72 33.81L519.96 30.99L520.2 29.61L520.4 30.8L520.44 31.38L520.68 34.29L520.92 39.36L521.15 45.27L521.16 45.23L521.64 62.57L521.9 72.93L522.12 82.83L522.6 103.88L522.65 105.59L523.08 125L523.4 138.9L524.04 163.1L524.15 166.57L524.9 188.16L525 189.87L525.65 202.49L526.4 212.55L526.44 212.68L527.15 218.14L527.88 221.92L527.9 221.9L528.65 223.44L529.4 225.05L529.8 225.02L530.15 225.9L530.9 226.7L531.65 226.62L532.2 227.9L532.4 228.14L533.15 228.07L533.9 228.51L534.6 228.92L534.65 228.46L535.4 229.04L536.15 229.05L536.9 228.67L537.65 229.01L538.4 229.24L539.15 229.83L539.4 229.59L539.9 229.92L540.65 229.59L541.4 229.45L542.15 230.49L542.9 230.75L543.65 230.14L544.2 230.02L544.4 230.43L545.15 229.82L545.9 230.13L546.65 229.82L547.4 230.42L548.15 230.39L548.9 230.23L549.65 230.19L550.4 229.97L551.15 230.2L551.9 230.82L552.65 230.39L553.4 230.88L554.15 230.28L554.9 230.53L555.65 230.44L556.4 230.51L557.15 230.83L557.9 230.03L558.65 230.85L559.4 230.85L560.15 230.66L560.9 230.7L561.65 230.62L562.4 230.9L563.15 230.72L563.9 230.47L564.65 230.77L565.4 231.01L566.15 230.85L566.9 230.76L567.65 230.82L568.4 230.63L569.15 230.64L569.9 230.24L570.65 230.74L571.4 231.08L572.15 230.69L572.9 230.54L573.65 231.07L574.4 230.86L575.15 230.86L575.9 230.96L576.65 231.03L577.4 230.82L578.15 230.6L578.9 231.34L579.65 230.86L580.4 230.63L581.15 230.91L581.9 231.2L582.65 230.45L583.4 231.24L584.15 230.83L584.9 231.44L585.65 231.07L586.4 230.85L587.15 231.24L587.9 231.25L588.65 230.78L589.4 230.95L590.15 230.74L590.9 231.16L591.65 230.49L592.4 230.85L593.15 230.29L593.9 231.07L594.65 230.26L595.4 230.6L596.15 230.98L596.9 230.81L597.65 230.78L598.4 230.64L599.15 230.78L599.9 230.41L600.65 231.01L601.4 231.15L602.15 231.14L602.9 230.91L603.65 231.27L604.4 231.06L605.15 231.2L605.9 231.04L606.65 230.94L607.4 230.71L608.15 230.18L608.9 231.12L609.65 230.9L610.4 231.5L611.15 230.37L611.9 231.18L612.65 230.67L613.4 230.94L614.15 230.69L614.2 231.04" fill="none" stroke="#8a88dc" stroke-width="1.0" stroke-linejoin="round"/>
<path d="M442.4 206.89L443.15 207.15L443.9 206.93L444.65 207.03L445.4 207.25L446.15 207.03L446.9 206.85L447.65 207.24L448.4 206.85L449.15 206.99L449.9 206.78L450.65 206.68L451.4 206.01L452.15 207.06L452.9 206.53L453.65 207.07L454.4 207.37L455.15 206.48L455.9 207.1L456.65 206.82L457.4 206.97L458.15 206.5L458.9 206.84L459.65 206.87L460.4 207.23L461.15 207.43L461.9 206.91L462.65 206.71L463.4 207.44L464.15 206.77L464.9 206.78L465.65 206.82L466.4 206.92L467.15 206.98L467.9 206.61L468.65 206.73L469.4 207.29L470.15 207.21L470.9 206.87L471.65 206.81L472.4 206.66L473.15 207.01L473.9 206.56L474.65 206.74L475.4 206.56L476.15 206.5L476.9 206.68L477.65 206.66L478.4 206.48L479.15 206.61L479.9 206.64L480.65 206.47L481.4 206.4L482.15 206.53L482.9 206.75L483.65 206.85L484.4 206.57L485.15 206.42L485.9 206.46L486.65 206.99L487.4 206.68L488.15 206.12L488.9 206.35L489.65 206.18L490.4 206.2L491.15 205.78L491.9 206.23L492.65 205.79L493.4 205.97L494.15 206.52L494.9 206.32L495.65 205.72L496.2 205.63L496.4 205.65L497.15 205.3L497.9 205.48L498.65 205.59L499.4 205.28L500.15 205.69L500.9 205.34L501 205.18L501.65 205.72L502.4 205.27L503.15 204.93L503.9 205.24L504.65 204.88L505.4 204.05L505.8 204.2L506.15 203.84L506.9 203.22L507.65 203.78L508.2 203.33L508.4 202.4L509.15 202.31L509.9 200.92L510.6 200.68L510.65 200.27L511.4 198.56L512.15 196.42L512.52 194.28L512.9 191.9L513.65 185.83L513.96 181.95L514.4 176.17L515.15 162.12L515.4 156.72L515.9 143.79L516.36 130.19L516.65 120.28L517.32 97.68L517.4 94.19L517.8 80.18L518.15 67L518.28 62.61L518.76 47.26L518.9 43.68L519.24 34.82L519.48 30.4L519.65 27.26L519.72 26.7L519.96 24.78L520.2 23.97L520.4 23.96L520.44 24.86L520.68 26.56L520.92 30.84L521.15 34.67L521.16 35.6L521.64 47.52L521.9 55.5L522.12 62.55L522.6 79.64L522.65 81.62L523.08 96.57L523.4 108.85L524.04 129.63L524.15 133.3L524.9 153.29L525 156.61L525.65 170.26L526.4 181.61L526.44 182.13L527.15 189.22L527.88 194.32L527.9 194.74L528.65 197.46L529.4 199.75L529.8 200.59L530.15 200.86L530.9 201.91L531.65 202.57L532.2 202.76L532.4 203.74L533.15 203.33L533.9 204.31L534.6 204.42L534.65 203.54L535.4 204.46L536.15 204.92L536.9 205.06L537.65 204.74L538.4 205.23L539.15 204.95L539.4 205.03L539.9 205.35L540.65 205.58L541.4 206.09L542.15 205.82L542.9 206.11L543.65 205.53L544.2 205.59L544.4 205.8L545.15 206.51L545.9 205.67L546.65 205.65L547.4 206.14L548.15 206.55L548.9 205.77L549.65 206.21L550.4 205.92L551.15 206.77L551.9 206.58L552.65 206.49L553.4 206.42L554.15 206.39L554.9 206.52L555.65 206.32L556.4 206.27L557.15 206.22L557.9 206.56L558.65 206.35L559.4 206.85L560.15 206L560.9 206.79L561.65 206.79L562.4 207L563.15 206.59L563.9 206.24L564.65 206.42L565.4 207.03L566.15 206.62L566.9 206.59L567.65 206.55L568.4 206.71L569.15 206.67L569.9 206.29L570.65 206.58L571.4 207.06L572.15 207.19L572.9 206.74L573.65 206.63L574.4 207.18L575.15 206.74L575.9 206.46L576.65 206.77L577.4 207.01L578.15 207.27L578.9 206.68L579.65 206.98L580.4 206.73L581.15 207.17L581.9 206.91L582.65 206.92L583.4 206.56L584.15 206.75L584.9 206.76L585.65 205.8L586.4 207.11L587.15 206.86L587.9 206.8L588.65 206.76L589.4 206.88L590.15 206.94L590.9 206.49L591.65 206.92L592.4 206.91L593.15 206.89L593.9 206.45L594.65 206.85L595.4 206.52L596.15 206.99L596.9 207.28L597.65 207.15L598.4 206.8L599.15 206.74L599.9 206.74L600.65 207.01L601.4 206.71L602.15 206.75L602.9 206.18L603.65 206.66L604.4 206.68L605.15 206.76L605.9 207.27L606.65 206.52L607.4 206.53L608.15 207.1L608.9 206.64L609.65 206.88L610.4 206.97L611.15 206.93L611.9 206.7L612.65 207.2L613.4 207.37L614.15 206.64L614.2 206.85" fill="none" stroke="#f0c040" stroke-width="1.0" stroke-linejoin="round"/>
<path d="M442.4 188.58L443.15 188.24L443.9 188.01L444.65 188.17L445.4 188.54L446.15 188L446.9 188.36L447.65 188.4L448.4 188.1L449.15 188.45L449.9 188.47L450.65 188.57L451.4 188.55L452.15 187.84L452.9 188.53L453.65 188.44L454.4 188.55L455.15 188.01L455.9 188.52L456.65 188.36L457.4 187.91L458.15 188.62L458.9 188.01L459.65 187.94L460.4 188.35L461.15 188.05L461.9 188.33L462.65 188.15L463.4 188.3L464.15 188.45L464.9 188.2L465.65 188.45L466.4 188.44L467.15 187.95L467.9 188.43L468.65 188.36L469.4 188.21L470.15 188.49L470.9 188.64L471.65 188.37L472.4 187.71L473.15 188.26L473.9 188.09L474.65 188.04L475.4 188.21L476.15 188L476.9 188.56L477.65 188.15L478.4 188.07L479.15 188.28L479.9 188.27L480.65 188.37L481.4 188.19L482.15 187.98L482.9 188.01L483.65 187.33L484.4 187.51L485.15 188.22L485.9 187.8L486.65 188.4L487.4 188.37L488.15 187.46L488.9 187.89L489.65 188.61L490.4 187.51L491.15 187.82L491.9 187.6L492.65 187.55L493.4 187.5L494.15 187.53L494.9 187.7L495.65 187.19L496.2 187.53L496.4 187.16L497.15 187.45L497.9 187.31L498.65 186.91L499.4 187.09L500.15 186.73L500.9 186.59L501 187.16L501.65 186.18L502.4 186.73L503.15 186.62L503.9 186.06L504.65 186.34L505.4 186.06L505.8 185.28L506.15 185.67L506.9 185.34L507.65 184.62L508.2 184.68L508.4 184.6L509.15 183.61L509.9 182.49L510.6 182.23L510.65 181.81L511.4 179.97L512.15 177.91L512.52 175.63L512.9 174.04L513.65 168.5L513.96 163.87L514.4 159.03L515.15 145.53L515.4 140.33L515.9 127.97L516.36 115.47L516.65 106.36L517.32 83.89L517.4 80.99L517.8 67.42L518.15 56.02L518.28 51.06L518.76 36.97L518.9 33.17L519.24 24.51L519.48 20.98L519.65 18.21L519.72 18.04L519.96 15.89L520.2 14.63L520.4 15.13L520.44 15.09L520.68 16.99L520.92 20.9L521.15 24.81L521.16 24.97L521.64 36.8L521.9 44.67L522.12 51.69L522.6 67.54L522.65 69.21L523.08 84.15L523.4 95.58L524.04 114.67L524.15 118.18L524.9 138.31L525 140.49L525.65 153.68L526.4 164.61L526.44 165.28L527.15 171.39L527.88 176.51L527.9 176.36L528.65 179.75L529.4 181.44L529.8 182.37L530.15 182.42L530.9 183.55L531.65 183.99L532.2 184.44L532.4 184.5L533.15 184.74L533.9 185.71L534.6 185.74L534.65 185.99L535.4 185.63L536.15 185.57L536.9 186.14L537.65 186.46L538.4 186.88L539.15 187.09L539.4 187.18L539.9 187.35L540.65 187.22L541.4 187.13L542.15 186.96L542.9 187.47L543.65 187.19L544.2 187.15L544.4 187.57L545.15 187.52L545.9 187.76L546.65 187.35L547.4 187.95L548.15 187.75L548.9 187.64L549.65 187.5L550.4 187.44L551.15 187.38L551.9 188.23L552.65 187.42L553.4 188.05L554.15 187.82L554.9 187.74L555.65 187.79L556.4 187.92L557.15 188.24L557.9 188.15L558.65 188L559.4 187.61L560.15 187.51L560.9 188.6L561.65 187.76L562.4 187.61L563.15 188.41L563.9 187.65L564.65 188.32L565.4 188.39L566.15 188.2L566.9 188.42L567.65 187.73L568.4 187.79L569.15 188.1L569.9 188.16L570.65 188.15L571.4 188.32L572.15 187.97L572.9 187.56L573.65 188.32L574.4 188.14L575.15 188.45L575.9 188.83L576.65 188.24L577.4 188.39L578.15 187.96L578.9 188.5L579.65 188.34L580.4 188.31L581.15 188.51L581.9 187.92L582.65 188.42L583.4 188.39L584.15 188.73L584.9 187.73L585.65 188.24L586.4 188.92L587.15 188.15L587.9 188.15L588.65 188.8L589.4 189.02L590.15 188.32L590.9 188.08L591.65 188.11L592.4 188.17L593.15 188.04L593.9 188.06L594.65 188.35L595.4 188.31L596.15 188.44L596.9 188.31L597.65 187.95L598.4 188.53L599.15 188.38L599.9 188.14L600.65 188.23L601.4 188.41L602.15 188.34L602.9 188.28L603.65 188.55L604.4 188.63L605.15 188.23L605.9 188.32L606.65 188L607.4 188.28L608.15 188.47L608.9 188.58L609.65 188.38L610.4 188.31L611.15 188.12L611.9 188.4L612.65 188.01L613.4 188.37L614.15 188.34L614.2 188.07" fill="none" stroke="#44e68a" stroke-width="1.0" stroke-linejoin="round"/>
<path d="M442.4 164L443.15 163.84L443.9 164.08L444.65 163.76L445.4 164.04L446.15 164.36L446.9 163.95L447.65 164.12L448.4 163.7L449.15 163.78L449.9 163.33L450.65 163.84L451.4 163.55L452.15 163.91L452.9 163.27L453.65 163.62L454.4 163.89L455.15 163.98L455.9 163.37L456.65 163.74L457.4 164.61L458.15 164.08L458.9 163.89L459.65 163.03L460.4 163.57L461.15 163.99L461.9 163.9L462.65 163.96L463.4 164.1L464.15 163.84L464.9 164.06L465.65 163.28L466.4 164.53L467.15 163.71L467.9 163.6L468.65 164.22L469.4 163.95L470.15 164.05L470.9 163.58L471.65 163.83L472.4 163.95L473.15 163.4L473.9 163.66L474.65 163.65L475.4 163.62L476.15 163.49L476.9 163.32L477.65 163.8L478.4 163.74L479.15 163.99L479.9 163.62L480.65 163.43L481.4 163.18L482.15 163.62L482.9 163.49L483.65 164.15L484.4 164.22L485.15 163.99L485.9 163.24L486.65 163.07L487.4 163.39L488.15 163.17L488.9 163.82L489.65 163.41L490.4 163.22L491.15 163.3L491.9 163.64L492.65 162.95L493.4 163.33L494.15 162.75L494.9 163.03L495.65 162.84L496.2 163.08L496.4 163.02L497.15 163.26L497.9 163.04L498.65 162.58L499.4 162.28L500.15 162.33L500.9 162.33L501 162.37L501.65 162.11L502.4 162.52L503.15 162.32L503.9 161.79L504.65 161.52L505.4 161.37L505.8 161.29L506.15 161.17L506.9 160.38L507.65 160.35L508.2 159.58L508.4 160L509.15 159.55L509.9 158.14L510.6 157.28L510.65 156.95L511.4 154.94L512.15 152.73L512.52 150.43L512.9 147.83L513.65 141.13L513.96 138.02L514.4 132.29L515.15 120.77L515.4 115.82L515.9 106.06L516.36 95.81L516.65 88.73L517.32 73.33L517.4 71.11L517.8 60.91L518.15 52.55L518.28 49.87L518.76 40.11L518.9 37.69L519.24 32.22L519.48 29.57L519.65 28.26L519.72 27.84L519.96 25.85L520.2 26L520.4 26.01L520.44 26.13L520.68 27.62L520.92 29.61L521.15 32.74L521.16 32.87L521.64 40.26L521.9 45.23L522.12 50.61L522.6 61.69L522.65 62.45L523.08 72.79L523.4 80.99L524.04 96.35L524.15 98.27L524.9 114.71L525 116.04L525.65 127.56L526.4 137.28L526.44 137.92L527.15 144.83L527.88 150.17L527.9 150.58L528.65 153.64L529.4 156.22L529.8 157.4L530.15 157.76L530.9 159.57L531.65 159.28L532.2 160.88L532.4 160.07L533.15 160.98L533.9 161.51L534.6 161.46L534.65 160.9L535.4 161.47L536.15 161.8L536.9 162.13L537.65 162.42L538.4 162.6L539.15 162.84L539.4 162.16L539.9 162.81L540.65 162.1L541.4 162.76L542.15 162.48L542.9 162.34L543.65 163.21L544.2 162.98L544.4 163.3L545.15 162.59L545.9 162.75L546.65 163.13L547.4 163.01L548.15 163.27L548.9 163.1L549.65 163.22L550.4 163.02L551.15 163.77L551.9 163.32L552.65 163.09L553.4 163.67L554.15 163.63L554.9 163.57L555.65 163.6L556.4 163.43L557.15 163.53L557.9 162.93L558.65 163.14L559.4 163.25L560.15 163.71L560.9 164.01L561.65 163.61L562.4 163.59L563.15 164.01L563.9 163.58L564.65 163.9L565.4 163.84L566.15 163.32L566.9 163.82L567.65 163.8L568.4 163.4L569.15 163.44L569.9 163.38L570.65 164.18L571.4 164.4L572.15 163.99L572.9 164.25L573.65 163.39L574.4 164.22L575.15 164.39L575.9 164.29L576.65 163.53L577.4 164.14L578.15 163.79L578.9 164.15L579.65 163.64L580.4 163.84L581.15 163.67L581.9 163.99L582.65 163.82L583.4 164.18L584.15 164.1L584.9 163.98L585.65 163.85L586.4 163.77L587.15 163.87L587.9 164.09L588.65 163.91L589.4 163.96L590.15 163.87L590.9 163.86L591.65 163.69L592.4 163.33L593.15 164.06L593.9 164.06L594.65 163.6L595.4 164.47L596.15 163.55L596.9 164.2L597.65 163.98L598.4 164L599.15 164.25L599.9 164.18L600.65 163.92L601.4 163.59L602.15 163.55L602.9 163.97L603.65 164.39L604.4 164.18L605.15 163.91L605.9 164.02L606.65 164.13L607.4 164.44L608.15 163.7L608.9 164.14L609.65 164.01L610.4 163.7L611.15 163.62L611.9 164.31L612.65 164.03L613.4 163.87L614.15 163.96L614.2 164.23" fill="none" stroke="#c8101e" stroke-width="1.0" stroke-linejoin="round"/>
<path d="M442.4 149.31L443.15 149.76L443.9 149.2L444.65 149.04L445.4 149.24L446.15 148.99L446.9 149.16L447.65 149.63L448.4 149.77L449.15 149.45L449.9 149.31L450.65 148.98L451.4 148.95L452.15 149.35L452.9 149.29L453.65 149.06L454.4 149.1L455.15 149.69L455.9 149.52L456.65 149.24L457.4 149.28L458.15 149.59L458.9 149.31L459.65 149.27L460.4 148.73L461.15 148.69L461.9 148.61L462.65 148.51L463.4 149.17L464.15 149.27L464.9 148.9L465.65 149.29L466.4 149.28L467.15 149.12L467.9 148.69L468.65 149.56L469.4 149.53L470.15 148.94L470.9 149.68L471.65 149.11L472.4 148.85L473.15 148.95L473.9 148.5L474.65 148.94L475.4 148.56L476.15 149.36L476.9 149.11L477.65 148.58L478.4 149.16L479.15 148.45L479.9 149L480.65 149.08L481.4 148.94L482.15 148.56L482.9 148.85L483.65 148.8L484.4 148.85L485.15 149.26L485.9 149.29L486.65 149.23L487.4 148.54L488.15 148.47L488.9 148.67L489.65 148.76L490.4 147.97L491.15 148.36L491.9 149.04L492.65 148.08L493.4 148.18L494.15 148.13L494.9 148.43L495.65 148.2L496.2 148.07L496.4 147.69L497.15 148.25L497.9 147.98L498.65 147.68L499.4 147.78L500.15 147.89L500.9 147.08L501 147.04L501.65 147.07L502.4 146.95L503.15 146.11L503.9 146.63L504.65 146.9L505.4 146.17L505.8 146.39L506.15 145.05L506.9 145.43L507.65 145.28L508.2 144.77L508.4 143.9L509.15 142.67L509.9 141.43L510.6 138.85L510.65 138.93L511.4 135.35L512.15 131.51L512.52 128.81L512.9 126.15L513.65 118.26L513.96 114.33L514.4 108.82L515.15 97.39L515.4 93.75L515.9 85.17L516.36 77.15L516.65 72.03L517.32 58.99L517.4 58.26L517.8 51.49L518.15 45.28L518.28 44.25L518.76 36.99L518.9 36.32L519.24 32.46L519.48 30.69L519.65 29.49L519.72 29.38L519.96 27.96L520.2 27.76L520.4 27.6L520.44 28.43L520.68 28.86L520.92 30.63L521.15 32.32L521.16 31.82L521.64 37.42L521.9 40.63L522.12 43.74L522.6 51.41L522.65 52.1L523.08 59.59L523.4 65.67L524.04 76.73L524.15 78.65L524.9 91.86L525 94.05L525.65 103.79L526.4 114.61L526.44 113.6L527.15 122.16L527.88 128.67L527.9 129.04L528.65 134.38L529.4 137.62L529.8 138.91L530.15 140.6L530.9 142.7L531.65 142.8L532.2 144.47L532.4 144.61L533.15 144.95L533.9 145.57L534.6 146.18L534.65 146.12L535.4 146.36L536.15 146.35L536.9 147.01L537.65 146.93L538.4 147.33L539.15 147.28L539.4 147.56L539.9 147.82L540.65 147.79L541.4 148.03L542.15 147.51L542.9 148.16L543.65 148.19L544.2 147.97L544.4 148.13L545.15 147.41L545.9 148.34L546.65 148.25L547.4 147.75L548.15 148.63L548.9 148.33L549.65 148.65L550.4 148.54L551.15 148.79L551.9 148.71L552.65 148.63L553.4 148.89L554.15 149.02L554.9 148.12L555.65 148.83L556.4 148.67L557.15 148.53L557.9 149.28L558.65 149.2L559.4 148.61L560.15 148.61L560.9 149.2L561.65 148.79L562.4 148.89L563.15 148.41L563.9 148.98L564.65 149.37L565.4 148.9L566.15 149.02L566.9 149.59L567.65 149.34L568.4 149.51L569.15 149.28L569.9 149.46L570.65 148.61L571.4 148.87L572.15 148.63L572.9 149.8L573.65 149.2L574.4 149.11L575.15 148.93L575.9 148.86L576.65 148.33L577.4 149.85L578.15 149.15L578.9 149.2L579.65 148.77L580.4 149.18L581.15 149.31L581.9 149.18L582.65 149.4L583.4 148.96L584.15 149.32L584.9 149.49L585.65 149.39L586.4 149.34L587.15 149.2L587.9 148.94L588.65 149.41L589.4 149.13L590.15 148.96L590.9 149.48L591.65 148.77L592.4 149.09L593.15 149.49L593.9 149.55L594.65 149.15L595.4 149.29L596.15 149.43L596.9 149.25L597.65 149.04L598.4 149.41L599.15 149.33L599.9 149.31L600.65 149.62L601.4 149.38L602.15 149.15L602.9 149.34L603.65 149.87L604.4 149.08L605.15 149.22L605.9 149.06L606.65 149.41L607.4 148.92L608.15 149.44L608.9 149.53L609.65 149.07L610.4 149.05L611.15 148.86L611.9 149.32L612.65 148.98L613.4 149.13L614.15 149.19L614.2 149.11" fill="none" stroke="#c98f9c" stroke-width="1.0" stroke-linejoin="round"/>
<path d="M442.4 124.91L443.15 125.14L443.9 124.02L444.65 124.41L445.4 124.73L446.15 124.33L446.9 124.49L447.65 124.71L448.4 125.06L449.15 124.99L449.9 124.55L450.65 124.67L451.4 124.52L452.15 124.57L452.9 124.27L453.65 124.08L454.4 124.5L455.15 124.9L455.9 124.83L456.65 124.04L457.4 124.53L458.15 124.4L458.9 124.67L459.65 124.25L460.4 124.85L461.15 124.5L461.9 124.73L462.65 124.82L463.4 123.97L464.15 124.48L464.9 124.99L465.65 124.53L466.4 124.83L467.15 124.64L467.9 124.35L468.65 124.58L469.4 124.8L470.15 124.86L470.9 124.9L471.65 124.12L472.4 124.69L473.15 124.02L473.9 124.38L474.65 124.35L475.4 124.59L476.15 124.48L476.9 124.74L477.65 124.17L478.4 124.59L479.15 124.44L479.9 124.31L480.65 123.93L481.4 124.44L482.15 124.34L482.9 124.46L483.65 124.19L484.4 124.1L485.15 124.27L485.9 124.26L486.65 124.3L487.4 124.63L488.15 123.84L488.9 124.59L489.65 123.06L490.4 124.2L491.15 123.62L491.9 124.42L492.65 123.5L493.4 124.02L494.15 123.35L494.9 123.24L495.65 123.75L496.2 123.71L496.4 123.22L497.15 124.06L497.9 123.15L498.65 123.61L499.4 122.72L500.15 122.61L500.9 122.78L501 122.43L501.65 122.73L502.4 121.76L503.15 122.24L503.9 121.76L504.65 121.32L505.4 121.26L505.8 120.86L506.15 120.53L506.9 120.2L507.65 119.1L508.2 118.23L508.4 118.14L509.15 116.02L509.9 114.03L510.6 110.92L510.65 111L511.4 107.2L512.15 102.16L512.52 99.17L512.9 96.2L513.65 89.52L513.96 86.87L514.4 82L515.15 73.38L515.4 70.61L515.9 64.57L516.36 59.08L516.65 54.92L517.32 47.32L517.4 46.47L517.8 41.63L518.15 38.49L518.28 36.99L518.76 33.31L518.9 32.54L519.24 29.94L519.48 29.13L519.65 28.57L519.72 28.65L519.96 27.94L520.2 28.11L520.4 27.85L520.44 28L520.68 28.8L520.92 29.48L521.15 30.44L521.16 30.43L521.64 33.67L521.9 35.78L522.12 37.15L522.6 41.7L522.65 42.13L523.08 47.68L523.4 50.62L524.04 58.27L524.15 60.1L524.9 69.57L525 70.1L525.65 78.09L526.4 85.87L526.44 86.5L527.15 94.03L527.88 99.67L527.9 99.7L528.65 104.99L529.4 109.25L529.8 111.01L530.15 112.14L530.9 114.71L531.65 117.61L532.2 117.89L532.4 118.82L533.15 119.34L533.9 120.75L534.6 121.14L534.65 120.9L535.4 122.02L536.15 121.51L536.9 122L537.65 122.05L538.4 122.28L539.15 122.57L539.4 122.45L539.9 122.74L540.65 123.44L541.4 122.57L542.15 122.82L542.9 123.01L543.65 123.25L544.2 123.75L544.4 123.69L545.15 123.69L545.9 123.68L546.65 124.39L547.4 123.4L548.15 123.45L548.9 123.83L549.65 123.95L550.4 123.86L551.15 123.72L551.9 123.62L552.65 123.96L553.4 123.87L554.15 123.97L554.9 123.82L555.65 124.56L556.4 124.32L557.15 124.77L557.9 124.08L558.65 124.28L559.4 124.2L560.15 124.3L560.9 124.24L561.65 124.28L562.4 123.76L563.15 124.28L563.9 124.58L564.65 123.81L565.4 124.3L566.15 124.59L566.9 124.81L567.65 124.42L568.4 124.59L569.15 124.99L569.9 124.86L570.65 124.35L571.4 124.31L572.15 124.8L572.9 124.58L573.65 124.36L574.4 124.46L575.15 124.63L575.9 124.48L576.65 124.47L577.4 124.48L578.15 124.11L578.9 125.08L579.65 124.93L580.4 125.03L581.15 124.54L581.9 124.62L582.65 124.76L583.4 124.84L584.15 124.06L584.9 124.71L585.65 124.31L586.4 124.59L587.15 124.42L587.9 125.13L588.65 124.79L589.4 124.62L590.15 125.05L590.9 124.62L591.65 124.43L592.4 124.59L593.15 124.54L593.9 124.66L594.65 124.9L595.4 124.62L596.15 124.64L596.9 124.96L597.65 124.75L598.4 124.95L599.15 124.71L599.9 124.28L600.65 124.34L601.4 124.18L602.15 125.02L602.9 124.8L603.65 124.54L604.4 124.39L605.15 124.79L605.9 124.65L606.65 124.79L607.4 124.44L608.15 124.36L608.9 125.16L609.65 124.41L610.4 124.69L611.15 125.1L611.9 124.16L612.65 124.91L613.4 124.73L614.15 124.67L614.2 124.79" fill="none" stroke="#587a34" stroke-width="1.0" stroke-linejoin="round"/>
<line x1="94.7" y1="220.0" x2="114.1" y2="17.0" stroke="#111" stroke-width="1"/>
<polygon points="114.9,9.0 118.1,17.3 110.2,16.6" fill="#000"/>
<line x1="108.8" y1="508.5" x2="283.8" y2="308.5" stroke="#111" stroke-width="1"/>
<polygon points="291.0,300.2 287.1,311.4 280.4,305.5" fill="#000"/>
<line x1="417.8" y1="257.0" x2="439.5" y2="17.0" stroke="#111" stroke-width="1"/>
<polygon points="440.2,9.0 443.5,17.3 435.5,16.6" fill="#000"/>
<line x1="432.0" y1="510.2" x2="607.1" y2="308.8" stroke="#111" stroke-width="1"/>
<polygon points="613.0,302.0 610.3,311.5 603.9,306.0" fill="#000"/>
<rect x="293.6" y="9.1" width="60.19999999999999" height="136.9" fill="#fff" stroke="#8c8c8c" stroke-width="1"/>
<line x1="297" y1="18.4" x2="321" y2="18.4" stroke="#f3d8c4" stroke-width="0.9" stroke-opacity="0.8"/>
<circle cx="309.0" cy="18.4" r="1.0" fill="#f3d8c4"/>
<text x="323.0" y="24.0" font-size="15" fill="#1c1c1c" stroke="#1c1c1c" stroke-width="0.25">0%</text>
<line x1="297" y1="35.2" x2="321" y2="35.2" stroke="#3ee23c" stroke-width="0.9" stroke-opacity="0.8"/>
<circle cx="309.0" cy="35.2" r="1.0" fill="#3ee23c"/>
<text x="323.0" y="40.8" font-size="15" fill="#1c1c1c" stroke="#1c1c1c" stroke-width="0.25">2%</text>
<line x1="297" y1="52.1" x2="321" y2="52.1" stroke="#8080f2" stroke-width="0.9" stroke-opacity="0.8"/>
<circle cx="309.0" cy="52.1" r="1.0" fill="#8080f2"/>
<text x="323.0" y="57.7" font-size="15" fill="#1c1c1c" stroke="#1c1c1c" stroke-width="0.25">5%</text>
<line x1="297" y1="68.9" x2="321" y2="68.9" stroke="#2a1852" stroke-width="0.9" stroke-opacity="0.8"/>
<circle cx="309.0" cy="68.9" r="1.0" fill="#2a1852"/>
<text x="323.0" y="74.5" font-size="15" fill="#1c1c1c" stroke="#1c1c1c" stroke-width="0.25">10%</text>
<line x1="297" y1="85.7" x2="321" y2="85.7" stroke="#c41e2c" stroke-width="0.9" stroke-opacity="0.8"/>
<circle cx="309.0" cy="85.7" r="1.0" fill="#c41e2c"/>
<text x="323.0" y="91.3" font-size="15" fill="#1c1c1c" stroke="#1c1c1c" stroke-width="0.25">15%</text>
<line x1="297" y1="102.5" x2="321" y2="102.5" stroke="#363636" stroke-width="0.9" stroke-opacity="0.8"/>
<circle cx="309.0" cy="102.5" r="1.0" fill="#363636"/>
<text x="323.0" y="108.1" font-size="15" fill="#1c1c1c" stroke="#1c1c1c" stroke-width="0.25">20%</text>
<line x1="297" y1="119.4" x2="321" y2="119.4" stroke="#76d29a" stroke-width="0.9" stroke-opacity="0.8"/>
<circle cx="309.0" cy="119.4" r="1.0" fill="#76d29a"/>
<text x="323.0" y="125.0" font-size="15" fill="#1c1c1c" stroke="#1c1c1c" stroke-width="0.25">30%</text>
<line x1="297" y1="136.2" x2="321" y2="136.2" stroke="#a02e6e" stroke-width="0.9" stroke-opacity="0.8"/>
<circle cx="309.0" cy="136.2" r="1.0" fill="#a02e6e"/>
<text x="323.0" y="141.8" font-size="15" fill="#1c1c1c" stroke="#1c1c1c" stroke-width="0.25">40%</text>
<rect x="617.0" y="8.3" width="60.5" height="152.89999999999998" fill="#fff" stroke="#8c8c8c" stroke-width="1"/>
<line x1="620.2" y1="17.7" x2="644.9" y2="17.7" stroke="#5e9c22" stroke-width="0.9" stroke-opacity="0.8"/>
<circle cx="632.5" cy="17.7" r="1.0" fill="#5e9c22"/>
<text x="646.7" y="23.3" font-size="15" fill="#1c1c1c" stroke="#1c1c1c" stroke-width="0.25">0%</text>
<line x1="620.2" y1="34.5" x2="644.9" y2="34.5" stroke="#e0165e" stroke-width="0.9" stroke-opacity="0.8"/>
<circle cx="632.5" cy="34.5" r="1.0" fill="#e0165e"/>
<text x="646.7" y="40.1" font-size="15" fill="#1c1c1c" stroke="#1c1c1c" stroke-width="0.25">1%</text>
<line x1="620.2" y1="51.3" x2="644.9" y2="51.3" stroke="#a00c2a" stroke-width="0.9" stroke-opacity="0.8"/>
<circle cx="632.5" cy="51.3" r="1.0" fill="#a00c2a"/>
<text x="646.7" y="56.9" font-size="15" fill="#1c1c1c" stroke="#1c1c1c" stroke-width="0.25">2%</text>
<line x1="620.2" y1="68.1" x2="644.9" y2="68.1" stroke="#8a88dc" stroke-width="0.9" stroke-opacity="0.8"/>
<circle cx="632.5" cy="68.1" r="1.0" fill="#8a88dc"/>
<text x="646.7" y="73.7" font-size="15" fill="#1c1c1c" stroke="#1c1c1c" stroke-width="0.25">5%</text>
<line x1="620.2" y1="84.9" x2="644.9" y2="84.9" stroke="#f0c040" stroke-width="0.9" stroke-opacity="0.8"/>
<circle cx="632.5" cy="84.9" r="1.0" fill="#f0c040"/>
<text x="646.7" y="90.5" font-size="15" fill="#1c1c1c" stroke="#1c1c1c" stroke-width="0.25">10%</text>
<line x1="620.2" y1="101.7" x2="644.9" y2="101.7" stroke="#44e68a" stroke-width="0.9" stroke-opacity="0.8"/>
<circle cx="632.5" cy="101.7" r="1.0" fill="#44e68a"/>
<text x="646.7" y="107.3" font-size="15" fill="#1c1c1c" stroke="#1c1c1c" stroke-width="0.25">15%</text>
<line x1="620.2" y1="118.5" x2="644.9" y2="118.5" stroke="#c8101e" stroke-width="0.9" stroke-opacity="0.8"/>
<circle cx="632.5" cy="118.5" r="1.0" fill="#c8101e"/>
<text x="646.7" y="124.1" font-size="15" fill="#1c1c1c" stroke="#1c1c1c" stroke-width="0.25">20%</text>
<line x1="620.2" y1="135.3" x2="644.9" y2="135.3" stroke="#c98f9c" stroke-width="0.9" stroke-opacity="0.8"/>
<circle cx="632.5" cy="135.3" r="1.0" fill="#c98f9c"/>
<text x="646.7" y="140.9" font-size="15" fill="#1c1c1c" stroke="#1c1c1c" stroke-width="0.25">30%</text>
<line x1="620.2" y1="152.1" x2="644.9" y2="152.1" stroke="#587a34" stroke-width="0.9" stroke-opacity="0.8"/>
<circle cx="632.5" cy="152.1" r="1.0" fill="#587a34"/>
<text x="646.7" y="157.7" font-size="15" fill="#1c1c1c" stroke="#1c1c1c" stroke-width="0.25">40%</text>
<g font-family="Liberation Serif, serif" fill="#1c1c1c" stroke="#1c1c1c" stroke-width="0.25">
<text x="39.6" y="43.3" font-size="16" text-anchor="end">1.4</text>
<text x="39.6" y="113.5" font-size="16" text-anchor="end">1.2</text>
<text x="39.6" y="183.7" font-size="16" text-anchor="end">1</text>
<text x="39.6" y="253.9" font-size="16" text-anchor="end">0.8</text>
<text x="39.6" y="324.1" font-size="16" text-anchor="end">0.6</text>
<text x="39.6" y="394.3" font-size="16" text-anchor="end">0.4</text>
<text x="39.6" y="464.5" font-size="16" text-anchor="end">0.2</text>
<text x="51.9" y="542.4" font-size="16" text-anchor="middle">4</text>
<text x="375.1" y="542.4" font-size="16" text-anchor="middle">4</text>
<text x="116.8" y="542.4" font-size="16" text-anchor="middle">6</text>
<text x="440.1" y="542.4" font-size="16" text-anchor="middle">6</text>
<text x="181.7" y="542.4" font-size="16" text-anchor="middle">8</text>
<text x="505.1" y="542.4" font-size="16" text-anchor="middle">8</text>
<text x="246.6" y="542.4" font-size="16" text-anchor="middle">10</text>
<text x="570.1" y="542.4" font-size="16" text-anchor="middle">10</text>
<text x="311.5" y="542.4" font-size="16" text-anchor="middle">12</text>
<text x="635.1" y="542.4" font-size="16" text-anchor="middle">12</text>
<text x="169.6" y="563" font-size="17" textLength="66.6" lengthAdjust="spacingAndGlyphs">K [1/nm]</text>
<text x="492.9" y="563" font-size="17" textLength="66.6" lengthAdjust="spacingAndGlyphs">K [1/nm]</text>
<text transform="translate(14.8,295.6) rotate(-90)" font-size="17" textLength="65" lengthAdjust="spacingAndGlyphs">arb. units</text>
<text x="81.2" y="36" font-size="14.5" text-anchor="middle">111</text>
<text x="182.2" y="60.3" font-size="14.5" text-anchor="middle">200</text>
<text x="164" y="338.6" font-size="14.5" text-anchor="middle">220</text>
<text x="207" y="363.9" font-size="14.5" text-anchor="middle">311</text>
<text x="240.3" y="345" font-size="14.5" text-anchor="middle">222</text>
<text x="280" y="370.3" font-size="14.5" text-anchor="middle">400</text>
<text x="312.2" y="351.9" font-size="14.5" text-anchor="middle">331</text>
<text x="337.8" y="372" font-size="14.5" text-anchor="middle">420</text>
<text x="405" y="77.8" font-size="14.5" text-anchor="middle">111</text>
<text x="503.2" y="33.6" font-size="14.5" text-anchor="middle">200</text>
<text x="482.5" y="326.4" font-size="14.5" text-anchor="middle">220</text>
<text x="529.9" y="324.7" font-size="14.5" text-anchor="middle">311</text>
<text x="563.2" y="345.5" font-size="14.5" text-anchor="middle">222</text>
<text x="603.8" y="341.6" font-size="14.5" text-anchor="middle">400</text>
<text x="636.4" y="258.1" font-size="14.5" text-anchor="middle">331</text>
<text x="660.2" y="278.7" font-size="14.5" text-anchor="middle">420</text>
</g>
<g font-family="Liberation Sans, sans-serif" font-weight="bold" fill="#000" stroke="#000" stroke-width="0.3">
<text x="254.1" y="31.9" font-size="13.6" textLength="16" lengthAdjust="spacingAndGlyphs">Cu</text>
<text x="544.8" y="31.9" font-size="14.2" textLength="56.2" lengthAdjust="spacingAndGlyphs">Cu-1%Pb</text>
</g>
</svg></body></html>
